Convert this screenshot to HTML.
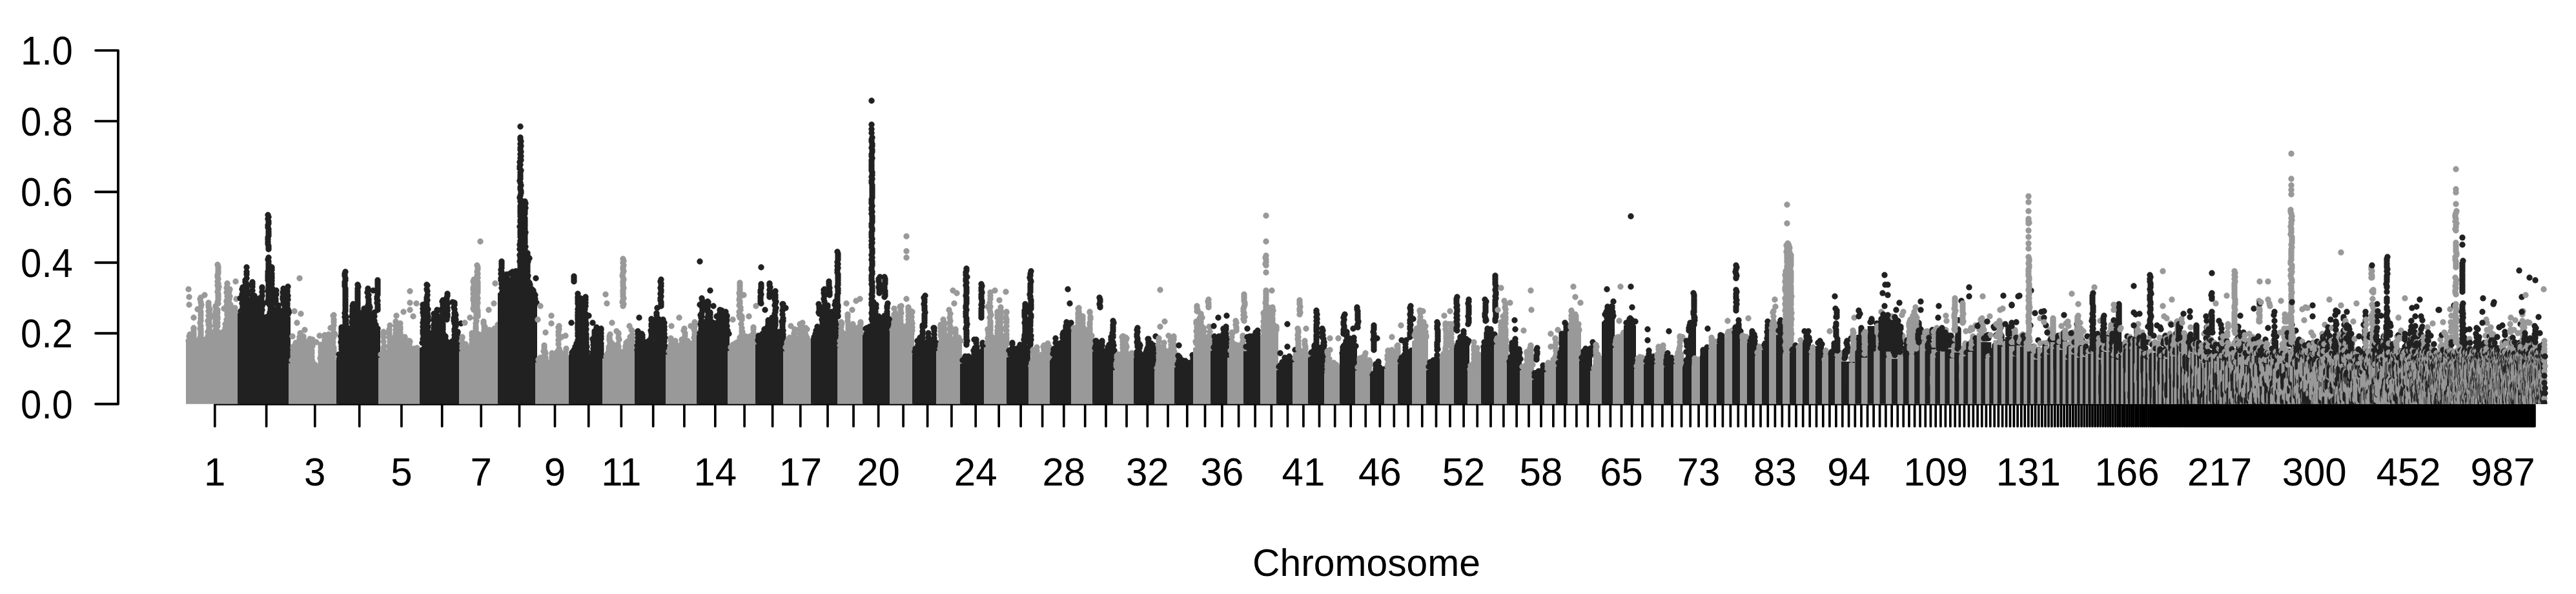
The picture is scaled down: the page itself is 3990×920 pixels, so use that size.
<!DOCTYPE html>
<html><head><meta charset="utf-8"><title>Manhattan plot</title>
<style>html,body{margin:0;padding:0;background:#fff;width:3990px;height:920px;overflow:hidden}svg{display:block}
text{font-family:"Liberation Sans",Arial,Helvetica,sans-serif;font-size:60px;fill:#000}</style></head>
<body><svg width="3990" height="920" viewBox="0 0 3990 920">
<rect width="3990" height="920" fill="#fff"/>
<defs><clipPath id="pc"><rect x="183" y="0" width="3807" height="625.8"/></clipPath></defs>
<path d="M332.8 625.8H3926" stroke="#000" stroke-width="4" fill="none"/>
<g stroke="#000" stroke-width="3.7" stroke-linecap="round" stroke-linejoin="round" fill="none"><path d="M332.8 625.8V660.2"/><path d="M412.6 625.8V660.2"/><path d="M487.8 625.8V660.2"/><path d="M556.7 625.8V660.2"/><path d="M621.9 625.8V660.2"/><path d="M684.7 625.8V660.2"/><path d="M745.2 625.8V660.2"/><path d="M804.5 625.8V660.2"/><path d="M859.5 625.8V660.2"/><path d="M911.7 625.8V660.2"/><path d="M962.3 625.8V660.2"/><path d="M1011.7 625.8V660.2"/><path d="M1059.9 625.8V660.2"/><path d="M1107.8 625.8V660.2"/><path d="M1153.1 625.8V660.2"/><path d="M1196.6 625.8V660.2"/><path d="M1239.8 625.8V660.2"/><path d="M1282 625.8V660.2"/><path d="M1322 625.8V660.2"/><path d="M1360.6 625.8V660.2"/><path d="M1399.1 625.8V660.2"/><path d="M1436.6 625.8V660.2"/><path d="M1473.9 625.8V660.2"/><path d="M1511.2 625.8V660.2"/><path d="M1547.2 625.8V660.2"/><path d="M1581.1 625.8V660.2"/><path d="M1614.6 625.8V660.2"/><path d="M1647.8 625.8V660.2"/><path d="M1680.7 625.8V660.2"/><path d="M1713 625.8V660.2"/><path d="M1745 625.8V660.2"/><path d="M1777.3 625.8V660.2"/><path d="M1809 625.8V660.2"/><path d="M1838.8 625.8V660.2"/><path d="M1866.5 625.8V660.2"/><path d="M1892.9 625.8V660.2"/><path d="M1918.6 625.8V660.2"/><path d="M1944.1 625.8V660.2"/><path d="M1969.3 625.8V660.2"/><path d="M1994.4 625.8V660.2"/><path d="M2018.9 625.8V660.2"/><path d="M2043.5 625.8V660.2"/><path d="M2067.7 625.8V660.2"/><path d="M2092.2 625.8V660.2"/><path d="M2115.2 625.8V660.2"/><path d="M2137.3 625.8V660.2"/><path d="M2159.3 625.8V660.2"/><path d="M2181.1 625.8V660.2"/><path d="M2202.8 625.8V660.2"/><path d="M2224.5 625.8V660.2"/><path d="M2246 625.8V660.2"/><path d="M2267.1 625.8V660.2"/><path d="M2288.2 625.8V660.2"/><path d="M2309 625.8V660.2"/><path d="M2328.9 625.8V660.2"/><path d="M2349.1 625.8V660.2"/><path d="M2368 625.8V660.2"/><path d="M2387 625.8V660.2"/><path d="M2405.9 625.8V660.2"/><path d="M2423.9 625.8V660.2"/><path d="M2441.9 625.8V660.2"/><path d="M2459.3 625.8V660.2"/><path d="M2477 625.8V660.2"/><path d="M2494.4 625.8V660.2"/><path d="M2511.5 625.8V660.2"/><path d="M2527.6 625.8V660.2"/><path d="M2543.8 625.8V660.2"/><path d="M2559.3 625.8V660.2"/><path d="M2574.9 625.8V660.2"/><path d="M2590 625.8V660.2"/><path d="M2604.5 625.8V660.2"/><path d="M2618.2 625.8V660.2"/><path d="M2631.1 625.8V660.2"/><path d="M2643.7 625.8V660.2"/><path d="M2656.2 625.8V660.2"/><path d="M2668.4 625.8V660.2"/><path d="M2680.4 625.8V660.2"/><path d="M2692.3 625.8V660.2"/><path d="M2704 625.8V660.2"/><path d="M2715.6 625.8V660.2"/><path d="M2727 625.8V660.2"/><path d="M2738.3 625.8V660.2"/><path d="M2749.4 625.8V660.2"/><path d="M2760.4 625.8V660.2"/><path d="M2771.3 625.8V660.2"/><path d="M2782 625.8V660.2"/><path d="M2792.7 625.8V660.2"/><path d="M2803.2 625.8V660.2"/><path d="M2813.5 625.8V660.2"/><path d="M2823.8 625.8V660.2"/><path d="M2833.9 625.8V660.2"/><path d="M2843.9 625.8V660.2"/><path d="M2853.8 625.8V660.2"/><path d="M2863.6 625.8V660.2"/><path d="M2873.3 625.8V660.2"/><path d="M2883 625.8V660.2"/><path d="M2892.6 625.8V660.2"/><path d="M2902.1 625.8V660.2"/><path d="M2911.6 625.8V660.2"/><path d="M2920.9 625.8V660.2"/><path d="M2930.2 625.8V660.2"/><path d="M2939.3 625.8V660.2"/><path d="M2948.2 625.8V660.2"/><path d="M2957 625.8V660.2"/><path d="M2965.6 625.8V660.2"/><path d="M2974.1 625.8V660.2"/><path d="M2982.3 625.8V660.2"/><path d="M2990.4 625.8V660.2"/><path d="M2998.2 625.8V660.2"/><path d="M3005.9 625.8V660.2"/><path d="M3013.4 625.8V660.2"/><path d="M3020.9 625.8V660.2"/><path d="M3028.2 625.8V660.2"/><path d="M3035.4 625.8V660.2"/><path d="M3042.5 625.8V660.2"/><path d="M3049.5 625.8V660.2"/><path d="M3056.4 625.8V660.2"/><path d="M3063.1 625.8V660.2"/><path d="M3069.8 625.8V660.2"/><path d="M3076.4 625.8V660.2"/><path d="M3082.8 625.8V660.2"/><path d="M3089.2 625.8V660.2"/><path d="M3095.4 625.8V660.2"/><path d="M3101.6 625.8V660.2"/><path d="M3107.6 625.8V660.2"/><path d="M3113.5 625.8V660.2"/><path d="M3119.4 625.8V660.2"/><path d="M3125.1 625.8V660.2"/><path d="M3130.8 625.8V660.2"/><path d="M3136.3 625.8V660.2"/><path d="M3141.8 625.8V660.2"/><path d="M3147.2 625.8V660.2"/><path d="M3152.5 625.8V660.2"/><path d="M3157.7 625.8V660.2"/><path d="M3162.9 625.8V660.2"/><path d="M3168 625.8V660.2"/><path d="M3173 625.8V660.2"/><path d="M3177.9 625.8V660.2"/><path d="M3182.8 625.8V660.2"/><path d="M3187.6 625.8V660.2"/><path d="M3192.4 625.8V660.2"/><path d="M3197.1 625.8V660.2"/><path d="M3201.8 625.8V660.2"/><path d="M3206.3 625.8V660.2"/><path d="M3210.9 625.8V660.2"/><path d="M3215.3 625.8V660.2"/><path d="M3219.7 625.8V660.2"/><path d="M3224.1 625.8V660.2"/><path d="M3228.4 625.8V660.2"/><path d="M3232.7 625.8V660.2"/><path d="M3236.9 625.8V660.2"/><path d="M3241 625.8V660.2"/><path d="M3245.1 625.8V660.2"/><path d="M3249.2 625.8V660.2"/><path d="M3253.2 625.8V660.2"/><path d="M3257.2 625.8V660.2"/><path d="M3261.1 625.8V660.2"/><path d="M3265 625.8V660.2"/><path d="M3268.8 625.8V660.2"/><path d="M3272.6 625.8V660.2"/><path d="M3276.4 625.8V660.2"/><path d="M3280.1 625.8V660.2"/><path d="M3283.7 625.8V660.2"/><path d="M3287.4 625.8V660.2"/><path d="M3290.9 625.8V660.2"/><path d="M3294.5 625.8V660.2"/><path d="M3298 625.8V660.2"/><path d="M3301.5 625.8V660.2"/><path d="M3304.9 625.8V660.2"/><path d="M3308.3 625.8V660.2"/><path d="M3311.7 625.8V660.2"/><path d="M3315.1 625.8V660.2"/><path d="M3318.4 625.8V660.2"/><path d="M3321.6 625.8V660.2"/><path d="M3324.9 625.8V660.2"/><path d="M3328.1 625.8V660.2"/><path d="M3331.3 625.8V660.2"/><path d="M3334.4 625.8V660.2"/><path d="M3337.5 625.8V660.2"/><path d="M3340.6 625.8V660.2"/><path d="M3343.7 625.8V660.2"/><path d="M3346.7 625.8V660.2"/><path d="M3349.7 625.8V660.2"/><path d="M3352.7 625.8V660.2"/><path d="M3355.7 625.8V660.2"/><path d="M3358.6 625.8V660.2"/><path d="M3361.5 625.8V660.2"/><path d="M3364.4 625.8V660.2"/><path d="M3367.2 625.8V660.2"/><path d="M3370 625.8V660.2"/><path d="M3372.8 625.8V660.2"/><path d="M3375.6 625.8V660.2"/><path d="M3378.4 625.8V660.2"/><path d="M3381.1 625.8V660.2"/><path d="M3383.8 625.8V660.2"/><path d="M3386.5 625.8V660.2"/><path d="M3389.1 625.8V660.2"/><path d="M3391.8 625.8V660.2"/><path d="M3394.4 625.8V660.2"/><path d="M3397 625.8V660.2"/><path d="M3399.6 625.8V660.2"/><path d="M3402.1 625.8V660.2"/><path d="M3404.6 625.8V660.2"/><path d="M3407.1 625.8V660.2"/><path d="M3409.6 625.8V660.2"/><path d="M3412.1 625.8V660.2"/><path d="M3414.6 625.8V660.2"/><path d="M3417 625.8V660.2"/><path d="M3419.4 625.8V660.2"/><path d="M3421.8 625.8V660.2"/><path d="M3424.2 625.8V660.2"/><path d="M3426.6 625.8V660.2"/><path d="M3428.9 625.8V660.2"/><path d="M3431.2 625.8V660.2"/><path d="M3433.5 625.8V660.2"/><path d="M3435.8 625.8V660.2"/><path d="M3438.1 625.8V660.2"/><path d="M3440.4 625.8V660.2"/><path d="M3442.6 625.8V660.2"/><path d="M3444.8 625.8V660.2"/><path d="M3447.1 625.8V660.2"/><path d="M3449.3 625.8V660.2"/><path d="M3451.5 625.8V660.2"/><path d="M3453.6 625.8V660.2"/><path d="M3455.8 625.8V660.2"/><path d="M3458 625.8V660.2"/><path d="M3460.1 625.8V660.2"/><path d="M3462.2 625.8V660.2"/><path d="M3464.3 625.8V660.2"/><path d="M3466.4 625.8V660.2"/><path d="M3468.5 625.8V660.2"/><path d="M3470.6 625.8V660.2"/><path d="M3472.6 625.8V660.2"/><path d="M3474.7 625.8V660.2"/><path d="M3476.7 625.8V660.2"/><path d="M3478.7 625.8V660.2"/><path d="M3480.8 625.8V660.2"/><path d="M3482.8 625.8V660.2"/><path d="M3484.7 625.8V660.2"/><path d="M3486.7 625.8V660.2"/><path d="M3488.7 625.8V660.2"/><path d="M3490.6 625.8V660.2"/><path d="M3492.6 625.8V660.2"/><path d="M3494.5 625.8V660.2"/><path d="M3496.4 625.8V660.2"/><path d="M3498.3 625.8V660.2"/><path d="M3500.2 625.8V660.2"/><path d="M3502 625.8V660.2"/><path d="M3503.9 625.8V660.2"/><path d="M3505.8 625.8V660.2"/><path d="M3507.6 625.8V660.2"/><path d="M3509.4 625.8V660.2"/><path d="M3511.2 625.8V660.2"/><path d="M3513.1 625.8V660.2"/><path d="M3514.8 625.8V660.2"/><path d="M3516.6 625.8V660.2"/><path d="M3518.4 625.8V660.2"/><path d="M3520.2 625.8V660.2"/><path d="M3521.9 625.8V660.2"/><path d="M3523.6 625.8V660.2"/><path d="M3525.4 625.8V660.2"/><path d="M3527.1 625.8V660.2"/><path d="M3528.8 625.8V660.2"/><path d="M3530.5 625.8V660.2"/><path d="M3532.2 625.8V660.2"/><path d="M3533.8 625.8V660.2"/><path d="M3535.5 625.8V660.2"/><path d="M3537.2 625.8V660.2"/><path d="M3538.8 625.8V660.2"/><path d="M3540.4 625.8V660.2"/><path d="M3542 625.8V660.2"/><path d="M3543.7 625.8V660.2"/><path d="M3545.2 625.8V660.2"/><path d="M3546.8 625.8V660.2"/><path d="M3548.4 625.8V660.2"/><path d="M3550 625.8V660.2"/><path d="M3551.5 625.8V660.2"/><path d="M3553.1 625.8V660.2"/><path d="M3554.6 625.8V660.2"/><path d="M3556.2 625.8V660.2"/><path d="M3557.7 625.8V660.2"/><path d="M3559.2 625.8V660.2"/><path d="M3560.7 625.8V660.2"/><path d="M3562.2 625.8V660.2"/><path d="M3563.6 625.8V660.2"/><path d="M3565.1 625.8V660.2"/><path d="M3566.6 625.8V660.2"/><path d="M3568 625.8V660.2"/><path d="M3569.5 625.8V660.2"/><path d="M3570.9 625.8V660.2"/><path d="M3572.3 625.8V660.2"/><path d="M3573.7 625.8V660.2"/><path d="M3575.1 625.8V660.2"/><path d="M3576.5 625.8V660.2"/><path d="M3577.9 625.8V660.2"/><path d="M3579.3 625.8V660.2"/><path d="M3580.7 625.8V660.2"/><path d="M3582 625.8V660.2"/><path d="M3583.4 625.8V660.2"/><path d="M3584.7 625.8V660.2"/><rect x="3582.8" y="625.8" width="345" height="36.2" rx="1.8" fill="#000" stroke="none"/></g>
<g clip-path="url(#pc)" stroke-width="9.4" stroke-linecap="round" fill="none">
<path d="M288 629 288 528 290 528 292 529 294 530 296 530 298 530 300 531 302 531 304 531 306 531 308 531 310 531 312 531 314 531 316 531 318 531 320 531 322 531 324 531 326 531 328 531 330 531 332 530 334 529 336 528 338 527 340 526 342 525 344 524 346 522 348 520 350 516 352 514 354 510 356 508 358 507 360 506 362 505 364 503 366 502 368 501 371 501 371 629Z" fill="#999999"/>
<path d="M292 528h0m2 2h0m4-3h0m3 2h0m1-2h0m3 1h0m3 1h0m2-2h0m4 4h0m2-4h0m4 6h0m1-4h0m2 1h0m4-1h0m1-4h0m3 0h0m3 2h0m2-2h0m4-3h0m2 1h0m3-3h0m3 2h0m1-11h0m4-3h0m3-4h0m1 7h0m3-8h0m3-3h0m2-3h0m3-3h0m-9 10h0m0-6h0m0-2h0m-3 9h0m-1-5h0m1-6h0m0-7h0m0-4h0m-1-6h0m0-5h0m0-3h0m0-6h0m1-4h0m-1-7h0m1-4h0m-21 78h0m-1-6h0m0-5h0m1-7h0m-1-3h0m0-4h0m0-5h0m-1-4h0m1-5h0m0-4h0m30 17h0m1-5h0m0-4h0m0-6h0m-1-6h0m0-2h0m-64 51h0m0-3h0m0-4h0m0-3h0m0-4h0m0-4h0m0-2h0m39 16h0m0-3h0m-18 7h0m-1-3h0m7 3h0m1-3h0m0-4h0m-1-4h0m1-2h0m5 12h0m0-3h0m-1 0h0m25-20h0m0-4h0m1-6h0m-1-6h0m1-4h0m0-3h0m-1 24h0m0-6h0m0-5h0m-1-3h0m1-4h0m1-6h0m0-5h0m-1-4h0m7 28h0m0-4h0m1-4h0m0-1h0m-9 14h0m-1-6h0m2-5h0m-1-2h0m-7 23h0m0-6h0m1-7h0m-1 0h0m-26 26h0m-1-4h0m1-3h0m-1-7h0m2-6h0m-1-5h0m-1-6h0m2-3h0m-1-5h0m0-7h0m0-7h0m0-3h0m0-3h0m-13 59h0m0-5h0m1-6h0m0-5h0m0-2h0m13 18h0m0-5h0m0-3h0m0-4h0m0-6h0m1-5h0m-1-5h0m0-5h0m0-6h0m0-6h0m1-4h0m-1-1h0m12 48h0m-1-5h0m0-5h0m0-6h0m0-5h0m0-7h0m0-1h0m29 4h0m0-6h0m-9 10h0m1-3h0m-58 26h0m0-6h0m53-11h0m1-6h0m0-4h0m-1-6h0m1-7h0m0-5h0m-1-6h0m1-5h0m-1-5h0m1-2h0m-5 53h0m0-1h0m-53 10h0m-1-6h0m1-3h0m58-8h0m-1-4h0m1-6h0m0-3h0m1-7h0m-1-4h0m0-7h0m-1-5h0m1-4h0m-1-4h0m1-7h0m-1-6h0m0-7h0m1-6h0m0-1h0m-18 87h0m0-4h0m0-3h0m0-4h0m0-4h0m1-4h0m-1-4h0m0-4h0m0-3h0m1-3h0m-1-5h0m1-5h0m0-4h0m-1-4h0m0-1h0m-11 54h0m-1-7h0m1-6h0m-1-1h0m1 14h0m0-4h0m0-5h0m-12 9h0m1-4h0m46-20h0m0-4h0m0-5h0m0-5h0m1-6h0m-1-2h0m-47 46h0m-1-4h0m1-5h0m0-5h0m-1-5h0m1-4h0m-1-5h0m1-3h0m0-4h0m0-5h0m0-5h0m0-7h0m1-4h0m-1-4h0m-1-5h0m1-2h0m49 42h0m-1-6h0m1-5h0m0-7h0m0-2h0m-23 42h0m-1-6h0m0-3h0m0-4h0m1-7h0m0-5h0m0-6h0m0-3h0m0-6h0m0-5h0m6 42h0m-1-1h0m-43 7h0m0-4h0m-1-3h0m32 7h0m0-6h0m0-4h0m11 5h0m0-2h0m8-5h0m-1-4h0m1-4h0m0 0h0m-5 14h0m0-5h0m0-2h0m17-12h0m-1-5h0m-23-88h0m1 3h0m0 3h0m0 4h0m0 3h0m-1 3h0m0 3h0m1 3h0m-1 4h0m1 3h0m-1 3h0m1 3h0m0 3h0m-1 4h0m1 3h0m0 3h0m0 3h0m0 3h0m-1 4h0m1 2h0m16-18h0m0 3h0m-1 3h0m0 4h0m1 3h0m0 3h0m-1 3h0m0 3h0m0 4h0m0 3h0m1 3h0m-1 3h0m1 3h0m-62-42h0m1 12h0m0 12h0m13 7h0m11-22h0m22-13h0m26-8h0m1 27h0m-66 29h0m26-4h0m21-10h0" stroke="#999999"/>
<path d="M368 629 368 485 370 485 372 485 374 484 376 484 378 484 380 484 382 483 384 483 386 487 388 494 390 501 392 508 394 508 396 509 398 509 400 510 402 510 404 511 406 509 408 504 410 500 412 495 414 494 416 494 418 493 420 493 422 492 424 491 426 491 428 490 430 489 432 488 434 487 436 487 438 486 440 485 442 487 444 488 446 490 450 491 450 629Z" fill="#212121"/>
<path d="M373 482h0m3-2h0m2 3h0m2-4h0m3 5h0m2-2h0m3 10h0m2 10h0m4 2h0m2 8h0m2-7h0m3 2h0m4 4h0m2-9h0m3 0h0m2-10h0m1-1h0m4-3h0m3 2h0m3 0h0m1-4h0m3 1h0m3 1h0m3-3h0m2-3h0m2 0h0m3 2h0m3 6h0m2 4h0m3-11h0m-66-3h0m1-4h0m-4 5h0m1-6h0m-1 0h0m24 33h0m0-5h0m0-3h0m0-3h0m-21-17h0m0-6h0m0-4h0m0-4h0m24 40h0m-1-6h0m1-4h0m0-6h0m-1-5h0m1-5h0m0-6h0m-1-7h0m0-4h0m1-5h0m0-6h0m0-6h0m0-1h0m8 46h0m0 0h0m27-8h0m0-4h0m0-5h0m-1-4h0m1-5h0m0-3h0m-52 33h0m0-4h0m1-7h0m-1-6h0m0-1h0m2 25h0m-1-5h0m1-5h0m0-4h0m1-6h0m-2-4h0m1-4h0m0-6h0m0-6h0m0-5h0m0-7h0m0-6h0m0-4h0m0-3h0m52 48h0m0-4h0m1-6h0m-1-3h0m0-1h0m1 15h0m1-3h0m-43 24h0m1-6h0m-1-6h0m1-4h0m-2-6h0m1-6h0m0-4h0m-1-4h0m1-4h0m0-5h0m-21 18h0m1-4h0m0-6h0m0-4h0m0-4h0m0-4h0m-1-6h0m1-5h0m-1-6h0m0-3h0m1-7h0m0-6h0m0-4h0m0-7h0m0 0h0m44 74h0m0-3h0m0-5h0m-7 10h0m1-4h0m0-7h0m-1-5h0m1-4h0m-1-7h0m1-6h0m0-7h0m0-5h0m0-4h0m-1-6h0m1-3h0m8 55h0m1-4h0m0-2h0m17 6h0m-1-4h0m1-4h0m-1-6h0m0-3h0m1-6h0m0-6h0m-1-6h0m0-6h0m1-2h0m-46 63h0m0-4h0m1-4h0m-1-5h0m1-5h0m-1-5h0m0-4h0m21 9h0m1-5h0m0-6h0m-1-3h0m0-4h0m0-7h0m0-6h0m0-7h0m1-4h0m-1-7h0m0-5h0m0-4h0m0-3h0m0-4h0m0-6h0m0-3h0m0-1h0m-35 71h0m1-6h0m-1-1h0m-6 3h0m0-6h0m1-4h0m-1 0h0m14 34h0m0-4h0m0-3h0m10 10h0m-1-5h0m0-6h0m1-3h0m0-4h0m0-5h0m-1-5h0m1-3h0m0-5h0m0-4h0m0 0h0m6 28h0m0-3h0m31-10h0m0-2h0m3 5h0m1-5h0m0 5h0m0-6h0m0-7h0m-27 17h0m0-6h0m1-5h0m-1-6h0m1-4h0m0-5h0m-1-4h0m1-5h0m20 27h0m0-1h0m-64 0h0m1-5h0m-1-6h0m1-4h0m0-5h0m-1-5h0m1-3h0m-1-5h0m1-3h0m54 41h0m0-5h0m1-4h0m0-3h0m0-1h0m-56 8h0m1-6h0m-1-5h0m1-5h0m0-4h0m8 19h0m-1-6h0m0-3h0m0-5h0m-1-7h0m1-6h0m0-3h0m-1-7h0m1-2h0m10 64h0m1-5h0m-1-4h0m0-5h0m0-3h0m1-3h0m0-6h0m0-4h0m-1-3h0m0-1h0m7 36h0m0-6h0m0-3h0m-1-6h0m0-6h0m1-7h0m0-4h0m-1-5h0m0-5h0m-23 16h0m1-6h0m0-5h0m-1-4h0m0-3h0m0-6h0m1-5h0m-1-3h0m0-2h0m-2 34h0m0 0h0m25 26h0m0-5h0m-11-12h0m0-3h0m-1-4h0m1-4h0m0-6h0m0-2h0m-8-37h0m0 3h0m1 3h0m0 4h0m-1 3h0m1 3h0m-1 3h0m1 3h0m0 4h0m-1 3h0m1 3h0m-1 3h0m1 3h0m-1 4h0m0 3h0m0 1h0m35-147h0m1 3h0m-1 3h0m1 4h0m0 3h0m-1 3h0m0 3h0m1 3h0m0 4h0m0 3h0m0 3h0m-1 3h0m0 3h0m0 4h0m0 3h0m1 3h0m0 3h0m0 2h0m0 13h0m-1 3h0m1 3h0m0 4h0m0 3h0m0 3h0m0 3h0m-1 3h0m0 4h0m0 3h0m0 3h0m0 3h0m1 3h0m0 4h0m0 3h0m0 3h0m-1 3h0m1 3h0m0 4h0m0 3h0m0 3h0m-1 3h0m1 3h0m0 1h0m12-20h0m-1 3h0m1 3h0m-2 4h0m1 3h0m0 3h0m0 3h0m0 1h0m12-23h0m0 3h0m-1 3h0m1 4h0m-1 3h0m0 3h0m1 3h0m0 3h0m0 1h0m-31 0h0m-14-12h0m-22 4h0m73-12h0" stroke="#212121"/>
<path d="M447 629 447 562 449 563 451 564 453 565 455 566 457 567 459 568 461 569 463 569 465 570 467 570 469 570 471 570 473 571 475 571 477 571 479 572 481 572 483 572 485 572 487 573 489 573 491 573 493 572 495 572 497 571 499 571 501 570 503 570 505 569 507 569 509 568 511 568 513 567 515 567 517 566 519 566 521 565 524 565 524 629Z" fill="#999999"/>
<path d="M452 558h0m2-1h0m4 6h0m1-2h0m4 3h0m1 2h0m4 6h0m1-2h0m3 2h0m3 0h0m2-3h0m4 0h0m2-1h0m2-2h0m3 1h0m3 6h0m3 1h0m3-3h0m2-2h0m1-1h0m3 1h0m4-7h0m3 2h0m1-1h0m2 1h0m3-3h0m3 3h0m2-2h0m-20 5h0m0-7h0m0-2h0m-7 11h0m1-1h0m11-2h0m-1-5h0m0-3h0m-47 7h0m0-3h0m1-6h0m-1-3h0m0-5h0m0-4h0m0-4h0m1-4h0m-1-4h0m0-1h0m28 38h0m0-2h0m21-1h0m-1-6h0m0-4h0m0-7h0m0-6h0m0-1h0m-36 25h0m0-4h0m0-4h0m0-5h0m0-6h0m0-5h0m0-3h0m0-6h0m0-4h0m0-6h0m0-3h0m13 48h0m0-4h0m1-5h0m-1-4h0m0-4h0m0-5h0m0-4h0m1-7h0m0-4h0m0-3h0m0-3h0m23 40h0m0-4h0m-1-4h0m0-4h0m1-5h0m0-5h0m0-5h0m-23 30h0m0-3h0m19 1h0m0-6h0m0-4h0m1-6h0m-1-6h0m0-7h0m0-5h0m0-5h0m0-3h0m0-6h0m0 0h0m-34 48h0m0-5h0m0-6h0m47 7h0m0-4h0m-37 9h0m0-3h0m0-3h0m0-7h0m9 15h0m0-2h0m14-1h0m-1-6h0m1-5h0m-1-3h0m-2 15h0m1-4h0m-1-4h0m0-2h0m-20 11h0m0-1h0m21-1h0m0-4h0m0-4h0m-11 11h0m-1-5h0m0 0h0m18 1h0m0-5h0m0-4h0m0-4h0m0-6h0m-1-5h0m0-6h0m1-3h0m-30 35h0m0-4h0m0-5h0m1-3h0m-1-4h0m0-4h0m0-5h0m0-6h0m1-6h0m-1-1h0m33 35h0m1-3h0m-2-6h0m2-3h0m-1-6h0m0-3h0m0-4h0m0-4h0m0-7h0m1-4h0m-1-5h0m0-2h0m5 46h0m0-4h0m0-5h0m0-5h0m-1-5h0m0-4h0m0-5h0m1-3h0m-52 33h0m0-5h0m0-3h0m0-5h0m0 0h0m48 12h0m-1-7h0m1-3h0m-14 14h0m0-1h0m21-5h0m-1-5h0m0-3h0m-62 8h0m1-5h0m-1-4h0m0-5h0m0-4h0m0-5h0m0-3h0m18 31h0m0-5h0m1-5h0m-1-6h0m0-4h0m0-5h0m0-5h0m0-3h0m0-3h0m17 38h0m0-1h0m-24-2h0m0-6h0m0-7h0m0-5h0m0-6h0m-1-6h0m1-5h0m-1-6h0m0-4h0m1-6h0m0 0h0m13 52h0m-1-5h0m0-4h0m0-4h0m1-6h0m-1-3h0m0-3h0m0-7h0m0-2h0m5 35h0m1 0h0m34-6h0m-1-5h0m0-5h0m0-4h0m1-3h0m0-3h0m0-4h0m-1-3h0m0-6h0m0-6h0m1-3h0m0-6h0m-1-6h0m1-5h0m0-5h0m0-4h0m-1-6h0m1-1h0m-21 80h0m1-4h0m0-4h0m-1-5h0m1-4h0m0-5h0m0-3h0m0-5h0m0-4h0m-16 35h0m0-7h0m0-3h0m-17-128h0m-8 51h0m10 4h0m-13 35h0m19-10h0m32 10h0m15-3h0m-39 7h0m10 5h0m-30-30h0m52 8h0m-17 12h0" stroke="#999999"/>
<path d="M521 629 521 554 523 551 525 547 527 544 529 541 531 538 533 537 535 536 537 534 539 533 541 532 543 530 545 529 547 528 549 527 551 526 553 525 555 524 557 523 559 522 561 521 563 520 565 519 567 518 569 517 571 516 573 515 575 514 577 514 579 513 581 513 583 513 585 512 589 512 589 629Z" fill="#212121"/>
<path d="M525 549h0m4-8h0m3-7h0m2 3h0m3-7h0m2-1h0m3-3h0m2 3h0m3-3h0m1-4h0m3-3h0m4 4h0m3 1h0m2-4h0m3-5h0m2 0h0m3-3h0m2-4h0m2 0h0m3 2h0m3 2h0m3-3h0m2-1h0m2 1h0m-14 4h0m0-3h0m0-7h0m1-5h0m-1-6h0m0-5h0m0-4h0m0-4h0m0-3h0m-11 42h0m-1-3h0m1-7h0m0-2h0m3 10h0m1-5h0m-1-5h0m2-3h0m-1-7h0m0-5h0m0-6h0m0-5h0m9 32h0m-2-4h0m1-3h0m-1-4h0m1-5h0m1-5h0m-2-6h0m1-6h0m1-3h0m-1-3h0m-12 45h0m0-6h0m-1-4h0m1-7h0m-1-4h0m1-3h0m-13 31h0m-1-6h0m1-7h0m1-5h0m-2-3h0m2-6h0m-1-6h0m0-5h0m0-4h0m-1-4h0m0-5h0m1-3h0m-13 62h0m0-6h0m1-3h0m0-4h0m0-6h0m-1-4h0m1-3h0m-1 0h0m29 9h0m1-6h0m-1-5h0m1-3h0m-35 35h0m1-3h0m-1-4h0m0-4h0m0-6h0m0-4h0m1-4h0m0-4h0m-1 0h0m50 2h0m0-5h0m0-4h0m1-4h0m0-7h0m-1-4h0m1-2h0m-51 53h0m-1-7h0m1-6h0m-1-3h0m1-7h0m0-3h0m0-4h0m9 23h0m1-4h0m-1-5h0m0-4h0m1-5h0m0-2h0m-1 21h0m0-7h0m0-3h0m0-6h0m0-6h0m0-1h0m8 18h0m-1-5h0m1-7h0m0-7h0m0-3h0m-1-5h0m1-4h0m0-3h0m0-5h0m0-4h0m0-1h0m32 28h0m0-4h0m0-3h0m0-2h0m-22 19h0m-1-5h0m0-7h0m0-3h0m1-1h0m18 7h0m1-1h0m-37 21h0m-1 0h0m20-12h0m1-6h0m-1-3h0m0-5h0m0-4h0m0-5h0m0-5h0m21 20h0m0-4h0m-42 25h0m-1-4h0m1-7h0m0-4h0m-1-6h0m0-4h0m1-5h0m0-6h0m0-5h0m41 20h0m0-2h0m5 1h0m0-6h0m0-1h0m-52 33h0m-1-3h0m1-7h0m0-3h0m34-7h0m-1-6h0m1-6h0m0-6h0m0-5h0m0-5h0m0-5h0m0-5h0m-21 49h0m0-3h0m0-5h0m14 1h0m-1-5h0m1-3h0m-24 22h0m0-5h0m1-3h0m0-1h0m29-8h0m0-4h0m0-5h0m-1-5h0m0-4h0m0-2h0m-5 23h0m-1-3h0m0-7h0m1-1h0m-1 11h0m0-4h0m-1-3h0m0 0h0m-3 9h0m0-1h0m-17-100h0m-1 3h0m0 3h0m1 4h0m0 3h0m-1 3h0m0 3h0m0 3h0m1 4h0m0 3h0m0 3h0m0 3h0m0 3h0m0 4h0m0 3h0m0 3h0m0 3h0m0 3h0m0 4h0m0 3h0m-1 3h0m1 3h0m-1 3h0m1 4h0m0 3h0m0 3h0m0 3h0m0 3h0m0 4h0m0 0h0m19-70h0m1 3h0m-1 3h0m0 4h0m0 3h0m0 3h0m0 3h0m0 3h0m0 4h0m0 3h0m0 3h0m0 3h0m0 3h0m1 4h0m-1 3h0m0 3h0m-1 3h0m1 3h0m-1 4h0m1 1h0m16-53h0m0 3h0m-1 3h0m2 4h0m-1 3h0m1 3h0m0 3h0m0 3h0m-1 4h0m0 3h0m1 3h0m-2 3h0m0 3h0m1 4h0m0 1h0m15-56h0m0 3h0m0 3h0m0 4h0m0 3h0m0 3h0m0 3h0m0 3h0m-1 4h0m0 3h0m1 3h0m-1 3h0m1 3h0m0 4h0m0 3h0m0 1h0m-7-30h0m-33 40h0m15-5h0" stroke="#212121"/>
<path d="M586 629 586 554 588 554 590 554 592 554 594 554 596 554 598 554 600 554 602 554 604 554 606 554 608 554 610 554 612 554 614 554 616 554 618 554 620 554 622 554 624 553 626 553 628 553 630 552 632 552 634 552 636 551 638 551 640 551 642 550 644 550 646 550 648 549 650 549 653 549 653 629Z" fill="#999999"/>
<path d="M590 549h0m3 4h0m3 3h0m2-9h0m3-2h0m2 0h0m3 7h0m3-2h0m3 2h0m1-4h0m4 1h0m3-2h0m3 2h0m1 2h0m3-3h0m2 1h0m4-2h0m3 0h0m2 4h0m3-3h0m1-1h0m3 0h0m4-4h0m1 1h0m-30 7h0m0-6h0m0-7h0m0 0h0m-22 13h0m0-3h0m-1 3h0m0-3h0m29 2h0m1-3h0m0-5h0m0-4h0m-1-4h0m1-7h0m0-4h0m0-1h0m-33 29h0m0-7h0m0-5h0m1-3h0m-1-7h0m0-7h0m0-4h0m0-4h0m26 37h0m0-5h0m0-3h0m0-7h0m0-6h0m0-4h0m1-4h0m-1-4h0m0-3h0m0-5h0m0-3h0m0-6h0m-9 50h0m0-4h0m1-1h0m18 3h0m0-6h0m0-1h0m10 6h0m0-3h0m-2 3h0m0-3h0m-25 6h0m0-7h0m0-4h0m0-3h0m1-4h0m-1-6h0m0-4h0m1-3h0m-1-4h0m0-5h0m0-6h0m0-6h0m0-1h0m0 53h0m1-1h0m-5 1h0m1-5h0m-1-5h0m0-4h0m0-3h0m1-1h0m-2 18h0m0-6h0m-1-3h0m-9 9h0m1-5h0m31 3h0m0-5h0m0-2h0m11 6h0m-1-4h0m1-4h0m-7 9h0m0-4h0m0-3h0m0-5h0m0-4h0m1-4h0m-1-1h0m-1 21h0m0-5h0m-21 7h0m-1 0h0m-3 0h0m0-1h0m-15 1h0m1-5h0m10 5h0m-1-3h0m1-5h0m-1-6h0m1-4h0m0-4h0m-1-6h0m0-6h0m0-5h0m0-2h0m14 41h0m-1-4h0m0-3h0m0-5h0m-9 12h0m-1-6h0m0-4h0m0-3h0m9 13h0m0-4h0m0 0h0m-10 4h0m0-5h0m41 1h0m0-7h0m0-1h0m-35 12h0m-1-6h0m1-6h0m0-5h0m-1-6h0m0-4h0m0-1h0m-16 28h0m0-5h0m23 5h0m0-2h0m-5 2h0m1-3h0m-1 0h0m-8-44h0m10-15h0m21-38h0m0 18h0m0 11h0m-10 3h0m15 7h0m-45 25h0m50-45h0" stroke="#999999"/>
<path d="M650 629 650 539 652 538 654 536 656 535 658 534 660 532 662 531 664 530 666 529 668 530 670 530 672 530 674 531 676 531 678 532 680 532 682 532 684 533 686 533 688 534 690 534 692 534 694 535 696 535 698 536 700 536 702 537 704 537 706 538 708 538 710 539 714 539 714 629Z" fill="#212121"/>
<path d="M654 531h0m3-7h0m2 3h0m3 1h0m3 4h0m3-5h0m3 3h0m1-4h0m3 2h0m4 1h0m2 0h0m3 2h0m3 1h0m2-2h0m3 1h0m1-1h0m4 1h0m2 4h0m2 0h0m2-2h0m4-1h0m3 0h0m3 7h0m-30-9h0m0-4h0m-24 4h0m1-5h0m-1-3h0m0-5h0m0-6h0m1-6h0m-1-2h0m20 26h0m0-5h0m0-3h0m1 8h0m-1-7h0m0-4h0m0-5h0m0-4h0m0-4h0m0-2h0m28 32h0m-1-7h0m-1-6h0m1-6h0m0-4h0m0-7h0m0-6h0m0-4h0m-1-3h0m1-4h0m-26 41h0m0-2h0m7 3h0m0-5h0m0-3h0m0-4h0m-1 12h0m0-3h0m-26 2h0m0-5h0m0-4h0m0-3h0m0-5h0m-1 18h0m1-5h0m0-5h0m-1-2h0m2 11h0m1-4h0m-1-4h0m0-7h0m0-6h0m0-6h0m0-4h0m0-3h0m0-4h0m0-6h0m0-7h0m0-6h0m1-7h0m-1-4h0m1-4h0m0-6h0m-1-3h0m1-6h0m-1-1h0m-4 90h0m1-5h0m0-3h0m-1-6h0m0-4h0m0-3h0m30 20h0m0-2h0m13 5h0m0-4h0m0 0h0m-37-2h0m0-5h0m-1-7h0m0-4h0m1-5h0m-1-7h0m1-3h0m0-6h0m-1-5h0m1-6h0m14 49h0m0-3h0m0-4h0m-1-5h0m1-4h0m0-5h0m0-4h0m0-3h0m-1-5h0m2-4h0m-2-4h0m1-5h0m0-2h0m6 50h0m0-6h0m0-2h0m-26 10h0m0-7h0m0-5h0m-1-5h0m1-3h0m47 22h0m0-4h0m0-6h0m0-5h0m0-6h0m0-3h0m1-4h0m-1-5h0m-1-4h0m0-4h0m1-3h0m0-5h0m0-6h0m-1-3h0m1-4h0m0-3h0m-18 61h0m0-7h0m-1-3h0m1-5h0m0-5h0m0-4h0m0-4h0m-1-6h0m0-4h0m0-4h0m0-6h0m0-4h0m1-6h0m-1-5h0m1-2h0m22 71h0m1-7h0m-1-4h0m1-4h0m0-6h0m0-1h0m-42 12h0m0-5h0m0-4h0m7 11h0m0-2h0m16 5h0m0-5h0m0-5h0m-34 11h0m-1-7h0m1-5h0m-1-4h0m0-4h0m0-6h0m0-6h0m1-5h0m0-6h0m-1-5h0m0-6h0m1-6h0m-1 0h0m18 55h0m-1-4h0m1-5h0m-2-4h0m1-5h0m0-6h0m0-7h0m0-3h0m-13 36h0m1 0h0m23 1h0m0-7h0m0-4h0m1-6h0m-1-2h0m-27 21h0m0-7h0m0-6h0m0-6h0m1-4h0m0-4h0m0-3h0m0-4h0m-1-1h0m31 33h0m0-6h0m-1-4h0m0-2h0m-25-57h0m0 3h0m0 3h0m0 4h0m0 3h0m0 3h0m1 3h0m-1 3h0m0 4h0m-1 3h0m2 3h0m0 3h0m-1 3h0m0 1h0m32-45h0m0 3h0m-1 3h0m0 4h0m0 3h0m1 3h0m-1 3h0m1 3h0m0 4h0m-1 3h0m1 3h0m0 3h0m-1 3h0m0 2h0m9-27h0m13 33h0m-42-15h0m11-6h0m22 5h0" stroke="#212121"/>
<path d="M711 629 711 544 713 544 715 543 717 543 719 543 721 542 723 542 725 542 727 541 729 541 731 541 733 540 735 540 737 540 739 539 741 539 743 538 745 537 747 537 749 536 751 535 753 535 755 534 757 534 759 533 761 532 763 532 765 531 767 530 769 530 771 529 774 529 774 629Z" fill="#999999"/>
<path d="M716 539h0m2 2h0m2-7h0m4 7h0m1-3h0m3 0h0m4-1h0m1 0h0m3-2h0m3 3h0m4-1h0m2 3h0m1-11h0m3 5h0m2-6h0m4 4h0m2 1h0m2-1h0m4-3h0m1-2h0m4 0h0m2-1h0m3-1h0m-30 10h0m0-2h0m23-6h0m1-5h0m-3 6h0m0-4h0m0-3h0m0-5h0m0-5h0m1 0h0m-11 21h0m0-6h0m0-7h0m0-2h0m-16 19h0m0-5h0m-1 5h0m1-3h0m-1-3h0m12 3h0m0-5h0m0-4h0m1-4h0m0-6h0m0-3h0m0-5h0m-1-5h0m0-3h0m-33 42h0m0-5h0m-1-7h0m1-5h0m0-1h0m39 9h0m0-5h0m0-2h0m-5 9h0m0-6h0m0-5h0m-8 13h0m-1-5h0m1-3h0m0-5h0m0-4h0m18 11h0m1-3h0m-19 10h0m0-7h0m-1-3h0m0-4h0m19 7h0m1-1h0m-39 11h0m-1-5h0m0-1h0m17 3h0m0-4h0m0-7h0m0-3h0m0-5h0m-1-4h0m0-4h0m0-3h0m0-5h0m1-4h0m-1-4h0m1-4h0m0-3h0m12 46h0m1-4h0m0-6h0m0-3h0m0-4h0m0-4h0m0-5h0m9 23h0m1-5h0m0 0h0m8 3h0m0-6h0m1-3h0m-1-5h0m0-3h0m-4 18h0m0-6h0m1-4h0m0-5h0m0-4h0m-26 27h0m0-6h0m0-3h0m-2 9h0m0 0h0m20-6h0m0-4h0m0-6h0m1-3h0m-1-6h0m0 0h0m-4 20h0m1-6h0m0-3h0m16 4h0m0-4h0m-1-5h0m1-7h0m0-4h0m0-3h0m-8 26h0m0-5h0m1-4h0m-1-2h0m0 11h0m0-4h0m0 0h0m-22 11h0m1-5h0m0-4h0m-1 0h0m-22 13h0m0-5h0m0 0h0m12 3h0m0-6h0m0-6h0m0-6h0m0-4h0m8-105h0m1 3h0m0 3h0m-1 4h0m1 3h0m-1 3h0m1 3h0m-1 3h0m1 4h0m0 3h0m0 3h0m0 3h0m0 3h0m0 4h0m-1 3h0m0 3h0m1 3h0m-1 3h0m1 4h0m-1 3h0m0 3h0m0 3h0m1 3h0m0 4h0m0 3h0m0 2h0m-6-57h0m-1 3h0m1 3h0m0 4h0m-1 3h0m0 3h0m1 3h0m-1 3h0m1 4h0m-1 3h0m0 3h0m1 3h0m0 3h0m0 4h0m-1 3h0m1 2h0m10-106h0m13 106h0m10-41h0m-47 61h0m8-8h0m37-22h0" stroke="#999999"/>
<path d="M771 629 771 454 773 453 775 452 777 451 779 450 781 449 783 448 785 447 787 446 789 445 791 445 793 444 795 443 797 442 799 441 801 441 803 441 805 441 807 441 809 441 811 441 813 441 815 441 817 445 819 450 821 454 823 458 825 462 827 467 829 471 832 471 832 629Z" fill="#212121"/>
<path d="M777 446h0m1 6h0m3-3h0m2-5h0m3-2h0m3-1h0m1-3h0m4 3h0m3 2h0m1-2h0m5 3h0m1-6h0m2-2h0m3 5h0m4-1h0m2 0h0m2 2h0m2 6h0m3 10h0m3-1h0m4 12h0m2 0h0m-37-29h0m0-3h0m0-5h0m0-6h0m0-5h0m-2 20h0m0 0h0m13-3h0m-1-5h0m1-5h0m0 0h0m-22 17h0m0-4h0m0-2h0m2 5h0m0-6h0m-1-5h0m1-4h0m0-3h0m0-1h0m-4 21h0m1-5h0m20-3h0m1-3h0m-17 8h0m1-1h0m15-4h0m0-7h0m1-6h0m-1-2h0m-15 20h0m0-4h0m1-5h0m0 0h0m35 21h0m0 0h0m-15-17h0m-1-3h0m1-6h0m-1-1h0m2 10h0m0-4h0m0-4h0m16 29h0m0 0h0m-28-20h0m0-1h0m15 0h0m0-1h0m-26 6h0m0-1h0m43 26h0m0-5h0m0-6h0m-14-17h0m1-6h0m0-1h0m-36 13h0m1-3h0m0-5h0m35 1h0m-1-1h0m9 19h0m0-6h0m0-3h0m-4 0h0m0-4h0m0-5h0m0-1h0m7 26h0m0-6h0m0-4h0m0 0h0m-25-16h0m0-6h0m0-6h0m0-4h0m24 39h0m0-3h0m0-6h0m0-2h0m-6-1h0m0-5h0m1-3h0m-1-2h0m-12-1h0m0-4h0m0 0h0m0 4h0m1-2h0m-32-31h0m0 3h0m0 3h0m0 4h0m-1 3h0m1 3h0m-1 3h0m1 3h0m-1 4h0m0 3h0m2 3h0m-1 3h0m29-227h0m0 3h0m1 3h0m-1 4h0m1 3h0m-1 3h0m0 3h0m1 3h0m-1 4h0m1 3h0m-1 3h0m1 3h0m-2 3h0m1 4h0m-1 3h0m0 3h0m2 3h0m-1 3h0m0 4h0m0 3h0m0 3h0m-1 3h0m1 3h0m1 4h0m-1 3h0m0 3h0m1 3h0m0 3h0m-1 4h0m-1 3h0m1 3h0m0 3h0m1 3h0m-1 4h0m0 3h0m0 3h0m0 3h0m0 3h0m0 4h0m1 3h0m-1 3h0m0 3h0m1 3h0m-2 4h0m2 3h0m-1 3h0m0 3h0m0 3h0m0 4h0m1 3h0m-1 3h0m0 3h0m-1 3h0m1 4h0m-1 3h0m2 3h0m0 3h0m-2 3h0m1 4h0m0 3h0m-1 3h0m1 3h0m0 3h0m0 4h0m0 3h0m0 3h0m0 3h0m0 3h0m0 4h0m0 2h0m4-121h0m-1 3h0m0 3h0m0 4h0m0 3h0m1 3h0m-1 3h0m0 3h0m0 4h0m-1 3h0m1 3h0m1 3h0m-1 3h0m0 4h0m-1 3h0m1 3h0m1 3h0m-2 3h0m1 4h0m-1 3h0m1 3h0m-1 3h0m1 3h0m0 4h0m1 3h0m0 3h0m-2 3h0m1 3h0m1 4h0m-1 3h0m0 3h0m0 3h0m-1 3h0m1 4h0m0 3h0m0 3h0m1 3h0m-1 3h0m0 3h0m4-121h0m1 3h0m-1 3h0m1 4h0m-1 3h0m0 3h0m0 3h0m-1 3h0m1 4h0m0 3h0m0 3h0m0 3h0m0 3h0m0 4h0m0 3h0m1 3h0m-1 3h0m0 3h0m0 4h0m0 3h0m0 3h0m-1 3h0m2 3h0m-1 4h0m0 3h0m1 3h0m-1 3h0m0 3h0m-1 4h0m1 3h0m0 3h0m0 3h0m0 3h0m0 4h0m-1 3h0m1 3h0m0 3h0m1 3h0m-1 3h0m4-41h0m0 3h0m0 3h0m0 4h0m1 3h0m-1 3h0m0 3h0m0 3h0m0 4h0m0 3h0m-1 3h0m2 3h0m-1 3h0m0 3h0m-11-237h0m-15 227h0m39 8h0m-10-31h0m-8-20h0m-13 40h0" stroke="#212121"/>
<path d="M829 629 829 561 831 562 833 562 835 563 837 563 839 564 841 565 843 565 845 566 847 567 849 567 851 568 853 568 855 569 857 569 859 569 861 569 863 569 865 569 867 569 869 569 871 569 873 569 875 569 877 569 879 569 881 569 884 569 884 629Z" fill="#999999"/>
<path d="M834 557h0m2-1h0m3 7h0m3 0h0m3-2h0m2 0h0m2 3h0m3 6h0m3-2h0m3 1h0m2 1h0m3-7h0m3 0h0m1-1h0m4 3h0m1-2h0m2-1h0m3 1h0m3 3h0m-14 0h0m0-4h0m0-4h0m-1-4h0m0-6h0m0-4h0m1-4h0m-1-7h0m0-6h0m1-4h0m-1-4h0m0-5h0m0-7h0m1-2h0m5 61h0m0-6h0m1-5h0m0-2h0m-8 13h0m0-5h0m-1-5h0m1-6h0m-1-5h0m17 21h0m-1-3h0m0-4h0m-24 7h0m0-5h0m0-4h0m0-4h0m0-6h0m0 0h0m-12 15h0m0-4h0m1-6h0m0-6h0m-1-4h0m24 24h0m0-4h0m1-6h0m0-6h0m-1-4h0m1-1h0m12 21h0m0-4h0m1-2h0m-10 6h0m0-3h0m1-7h0m0 0h0m5 10h0m-1-6h0m1-4h0m-1-5h0m0-4h0m1-6h0m0-1h0m3 26h0m1-5h0m-1-5h0m-40 5h0m0 0h0m12 4h0m0 0h0m4 1h0m0-1h0m-19-5h0m0-6h0m19 12h0m1-4h0m-1-5h0m0-5h0m1-3h0m-2 17h0m0-6h0m1-3h0m-1-3h0m0-3h0m10 15h0m1-6h0m-1-4h0m1-7h0m-1-3h0m1-1h0m-21 18h0m0-7h0m0-2h0m-9 6h0m0-2h0m-1 2h0m1-1h0m9 4h0m0-6h0m-1-4h0m0-3h0m1-3h0m-1-3h0m-2 18h0m0-5h0m1-6h0m-1-7h0m1-6h0m0-3h0m15 31h0m-1-6h0m1-3h0m-1-5h0m0-2h0m12 16h0m0 0h0m-13 0h0m-1-2h0m-1-75h0m0 12h0m-17-27h0m33 48h0m-4-12h0m-21 5h0m31 5h0m-43-25h0" stroke="#999999"/>
<path d="M881 629 881 549 883 548 885 548 887 547 889 547 891 546 893 546 895 545 897 545 899 544 901 545 903 547 905 549 907 551 909 553 911 555 913 557 915 559 917 560 919 561 921 561 923 562 925 563 927 564 929 564 931 565 933 566 936 566 936 629Z" fill="#212121"/>
<path d="M886 546h0m2 1h0m3-4h0m2-1h0m4-5h0m1 3h0m4 4h0m1-5h0m4 4h0m1 8h0m4 2h0m2 0h0m3 3h0m3-2h0m3 0h0m2 10h0m3-6h0m1 2h0m3-2h0m-4 3h0m-1-5h0m-8 2h0m0-5h0m0-2h0m-12-3h0m0-7h0m0-6h0m-1-6h0m1-4h0m-1-4h0m1-6h0m0-4h0m0-6h0m0-7h0m0-3h0m0-4h0m0-5h0m-1-7h0m1-5h0m0-5h0m0-5h0m0-4h0m24 102h0m0-2h0m-3 1h0m1 0h0m3 2h0m1-5h0m-14-1h0m-1-4h0m1-3h0m-1-4h0m1-6h0m0-6h0m0-5h0m-1-4h0m-30 19h0m1-2h0m3 1h0m0-3h0m27 17h0m-1-3h0m0-4h0m-13-4h0m-1-6h0m1-7h0m-1-6h0m1-6h0m0-2h0m18 40h0m0-3h0m0-6h0m1-6h0m-1-6h0m0-3h0m1-2h0m-20 12h0m-1-4h0m1-3h0m0-4h0m0-4h0m0-4h0m0-4h0m0-2h0m-13 23h0m0-4h0m0-2h0m5 5h0m0-5h0m0 0h0m11 12h0m1-6h0m-1-4h0m0-4h0m1-5h0m-1-4h0m1-4h0m0-4h0m-1-4h0m1-4h0m0-7h0m0-2h0m-12 41h0m1-6h0m-1-7h0m0-7h0m0-4h0m0-6h0m0-2h0m2 31h0m0-5h0m0-5h0m0-4h0m0-5h0m0-6h0m0-4h0m0-6h0m0-3h0m0-6h0m0-4h0m0-5h0m1-4h0m-1-3h0m23 77h0m-1-6h0m1-4h0m-1-7h0m0-4h0m0-5h0m1-3h0m0-6h0m0-4h0m0-3h0m0-3h0m-12 36h0m0-5h0m-1-5h0m0-6h0m-13 9h0m1-4h0m-1-4h0m0-4h0m0-3h0m1-4h0m-1-3h0m0-4h0m1-5h0m-1-4h0m1-3h0m-1-4h0m0-5h0m0-7h0m0-4h0m0-5h0m1-5h0m0-5h0m-1-7h0m0-7h0m0 0h0m33 106h0m1-2h0m-29-18h0m-1-5h0m1-6h0m-1-6h0m0-3h0m0-6h0m1-6h0m-1-7h0m1-3h0m-1-5h0m0-6h0m0-4h0m1-5h0m0-3h0m-1-6h0m1-6h0m-1-2h0m9 87h0m0-5h0m1-7h0m-1-4h0m0-7h0m0-3h0m23 39h0m0-6h0m1-5h0m-1-4h0m0-4h0m0-3h0m0-4h0m0-4h0m0-7h0m0-4h0m0-5h0m0-5h0m0-2h0m-37 34h0m0-6h0m-1-5h0m-4-104h0m0 3h0m0 3h0m0 2h0m6 24h0m1 3h0m-1 3h0m0 4h0m1 3h0m0 3h0m0 3h0m0 3h0m0 4h0m-1 3h0m0 3h0m1 3h0m0 3h0m-1 4h0m0 3h0m0 3h0m0 3h0m1 3h0m0 2h0m28-9h0m1 3h0m0 3h0m0 4h0m1 3h0m-2 3h0m0 3h0m2 3h0m-1 1h0m-13-41h0m6 11h0m-33 0h0" stroke="#212121"/>
<path d="M933 629 933 555 935 555 937 554 939 554 941 554 943 553 945 553 947 552 949 552 951 552 953 551 955 551 957 551 959 550 961 550 963 550 965 550 967 550 969 550 971 550 973 550 975 550 977 550 979 550 981 550 983 550 986 550 986 629Z" fill="#999999"/>
<path d="M939 552h0m1 0h0m3-4h0m2 3h0m2-1h0m3-1h0m4-1h0m2-2h0m3 0h0m1 3h0m5-3h0m1 1h0m3-3h0m2 6h0m4-3h0m2-1h0m2 0h0m3-3h0m2 7h0m-21-3h0m0-2h0m-21 5h0m0-4h0m1-5h0m0-3h0m27 9h0m1-3h0m-1 3h0m-1-4h0m0-5h0m0-2h0m-21 13h0m1-6h0m-1-6h0m0-4h0m0-1h0m17 15h0m0-1h0m-20 4h0m-1-5h0m1-3h0m-1-6h0m1-5h0m-1-7h0m0-3h0m1-3h0m4 31h0m0-4h0m1-6h0m-1-3h0m10 11h0m-2-5h0m1-5h0m-1-4h0m2-7h0m-1-3h0m0-6h0m0-1h0m14 31h0m0-3h0m0-4h0m-1-3h0m0-6h0m1-2h0m-31 22h0m0-3h0m5 2h0m-1-3h0m8 1h0m0-1h0m-10 3h0m0-3h0m36 0h0m-1-5h0m1-3h0m-9 8h0m1-4h0m0-3h0m-1-5h0m0-4h0m0 0h0m-26 19h0m1-4h0m-1-4h0m1-5h0m0-6h0m0-3h0m-1-1h0m34 20h0m1-6h0m-1-4h0m0-5h0m0-4h0m1-4h0m0-5h0m0-7h0m-1-1h0m2 36h0m0-6h0m-1-6h0m0-6h0m0-2h0m-35 23h0m0-6h0m0-3h0m32 6h0m0-7h0m0-5h0m1-4h0m-1-5h0m1-4h0m-1 0h0m1 25h0m0-3h0m-35 6h0m0-4h0m5 3h0m1-1h0m-1 1h0m0-6h0m0-1h0m18-141h0m1 3h0m-1 3h0m1 4h0m-1 3h0m0 3h0m1 3h0m-1 3h0m-1 4h0m1 3h0m1 3h0m-1 3h0m0 3h0m0 4h0m1 3h0m-1 3h0m0 3h0m0 3h0m0 4h0m1 3h0m-1 3h0m-1 3h0m2 3h0m-1 3h0m-27-18h0m2 14h0m15 43h0m20-8h0m-27-5h0" stroke="#999999"/>
<path d="M983 629 983 542 985 542 987 543 989 543 991 543 993 544 995 544 997 544 999 545 1001 545 1003 545 1005 545 1007 545 1009 546 1011 546 1013 546 1015 546 1017 546 1019 546 1021 546 1023 546 1025 547 1027 547 1029 547 1031 547 1034 547 1034 629Z" fill="#212121"/>
<path d="M987 542h0m3-5h0m3 5h0m2-5h0m4 4h0m1 2h0m4 3h0m1 2h0m3-11h0m3 4h0m2-4h0m3 4h0m2 6h0m4-7h0m1 4h0m5 3h0m2-3h0m1 3h0m-11-4h0m0-6h0m1-3h0m0-7h0m0-7h0m0-7h0m0-3h0m0 0h0m-15 32h0m0-4h0m0-5h0m-1-3h0m1-3h0m12 16h0m1-4h0m0-4h0m-1-6h0m1-5h0m0-4h0m-1 23h0m1-6h0m0-3h0m-1-5h0m1-3h0m0-3h0m-25 18h0m0-7h0m0-3h0m4 11h0m0-4h0m16 5h0m0-4h0m0-2h0m-13 5h0m0-5h0m0-7h0m8 13h0m0-4h0m-1-4h0m1-3h0m0-7h0m0-4h0m0-5h0m-1-4h0m1-7h0m0-3h0m0-6h0m0-2h0m18 50h0m1-4h0m0-5h0m-9 8h0m1-4h0m0-6h0m-1-6h0m1-7h0m-1-4h0m1-4h0m-1-6h0m0-4h0m0-5h0m1-3h0m-17 48h0m0-5h0m0-5h0m0-2h0m19 13h0m0-4h0m0-1h0m-11 5h0m0-6h0m-17 4h0m0-4h0m0-6h0m0-4h0m1-4h0m0-1h0m32 22h0m0-7h0m0-7h0m0-3h0m0-7h0m1-3h0m-1-6h0m-1-7h0m1-3h0m0-3h0m0-3h0m-35 46h0m1-3h0m24 5h0m0-7h0m-1-4h0m1-4h0m0-7h0m-1-4h0m1-4h0m-1-6h0m1-5h0m0-3h0m0-6h0m0-5h0m0-3h0m-14 57h0m0-6h0m-1-2h0m-8 7h0m0-3h0m-6 2h0m-1-5h0m1-6h0m0-6h0m0-6h0m0-4h0m41 31h0m0-4h0m1-4h0m-1-7h0m1-6h0m-1-6h0m0-6h0m0-5h0m0-6h0m-20 43h0m0-4h0m0-2h0m-15 4h0m0-7h0m1-4h0m0-4h0m-1-3h0m1-4h0m-1-2h0m30-84h0m-1 3h0m1 3h0m0 4h0m-1 3h0m1 3h0m0 3h0m-1 3h0m1 4h0m-1 3h0m0 3h0m1 3h0m0 3h0m0 3h0m-13 24h0m0 3h0m0 3h0m0 4h0m0 2h0m7-33h0m-28 15h0" stroke="#212121"/>
<path d="M1031 629 1031 549 1033 549 1035 549 1037 549 1039 549 1041 549 1043 548 1045 548 1047 548 1049 548 1051 548 1053 548 1055 548 1057 548 1059 548 1061 548 1063 548 1065 548 1067 548 1069 547 1071 547 1073 547 1075 547 1077 547 1079 547 1082 547 1082 629Z" fill="#999999"/>
<path d="M1036 544h0m2 3h0m4-3h0m1 5h0m2-1h0m4 4h0m2-4h0m3-1h0m2 1h0m3-3h0m3-1h0m1 4h0m3-8h0m3 0h0m4 5h0m1 1h0m3-3h0m4 2h0m-24 0h0m0-5h0m-1 5h0m0-7h0m0-6h0m0-6h0m13 18h0m0-6h0m1-3h0m-1-3h0m-4 13h0m1-5h0m0-7h0m-1-4h0m0-1h0m-12 17h0m0-2h0m4 2h0m0-4h0m11 3h0m1-6h0m0-4h0m9 10h0m0-2h0m-26 3h0m0-3h0m0-4h0m0-2h0m8 9h0m1-5h0m-1-5h0m0-7h0m0-4h0m1-4h0m0-4h0m-2-4h0m1-3h0m-16 36h0m1-6h0m0-2h0m31 7h0m-1-6h0m1-3h0m0-7h0m-1-5h0m1-5h0m0-5h0m-1-3h0m1-4h0m0-3h0m0-4h0m-2 45h0m0-7h0m0-1h0m-35 10h0m0-4h0m-1-4h0m1-4h0m0-7h0m0-3h0m23 21h0m1-6h0m0-5h0m0-2h0m-22 14h0m1-3h0m28 1h0m0-2h0m-10 3h0m-1-3h0m1-4h0m-14 7h0m0-6h0m0-3h0m0-5h0m0-3h0m0 17h0m-1-4h0m0-7h0m0-2h0m-7 14h0m1-1h0m25 0h0m0-5h0m0-2h0m-22 8h0m0-5h0m24 4h0m0-4h0m0-3h0m-14-46h0m-12 13h0m30 0h0" stroke="#999999"/>
<path d="M1079 629 1079 519 1081 519 1083 518 1085 518 1087 517 1089 517 1091 516 1093 516 1095 515 1097 515 1099 514 1101 514 1103 515 1105 515 1107 515 1109 516 1111 516 1113 516 1115 517 1117 517 1119 518 1121 518 1123 518 1125 519 1127 519 1130 519 1130 629Z" fill="#212121"/>
<path d="M1084 516h0m2-2h0m3-1h0m2 3h0m4-1h0m2-1h0m2 0h0m3 2h0m2-1h0m3-4h0m2 3h0m4 2h0m1-2h0m4 1h0m2 2h0m3-1h0m2 0h0m4 1h0m-24-5h0m0-6h0m0-5h0m-8 11h0m-1-5h0m0-5h0m1-6h0m0-5h0m0-3h0m-1-6h0m0-5h0m1-5h0m0-4h0m-1-1h0m19 47h0m-1-5h0m1-1h0m0 6h0m1-4h0m-1-6h0m0-4h0m-1-3h0m2-5h0m-1-7h0m0-5h0m3 34h0m0-7h0m0-6h0m0-4h0m0-5h0m0-5h0m-1-5h0m1-1h0m-13 31h0m0-6h0m0-5h0m0-1h0m9 14h0m1-4h0m-1-5h0m0-5h0m1-5h0m-1-5h0m0-2h0m-11 24h0m1-5h0m-1-3h0m-10 9h0m0-5h0m20 5h0m-1-4h0m0-4h0m1-7h0m0-1h0m12 19h0m0-5h0m1-6h0m-1-5h0m1-4h0m0-6h0m0-1h0m-5 26h0m1-4h0m-1-4h0m0-2h0m2 10h0m1-6h0m-1-5h0m0-6h0m1-3h0m-1-5h0m0-5h0m1-2h0m-24 28h0m1-4h0m0-4h0m12 10h0m0-3h0m0-5h0m1-4h0m-1-4h0m-19 15h0m-1-4h0m1-4h0m0-6h0m0 0h0m-1 15h0m0-5h0m0-2h0m34 10h0m0-4h0m-1-1h0m-40 3h0m0-4h0m0-5h0m-1-3h0m1-4h0m0-6h0m-1-4h0m15 23h0m1-4h0m0-5h0m-1-3h0m0-4h0m0-3h0m0-5h0m0-3h0m-4 28h0m0-7h0m0-5h0m1-5h0m-1-3h0m25 23h0m1-5h0m0-2h0m-35 6h0m1-3h0m-1-6h0m1-4h0m-1-4h0m0-7h0m0-5h0m1-5h0m-1-5h0m1-4h0m0-5h0m-1-4h0m28 52h0m0-1h0m-31-108h0m0 67h0m16-22h0m-6 27h0m11-3h0m12 9h0m-7 7h0" stroke="#212121"/>
<path d="M1127 629 1127 544 1129 543 1131 542 1133 541 1135 540 1137 538 1139 537 1141 536 1143 535 1145 534 1147 534 1149 535 1151 535 1153 536 1155 536 1157 536 1159 537 1161 537 1163 538 1165 538 1167 538 1169 539 1173 539 1173 629Z" fill="#999999"/>
<path d="M1132 538h0m3-4h0m1 2h0m3-4h0m3-2h0m3 3h0m2 1h0m3-3h0m2 4h0m3-3h0m2 1h0m4-2h0m2 3h0m3 2h0m3 2h0m2-2h0m-22-4h0m-1-6h0m0-5h0m2-7h0m-1-6h0m-1-6h0m1-7h0m0-3h0m0-2h0m15 45h0m-1-7h0m0-6h0m0-1h0m-19 10h0m1-1h0m-9 6h0m0-2h0m31 1h0m0-7h0m0-6h0m0-6h0m0-6h0m0-3h0m0 28h0m0-6h0m0-3h0m-18 6h0m1-4h0m0-4h0m-1-6h0m0-5h0m-3 18h0m1-3h0m-1 3h0m0-3h0m0-5h0m19 12h0m1-4h0m-1-1h0m-18 1h0m0-6h0m0-2h0m15 11h0m0-2h0m1 3h0m0-2h0m-13-1h0m0-4h0m0-2h0m13 8h0m-1-3h0m-8 2h0m0-6h0m1-6h0m7 13h0m0-4h0m-1-7h0m1-2h0m-15 10h0m1-3h0m-1-5h0m0 0h0m7 10h0m0-3h0m-5 2h0m0-3h0m-1-4h0m1-2h0m4 10h0m0-6h0m1-4h0m-8-85h0m0 3h0m0 3h0m0 4h0m0 3h0m-1 3h0m1 3h0m0 3h0m-1 4h0m1 3h0m0 3h0m-1 3h0m2 3h0m0 4h0m-2 3h0m1 3h0m-1 3h0m1 3h0m6-35h0m19 17h0m-36 21h0m25-5h0" stroke="#999999"/>
<path d="M1170 629 1170 534 1172 533 1174 533 1176 532 1178 531 1180 530 1182 530 1184 529 1186 528 1188 528 1190 527 1192 527 1194 528 1196 528 1198 528 1200 529 1202 529 1204 529 1206 530 1208 530 1210 530 1212 531 1216 531 1216 629Z" fill="#212121"/>
<path d="M1174 527h0m2 0h0m4 1h0m2-4h0m4 5h0m1-4h0m3-1h0m2-1h0m4-2h0m2 9h0m3-3h0m3-2h0m1 3h0m4-3h0m2 2h0m3 2h0m-32-2h0m0-5h0m-1-5h0m1 0h0m3 9h0m-1-3h0m1-7h0m-1-3h0m0-3h0m22 17h0m1-4h0m0-6h0m0-3h0m-8 12h0m1-5h0m0-5h0m0-4h0m0-4h0m0-4h0m-5 21h0m0-6h0m0-7h0m0-6h0m0-3h0m0-5h0m1-4h0m0-2h0m16 36h0m0-4h0m0-4h0m0-2h0m-23 6h0m0-3h0m1-5h0m0-4h0m-1-6h0m1-4h0m0-4h0m0-2h0m-6 30h0m0-3h0m0-7h0m0-5h0m0-1h0m26 17h0m0-2h0m-35 4h0m0-5h0m0-3h0m0-1h0m3 8h0m1-3h0m-1-1h0m7 2h0m0-3h0m-1-3h0m27 8h0m-1-7h0m1-3h0m0-1h0m-9 9h0m0-4h0m0-2h0m-5 5h0m0-5h0m0-2h0m-4 7h0m1-5h0m0-1h0m-4 5h0m0-4h0m-1-6h0m23 14h0m1-6h0m0-4h0m0-6h0m-1-5h0m0-6h0m1-4h0m0-4h0m-1-6h0m0-6h0m1-5h0m-1-5h0m1 0h0m-2 57h0m1-5h0m-1-5h0m-11 8h0m-1-5h0m1-6h0m12 13h0m0-5h0m0-4h0m0-6h0m0-6h0m0-4h0m-1-5h0m1 0h0m-33-84h0m0 26h0m0 3h0m0 3h0m-1 4h0m0 3h0m1 3h0m-1 3h0m0 3h0m0 4h0m0 3h0m1 1h0m13-31h0m0 3h0m1 3h0m-1 4h0m1 3h0m-1 3h0m0 3h0m0 2h0m9-9h0m-1 3h0m1 3h0m0 4h0m-1 3h0m2 3h0m-1 3h0m-1 3h0m2 4h0m-1 3h0m0 3h0m-1 3h0m0 3h0m1 4h0m0 3h0m0 3h0m0 3h0m0 2h0m16-27h0m-32 3h0" stroke="#212121"/>
<path d="M1213 629 1213 544 1215 544 1217 544 1219 544 1221 543 1223 543 1225 543 1227 543 1229 543 1231 543 1233 543 1235 542 1237 542 1239 542 1241 542 1243 542 1245 542 1247 542 1249 541 1251 541 1253 541 1255 541 1259 541 1259 629Z" fill="#999999"/>
<path d="M1217 538h0m4-3h0m3 11h0m1-6h0m4 0h0m2-1h0m3-2h0m1 0h0m3 2h0m2-1h0m4-2h0m3-2h0m3 1h0m2 1h0m2 7h0m2-7h0m-2 2h0m0-7h0m-1-3h0m-18 11h0m1-3h0m-1-6h0m0-5h0m16 13h0m1-1h0m-21 3h0m0-5h0m-1-6h0m0-6h0m0-4h0m0-3h0m1-4h0m0-2h0m19 28h0m0-4h0m0-5h0m0-5h0m0-1h0m-9 16h0m-1-4h0m0-4h0m1-4h0m1-6h0m-1-6h0m-1-6h0m1-4h0m0-3h0m-21 38h0m0-4h0m0-3h0m26 6h0m0-4h0m0-6h0m-1-6h0m1 0h0m-2 16h0m-1-3h0m9 2h0m0-3h0m-23 5h0m0-4h0m0-7h0m0-3h0m10 13h0m0-5h0m1-6h0m-1-5h0m0-6h0m1-5h0m-1-3h0m0-7h0m0 0h0m-20 39h0m0-4h0m0-4h0m0-3h0m22 9h0m0-4h0m6 4h0m0-5h0m1-5h0m0-4h0m0-6h0m-1-3h0m1-5h0m0-3h0m2 30h0m0-5h0m-30 8h0m0-4h0m0 0h0m20 2h0m0-1h0m-16 2h0m0-4h0m-1-6h0m1-3h0m-1-4h0m-1 17h0m0-5h0m-1-7h0m0-2h0m32 12h0m0-4h0m-10-34h0m-18 5h0m25 5h0" stroke="#999999"/>
<path d="M1256 629 1256 524 1258 523 1260 522 1262 521 1264 520 1266 519 1268 518 1270 517 1272 516 1274 515 1276 514 1278 513 1280 513 1282 512 1284 512 1286 512 1288 511 1290 511 1292 510 1294 510 1296 509 1300 509 1300 629Z" fill="#212121"/>
<path d="M1261 522h0m2-5h0m3 1h0m2 0h0m3-9h0m3 2h0m3-1h0m2 0h0m2 1h0m4-7h0m1 5h0m3-4h0m2 6h0m3-4h0m3-2h0m-33 12h0m0-5h0m11-1h0m0-4h0m1-6h0m11 7h0m-1-5h0m0-5h0m1-4h0m-1-4h0m1-4h0m0-3h0m-8 27h0m-1-6h0m0-2h0m14 5h0m0-3h0m0-2h0m-25 14h0m-1-5h0m0-5h0m27 1h0m0-6h0m0-2h0m-8 10h0m0-4h0m0-2h0m9 4h0m0-5h0m0-4h0m0-5h0m1-5h0m-1-3h0m0-6h0m-1-7h0m1-5h0m-17 43h0m1-6h0m0-2h0m18 4h0m0-4h0m-14 7h0m-1-5h0m0-3h0m1-6h0m0-4h0m-1-5h0m0-5h0m1-6h0m0-2h0m-6 38h0m0-5h0m1 5h0m-1-4h0m1-4h0m0-6h0m0-4h0m0-5h0m-1-5h0m1-3h0m0-6h0m0-7h0m-1-4h0m1-5h0m-1-4h0m0-5h0m1-1h0m6 61h0m0-4h0m0-1h0m8 4h0m0-5h0m0-5h0m-1-1h0m-8 13h0m-1-4h0m-2 4h0m1-4h0m-1-7h0m2-5h0m-1-1h0m6 15h0m1-5h0m0-1h0m-13 10h0m0-6h0m0-5h0m0-3h0m-1-3h0m1-5h0m-1-2h0m24-98h0m1 3h0m0 3h0m0 3h0m0 3h0m-1 4h0m1 3h0m-1 3h0m1 3h0m-1 3h0m0 4h0m1 3h0m0 3h0m0 3h0m0 3h0m0 4h0m0 3h0m-1 3h0m1 3h0m0 3h0m0 4h0m-1 3h0m0 3h0m0 3h0m0 3h0m0 4h0m1 3h0m0 3h0m-1 3h0m1 3h0m-1 4h0m1 3h0m0 1h0m-14-54h0m0 3h0m0 3h0m1 4h0m-1 3h0m1 3h0m0 3h0m0 2h0m-17 14h0m1 3h0m0 3h0m0 4h0m-1 3h0m1 2h0" stroke="#212121"/>
<path d="M1297 629 1297 539 1299 539 1301 538 1303 538 1305 537 1307 537 1309 537 1311 536 1313 536 1315 535 1317 535 1319 534 1321 534 1323 534 1325 533 1327 533 1329 532 1331 532 1333 532 1335 531 1339 531 1339 629Z" fill="#999999"/>
<path d="M1303 535h0m1-1h0m3 1h0m3 1h0m1-2h0m3-3h0m4 1h0m1 1h0m3-1h0m3-1h0m3-3h0m2 2h0m3-2h0m3-2h0m-7 3h0m-1-4h0m1-6h0m0-1h0m4 11h0m0-6h0m1-5h0m-1-5h0m0-5h0m0-6h0m0-3h0m-26 35h0m1-4h0m0-4h0m1-4h0m-1-3h0m0-2h0m-2 17h0m0-3h0m28-3h0m0-5h0m-20 10h0m0-4h0m-1-7h0m1-6h0m0-6h0m0-4h0m0-3h0m-1-6h0m0-6h0m0-4h0m-10 48h0m0-6h0m0-7h0m0-5h0m0-5h0m0-6h0m1-5h0m-1-2h0m32 29h0m0-1h0m-12 4h0m-1 0h0m0 0h0m1-3h0m-2-4h0m2-4h0m-1-6h0m1-3h0m-1-3h0m0 23h0m0-2h0m-21 6h0m0-7h0m1 0h0m28 1h0m1-6h0m-1-5h0m1-5h0m0-1h0m0 17h0m1-4h0m0-3h0m-11 9h0m1-5h0m-1-4h0m0-4h0m0-4h0m1-3h0m0-5h0m-1-4h0m5 28h0m0-6h0m1-5h0m-1-6h0m1-2h0m4 18h0m-1-3h0m0-4h0m0-6h0m0-6h0m0-3h0m4 22h0m-1-6h0m0-6h0m0-2h0m-17 17h0m0-5h0m0-2h0m-5-55h0m15-4h0m6-3h0m-12 17h0" stroke="#999999"/>
<path d="M1336 629 1336 519 1338 518 1340 517 1342 516 1344 515 1346 514 1348 513 1350 512 1352 511 1354 510 1356 509 1358 510 1360 510 1362 511 1364 511 1366 511 1368 512 1370 512 1372 513 1374 513 1376 514 1378 514 1381 514 1381 629Z" fill="#212121"/>
<path d="M1341 509h0m1 8h0m3-7h0m3-3h0m3 0h0m2 1h0m4 0h0m2-2h0m2 6h0m4-2h0m1-2h0m4 5h0m2-5h0m3 3h0m3 1h0m2-2h0m-3 1h0m0-4h0m0-6h0m1-6h0m-1-1h0m-3 16h0m0-3h0m0-5h0m0-7h0m0-3h0m0-5h0m0-4h0m0-6h0m0-3h0m-20 33h0m-1-4h0m0-4h0m0-5h0m-1-5h0m1-3h0m0-4h0m1-5h0m-1-5h0m0-4h0m-3 40h0m1-4h0m0-7h0m-1-3h0m1-4h0m0-2h0m18 21h0m0-5h0m0-2h0m-13 4h0m1-7h0m-1-5h0m0-4h0m0-7h0m1-6h0m0-5h0m-9 37h0m0-2h0m13 0h0m0 0h0m-18 5h0m0-4h0m18-1h0m0-4h0m0-1h0m9 7h0m0-6h0m0-4h0m0-3h0m1-5h0m-1-2h0m-13 17h0m0-3h0m-3 4h0m-1-1h0m20 4h0m-1-2h0m1 2h0m1-4h0m0-1h0m-10 3h0m0-4h0m0-7h0m1-4h0m-11 14h0m0-3h0m-4 5h0m0-3h0m10 1h0m0-3h0m-13 6h0m0-4h0m15 1h0m-1-4h0m0-7h0m0-4h0m0-2h0m-10-277h0m-1 3h0m0 3h0m1 4h0m0 3h0m-1 3h0m1 3h0m0 3h0m-1 4h0m0 3h0m1 3h0m-1 3h0m0 3h0m0 4h0m0 3h0m0 3h0m0 3h0m1 3h0m0 4h0m-1 3h0m1 3h0m-1 3h0m0 3h0m1 4h0m0 3h0m0 3h0m0 3h0m0 3h0m0 4h0m0 3h0m-1 3h0m0 3h0m0 3h0m1 4h0m-1 3h0m0 3h0m1 3h0m-1 3h0m1 4h0m0 3h0m0 3h0m0 3h0m-1 3h0m0 4h0m1 3h0m0 3h0m-1 3h0m0 3h0m0 4h0m1 3h0m-1 3h0m1 3h0m-1 3h0m0 4h0m1 3h0m0 3h0m0 3h0m-1 3h0m1 4h0m-1 3h0m1 3h0m0 3h0m0 3h0m-1 4h0m0 3h0m1 3h0m0 3h0m-1 3h0m0 4h0m0 3h0m1 3h0m-1 3h0m1 3h0m0 4h0m0 3h0m0 3h0m-1 3h0m1 3h0m-1 4h0m1 3h0m-1 3h0m0 3h0m1 3h0m0 4h0m0 3h0m0 3h0m-1 0h0m13-56h0m-2 3h0m0 3h0m1 4h0m0 3h0m-1 3h0m1 3h0m0 3h0m0 3h0m8-25h0m1 3h0m0 3h0m0 4h0m-1 3h0m0 3h0m0 3h0m1 3h0m0 4h0m0 3h0m-1 2h0m-20-304h0m0 37h0m0 7h0m0 6h0m25 264h0" stroke="#212121"/>
<path d="M1378 629 1378 514 1380 514 1382 514 1384 514 1386 514 1388 514 1390 514 1392 514 1394 514 1396 514 1398 514 1400 514 1402 514 1404 514 1406 514 1408 514 1410 514 1412 514 1416 514 1416 629Z" fill="#999999"/>
<path d="M1382 511h0m4-3h0m2 6h0m2-6h0m3 4h0m4-4h0m0 6h0m4-5h0m3 3h0m3 1h0m2-8h0m3 12h0m1-5h0m-13-1h0m0-4h0m-14 4h0m-1-5h0m0-4h0m1-5h0m-1-7h0m0-3h0m0 24h0m0-1h0m11 1h0m-1-7h0m0-4h0m0-4h0m0-5h0m1-6h0m-1-5h0m1-6h0m0 0h0m1 37h0m0-3h0m0-3h0m-8 6h0m0-6h0m-1-5h0m1-4h0m-1-5h0m-2 20h0m0 0h0m15 0h0m0-1h0m9 1h0m1-4h0m-1 0h0m-2 4h0m0-1h0m4 1h0m1-4h0m0-6h0m-1-4h0m0-6h0m0-6h0m1-2h0m-1 28h0m-1-4h0m0-3h0m0-7h0m0-4h0m0-4h0m-1-6h0m1-1h0m-26 29h0m-1-4h0m1-7h0m0-1h0m22 12h0m-1-5h0m1-5h0m0-6h0m0-6h0m0-6h0m0-4h0m0-3h0m0 0h0m-20 35h0m0-4h0m0-5h0m0-3h0m0-6h0m1-4h0m-1-4h0m22 26h0m0-2h0m-9 2h0m1-5h0m3-140h0m0 23h0m0 10h0m-10 76h0m10-12h0m-19 15h0" stroke="#999999"/>
<path d="M1413 629 1413 549 1415 548 1417 548 1419 547 1421 547 1423 546 1425 545 1427 545 1429 544 1431 544 1433 545 1435 545 1437 546 1439 546 1441 547 1443 547 1445 548 1447 548 1449 549 1453 549 1453 629Z" fill="#212121"/>
<path d="M1417 545h0m3 1h0m2-3h0m4 1h0m2-1h0m4-3h0m1 4h0m2-5h0m3 6h0m4-1h0m2 1h0m2 1h0m3-1h0m3 0h0m-15-2h0m1-5h0m-1-5h0m0-4h0m0 0h0m10 16h0m-1-4h0m1-6h0m0-4h0m0-7h0m0-6h0m0-6h0m-1-4h0m1 0h0m-27 36h0m0-4h0m18 3h0m-1-3h0m1-3h0m0-3h0m0-6h0m0-6h0m0-6h0m-9 25h0m1-4h0m-1-3h0m0-2h0m17 13h0m0-4h0m0-3h0m-25 6h0m0-6h0m1-4h0m-1-6h0m27 17h0m-1-3h0m1-7h0m-1-3h0m-19 10h0m0-3h0m-10 5h0m1-3h0m-1-1h0m26 5h0m0-1h0m-2 0h0m-1-6h0m0-3h0m1-7h0m-1-1h0m-16 15h0m0-4h0m0-7h0m1-6h0m-1-2h0m25 23h0m-1-7h0m0-6h0m1-2h0m-22 10h0m0-4h0m1-7h0m0-6h0m0-6h0m0-5h0m0-6h0m0-3h0m16 41h0m0-5h0m0-3h0m0-4h0m0-2h0m-4 13h0m0-4h0m0-6h0m0-3h0m-5 11h0m0-3h0m0-2h0m-3-79h0m-2 3h0m1 3h0m0 4h0m-1 3h0m1 3h0m0 3h0m0 3h0m1 4h0m-1 3h0m0 3h0m0 3h0m0 3h0m0 4h0m-1 3h0m1 2h0" stroke="#212121"/>
<path d="M1450 629 1450 544 1452 543 1454 542 1456 541 1458 540 1460 539 1462 538 1464 537 1466 536 1468 535 1470 534 1472 533 1474 533 1476 532 1478 532 1480 531 1482 530 1484 530 1486 529 1490 529 1490 629Z" fill="#999999"/>
<path d="M1456 540h0m2-2h0m1-1h0m4-2h0m2-1h0m2-2h0m3 1h0m2-3h0m3 1h0m3-4h0m2 3h0m4-3h0m1-4h0m3 5h0m-26 7h0m-1-3h0m0-5h0m0-5h0m1-5h0m-1-6h0m0-3h0m1-6h0m-1-7h0m-4 42h0m0-4h0m1-6h0m-1-7h0m0-6h0m0-6h0m0-4h0m0-1h0m23 25h0m1-4h0m-1-1h0m-8 8h0m0-4h0m-1-4h0m0-4h0m1-4h0m-1-6h0m1-3h0m-1-6h0m1-3h0m-1-5h0m1-6h0m-9 49h0m0-5h0m-1-4h0m1-5h0m-1-7h0m18 14h0m0-5h0m0-7h0m0-4h0m0-2h0m-18 25h0m0-6h0m0-5h0m1-6h0m0-7h0m-1-4h0m1-5h0m-1-3h0m4 34h0m0-1h0m-1 2h0m0-3h0m-5 5h0m0-5h0m0-5h0m0-3h0m0-1h0m4 12h0m0-6h0m0-4h0m12-74h0m6 4h0m-4 16h0m-8 10h0" stroke="#999999"/>
<path d="M1487 629 1487 564 1489 563 1491 563 1493 562 1495 562 1497 561 1499 561 1501 560 1503 560 1505 559 1507 558 1509 558 1511 557 1513 557 1515 556 1517 556 1519 555 1521 555 1523 554 1527 554 1527 629Z" fill="#212121"/>
<path d="M1491 558h0m3 2h0m3 1h0m2-1h0m3-4h0m4-2h0m2-1h0m2 8h0m3-6h0m2 2h0m2-3h0m4-3h0m2 6h0m2-5h0m-24 5h0m-1-3h0m0-2h0m-5 7h0m-1-4h0m24-2h0m-1-1h0m2 1h0m-1-5h0m0-1h0m-11 8h0m1 0h0m2 0h0m0-5h0m0-4h0m1-6h0m-1-1h0m2 15h0m-1-5h0m0-7h0m0-3h0m-15 19h0m0-4h0m0-1h0m19 0h0m0-6h0m8 5h0m-1-4h0m0-5h0m1-6h0m-1-3h0m0-3h0m-2 21h0m0-5h0m-12 8h0m1-4h0m0-3h0m0-3h0m-1-2h0m14 9h0m0-2h0m-29 9h0m0 0h0m30-8h0m0-3h0m0 0h0m-28 11h0m0-4h0m0-3h0m0 7h0m1-1h0m17-4h0m-1-6h0m1-7h0m0-4h0m-1-6h0m0-4h0m0-1h0m-15-110h0m0 3h0m-1 3h0m0 4h0m2 3h0m-2 3h0m0 3h0m1 3h0m-1 4h0m1 3h0m0 3h0m0 3h0m0 3h0m-1 4h0m1 3h0m0 3h0m0 3h0m0 3h0m-1 4h0m0 3h0m1 3h0m-1 3h0m0 3h0m0 4h0m1 3h0m0 3h0m0 3h0m1 3h0m-1 4h0m-1 3h0m1 3h0m0 3h0m0 3h0m0 4h0m0 3h0m1 3h0m-1 3h0m0 3h0m23-94h0m1 3h0m-1 3h0m0 4h0m1 3h0m-1 3h0m0 3h0m0 3h0m1 4h0m0 3h0m-1 3h0m1 3h0m-1 3h0m0 4h0m0 3h0m0 3h0m0 3h0m0 1h0m-11 34h0" stroke="#212121"/>
<path d="M1524 629 1524 539 1526 537 1528 536 1530 534 1532 532 1534 531 1536 529 1538 528 1540 526 1542 527 1544 528 1546 529 1548 529 1550 530 1552 531 1554 532 1556 533 1558 534 1562 534 1562 629Z" fill="#999999"/>
<path d="M1529 531h0m2-2h0m4 0h0m2-1h0m1-5h0m4 6h0m3-3h0m2-4h0m2 6h0m3 1h0m3-3h0m2 5h0m2 2h0m-10-7h0m0-5h0m-1-5h0m0-4h0m0-3h0m-5 15h0m0 0h0m5 2h0m0-7h0m-1-3h0m1-4h0m-1 14h0m0-3h0m0-7h0m-1-3h0m1-6h0m0-2h0m4 22h0m0-5h0m-1-4h0m0-6h0m1-3h0m-2-6h0m1-4h0m0-6h0m0-7h0m0-5h0m0-5h0m0 0h0m-20 55h0m0-7h0m1-3h0m0-5h0m-1-5h0m0-1h0m4 18h0m0-7h0m0-4h0m0-6h0m0-4h0m0-6h0m0-3h0m-1-6h0m2-4h0m-1-4h0m-1-4h0m1-5h0m-1-6h0m1-6h0m0-5h0m0-5h0m0 75h0m1-5h0m-1-5h0m0-6h0m0-4h0m0-3h0m0-1h0m25 27h0m0-4h0m0-4h0m0-5h0m0-6h0m0-7h0m0-6h0m0-4h0m-1-4h0m1-7h0m0-1h0m-14 42h0m0-4h0m0-5h0m0-4h0m0-6h0m1-7h0m-1-7h0m0-5h0m0-4h0m-4-33h0m17 2h0m-10 13h0m-18 10h0" stroke="#999999"/>
<path d="M1559 629 1559 554 1561 553 1563 553 1565 552 1567 552 1569 551 1571 550 1573 550 1575 549 1577 548 1579 548 1581 547 1583 547 1585 546 1587 546 1589 545 1591 545 1593 544 1596 544 1596 629Z" fill="#212121"/>
<path d="M1563 543h0m4 6h0m2-2h0m2 6h0m4-6h0m3-2h0m2-2h0m2 3h0m3 1h0m2-8h0m2 4h0m4-5h0m1 8h0m-19 0h0m0-4h0m-1-1h0m6 4h0m1-6h0m-1-5h0m7 9h0m0-5h0m0-7h0m-1-5h0m1-5h0m0-2h0m0 24h0m0-3h0m-22 9h0m1-3h0m9 0h0m-1-4h0m8 2h0m0-5h0m-10 8h0m-1-4h0m1-2h0m14 2h0m1-5h0m-20 10h0m0-5h0m1-4h0m0-6h0m0-2h0m7 15h0m0-6h0m-6 8h0m0-1h0m16-4h0m0 0h0m6-1h0m0-3h0m-11 6h0m-1-3h0m5 1h0m0-2h0m1 2h0m-1-3h0m0-4h0m1-1h0m3-64h0m0 3h0m0 3h0m-1 4h0m0 3h0m0 3h0m0 3h0m1 3h0m0 4h0m-1 3h0m1 3h0m0 3h0m0 3h0m0 4h0m0 3h0m0 3h0m-1 3h0m1 3h0m0 1h0m9-106h0m-1 4h0m0 3h0m-1 3h0m1 3h0m1 3h0m-1 4h0m0 3h0m0 3h0m0 3h0m0 3h0m-1 4h0m1 3h0m0 3h0m1 3h0m0 3h0m0 4h0m0 3h0m0 3h0m-2 3h0m0 3h0m2 4h0m0 3h0m-1 3h0m0 3h0m0 3h0m0 4h0m-1 3h0m1 3h0m0 3h0m-1 3h0m2 4h0m-1 3h0m1 3h0m-1 3h0m0 3h0m0 2h0" stroke="#212121"/>
<path d="M1593 629 1593 569 1595 568 1597 568 1599 567 1601 567 1603 566 1605 565 1607 565 1609 564 1611 563 1613 562 1615 561 1617 560 1619 558 1621 557 1623 556 1625 555 1629 554 1629 629Z" fill="#999999"/>
<path d="M1597 567h0m4-2h0m2 2h0m2-2h0m3-2h0m3-2h0m2-1h0m4-2h0m1 1h0m2-6h0m3-3h0m3 3h0m-13 6h0m1-3h0m-1-4h0m-6 10h0m1-4h0m14-4h0m-1-5h0m0-1h0m-2 8h0m0-2h0m-20 10h0m-1-2h0m28-11h0m0-3h0m0-5h0m0-3h0m0-2h0m-23 25h0m0-6h0m1 0h0m-1 6h0m0-6h0m0-4h0m0-4h0m20 4h0m0-6h0m1-6h0m-1-7h0m0-2h0m-6 25h0m0-5h0m0-6h0m0-5h0m-1-4h0m1-2h0m-17 29h0m0-7h0m1-3h0m-1-6h0m1-5h0m-1-1h0m12 18h0m0-5h0m0-3h0m0-2h0m7 5h0m0-3h0m1-5h0m-1-1h0m-16 17h0m0-5h0m0-4h0m0-5h0m0-3h0m3 16h0m0-5h0m1-5h0m-1-4h0m0-5h0m0-5h0m0 24h0m-1-4h0m0-3h0m1-2h0" stroke="#999999"/>
<path d="M1626 629 1626 559 1628 556 1630 553 1632 550 1634 548 1636 545 1638 542 1640 539 1642 535 1644 531 1646 527 1648 523 1650 519 1652 516 1654 512 1656 509 1658 506 1662 504 1662 629Z" fill="#212121"/>
<path d="M1631 548h0m1-3h0m3 0h0m3-5h0m3-8h0m3-1h0m3-6h0m1-9h0m4-3h0m2-1h0m2-9h0m3-3h0m-27 47h0m1-5h0m-1-1h0m19-28h0m1-5h0m0-5h0m0-4h0m-17 43h0m1-4h0m-1-7h0m0-7h0m0 0h0m2 17h0m-1 0h0m15-28h0m1 0h0m-19 33h0m0-6h0m0 0h0m22-32h0m0-1h0m-9 16h0m0-5h0m1-3h0m1 5h0m0-4h0m7-7h0m-1-1h0m-5 11h0m0-3h0m2-2h0m0-4h0m0-3h0m0-2h0m0 9h0m0-4h0m1 3h0m0-1h0m-5 9h0m0-3h0m10-12h0m-1-5h0m-2-53h0m3 22h0" stroke="#212121"/>
<path d="M1659 629 1659 514 1661 515 1663 515 1665 516 1667 516 1669 517 1671 518 1673 518 1675 519 1677 521 1679 523 1681 524 1683 526 1685 528 1687 530 1689 531 1691 533 1695 534 1695 629Z" fill="#999999"/>
<path d="M1663 508h0m3 11h0m3-5h0m2-2h0m3 3h0m2 5h0m2-2h0m5 6h0m2-1h0m3 4h0m2 1h0m2 4h0m-15-14h0m1-7h0m-1-6h0m0-5h0m0-5h0m0-4h0m0-1h0m11 37h0m0-5h0m-1-6h0m1-3h0m3 17h0m0-3h0m-21-12h0m1-6h0m0-7h0m0-7h0m0-1h0m20 36h0m-1-4h0m0-4h0m1-2h0m-20-5h0m0-4h0m0-4h0m0-4h0m0-6h0m0-6h0m0-3h0m0-6h0m-1-4h0m1-1h0m-7 36h0m0-1h0m25 16h0m0-1h0m-16-12h0m-1-5h0m1-4h0m-2 9h0m0-5h0m1-6h0m-1-5h0m0-7h0m1-5h0m-1-4h0m0-6h0m14 48h0m0-4h0m1-6h0m0-3h0m-7 7h0m0-4h0m-1-3h0m1-3h0m11 20h0m0-2h0m-1 1h0m-1-5h0m0-4h0m0-3h0m0-5h0m0-3h0m0-5h0m0-3h0m1-6h0m0-3h0m-1-7h0m0-1h0m-2 44h0m1-2h0m-17-11h0m-1-3h0m0-5h0m1-6h0m0-4h0m0-4h0m0-5h0m0-2h0" stroke="#999999"/>
<path d="M1692 629 1692 544 1694 545 1696 545 1698 546 1700 546 1702 547 1704 547 1706 548 1708 548 1710 549 1712 548 1714 548 1716 547 1718 546 1720 545 1722 545 1724 544 1727 544 1727 629Z" fill="#212121"/>
<path d="M1696 539h0m4 5h0m2-3h0m2 4h0m3-3h0m3 4h0m2-1h0m4-1h0m2-2h0m2-2h0m3 0h0m3 3h0m-8 0h0m0-4h0m0-4h0m0-1h0m6 7h0m1-6h0m-1-3h0m0-2h0m-17 15h0m-1-4h0m1-6h0m0-5h0m0-2h0m14 14h0m0-4h0m0-3h0m0-4h0m0-5h0m0-4h0m-13 23h0m0-2h0m-10-1h0m-1-6h0m1-4h0m0-4h0m-1 0h0m14 17h0m1 0h0m12-4h0m-1-1h0m1 1h0m-1-6h0m0-4h0m0-1h0m-25 13h0m1-2h0m20 2h0m-1-3h0m-17 3h0m0-3h0m0 0h0m17 3h0m0-3h0m-1 4h0m-1-4h0m0-2h0m3 4h0m0-5h0m1-4h0m-16 11h0m-1-5h0m1-4h0m0-2h0m-1-72h0m1 3h0m0 3h0m-1 4h0m1 3h0m0 2h0m20 21h0m1 3h0m-1 3h0m0 4h0m0 3h0m0 3h0m-1 3h0m1 3h0m0 3h0" stroke="#212121"/>
<path d="M1724 629 1724 574 1726 573 1728 573 1730 572 1732 572 1734 571 1736 570 1738 570 1740 569 1742 568 1744 568 1746 567 1748 566 1750 566 1752 565 1754 565 1756 564 1759 564 1759 629Z" fill="#999999"/>
<path d="M1729 567h0m2 0h0m3 2h0m3 0h0m3-5h0m1-3h0m4 3h0m2 3h0m3 2h0m2-7h0m3 0h0m2 2h0m-7-1h0m0-3h0m-1-6h0m0-1h0m-17 16h0m-1-6h0m1-5h0m-1-4h0m23 8h0m0-1h0m-9 3h0m1-4h0m0-5h0m-15 14h0m0-4h0m0-5h0m7 7h0m0-3h0m3 2h0m0-5h0m-1-5h0m0-3h0m0-2h0m-8 17h0m0-4h0m0-5h0m1-3h0m-1-5h0m0-2h0m6 17h0m0-3h0m2-6h0m-2-6h0m1-5h0m0-7h0m0-5h0m0-5h0m0-4h0m0-4h0m1 45h0m1-5h0m0-6h0m-1-5h0m0-4h0m0-3h0m0-3h0m0-6h0m0-7h0m0-6h0m15 40h0m0-6h0m0-5h0m-25 19h0m-1-6h0m1-3h0m0-6h0m0-3h0m14 14h0m1-7h0m-1-5h0m0-5h0m0-3h0m0-5h0m0-6h0m0-7h0m0-4h0m9 39h0m0-4h0m1-4h0m-1-4h0m0-3h0m-12 19h0m-1-7h0m0-2h0m15 4h0m0-3h0m0-5h0m0-1h0m-17-30h0m7 2h0m0 13h0" stroke="#999999"/>
<path d="M1756 629 1756 554 1758 554 1760 554 1762 553 1764 553 1766 553 1768 553 1770 553 1772 552 1774 552 1776 552 1778 552 1780 552 1782 552 1784 551 1786 551 1788 551 1791 551 1791 629Z" fill="#212121"/>
<path d="M1761 548h0m3 1h0m2 1h0m2 3h0m3 3h0m2-7h0m4 0h0m1 1h0m4 2h0m1-4h0m4-3h0m2 5h0m-13-1h0m-1-3h0m9 2h0m0-5h0m-1-6h0m1-2h0m-23 16h0m0-6h0m25 3h0m0-3h0m0-1h0m-21 6h0m0-4h0m0-7h0m1-4h0m-1-2h0m21 15h0m0 0h0m-2 0h0m0 0h0m3 0h0m0-5h0m0-3h0m0-5h0m-11 14h0m0-1h0m10 0h0m1-7h0m-1-3h0m0-1h0m-8 12h0m0-6h0m0-1h0m0 7h0m0-5h0m1-6h0m0-6h0m0-7h0m-2 24h0m-1-6h0m1-1h0m9 6h0m0 0h0m-7 1h0m0-6h0m-1-4h0m1-6h0m0-3h0m-1-5h0m1 0h0m-1 24h0m0-5h0m-1-4h0m1-2h0m-16-30h0m-1 3h0m1 3h0m-1 4h0m0 3h0m1 3h0m0 3h0m-1 3h0m1 4h0m0 3h0m0 0h0m28-16h0m-7 11h0" stroke="#212121"/>
<path d="M1788 629 1788 574 1790 573 1792 573 1794 572 1796 572 1798 571 1800 570 1802 570 1804 569 1806 569 1808 569 1810 569 1812 569 1814 569 1816 569 1818 569 1822 569 1822 629Z" fill="#999999"/>
<path d="M1792 570h0m4 0h0m3-3h0m1 0h0m3 2h0m3-3h0m3 1h0m2-2h0m3-1h0m1 2h0m4 0h0m-13 0h0m0-3h0m0 0h0m10 3h0m0-1h0m-9 1h0m0-7h0m-1-6h0m1-7h0m0-2h0m7 22h0m0-5h0m-1-6h0m1-5h0m-1-6h0m1-5h0m0-5h0m-1-6h0m1-3h0m-9 41h0m0-4h0m0-6h0m0-7h0m0-5h0m-2 22h0m1 0h0m-9 3h0m-1-5h0m1-4h0m0-6h0m0-4h0m0-6h0m0-5h0m-1-5h0m1-6h0m0-4h0m23 42h0m0-4h0m-1-1h0m-3 5h0m0-5h0m0-2h0m-4 7h0m2-4h0m-1-4h0m0-4h0m-8 13h0m-1-4h0m0-3h0m1-5h0m-1-6h0m0-3h0m0-4h0m0-5h0m1-6h0m15 35h0m0-6h0m1-5h0m-1-7h0m1-3h0m-1-6h0m0-3h0m0-3h0m0-7h0m0-3h0m0-2h0m-9 45h0m0-5h0m9 5h0m0-5h0m-14 5h0m1-6h0m-1-1h0m-7-110h0m7 49h0m-7 8h0m13 14h0" stroke="#999999"/>
<path d="M1819 629 1819 569 1821 569 1823 569 1825 569 1827 569 1829 569 1831 569 1833 569 1835 569 1837 569 1839 569 1841 569 1843 569 1845 569 1847 569 1851 569 1851 629Z" fill="#212121"/>
<path d="M1824 564h0m3 4h0m3-2h0m2-4h0m3 7h0m1-4h0m2-1h0m3 2h0m4-2h0m1 7h0m3-4h0m-10-1h0m1-4h0m2 4h0m0-4h0m-6 4h0m0-4h0m6 4h0m0-3h0m-1 3h0m-1-3h0m2 3h0m1-3h0m-5 3h0m0 0h0m-13 0h0m1-7h0m0-6h0m-1-2h0m2 15h0m-1-6h0m1-5h0m0-2h0m9 13h0m0-4h0m11 4h0m0-6h0m1-5h0m-1-5h0m-16 16h0m0-6h0m0-2h0m16 8h0m1-2h0m-11 2h0m-1-7h0m0 0h0m-10-24h0" stroke="#212121"/>
<path d="M1848 629 1848 539 1850 538 1852 536 1854 535 1856 534 1858 532 1860 531 1862 531 1864 531 1866 531 1868 531 1870 531 1872 531 1874 531 1878 531 1878 629Z" fill="#999999"/>
<path d="M1852 529h0m4 3h0m2-5h0m2 0h0m4 3h0m1 2h0m3-4h0m3-1h0m3 5h0m2-6h0m-18 3h0m0-5h0m0-3h0m0-5h0m0-4h0m0-4h0m0-6h0m1-6h0m-1-3h0m-5 39h0m1-5h0m0-5h0m0-3h0m-1-6h0m1-6h0m-1-6h0m0-3h0m9 30h0m0-4h0m0-4h0m-1-3h0m1-4h0m0-1h0m-6 18h0m0-5h0m1-1h0m-1 7h0m0-1h0m0 1h0m0-1h0m17-2h0m0-5h0m0-3h0m1-6h0m0-7h0m-1-1h0m-9 22h0m1-5h0m-1-4h0m1-6h0m-1-4h0m0-1h0m-6 22h0m-1-4h0m0-4h0m0 0h0m-2 9h0m1-5h0m-1-4h0m0-3h0m6 9h0m-1-6h0m0-5h0m1-5h0m-1-3h0m1-4h0m-1-4h0m0-3h0m0-5h0m0-6h0m0-1h0m-2 43h0m1-7h0m-1-5h0m0-3h0m0-2h0m-2 19h0m-1-2h0m-1-55h0m0 3h0m1 3h0m-1 2h0m18-18h0m-1 3h0m1 3h0m0 4h0m0 2h0m-10 16h0" stroke="#999999"/>
<path d="M1875 629 1875 544 1877 543 1879 541 1881 540 1883 539 1885 537 1887 536 1889 535 1891 534 1893 533 1895 533 1897 532 1899 532 1901 531 1904 531 1904 629Z" fill="#212121"/>
<path d="M1880 538h0m3-3h0m1-5h0m4-1h0m1 1h0m4-1h0m3 1h0m2-1h0m3-5h0m-2 4h0m0 0h0m-6 2h0m0-2h0m-10 7h0m0-4h0m0-3h0m1 6h0m1-1h0m3-1h0m0-2h0m7 0h0m1-4h0m0-3h0m-1-6h0m0-7h0m0-1h0m5 20h0m-1-5h0m0-7h0m-1-4h0m1-3h0m0-4h0m-12 27h0m-1-4h0m3 3h0m0-1h0m12-3h0m-2-4h0m1-1h0m-19 14h0m1-4h0m0-5h0m0-5h0m-1-2h0m7 12h0m-1-6h0m1-6h0m0 0h0m-6 16h0m0-1h0m5-44h0m13-3h0m-20 16h0" stroke="#212121"/>
<path d="M1901 629 1901 554 1903 554 1905 553 1907 553 1909 552 1911 552 1913 552 1915 551 1917 551 1919 550 1921 550 1923 550 1925 549 1929 549 1929 629Z" fill="#999999"/>
<path d="M1906 543h0m3 11h0m2-4h0m3 1h0m3-1h0m1-4h0m4 0h0m3-3h0m2 0h0m-19 7h0m0-4h0m0-5h0m0-7h0m0-5h0m0-7h0m1-6h0m-1-1h0m17 31h0m-1-5h0m1-4h0m0-3h0m0-5h0m0-6h0m0-3h0m-10 28h0m0-6h0m0-3h0m8 7h0m1 0h0m-14 3h0m0-3h0m0-7h0m0-7h0m12 15h0m0-7h0m0-1h0m-9 10h0m0-4h0m0-4h0m1-3h0m0-4h0m-1 0h0m5 13h0m1-5h0m-1-5h0m1-2h0m3 12h0m1-5h0m0-3h0m0-4h0m-9 13h0m0 0h0m1 0h0m-1-3h0m1-1h0m6 3h0m0-3h0m6-88h0m0 3h0m0 3h0m0 4h0m1 3h0m0 3h0m-1 3h0m-1 3h0m0 4h0m1 3h0m-1 3h0m2 3h0m-2 3h0m1 3h0m-13 0h0m1 3h0m-1 3h0m1 4h0m0 3h0m0 2h0" stroke="#999999"/>
<path d="M1926 629 1926 544 1928 544 1930 544 1932 543 1934 543 1936 543 1938 543 1940 542 1942 542 1944 542 1946 542 1948 541 1950 541 1952 541 1955 541 1955 629Z" fill="#212121"/>
<path d="M1930 537h0m3 0h0m3 6h0m3-2h0m3 1h0m1-5h0m4 4h0m1-4h0m4-2h0m-3 3h0m0 0h0m-2 1h0m0-4h0m0-6h0m0 0h0m4 9h0m0-2h0m-15 4h0m0-7h0m1-7h0m-1-5h0m3 19h0m0-5h0m0 4h0m0-5h0m0-3h0m1-4h0m-1-5h0m1-1h0m2 18h0m0-4h0m1-4h0m-1-1h0m2 9h0m-1-4h0m6 3h0m0-4h0m-1-6h0m0-5h0m0-6h0m0-5h0m-3 27h0m0-5h0m0-2h0m-4 7h0m-2-3h0m1-7h0m-5 11h0m-1-4h0m1-5h0m-1-3h0m1-1h0m14 11h0m0-4h0m0-6h0m0-1h0m-17-18h0m0 13h0m13-7h0" stroke="#212121"/>
<path d="M1952 629 1952 519 1954 517 1956 516 1958 514 1960 513 1962 511 1964 510 1966 509 1968 510 1970 511 1972 512 1974 513 1976 514 1980 514 1980 629Z" fill="#999999"/>
<path d="M1957 513h0m3 0h0m2-2h0m3-4h0m2-3h0m2 6h0m3 0h0m4-1h0m1-1h0m-11-2h0m-2-4h0m2-4h0m-1-5h0m7 16h0m0-6h0m0-1h0m-12 8h0m0-6h0m6 2h0m0-5h0m0-6h0m0-4h0m0-5h0m5 23h0m1-4h0m-1-4h0m0-5h0m0-3h0m0-6h0m1-6h0m-1-5h0m6 35h0m0 0h0m-20 1h0m0-6h0m1-4h0m-1-4h0m1-6h0m0-3h0m-1-4h0m1-1h0m7 23h0m-1-4h0m0-5h0m0 0h0m2 8h0m-1-5h0m1-4h0m0-5h0m-1-5h0m1-6h0m0-3h0m0-1h0m-4 31h0m0-5h0m1-4h0m-1-1h0m15 13h0m0-4h0m0-1h0m-6 2h0m0-2h0m-10-110h0m-1 3h0m1 3h0m0 4h0m-1 3h0m1 2h0m0 39h0m0 3h0m0 3h0m0 4h0m0 3h0m0 3h0m-1 3h0m1 3h0m0 4h0m0 3h0m-1 3h0m1 3h0m0 3h0m0 2h0m0-156h0m0 40h0m0 48h0m9 28h0m-1 29h0" stroke="#999999"/>
<path d="M1977 629 1977 574 1979 573 1981 572 1983 572 1985 571 1987 570 1989 569 1991 569 1993 568 1995 567 1997 566 1999 565 2001 564 2005 564 2005 629Z" fill="#212121"/>
<path d="M1981 568h0m4 1h0m3-6h0m2-1h0m3 7h0m2-8h0m1 3h0m5 0h0m1-6h0m-4 5h0m0 0h0m-4 1h0m0-3h0m-5 5h0m1-1h0m1 0h0m0-3h0m0 0h0m-8 7h0m0-3h0m3 1h0m0-6h0m-3 7h0m1-2h0m2 2h0m0-1h0m11-4h0m0-3h0m0-6h0m0-2h0m-7 14h0m0-5h0m0-4h0m0-3h0m8 8h0m1-4h0m0-3h0m-7 10h0m-1-4h0m1-3h0m2-56h0m0 35h0m-11 10h0m23-5h0" stroke="#212121"/>
<path d="M2002 629 2002 561 2004 561 2006 560 2008 560 2010 560 2012 559 2014 559 2016 559 2018 558 2020 558 2022 558 2024 557 2026 557 2029 557 2029 629Z" fill="#999999"/>
<path d="M2006 555h0m4 0h0m1 6h0m4-6h0m1 0h0m4-2h0m3-3h0m2 7h0m2-3h0m-2 0h0m-2-3h0m1-1h0m-13 7h0m1-6h0m-1-1h0m-2 7h0m0-1h0m12-1h0m0-6h0m0-4h0m-5 11h0m0-4h0m4 3h0m0-5h0m-1-4h0m1-3h0m2 12h0m-1-5h0m0-5h0m1-4h0m0-4h0m-1-4h0m0-5h0m-10 29h0m0-5h0m1-4h0m0-7h0m-1 0h0m-3 16h0m0-5h0m-1-2h0m13 5h0m0-3h0m0-1h0m-7 5h0m0-2h0m6 1h0m0-1h0m-6-89h0m0 3h0m0 3h0m1 4h0m-1 3h0m0 3h0m1 3h0m-1 3h0m-3 22h0m1 3h0m0 3h0m-1 4h0m1 3h0m-1 3h0m1 3h0m0 3h0m0 4h0m0 2h0m12-28h0" stroke="#999999"/>
<path d="M2026 629 2026 554 2028 553 2030 551 2032 550 2034 548 2036 547 2038 545 2040 544 2042 544 2044 544 2046 544 2048 544 2050 544 2054 544 2054 629Z" fill="#212121"/>
<path d="M2031 546h0m3-1h0m2 0h0m2 1h0m3-5h0m3 0h0m2-1h0m3 6h0m3-4h0m-2-1h0m0-4h0m0-6h0m0-6h0m1 16h0m0-6h0m0-5h0m-11 12h0m-1-6h0m0-3h0m0-7h0m0-6h0m0 0h0m-2 24h0m0-4h0m-1-4h0m0 8h0m0-3h0m-2 4h0m0-1h0m5-2h0m0-5h0m0-3h0m0-4h0m-4 14h0m1-7h0m0-2h0m9 6h0m-1-2h0m-5 3h0m-1-6h0m0-3h0m12 8h0m-1-5h0m-12 7h0m1-2h0m1-60h0m0 3h0m1 3h0m-1 4h0m1 3h0m-1 3h0m1 3h0m-1 3h0m0 4h0m0 3h0m0 3h0m1 3h0m-1 3h0m0 3h0m9-13h0m1 3h0m-1 3h0m1 4h0m-1 3h0m0 0h0" stroke="#212121"/>
<path d="M2051 629 2051 579 2053 579 2055 578 2057 578 2059 577 2061 577 2063 576 2065 576 2067 576 2069 575 2071 575 2073 574 2075 574 2078 574 2078 629Z" fill="#999999"/>
<path d="M2056 578h0m3-7h0m3 3h0m1 0h0m3-3h0m3 1h0m2-2h0m2 0h0m4 3h0m-7-1h0m0-4h0m0-3h0m-7 9h0m-1-5h0m1-5h0m2 9h0m-1-2h0m-4 3h0m0-2h0m-3 3h0m-1-6h0m0-5h0m1-4h0m0-4h0m0-7h0m-1-3h0m0-2h0m5 30h0m1-4h0m4 3h0m0-3h0m-6 4h0m-1-4h0m0-6h0m0-3h0m0-5h0m2 18h0m0-3h0m1 3h0m1-5h0m0-4h0m-1-2h0m-6 12h0m1-2h0m9 0h0m0-7h0m0-4h0m-6-38h0m0 18h0m13-18h0" stroke="#999999"/>
<path d="M2075 629 2075 549 2077 548 2079 546 2081 545 2083 544 2085 542 2087 541 2089 540 2091 539 2093 539 2095 539 2097 539 2099 539 2102 539 2102 629Z" fill="#212121"/>
<path d="M2079 547h0m4-3h0m3-6h0m2-2h0m2 1h0m3 0h0m2-6h0m4 5h0m1 0h0m-10 0h0m0-3h0m1-4h0m-1-5h0m-7 17h0m0-4h0m-1-2h0m1 6h0m0-5h0m0-2h0m-3 8h0m0-4h0m1-2h0m4 3h0m1-4h0m-1-4h0m0-1h0m8 6h0m0-3h0m0-5h0m0-1h0m-13 16h0m0-1h0m1 0h0m0-2h0m4-1h0m0-7h0m1-5h0m0-6h0m0-4h0m0-3h0m0 25h0m-1-4h0m0-6h0m0-1h0m3 9h0m1-4h0m-1 0h0m9 3h0m-1-4h0m1-4h0m0-5h0m-15-34h0m-1 3h0m1 3h0m-1 4h0m0 3h0m1 3h0m0 3h0m-1 3h0m0 4h0m0 2h0m21-41h0m0 3h0m1 3h0m0 4h0m0 3h0m0 3h0m0 3h0m1 3h0m-1 4h0m-1 3h0m1 2h0m-7 2h0m-13-22h0" stroke="#212121"/>
<path d="M2099 629 2099 574 2101 574 2103 573 2105 573 2107 572 2109 572 2111 571 2113 571 2115 571 2117 570 2119 570 2121 569 2125 569 2125 629Z" fill="#999999"/>
<path d="M2103 569h0m3 0h0m2-4h0m4 4h0m2 2h0m3-10h0m3 8h0m2-3h0m-11 2h0m0-4h0m1-5h0m-1-4h0m0-2h0m9 13h0m0-1h0m-1 2h0m0-4h0m2 3h0m1-5h0m-1-3h0m-5 9h0m0-4h0m0-1h0m-2 6h0m0-2h0m-3 2h0m0-5h0m0 0h0m3 5h0m0-5h0m-1-4h0m0-3h0m1-4h0m0-1h0m-8 19h0m0-6h0m0-6h0m0-3h0m8 13h0m0-3h0m-6 4h0m0 0h0m7-22h0" stroke="#999999"/>
<path d="M2122 629 2122 584 2124 584 2126 583 2128 583 2130 582 2132 582 2134 581 2136 581 2138 580 2140 580 2142 579 2144 579 2147 579 2147 629Z" fill="#212121"/>
<path d="M2126 581h0m3-2h0m3-2h0m3-3h0m2 5h0m2-1h0m3-5h0m2-1h0m-13 7h0m0-5h0m0-3h0m0-5h0m0-2h0m10 13h0m0 0h0m-3 1h0m-1-5h0m0-4h0m-2 9h0m0-5h0m0-5h0m0-6h0m0-2h0m-2 19h0m-1-5h0m4 4h0m0-3h0m-2 3h0m0-4h0m3 4h0m0-1h0m-8 2h0m1-2h0m9 0h0m-1-3h0m-11 6h0m0-1h0m1-75h0m0 3h0m0 3h0m-1 4h0m1 3h0m0 3h0m0 3h0m-1 3h0m1 4h0m0 3h0m0 3h0m0 3h0m0 3h0m5-18h0" stroke="#212121"/>
<path d="M2144 629 2144 571 2146 571 2148 570 2150 570 2152 569 2154 569 2156 569 2158 568 2160 568 2162 568 2164 567 2168 567 2168 629Z" fill="#999999"/>
<path d="M2149 567h0m2 0h0m4-1h0m1-1h0m3 0h0m4 0h0m1-1h0m3 1h0m-3-1h0m0-6h0m0-4h0m0-5h0m0 0h0m-14 18h0m0-4h0m-1-7h0m0-5h0m1-7h0m0-1h0m5 23h0m1-4h0m-1-5h0m10 7h0m0-6h0m0-4h0m0-7h0m0-4h0m0-4h0m-1-3h0m1-1h0m0 29h0m0-6h0m0-5h0m0-3h0m0-5h0m0-2h0m-12 23h0m0-3h0m10 1h0m1-5h0m0-6h0m0-5h0m0-2h0m-11 20h0m0-4h0m-1-6h0m1-3h0m0-3h0m3 16h0m0-6h0m-1-7h0m1-5h0m0 18h0m0-4h0m0-3h0m0-4h0m1-4h0m-1-3h0m0-26h0m0 20h0m14-38h0" stroke="#999999"/>
<path d="M2165 629 2165 564 2167 563 2169 563 2171 562 2173 561 2175 561 2177 560 2179 560 2181 559 2183 558 2185 558 2187 557 2190 557 2190 629Z" fill="#212121"/>
<path d="M2169 559h0m4-2h0m2 1h0m3-4h0m2-1h0m3 3h0m2-3h0m4 5h0m-3-4h0m1-4h0m-1-5h0m0 9h0m-1-4h0m1-6h0m0-1h0m-15 16h0m0-4h0m0-1h0m10 2h0m0-6h0m0-1h0m-2 8h0m0-4h0m-4 5h0m1-4h0m0-5h0m8 6h0m0-2h0m-1 2h0m0-4h0m1-3h0m-3 8h0m1-3h0m-5 4h0m1-5h0m-1-5h0m0-5h0m0-4h0m0-5h0m0-5h0m1-1h0m-2 31h0m-1-5h0m0-3h0m1-1h0m9-75h0m-1 3h0m1 3h0m0 4h0m-1 3h0m1 3h0m0 3h0m-1 3h0m0 4h0m1 3h0m-1 3h0m0 3h0m1 3h0m-1 4h0m0 3h0m0 3h0m5-28h0m-18 33h0" stroke="#212121"/>
<path d="M2187 629 2187 529 2189 527 2191 526 2193 524 2195 523 2197 521 2199 520 2201 520 2203 521 2205 522 2207 523 2209 524 2212 524 2212 629Z" fill="#999999"/>
<path d="M2191 519h0m3 1h0m3-3h0m3-3h0m2 6h0m3-1h0m2-1h0m2 4h0m-4-3h0m0-5h0m1-4h0m0-5h0m-1-6h0m2 21h0m0-3h0m-14 4h0m0-6h0m1-3h0m0-3h0m6 7h0m0-4h0m-1-4h0m0-4h0m0-5h0m1-3h0m0-5h0m0-6h0m0-4h0m-1 0h0m8 38h0m-1-4h0m-13 7h0m-1-5h0m17 3h0m-1-6h0m-1-7h0m1-2h0m-15 16h0m0-3h0m0-4h0m3 5h0m0-2h0m-3 5h0m-1-4h0m5 1h0m0-6h0m7-31h0" stroke="#999999"/>
<path d="M2209 629 2209 574 2211 573 2213 572 2215 571 2217 570 2219 569 2221 568 2223 567 2225 566 2227 565 2229 564 2233 564 2233 629Z" fill="#212121"/>
<path d="M2213 568h0m2-1h0m4-2h0m2-1h0m4 0h0m1-1h0m2-2h0m4 3h0m-14 3h0m0-5h0m-3 6h0m0-7h0m2 6h0m0-5h0m0 0h0m10 1h0m-1-5h0m0-5h0m0-3h0m4 11h0m0 0h0m-6 3h0m-1-2h0m-5 4h0m1-3h0m0-1h0m1 4h0m0-7h0m0-1h0m1 7h0m0-3h0m0-2h0m6 3h0m-1-4h0m0-5h0m1 0h0m-1-55h0m1 3h0m-1 3h0m0 4h0m1 3h0m0 3h0m0 3h0m0 3h0m0 4h0m0 3h0m-1 3h0m0 3h0m0 3h0m1 4h0m-1 1h0" stroke="#212121"/>
<path d="M2230 629 2230 557 2232 556 2234 556 2236 555 2238 554 2240 553 2242 553 2244 552 2246 551 2248 550 2250 550 2252 549 2255 549 2255 629Z" fill="#999999"/>
<path d="M2234 554h0m3-4h0m4 0h0m1-3h0m4 4h0m1 0h0m4 1h0m3-4h0m-18 4h0m-1-2h0m5 0h0m0-4h0m-1-4h0m1-7h0m0-4h0m0-2h0m1 21h0m0-4h0m-5 6h0m0-4h0m16-2h0m0 0h0m-14 5h0m0-2h0m14-3h0m-1-6h0m0 0h0m-12 11h0m0-7h0m0-5h0m1-5h0m0-5h0m0-5h0m0-4h0m0-5h0m-1-5h0m0-6h0m0-3h0m10 46h0m1-3h0m-1-5h0m0-4h0m0-2h0m0 14h0m-1-3h0m0-7h0m0-5h0m0-3h0m0-6h0m0-6h0m0-4h0m0-5h0m0-5h0m0-1h0m-5 47h0m0-1h0m-6-59h0m9-7h0m-2 20h0" stroke="#999999"/>
<path d="M2252 629 2252 539 2254 539 2256 538 2258 538 2260 537 2262 537 2264 536 2266 536 2268 535 2270 535 2272 534 2276 534 2276 629Z" fill="#212121"/>
<path d="M2257 537h0m1 0h0m3 0h0m3-4h0m3 3h0m2-1h0m4-3h0m2-4h0m-13 6h0m0-4h0m0-3h0m0-4h0m0-1h0m6 10h0m1-3h0m3 2h0m0-5h0m-4 6h0m0-6h0m-1-3h0m0-6h0m0-4h0m2 19h0m0-3h0m-11 5h0m1-4h0m9 2h0m0-3h0m-1-3h0m5 5h0m-1-6h0m-3 7h0m1-3h0m0-4h0m-6 8h0m0-1h0m-6-72h0m-1 3h0m0 3h0m0 4h0m1 3h0m-1 3h0m1 3h0m0 3h0m-1 4h0m1 3h0m-1 3h0m1 3h0m-1 3h0m1 4h0m0 3h0m-1 3h0m0 3h0m1 1h0m18-48h0m0 3h0m-1 3h0m1 4h0m0 3h0m0 3h0m0 3h0m0 3h0m-1 4h0m1 3h0m0 3h0m0 3h0m-1 3h0" stroke="#212121"/>
<path d="M2273 629 2273 574 2275 573 2277 572 2279 571 2281 570 2283 569 2285 568 2287 567 2289 566 2291 565 2293 564 2297 564 2297 629Z" fill="#999999"/>
<path d="M2277 572h0m3-7h0m4 1h0m2 1h0m3-3h0m2 3h0m3-7h0m3 5h0m-4-3h0m-1-6h0m0-3h0m0-3h0m1 11h0m0 0h0m-1 1h0m-1-2h0m-8 6h0m0-5h0m0-6h0m0-6h0m0-7h0m0-5h0m0-7h0m5 34h0m0-3h0m0-5h0m0-6h0m-1-5h0m0-5h0m1-1h0m-9 29h0m-1-2h0m16-5h0m0-3h0m-6 6h0m1-7h0m-1-3h0m-8 13h0m1-1h0m2 0h0m0-3h0m0 0h0m4-21h0" stroke="#999999"/>
<path d="M2294 629 2294 539 2296 537 2298 535 2300 534 2302 532 2304 530 2306 528 2308 527 2310 526 2312 525 2314 524 2317 524 2317 629Z" fill="#212121"/>
<path d="M2298 537h0m4-7h0m2-1h0m3 2h0m1-3h0m3-6h0m4-4h0m-15 13h0m-1-1h0m3-1h0m0 0h0m9-6h0m0-4h0m2 2h0m1-1h0m-10 7h0m-1-5h0m0-6h0m1-5h0m0-2h0m-4 21h0m1-1h0m8-5h0m0-4h0m0-3h0m0-2h0m-7 13h0m1-5h0m0-4h0m0-1h0m-3 13h0m-1-1h0m10-6h0m1-6h0m-1-6h0m0-2h0m7-83h0m0 3h0m0 3h0m0 4h0m0 3h0m1 3h0m0 3h0m-1 3h0m1 4h0m0 3h0m-1 3h0m1 3h0m-1 3h0m0 4h0m0 3h0m0 3h0m0 3h0m0 3h0m1 4h0m0 3h0m0 3h0m-1 3h0m0 3h0m-16-33h0m2 3h0m-1 3h0m0 4h0m0 3h0m0 3h0m0 3h0m-1 3h0m0 4h0m1 3h0m1 3h0m-1 1h0" stroke="#212121"/>
<path d="M2314 629 2314 534 2316 533 2318 532 2320 531 2322 530 2324 529 2326 530 2328 532 2330 535 2332 537 2334 539 2337 539 2337 629Z" fill="#999999"/>
<path d="M2318 527h0m3-1h0m3 0h0m3 2h0m2 4h0m3 3h0m3 3h0m-7-9h0m0-6h0m-1-1h0m0 5h0m-1-5h0m0-5h0m6 17h0m0-4h0m1-3h0m-1 0h0m-1 6h0m0-4h0m0-5h0m0-2h0m1 12h0m0-5h0m0-5h0m0-5h0m0-4h0m0-4h0m-1-4h0m1-6h0m0-6h0m0-4h0m0-6h0m0-6h0m-1-3h0m1-5h0m-13 58h0m0-5h0m11 7h0m-1-4h0m0-4h0m1-3h0m-1-5h0m1-4h0m0-4h0m-1-3h0m0-4h0m0-3h0m-2 32h0m0-4h0m0-4h0m0-5h0m1-3h0m-1-5h0m2 23h0m1-4h0m-1-5h0m0-4h0m0-4h0m-5 12h0m1-5h0m0-4h0m0-5h0m0-5h0m0-3h0m0-5h0m0 0h0m0-53h0m5 20h0m9 3h0m-19 11h0m8 10h0" stroke="#999999"/>
<path d="M2334 629 2334 561 2336 561 2338 560 2340 560 2342 559 2344 559 2346 559 2348 558 2350 558 2352 557 2354 557 2357 557 2357 629Z" fill="#212121"/>
<path d="M2338 560h0m4-6h0m2 0h0m3-5h0m3 5h0m2 2h0m3 0h0m-10 0h0m0-4h0m0-4h0m0-5h0m0-3h0m0-4h0m-5 21h0m0-4h0m13 1h0m0-3h0m1-5h0m-1-5h0m0 0h0m-7 14h0m1-4h0m1 4h0m0-3h0m-1-4h0m0-1h0m3 8h0m1-4h0m-11 6h0m1-1h0m4 0h0m1 0h0m1-1h0m0-6h0m-1-5h0m1-4h0m0-5h0m0-4h0m0-1h0m-4 26h0m-1-4h0m1-5h0m-1-4h0m0-4h0m0-4h0m1-4h0m-1 0h0m4-35h0m1 14h0m0 15h0" stroke="#212121"/>
<path d="M2354 629 2354 574 2356 573 2358 573 2360 572 2362 572 2364 571 2366 571 2368 570 2370 570 2372 569 2376 569 2376 629Z" fill="#999999"/>
<path d="M2358 568h0m3 1h0m2 0h0m3-2h0m3-1h0m3-1h0m2 0h0m-10 3h0m0-3h0m1-1h0m-1 5h0m-1-2h0m3 1h0m0-6h0m0-5h0m0-3h0m0 0h0m-4 15h0m1-1h0m3 0h0m-1-4h0m0-7h0m1-5h0m-1-5h0m0-2h0m6 22h0m-1-4h0m2-3h0m0-6h0m-1-6h0m0-7h0m0-4h0m0-2h0m1 31h0m0-5h0m-2 6h0m0-4h0m0-7h0m0-6h0m1-5h0m-1-6h0m0 28h0m0-6h0m0-5h0m1-6h0m-1-3h0m1-97h0m1 30h0m-12 32h0" stroke="#999999"/>
<path d="M2373 629 2373 589 2375 588 2377 587 2379 586 2381 586 2383 585 2385 584 2387 583 2389 582 2391 581 2395 581 2395 629Z" fill="#212121"/>
<path d="M2377 583h0m4-3h0m1 0h0m4 1h0m3 0h0m1-2h0m3-1h0m-14 6h0m0-5h0m2 3h0m1-2h0m1 2h0m0-4h0m0-3h0m7 4h0m-1-4h0m1-4h0m0-5h0m0 13h0m0-5h0m1 0h0m-6 7h0m1-4h0m5 2h0m-1-5h0m1-1h0m-12 11h0m-2-6h0m1 0h0m11 1h0m0-1h0m-8-39h0m-1 3h0m1 3h0m0 3h0m-1 3h0m0 4h0m0 2h0" stroke="#212121"/>
<path d="M2392 629 2392 577 2394 576 2396 575 2398 574 2400 573 2402 573 2404 572 2406 571 2408 570 2410 569 2413 569 2413 629Z" fill="#999999"/>
<path d="M2397 570h0m3-1h0m2-5h0m3 4h0m2 3h0m2-8h0m-8 7h0m0-4h0m6 1h0m-1-3h0m1-2h0m-5 8h0m-1-3h0m7 0h0m-1-4h0m1-4h0m2 7h0m-1-3h0m0-6h0m0-4h0m1-3h0m0-6h0m0-3h0m-1-6h0m1-4h0m-1-6h0m0-1h0m-4 44h0m0-2h0m-7 5h0m-1-6h0m1-2h0m-1 8h0m1-4h0m0-5h0m7 6h0m1-6h0m0-3h0m0-2h0m-4-40h0m0 20h0m11-26h0" stroke="#999999"/>
<path d="M2410 629 2410 569 2412 565 2414 561 2416 557 2418 553 2420 549 2422 543 2424 536 2426 530 2428 524 2431 524 2431 629Z" fill="#212121"/>
<path d="M2414 562h0m4-10h0m1-7h0m4-6h0m3-6h0m1-13h0m-9 32h0m-1-5h0m0-1h0m9-19h0m1-4h0m0-5h0m0-4h0m-1-3h0m0-4h0m0-3h0m-3 31h0m0-5h0m0-5h0m0-3h0m0-5h0m2 12h0m0-4h0m0-3h0m3-1h0m0-5h0m0-1h0m-7 30h0m-1-4h0m-2 8h0m1-4h0m-3 8h0m1-4h0m3-6h0m1 0h0m-2-26h0m0 3h0m0 3h0m0 4h0m0 3h0m0 3h0m1 3h0m-1 3h0m0 4h0m1 3h0m-1 3h0m0 3h0m5-52h0" stroke="#212121"/>
<path d="M2428 629 2428 514 2430 512 2432 510 2434 507 2436 505 2438 505 2440 507 2442 510 2444 512 2446 514 2449 514 2449 629Z" fill="#999999"/>
<path d="M2433 507h0m3-1h0m3-6h0m2 6h0m3 6h0m2-1h0m-1-1h0m-1-7h0m1-1h0m-11 4h0m-1-1h0m6-2h0m-1-3h0m6 9h0m0-4h0m0-1h0m-4 1h0m0-7h0m1-4h0m-1-4h0m5 19h0m-1-5h0m-4 1h0m1-7h0m0-4h0m0-4h0m-1-3h0m2 19h0m-1-6h0m0 0h0m-7 4h0m0-3h0m1-3h0m-1-4h0m0-5h0m0-7h0m0-1h0m3-37h0m11 25h0m-8-9h0" stroke="#999999"/>
<path d="M2446 629 2446 559 2448 558 2450 558 2452 557 2454 557 2456 556 2458 555 2460 555 2462 554 2466 554 2466 629Z" fill="#212121"/>
<path d="M2450 554h0m3 0h0m2 0h0m3-5h0m2 5h0m3-7h0m-9 6h0m1-1h0m0 1h0m1-4h0m-1-4h0m0-2h0m7 8h0m0-2h0m-8 5h0m-1-6h0m0-4h0m9 7h0m0-1h0m1 1h0m0-6h0m0-3h0m0-2h0m-7 13h0m0-4h0m0-5h0m0-4h0m-3 14h0m0-4h0m14-20h0m1 3h0m0 3h0m0 3h0m0 3h0m0 4h0m0 1h0" stroke="#212121"/>
<path d="M2463 629 2463 574 2465 574 2467 574 2469 574 2471 574 2473 574 2475 574 2477 574 2479 574 2481 574 2484 574 2484 629Z" fill="#999999"/>
<path d="M2469 570h0m1 1h0m3 1h0m2 1h0m3 0h0m2-2h0m-11 0h0m0-1h0m6 1h0m0-3h0m-2 3h0m0-6h0m0-2h0m5 8h0m0-7h0m-1-5h0m1-4h0m-5 16h0m0-4h0m4 4h0m0-4h0m1-3h0m-1-7h0m0-1h0m-2 15h0m0-6h0m1-6h0m-1-3h0m0 15h0m0-6h0m0-3h0m1-4h0m0-4h0m-1-4h0m0-1h0m-3 22h0m0-3h0m0-4h0m0-5h0m0-6h0m0-6h0m0-4h0m0-3h0m1-3h0m-1-3h0" stroke="#999999"/>
<path d="M2481 629 2481 499 2483 497 2485 495 2487 492 2489 490 2491 490 2493 491 2495 492 2497 493 2501 494 2501 629Z" fill="#212121"/>
<path d="M2486 487h0m3 5h0m1-3h0m4 0h0m3-2h0m2 2h0m-11 0h0m0-1h0m-1 0h0m1-4h0m0-1h0m5 4h0m-1-1h0m6 4h0m-1-4h0m1-3h0m-1-6h0m0-3h0m-9 15h0m-1-3h0m2 0h0m1-5h0m0-3h0m0-3h0m8 16h0m0-4h0m0-3h0m-5 4h0m-1-5h0m1-2h0m-4-33h0m10 19h0" stroke="#212121"/>
<path d="M2498 629 2498 539 2500 538 2502 536 2504 535 2506 534 2508 533 2510 532 2512 531 2514 530 2518 529 2518 629Z" fill="#999999"/>
<path d="M2502 533h0m2 2h0m5-4h0m2-2h0m3-3h0m1 1h0m-9 4h0m1-4h0m-1-4h0m9 3h0m0-5h0m0-5h0m0-1h0m-1 11h0m0-3h0m1-3h0m-13 13h0m1-4h0m0-2h0m1 5h0m0-3h0m0-5h0m0-1h0m0 10h0m0-4h0m0-6h0m10 4h0m0-6h0m0-4h0m-6 13h0m-1-5h0m0-3h0m3-78h0m-2 53h0" stroke="#999999"/>
<path d="M2515 629 2515 504 2517 504 2519 504 2521 504 2523 504 2525 504 2527 504 2529 504 2531 504 2534 504 2534 629Z" fill="#212121"/>
<path d="M2519 500h0m4-2h0m2 4h0m2-5h0m2 0h0m4 1h0m-6 3h0m0-3h0m-1 3h0m0-6h0m0-1h0m3 7h0m0-1h0m-4 1h0m-1-7h0m1-1h0m1 8h0m0-2h0m-1 2h0m1-2h0m-3 2h0m0-1h0m1 1h0m0-1h0m2-165h0m0 109h0m2 32h0" stroke="#212121"/>
<path d="M2531 629 2531 571 2533 571 2535 570 2537 570 2539 570 2541 570 2543 569 2545 569 2549 569 2549 629Z" fill="#999999"/>
<path d="M2535 567h0m4-7h0m2 4h0m2 6h0m3-4h0m-1 0h0m0-2h0m0 2h0m-1-5h0m0-4h0m0-3h0m-5 13h0m0-3h0m0-1h0m-2 4h0m0-6h0m0-6h0m1 12h0m1-1h0m-1 1h0m-1-4h0m2 4h0m1-4h0m-1-4h0m1-4h0m0-2h0" stroke="#999999"/>
<path d="M2546 629 2546 564 2548 564 2550 563 2552 563 2554 562 2556 562 2558 562 2560 561 2562 561 2565 561 2565 629Z" fill="#212121"/>
<path d="M2550 559h0m3-2h0m3 1h0m3 2h0m1-5h0m3 6h0m-1-3h0m-1-4h0m1-2h0m0 6h0m0 0h0m-11 2h0m1-6h0m8 4h0m0-2h0m-1 3h0m0-1h0m-5 1h0m1-1h0m0 1h0m-1-5h0m0-6h0m0-5h0m3 16h0m0-4h0m-5-45h0m0 17h0" stroke="#212121"/>
<path d="M2562 629 2562 564 2564 564 2566 563 2568 563 2570 562 2572 562 2574 562 2576 561 2580 561 2580 629Z" fill="#999999"/>
<path d="M2568 560h0m1-5h0m2 5h0m4 1h0m3 1h0m-8-3h0m0 0h0m6-1h0m0-6h0m0-5h0m0-7h0m0-5h0m0 0h0m-2 23h0m1-3h0m0-5h0m-6 10h0m0-4h0m-1-5h0m0-3h0m1-7h0m0-4h0m2 22h0m1-5h0m0-2h0m-5 8h0m0-7h0m0-4h0m6 10h0m0-3h0" stroke="#999999"/>
<path d="M2577 629 2577 569 2579 568 2581 568 2583 567 2585 566 2587 566 2589 565 2591 564 2595 564 2595 629Z" fill="#212121"/>
<path d="M2581 562h0m3 5h0m4-3h0m2-5h0m1 4h0m-2-1h0m0-5h0m0-3h0m-8 10h0m0-6h0m1-5h0m0-2h0m9 10h0m0-1h0m-7 4h0m0-3h0m-1-1h0m7 1h0m1-4h0m-8 7h0m-1-3h0m1-5h0m0 8h0m0-7h0m0-5h0m0-5h0m2-34h0" stroke="#212121"/>
<path d="M2592 629 2592 564 2594 564 2596 563 2598 563 2600 562 2602 562 2604 561 2606 561 2609 561 2609 629Z" fill="#999999"/>
<path d="M2598 561h0m1 6h0m4-8h0m2 8h0m2-8h0m-5 0h0m0-6h0m0-4h0m-1-6h0m0-3h0m1-4h0m0-6h0m1-4h0m-1-4h0m0-1h0m-2 38h0m-1-6h0m0-5h0m0-2h0m3 13h0m0-2h0m2 1h0m0-1h0m1 1h0m-1-4h0m0-5h0m0 0h0m0 9h0m0-3h0m-7 5h0m0-6h0m0-1h0m9-31h0" stroke="#999999"/>
<path d="M2606 629 2606 569 2608 563 2610 558 2612 545 2614 525 2616 514 2618 512 2620 509 2622 507 2624 505 2627 505 2627 629Z" fill="#212121"/>
<path d="M2612 558h0m0-30h0m4-16h0m2-6h0m2-4h0m4-1h0m-5 6h0m0-5h0m-7 43h0m0 0h0m12-42h0m-1-5h0m1-6h0m-1-6h0m0-3h0m-5 26h0m0-3h0m1 2h0m0-1h0m-1 2h0m-1-5h0m1-4h0m4 4h0m0-4h0m-6 11h0m0-3h0m-3 28h0m0-4h0m0-1h0m10-77h0m1 3h0m0 3h0m0 4h0m0 3h0m0 3h0m0 3h0m0 3h0m0 4h0m0 3h0m-1 3h0m1 3h0m1 3h0m0 4h0m-1 1h0" stroke="#212121"/>
<path d="M2620 629 2620 566 2622 566 2624 566 2626 566 2628 566 2630 566 2632 566 2636 566 2636 629Z" fill="#999999"/>
<path d="M2625 565h0m3-4h0m1 1h0m4 1h0m-4 0h0m0 0h0m2 0h0m1-4h0m-1-2h0m1 6h0m-1-4h0m-5 4h0m0-3h0m0-3h0m3 6h0m0-3h0m-4 3h0m0-3h0m0-4h0m0-1h0" stroke="#999999"/>
<path d="M2633 629 2633 551 2635 551 2637 551 2639 551 2641 551 2643 551 2645 551 2649 551 2649 629Z" fill="#212121"/>
<path d="M2638 551h0m2-5h0m3 8h0m2-7h0m-7 1h0m1-4h0m-1 0h0m0 4h0m0-3h0m0-3h0m5 6h0m0-4h0m1-4h0m0-2h0m1 10h0m-1 0h0m-1 0h0m0-1h0m-3 1h0m0-2h0m5-37h0" stroke="#212121"/>
<path d="M2646 629 2646 541 2648 541 2650 541 2652 541 2654 541 2656 541 2658 541 2662 541 2662 629Z" fill="#999999"/>
<path d="M2651 537h0m2-1h0m3-1h0m2 3h0m-2 0h0m-1-3h0m-2 3h0m0-2h0m-2 2h0m0-4h0m1-3h0m-1-3h0m0-5h0m6 15h0m0-4h0m0 4h0m0-1h0m-1 1h0m0-4h0m-1-4h0m1-1h0" stroke="#999999"/>
<path d="M2659 629 2659 533 2661 533 2663 533 2665 533 2667 533 2669 533 2671 533 2674 533 2674 629Z" fill="#212121"/>
<path d="M2664 529h0m2-2h0m2 4h0m3-3h0m-4 2h0m0-6h0m0-4h0m-3 10h0m0-1h0m1 1h0m-1-4h0m1-5h0m0-2h0m5 11h0m0-4h0m-1 4h0m1-2h0m-1 2h0m1 0h0" stroke="#212121"/>
<path d="M2671 629 2671 521 2673 521 2675 521 2677 521 2679 521 2681 521 2683 521 2686 521 2686 629Z" fill="#999999"/>
<path d="M2676 517h0m2-1h0m3 0h0m2-4h0m-3 6h0m0-2h0m0 2h0m-1-2h0m-2 2h0m1-4h0m-1 0h0m6 4h0m-1-3h0m-3 3h0m0 0h0m1 0h0m-1-3h0m-3-18h0" stroke="#999999"/>
<path d="M2683 629 2683 514 2685 514 2687 514 2689 514 2691 514 2693 514 2695 514 2698 514 2698 629Z" fill="#212121"/>
<path d="M2687 515h0m3 0h0m3-6h0m3 4h0m-7-2h0m-1-4h0m2 4h0m1-4h0m0 0h0m-2 4h0m-1-3h0m1-1h0m4 4h0m0-1h0m1 1h0m-1-4h0m0-5h0m0-6h0m0 0h0m0 15h0m0-6h0m0-2h0m-4-92h0m1 3h0m-1 3h0m-1 4h0m1 3h0m1 3h0m-1 3h0m0 1h0m0 18h0m1 3h0m-1 3h0m0 4h0m0 3h0m1 3h0m-1 3h0m1 3h0m-1 4h0m0 3h0m0 3h0m0 0h0" stroke="#212121"/>
<path d="M2695 629 2695 526 2697 526 2699 526 2701 526 2703 526 2705 526 2709 526 2709 629Z" fill="#999999"/>
<path d="M2699 520h0m2 2h0m3 1h0m4 2h0m-7-2h0m0-2h0m4 2h0m0-1h0m-1 1h0m0 0h0m-5 0h0m1-1h0m4 1h0m0-1h0m4-29h0" stroke="#999999"/>
<path d="M2706 629 2706 531 2708 531 2710 531 2712 531 2714 531 2716 531 2718 531 2721 531 2721 629Z" fill="#212121"/>
<path d="M2711 528h0m3-1h0m1 0h0m3 6h0m-5-5h0m0 0h0m5 0h0m0-6h0m-1-4h0m-4 10h0m0-5h0m1 5h0m0-5h0m0-5h0m0-3h0m0-2h0m2 15h0m0-6h0m-1-4h0m1 0h0m0 10h0m0-2h0" stroke="#212121"/>
<path d="M2718 629 2718 551 2720 551 2722 551 2724 551 2726 551 2728 551 2732 551 2732 629Z" fill="#999999"/>
<path d="M2722 546h0m3-1h0m2 5h0m4 2h0m-6-4h0m0-3h0m0-5h0m0-3h0m1 11h0m-1-4h0m0 0h0m1 4h0m0 0h0m-3 0h0m0-3h0m4 3h0m0-5h0" stroke="#999999"/>
<path d="M2729 629 2729 542 2731 542 2733 541 2735 541 2737 541 2739 540 2743 540 2743 629Z" fill="#212121"/>
<path d="M2735 538h0m2 1h0m1-2h0m3 0h0m-5 1h0m-1-3h0m-1 3h0m-1-4h0m1-2h0m0 6h0m1-1h0m5 0h0m0-6h0m-1-4h0m1 0h0m-6 11h0m0-1h0m4-39h0m1 3h0m-1 3h0m0 4h0m1 3h0m-2 3h0m1 3h0m0 3h0m-1 4h0m2 3h0m-1 3h0m0 3h0m1-34h0" stroke="#212121"/>
<path d="M2740 629 2740 512 2742 511 2744 510 2746 509 2748 508 2750 507 2754 507 2754 629Z" fill="#999999"/>
<path d="M2744 508h0m4-5h0m1 0h0m3 0h0m-6 3h0m0 0h0m1 0h0m0-4h0m0-5h0m0-7h0m-1-6h0m1-2h0m0 24h0m0-3h0m-1-4h0m1 0h0m-2 8h0m0-5h0m2 4h0m0-2h0m2-40h0m1 11h0" stroke="#999999"/>
<path d="M2751 629 2751 519 2753 519 2755 519 2757 519 2759 519 2761 519 2764 519 2764 629Z" fill="#212121"/>
<path d="M2755 512h0m3 0h0m2 3h0m0 1h0m0-4h0m-1 4h0m0-4h0m0 0h0m0 4h0m0-1h0m2 1h0m0-4h0m0 4h0m0-3h0m-3-17h0m-1 4h0m1 3h0m0 3h0m0 3h0m-1 3h0m1 4h0m0 3h0m0 3h0m1 3h0m-2 4h0m1 0h0" stroke="#212121"/>
<path d="M2761 629 2761 549 2763 549 2765 549 2767 549 2769 549 2771 549 2775 549 2775 629Z" fill="#999999"/>
<path d="M2766 548h0m2-6h0m3 4h0m2 0h0m-6 0h0m0-4h0m0-4h0m3 8h0m0-1h0m0 1h0m1-2h0m-2 2h0m0-1h0m-2 1h0m0-3h0m2-166h0m-2 3h0m1 3h0m0 4h0m-1 3h0m1 3h0m0 3h0m0 3h0m0 4h0m0 3h0m1 3h0m-1 3h0m0 3h0m0 4h0m0 3h0m1 3h0m-1 3h0m1 3h0m-1 4h0m0 3h0m-1 3h0m1 3h0m0 3h0m0 4h0m1 3h0m0 3h0m-1 3h0m0 3h0m0 4h0m0 3h0m0 3h0m1 3h0m-1 3h0m0 4h0m0 3h0m0 3h0m0 3h0m0 3h0m0 4h0m0 3h0m0 3h0m-1 3h0m1 3h0m1 4h0m-1 3h0m-1 3h0m0 3h0m1 3h0m0 4h0m1 3h0m0 3h0m-1 3h0m2-162h0m1 3h0m1 3h0m-1 4h0m1 3h0m-1 3h0m0 3h0m0 3h0m0 4h0m0 3h0m1 3h0m-1 3h0m0 3h0m0 4h0m1 3h0m-1 3h0m0 3h0m1 3h0m-1 4h0m0 3h0m-1 3h0m0 3h0m1 3h0m0 4h0m-1 3h0m1 3h0m-1 3h0m1 3h0m0 4h0m0 3h0m0 3h0m1 3h0m-1 3h0m-1 4h0m2 3h0m-1 3h0m1 3h0m-1 3h0m-1 4h0m1 3h0m0 3h0m0 3h0m0 3h0m1 4h0m0 3h0m-1 3h0m1 3h0m0 3h0m-1 4h0m1 3h0m0 3h0m-1 2h0m3-145h0m0 3h0m0 3h0m0 4h0m0 3h0m0 3h0m-1 3h0m0 3h0m1 4h0m0 3h0m0 3h0m0 3h0m0 3h0m0 4h0m-1 3h0m1 3h0m0 3h0m0 3h0m0 4h0m0 3h0m1 3h0m-1 3h0m0 3h0m0 4h0m0 3h0m-1 3h0m1 3h0m0 3h0m1 4h0m-1 3h0m0 3h0m1 3h0m-1 3h0m0 4h0m0 3h0m-1 3h0m1 3h0m0 3h0m1 4h0m-1 3h0m0 3h0m0 3h0m0 3h0m-1 4h0m1 3h0m-1 3h0m1 1h0m-8-120h0m0 3h0m-1 3h0m1 4h0m0 3h0m-1 3h0m1 3h0m0 3h0m-1 4h0m0 3h0m1 3h0m1 3h0m0 3h0m-2 4h0m1 3h0m0 3h0m-1 3h0m1 3h0m0 4h0m-1 3h0m2 3h0m-1 3h0m0 3h0m1 4h0m-2 3h0m0 3h0m1 3h0m0 3h0m0 4h0m0 3h0m1 3h0m-1 3h0m-1 3h0m1 4h0m1 3h0m-1 3h0m-1 3h0m1 3h0m0 2h0m2-223h0m0 29h0" stroke="#999999"/>
<path d="M2772 629 2772 546 2774 546 2776 546 2778 546 2780 546 2782 546 2785 546 2785 629Z" fill="#212121"/>
<path d="M2776 542h0m4 3h0m2-1h0m-1-1h0m0-4h0m0-3h0m0-1h0m0 8h0m1-6h0m-1-1h0m-1 7h0m0-4h0m-3 4h0m0-2h0m3 2h0m0-2h0" stroke="#212121"/>
<path d="M2782 629 2782 541 2784 541 2786 541 2788 541 2790 541 2792 541 2795 541 2795 629Z" fill="#999999"/>
<path d="M2786 538h0m3-2h0m4 2h0m-3 0h0m1-7h0m0-2h0m-4 9h0m1-1h0m2 1h0m0 0h0m1 0h0m0 0h0m-2 0h0m-1-2h0m1-9h0" stroke="#999999"/>
<path d="M2792 629 2792 531 2794 531 2796 531 2798 531 2800 531 2802 531 2805 531 2805 629Z" fill="#212121"/>
<path d="M2797 530h0m2-2h0m2-2h0m2 2h0m-1-5h0m-1 5h0m0-2h0m-2 2h0m0-4h0m0-4h0m0-2h0m-1 10h0m0-6h0m0-2h0m2 8h0m-1-4h0m2-11h0m-6 0h0" stroke="#212121"/>
<path d="M2802 629 2802 549 2804 549 2806 549 2808 549 2810 549 2812 549 2815 549 2815 629Z" fill="#999999"/>
<path d="M2806 545h0m4 0h0m3-3h0m-5 4h0m0-7h0m0-1h0m-1 8h0m0-1h0m2 1h0m0 0h0m3 0h0m-1-1h0m-3 1h0m0-2h0" stroke="#999999"/>
<path d="M2812 629 2812 536 2814 536 2816 536 2818 536 2820 536 2822 536 2825 536 2825 629Z" fill="#212121"/>
<path d="M2816 531h0m3 1h0m3 1h0m-3 0h0m0-1h0m-1 1h0m1-5h0m-1 5h0m0 0h0m2 0h0m0-1h0m-1 1h0m0-1h0" stroke="#212121"/>
<path d="M2822 629 2822 554 2824 554 2826 554 2828 554 2830 554 2832 554 2835 554 2835 629Z" fill="#999999"/>
<path d="M2826 557h0m4-6h0m1 3h0m-1-3h0m0-2h0m0 2h0m-1 0h0m-1 0h0m0-6h0m0-2h0m1 8h0m1-1h0m2 1h0m0-3h0m2-35h0" stroke="#999999"/>
<path d="M2832 629 2832 549 2834 549 2836 549 2838 549 2840 549 2842 549 2845 549 2845 629Z" fill="#212121"/>
<path d="M2836 548h0m3 0h0m3-3h0m-1 1h0m0-7h0m0-3h0m0-4h0m1 14h0m0-3h0m-4 3h0m1 0h0m-2 0h0m0-1h0m1 1h0m0 0h0m5-68h0m2 3h0m0 3h0m0 4h0m0 3h0m-1 0h0m0 10h0m0 3h0m-1 3h0m1 4h0m0 3h0m0 3h0m0 3h0m-2-61h0" stroke="#212121"/>
<path d="M2842 629 2842 554 2844 554 2846 554 2848 554 2850 554 2852 554 2855 554 2855 629Z" fill="#999999"/>
<path d="M2846 550h0m2 3h0m3-6h0m-2 4h0m0 0h0m3 0h0m0-2h0m-1 2h0m0 0h0m0 0h0m0-2h0m-4 2h0m0-2h0" stroke="#999999"/>
<path d="M2852 629V560H2873.2V629Z" fill="#212121"/>
<path d="M2863 605v15M2858 570v14M2858 544v9" stroke="#212121"/>
<path d="M2857 555h0m11 0h0m-1-31h0" stroke="#212121"/>
<path d="M2863.8 629V562H2882.8V629Z" fill="#999999"/>
<path d="M2878 606v21M2869 591v9M2874 550v5M2869 541v14" stroke="#999999"/>
<path d="M2868 557h0m10-1h0m-6-64h0" stroke="#999999"/>
<path d="M2873.4 629V528H2892.5V629Z" fill="#212121"/>
<path d="M2880 528v20M2881 545v14M2884 518v3" stroke="#212121"/>
<path d="M2878 523h0m10 1h0m-10 4h0" stroke="#212121"/>
<path d="M2883.1 629V554H2902.1V629Z" fill="#999999"/>
<path d="M2892 571v11M2895 617v20M2894 541v6M2895 531v16" stroke="#999999"/>
<path d="M2888 548h0m9-1h0m-1-26h0" stroke="#999999"/>
<path d="M2892.7 629V505H2911.6V629Z" fill="#212121"/>
<path d="M2904 612v29M2898 511v22M2899 494v4" stroke="#212121"/>
<path d="M2897 499h0m10 2h0m-7 24h0m2-4h0" stroke="#212121"/>
<path d="M2902.2 629V533H2921V629Z" fill="#999999"/>
<path d="M2916 587v26M2916 551v10M2910 506v20M2908 505v21" stroke="#999999"/>
<path d="M2907 527h0m9 1h0m-9 2h0m3-25h0m4-22h0m-2 23h0" stroke="#999999"/>
<path d="M2911.6 629V533H2930.3V629Z" fill="#212121"/>
<path d="M2922 540v18M2917 580v27M2924 516v10M2918 520v6M2920 513v13" stroke="#212121"/>
<path d="M2916 529h0m10-2h0m-7-3h0m1-32h0m2 32h0" stroke="#212121"/>
<path d="M2920.9 629V554H2939.4V629Z" fill="#999999"/>
<path d="M2931 550v7M2927 552v21M2926 535v12M2928 538v9M2930 517v30" stroke="#999999"/>
<path d="M2926 549h0m9 1h0m-8-44h0m3-16h0m3 14h0m1 16h0" stroke="#999999"/>
<path d="M2930 629V556H2948.4V629Z" fill="#212121"/>
<path d="M2935 577v20M2941 614v25M2935 519v30M2942 540v9" stroke="#212121"/>
<path d="M2935 550h0m9 2h0m-2-30h0m-7 24h0" stroke="#212121"/>
<path d="M2939 629V535H2957.3V629Z" fill="#999999"/>
<path d="M2950 553v20M2944 561v12M2947 520v8" stroke="#999999"/>
<path d="M2944 531h0m9-1h0m-7-42h0m2-5h0" stroke="#999999"/>
<path d="M2947.9 629V538H2966V629Z" fill="#212121"/>
<path d="M2954 620v23M2955 607v29M2958 519v13M2960 525v6" stroke="#212121"/>
<path d="M2953 532h0m8 1h0m-7-6h0" stroke="#212121"/>
<path d="M2956.6 629V549H2974.6V629Z" fill="#999999"/>
<path d="M2970 580v27M2966 563v11" stroke="#999999"/>
<path d="M2961 545h0m9-2h0m-5-44h0m-4 30h0" stroke="#999999"/>
<path d="M2965.2 629V520H2982.9V629Z" fill="#212121"/>
<path d="M2974 595v26M2976 595v25M2975 510v3M2972 500v14" stroke="#212121"/>
<path d="M2970 515h0m8-1h0m-7 13h0m4-7h0" stroke="#212121"/>
<path d="M2973.5 629V528H2991V629Z" fill="#999999"/>
<path d="M2985 541v9M2984 555v29M2982 514v7M2985 513v8" stroke="#999999"/>
<path d="M2978 523h0m8-2h0m-3 3h0m1 5h0" stroke="#999999"/>
<path d="M2981.6 629V544H2999V629Z" fill="#212121"/>
<path d="M2988 575v10M2993 565v15M2990 532v6M2988 530v8" stroke="#212121"/>
<path d="M2986 538h0m8 0h0m-6-15h0m5-8h0m0-4h0" stroke="#212121"/>
<path d="M2989.6 629V541H3006.7V629Z" fill="#999999"/>
<path d="M2995 587v12M2994 584v10M3000 508v26M2997 512v22" stroke="#999999"/>
<path d="M2994 534h0m8 1h0m-7-21h0m4-4h0" stroke="#999999"/>
<path d="M2997.3 629V554H3014.3V629Z" fill="#212121"/>
<path d="M3004 590v10M3003 551v16" stroke="#212121"/>
<path d="M3002 549h0m8-2h0m-7-73h0m2 67h0" stroke="#212121"/>
<path d="M3004.9 629V534H3021.8V629Z" fill="#999999"/>
<path d="M3015 551v21M3013 581v15M3013 518v9M3015 517v11" stroke="#999999"/>
<path d="M3010 529h0m7 0h0m-5-2h0m2-38h0m1 38h0m0-30h0m-1 14h0" stroke="#999999"/>
<path d="M3012.4 629V541H3029.2V629Z" fill="#212121"/>
<path d="M3021 562v10M3018 553v26M3023 530v4M3020 520v14" stroke="#212121"/>
<path d="M3017 534h0m8 0h0m-4-1h0" stroke="#212121"/>
<path d="M3019.8 629V555H3036.5V629Z" fill="#999999"/>
<path d="M3026 596v12M3025 594v15M3027 536v12" stroke="#999999"/>
<path d="M3025 550h0m7-1h0m-4-24h0m2 22h0" stroke="#999999"/>
<path d="M3027.1 629V546H3043.7V629Z" fill="#212121"/>
<path d="M3039 561v9M3035 567v22M3033 510v30" stroke="#212121"/>
<path d="M3032 540h0m7 1h0m-5-45h0m4-30h0" stroke="#212121"/>
<path d="M3034.3 629V549H3050.7V629Z" fill="#999999"/>
<path d="M3039 554v9M3039 577v9M3044 532v10" stroke="#999999"/>
<path d="M3039 545h0m7-2h0m-1-30h0m-3 26h0" stroke="#999999"/>
<path d="M3041.3 629V552H3057.6V629Z" fill="#212121"/>
<path d="M3049 552v10M3052 573v8M3050 533v13M3050 541v4" stroke="#212121"/>
<path d="M3046 546h0m7 1h0" stroke="#212121"/>
<path d="M3048.2 629V545H3064.5V629Z" fill="#999999"/>
<path d="M3058 559v20M3057 580v14M3054 529v9M3056 521v17" stroke="#999999"/>
<path d="M3053 539h0m7 2h0m-7-33h0m2 2h0m1 17h0m4-23h0" stroke="#999999"/>
<path d="M3055.1 629V543H3071.2V629Z" fill="#212121"/>
<path d="M3061 574v9M3064 569v28M3063 528v8" stroke="#212121"/>
<path d="M3060 539h0m6-2h0m-6-13h0m1 6h0m1-4h0m1 1h0m3-24h0m-3 33h0" stroke="#212121"/>
<path d="M3061.8 629V516H3077.8V629Z" fill="#999999"/>
<path d="M3069 513v18M3069 560v26M3071 503v6M3070 493v16" stroke="#999999"/>
<path d="M3066 511h0m7 0h0m-5-16h0m1 30h0" stroke="#999999"/>
<path d="M3068.4 629V530H3084.3V629Z" fill="#212121"/>
<path d="M3077 589v9M3076 609v26M3077 520v4M3079 519v4" stroke="#212121"/>
<path d="M3073 524h0m7 0h0m-2-26h0m0 23h0" stroke="#212121"/>
<path d="M3074.9 629V555H3090.7V629Z" fill="#999999"/>
<path d="M3083 576v12M3086 579v11" stroke="#999999"/>
<path d="M3080 552h0m6-3h0m-4-59h0m1 29h0" stroke="#999999"/>
<path d="M3081.3 629V553H3097V629Z" fill="#212121"/>
<path d="M3091 558v25M3092 564v22M3087 543v4M3090 535v11" stroke="#212121"/>
<path d="M3086 549h0m6-1h0m-4-42h0m1 2h0m3 11h0" stroke="#212121"/>
<path d="M3087.6 629V527H3103.2V629Z" fill="#999999"/>
<path d="M3096 556v9M3098 590v21M3095 516v4M3098 515v5" stroke="#999999"/>
<path d="M3092 521h0m6 1h0m-6-20h0m6 15h0m-3-12h0" stroke="#999999"/>
<path d="M3093.8 629V534H3109.3V629Z" fill="#212121"/>
<path d="M3104 547v26M3103 560v25M3100 520v8" stroke="#212121"/>
<path d="M3098 529h0m7 1h0m-6-23h0m4-49h0" stroke="#212121"/>
<path d="M3099.9 629V537H3115.3V629Z" fill="#999999"/>
<path d="M3109 597v23M3110 616v28M3110 528v3" stroke="#999999"/>
<path d="M3105 533h0m6 0h0" stroke="#999999"/>
<path d="M3105.9 629V522H3121.2V629Z" fill="#212121"/>
<path d="M3111 552v8M3113 609v25M3111 507v8" stroke="#212121"/>
<path d="M3111 518h0m5-1h0m-3 12h0m3-29h0" stroke="#212121"/>
<path d="M3111.8 629V536H3127V629Z" fill="#999999"/>
<path d="M3118 575v23M3119 602v14M3121 511v18" stroke="#999999"/>
<path d="M3116 530h0m6 1h0m-3-4h0" stroke="#999999"/>
<path d="M3117.6 629V552H3132.7V629Z" fill="#212121"/>
<path d="M3126 610v10M3126 582v29M3125 525v20" stroke="#212121"/>
<path d="M3122 547h0m6-1h0m-5-23h0m0-24h0" stroke="#212121"/>
<path d="M3123.3 629V535H3138.3V629Z" fill="#999999"/>
<path d="M3133 597v24M3131 578v21M3130 523v5" stroke="#999999"/>
<path d="M3128 529h0m6 0h0m-1-11h0m-2 2h0" stroke="#999999"/>
<path d="M3128.9 629V537H3143.8V629Z" fill="#212121"/>
<path d="M3137 592v30M3137 620v14M3136 524v7" stroke="#212121"/>
<path d="M3134 532h0m5 0h0m-5-12h0" stroke="#212121"/>
<path d="M3134.4 629V534H3149.2V629Z" fill="#999999"/>
<path d="M3141 573v14M3142 616v14M3143 523v4" stroke="#999999"/>
<path d="M3139 531h0m5-3h0m-3-9h0m1 9h0m2-52h0" stroke="#999999"/>
<path d="M3139.8 629V544H3154.5V629Z" fill="#212121"/>
<path d="M3146 539v18M3145 600v14" stroke="#212121"/>
<path d="M3144 537h0m6 0h0m-5-33h0m1-54h0" stroke="#212121"/>
<path d="M3145.1 629V547H3159.8V629Z" fill="#999999"/>
<path d="M3153 586v7M3151 570v21M3151 537v4" stroke="#999999"/>
<path d="M3150 543h0m5 0h0" stroke="#999999"/>
<path d="M3150.4 629V557H3165V629Z" fill="#212121"/>
<path d="M3156 605v15M3158 597v13M3158 542v8" stroke="#212121"/>
<path d="M3155 551h0m5 1h0m-3-25h0" stroke="#212121"/>
<path d="M3155.6 629V538H3170.1V629Z" fill="#999999"/>
<path d="M3161 608v7M3164 554v25" stroke="#999999"/>
<path d="M3160 532h0m5 0h0m-5-39h0" stroke="#999999"/>
<path d="M3160.7 629V554H3175.2V629Z" fill="#212121"/>
<path d="M3166 568v28M3170 578v13M3168 536v12" stroke="#212121"/>
<path d="M3165 550h0m5-1h0m-4-67h0m0 10h0m3 12h0" stroke="#212121"/>
<path d="M3165.8 629V536H3180.2V629Z" fill="#999999"/>
<path d="M3173 617v17M3175 584v15" stroke="#999999"/>
<path d="M3170 531h0m5-2h0m0-18h0m0 7h0" stroke="#999999"/>
<path d="M3170.8 629V549H3185.1V629Z" fill="#212121"/>
<path d="M3180 607v6M3180 607v18M3179 530v12" stroke="#212121"/>
<path d="M3175 544h0m5-1h0m-4-17h0m4-4h0m-1 19h0" stroke="#212121"/>
<path d="M3175.7 629V530H3189.9V629Z" fill="#999999"/>
<path d="M3182 592v29M3184 560v27M3180 493v30" stroke="#999999"/>
<path d="M3180 523h0m5 0h0" stroke="#999999"/>
<path d="M3180.5 629V540H3194.7V629Z" fill="#212121"/>
<path d="M3189 600v23M3185 543v28M3188 520v14" stroke="#212121"/>
<path d="M3185 536h0m5-2h0m-3-5h0" stroke="#212121"/>
<path d="M3185.3 629V534H3199.5V629Z" fill="#999999"/>
<path d="M3192 608v12M3191 549v7" stroke="#999999"/>
<path d="M3190 529h0m5 0h0m-2-24h0m0 13h0m1 4h0" stroke="#999999"/>
<path d="M3190.1 629V542H3204.1V629Z" fill="#212121"/>
<path d="M3197 581v13M3197 613v16M3197 515v20" stroke="#212121"/>
<path d="M3195 536h0m4 2h0m-2-9h0m0-41h0" stroke="#212121"/>
<path d="M3194.7 629V529H3208.7V629Z" fill="#999999"/>
<path d="M3202 611v25M3204 535v18M3199 512v10" stroke="#999999"/>
<path d="M3199 524h0m5-1h0m-1 0h0m1-18h0m-4-4h0" stroke="#999999"/>
<path d="M3199.3 629V557H3213.3V629Z" fill="#212121"/>
<path d="M3206 595v6M3207 554v7M3206 539v12" stroke="#212121"/>
<path d="M3204 552h0m5-1h0" stroke="#212121"/>
<path d="M3203.9 629V536H3217.8V629Z" fill="#999999"/>
<path d="M3211 552v21M3210 538v15M3210 516v13" stroke="#999999"/>
<path d="M3209 530h0m4 1h0m-4-76h0m0 63h0m2-3h0m2 14h0" stroke="#999999"/>
<path d="M3208.4 629V549H3222.2V629Z" fill="#212121"/>
<path d="M3217 552v12M3214 557v29" stroke="#212121"/>
<path d="M3213 543h0m5-1h0m-5-12h0m4-28h0" stroke="#212121"/>
<path d="M3212.8 629V506H3226.6V629Z" fill="#999999"/>
<path d="M3220 538v17M3220 534v9M3218 491v8" stroke="#999999"/>
<path d="M3218 502h0m4-2h0m-3-29h0m0 58h0m2-6h0m-2-34h0" stroke="#999999"/>
<path d="M3217.2 629V554H3231V629Z" fill="#212121"/>
<path d="M3223 564v15M3226 614v20M3223 539v9" stroke="#212121"/>
<path d="M3222 549h0m4 1h0m-1-23h0" stroke="#212121"/>
<path d="M3221.6 629V536H3235.2V629Z" fill="#999999"/>
<path d="M3229 553v24M3229 588v8" stroke="#999999"/>
<path d="M3226 531h0m5 0h0m-4-18h0" stroke="#999999"/>
<path d="M3225.8 629V553H3239.5V629Z" fill="#212121"/>
<path d="M3234 589v30M3231 598v14M3231 537v9" stroke="#212121"/>
<path d="M3231 547h0m4 0h0m-2-26h0" stroke="#212121"/>
<path d="M3230.1 629V548H3243.7V629Z" fill="#999999"/>
<path d="M3236 570v14M3237 608v17" stroke="#999999"/>
<path d="M3235 544h0m4-2h0m0-16h0" stroke="#999999"/>
<path d="M3234.3 629V548H3247.8V629Z" fill="#212121"/>
<path d="M3243 619v15M3243 546v24M3241 537v5" stroke="#212121"/>
<path d="M3239 542h0m4 0h0m-3-45h0m1 43h0" stroke="#212121"/>
<path d="M3238.4 629V538H3251.9V629Z" fill="#999999"/>
<path d="M3246 577v17M3244 598v13M3243 527v4" stroke="#999999"/>
<path d="M3243 532h0m4 2h0m-2-3h0" stroke="#999999"/>
<path d="M3242.5 629V532H3255.9V629Z" fill="#212121"/>
<path d="M3249 548v27M3251 578v14M3248 518v7" stroke="#212121"/>
<path d="M3247 527h0m4-1h0m-2-9h0m-1 5h0" stroke="#212121"/>
<path d="M3246.5 629V528H3259.9V629Z" fill="#999999"/>
<path d="M3254 599v25M3254 543v22M3253 538v7M3254 613v14" stroke="#999999"/>
<path d="M3251 524h0m4 0h0m-2-27h0" stroke="#999999"/>
<path d="M3250.6 629V557H3263.8V629Z" fill="#212121"/>
<path d="M3255 582v27M3258 572v9M3256 539v11" stroke="#212121"/>
<path d="M3255 551h0m4 1h0" stroke="#212121"/>
<path d="M3254.6 629V545H3267.6V629Z" fill="#999999"/>
<path d="M3261 585v14M3262 553v21M3261 558v20M3259 555v8M3260 527v11" stroke="#999999"/>
<path d="M3259 540h0m4-1h0" stroke="#999999"/>
<path d="M3258.6 629V545H3271.4V629Z" fill="#212121"/>
<path d="M3266 558v22M3266 617v14M3265 530v8" stroke="#212121"/>
<path d="M3263 539h0m4 1h0m-1-18h0m1 9h0" stroke="#212121"/>
<path d="M3262.5 629V521H3275.1V629Z" fill="#999999"/>
<path d="M3269 575v12M3269 557v12M3269 545v29M3268 529v24M3270 503v11" stroke="#999999"/>
<path d="M3267 515h0m4-1h0m-1-1h0" stroke="#999999"/>
<path d="M3266.4 629V545H3278.8V629Z" fill="#212121"/>
<path d="M3274 589v27M3274 571v15M3272 517v21" stroke="#212121"/>
<path d="M3271 541h0m3 0h0m-3-10h0m3-35h0" stroke="#212121"/>
<path d="M3270.2 629V554H3282.5V629Z" fill="#999999"/>
<path d="M3275 582v11M3275 607v11M3276 587v7M3277 564v27M3276 542v5" stroke="#999999"/>
<path d="M3274 549h0m4-1h0m-2-12h0" stroke="#999999"/>
<path d="M3274 629V508H3286.1V629Z" fill="#212121"/>
<path d="M3282 596v26M3279 610v27M3282 471v30" stroke="#212121"/>
<path d="M3278 504h0m4-3h0" stroke="#212121"/>
<path d="M3277.7 629V557H3289.7V629Z" fill="#999999"/>
<path d="M3283 601v17M3283 567v16M3283 586v20M3284 593v16M3285 545v5" stroke="#999999"/>
<path d="M3282 551h0m4 0h0m-1-43h0m-1 2h0" stroke="#999999"/>
<path d="M3281.5 629V548H3293.2V629Z" fill="#212121"/>
<path d="M3288 603v28M3288 560v9M3286 534v7" stroke="#212121"/>
<path d="M3286 543h0m3-1h0m-2-3h0" stroke="#212121"/>
<path d="M3285.1 629V553H3296.8V629Z" fill="#999999"/>
<path d="M3290 616v29M3291 573v19M3292 559v13M3292 618v17M3292 530v17" stroke="#999999"/>
<path d="M3289 549h0m4 0h0" stroke="#999999"/>
<path d="M3288.8 629V541H3300.2V629Z" fill="#212121"/>
<path d="M3293 547v22M3295 563v7" stroke="#212121"/>
<path d="M3293 537h0m3 0h0m-1-16h0" stroke="#212121"/>
<path d="M3292.3 629V542H3303.7V629Z" fill="#999999"/>
<path d="M3298 547v8M3296 579v26M3298 553v12M3297 606v22M3299 532v4" stroke="#999999"/>
<path d="M3296 538h0m4-2h0m-2-9h0m1-5h0" stroke="#999999"/>
<path d="M3295.9 629V533H3307.1V629Z" fill="#212121"/>
<path d="M3301 549v13M3300 608v8" stroke="#212121"/>
<path d="M3300 527h0m3-1h0m-3-1h0m0 4h0m1 3h0m0-7h0" stroke="#212121"/>
<path d="M3299.4 629V543H3310.4V629Z" fill="#999999"/>
<path d="M3306 607v11M3306 568v29M3305 553v25M3306 570v18M3305 531v5" stroke="#999999"/>
<path d="M3303 539h0m4 0h0m-3-12h0m0 2h0" stroke="#999999"/>
<path d="M3302.9 629V530H3313.8V629Z" fill="#212121"/>
<path d="M3308 526v20M3309 591v21M3310 510v14" stroke="#212121"/>
<path d="M3307 526h0m3-2h0m-2-37h0" stroke="#212121"/>
<path d="M3306.3 629V524H3317.1V629Z" fill="#999999"/>
<path d="M3313 551v8M3310 565v26M3313 553v9M3310 565v21M3311 512v5" stroke="#999999"/>
<path d="M3310 519h0m3 1h0m-1-18h0m-1 8h0" stroke="#999999"/>
<path d="M3309.7 629V537H3320.4V629Z" fill="#212121"/>
<path d="M3314 574v14M3317 536v28M3314 523v8" stroke="#212121"/>
<path d="M3313 533h0m4-2h0m-3-45h0m1 39h0" stroke="#212121"/>
<path d="M3313.1 629V540H3323.6V629Z" fill="#999999"/>
<path d="M3318 583v30M3319 541v24M3319 605v15M3319 544v23M3319 527v7" stroke="#999999"/>
<path d="M3317 533h0m3 1h0m-2-19h0" stroke="#999999"/>
<path d="M3316.5 629V543H3326.8V629Z" fill="#212121"/>
<path d="M3321 566v19M3320 553v23M3320 520v17" stroke="#212121"/>
<path d="M3320 538h0m3 1h0" stroke="#212121"/>
<path d="M3319.8 629V554H3330V629Z" fill="#999999"/>
<path d="M3324 616v22M3324 617v12M3326 602v25M3324 577v22" stroke="#999999"/>
<path d="M3323 548h0m3 0h0" stroke="#999999"/>
<path d="M3323.1 629V557H3333.1V629Z" fill="#212121"/>
<path d="M3329 577v16M3327 603v29M3329 546v4" stroke="#212121"/>
<path d="M3326 553h0m4-1h0m-3-22h0m0-24h0" stroke="#212121"/>
<path d="M3326.3 629V556H3336.2V629Z" fill="#999999"/>
<path d="M3330 559v17M3331 581v11M3332 598v22M3331 616v13M3330 545v4" stroke="#999999"/>
<path d="M3330 552h0m3-2h0m-3-28h0m2 10h0" stroke="#999999"/>
<path d="M3329.5 629V555H3339.3V629Z" fill="#212121"/>
<path d="M3333 557v30M3336 565v24" stroke="#212121"/>
<path d="M3333 551h0m3 0h0m0-31h0m-2 14h0" stroke="#212121"/>
<path d="M3332.7 629V546H3342.4V629Z" fill="#999999"/>
<path d="M3339 608v28M3339 595v24M3339 608v18M3337 618v11M3338 532v8" stroke="#999999"/>
<path d="M3336 540h0m3 1h0m-1-11h0" stroke="#999999"/>
<path d="M3335.8 629V546H3345.4V629Z" fill="#212121"/>
<path d="M3339 601v23M3341 558v18" stroke="#212121"/>
<path d="M3339 540h0m3 1h0m-1-37h0" stroke="#212121"/>
<path d="M3339 629V538H3348.4V629Z" fill="#999999"/>
<path d="M3344 535v17M3344 544v15M3343 575v28M3344 612v13" stroke="#999999"/>
<path d="M3342 532h0m3 1h0m0-10h0" stroke="#999999"/>
<path d="M3342.1 629V554H3351.4V629Z" fill="#212121"/>
<path d="M3346 561v29M3348 610v10M3346 541v6" stroke="#212121"/>
<path d="M3345 550h0m3-2h0m-2-41h0m1 3h0" stroke="#212121"/>
<path d="M3345.1 629V556H3354.4V629Z" fill="#999999"/>
<path d="M3348 602v23M3350 583v13M3348 598v20M3350 572v13" stroke="#999999"/>
<path d="M3348 551h0m3-1h0m0-27h0m-1 7h0" stroke="#999999"/>
<path d="M3348.2 629V538H3357.3V629Z" fill="#212121"/>
<path d="M3353 612v27M3353 613v11M3352 527v4" stroke="#212121"/>
<path d="M3351 532h0m3 2h0m-2-5h0m0 2h0m1-1h0m1-10h0" stroke="#212121"/>
<path d="M3351.2 629V551H3360.2V629Z" fill="#999999"/>
<path d="M3355 607v7M3357 547v19M3355 558v20M3356 601v20" stroke="#999999"/>
<path d="M3354 545h0m3 0h0m-2-21h0m1 9h0m0-3h0m0-37h0m0 34h0" stroke="#999999"/>
<path d="M3354.1 629V556H3363V629Z" fill="#212121"/>
<path d="M3360 605v15M3357 595v18M3358 544v5" stroke="#212121"/>
<path d="M3357 549h0m3 0h0m-3-23h0m1 5h0" stroke="#212121"/>
<path d="M3357.1 629V542H3365.9V629Z" fill="#999999"/>
<path d="M3363 580v14M3360 619v16M3363 564v9M3362 597v14M3363 520v15" stroke="#999999"/>
<path d="M3360 538h0m3-2h0m-1-35h0m-1 16h0" stroke="#999999"/>
<path d="M3360 629V546H3368.7V629Z" fill="#212121"/>
<path d="M3365 577v16M3364 572v13M3363 527v12" stroke="#212121"/>
<path d="M3363 541h0m3-1h0m-3-37h0m1 19h0" stroke="#212121"/>
<path d="M3362.9 629V538H3371.5V629Z" fill="#999999"/>
<path d="M3367 554v24M3366 542v8M3369 558v16M3368 611v19M3368 524v8" stroke="#999999"/>
<path d="M3366 534h0m3-2h0m0-13h0" stroke="#999999"/>
<path d="M3365.8 629V552H3374.3V629Z" fill="#212121"/>
<path d="M3370 591v7M3371 592v25M3370 541v5" stroke="#212121"/>
<path d="M3369 546h0m2 0h0m0-30h0m-1 25h0" stroke="#212121"/>
<path d="M3368.6 629V508H3377V629Z" fill="#999999"/>
<path d="M3372 602v24M3372 617v11M3374 569v17M3373 509v28M3372 498v3" stroke="#999999"/>
<path d="M3371 503h0m3 1h0m-2 32h0m1-12h0m0-26h0" stroke="#999999"/>
<path d="M3371.5 629V532H3379.7V629Z" fill="#212121"/>
<path d="M3376 579v21M3377 601v26M3375 502v23" stroke="#212121"/>
<path d="M3374 526h0m3 0h0m0-19h0" stroke="#212121"/>
<path d="M3374.3 629V539H3382.4V629Z" fill="#999999"/>
<path d="M3378 604v12M3379 539v17M3378 551v10M3378 565v14" stroke="#999999"/>
<path d="M3377 533h0m3 1h0m0-34h0m-1-6h0" stroke="#999999"/>
<path d="M3377 629V547H3385.1V629Z" fill="#212121"/>
<path d="M3381 603v19M3381 609v16M3380 534v7" stroke="#212121"/>
<path d="M3380 542h0m2-1h0m-2-18h0m2-37h0m0 37h0" stroke="#212121"/>
<path d="M3379.8 629V534H3387.8V629Z" fill="#999999"/>
<path d="M3384 579v16M3383 550v16M3383 535v12M3383 551v11M3385 520v7" stroke="#999999"/>
<path d="M3382 530h0m3 0h0m-2-14h0" stroke="#999999"/>
<path d="M3382.5 629V558H3390.4V629Z" fill="#212121"/>
<path d="M3385 553v15M3386 599v15" stroke="#212121"/>
<path d="M3385 553h0m3 0h0" stroke="#212121"/>
<path d="M3385.2 629V540H3393V629Z" fill="#999999"/>
<path d="M3390 572v6M3390 546v27M3388 582v24M3390 553v25" stroke="#999999"/>
<path d="M3388 534h0m2 1h0m0 2h0m-2-15h0" stroke="#999999"/>
<path d="M3387.9 629V534H3395.6V629Z" fill="#212121"/>
<path d="M3390 553v19M3391 595v29M3392 523v5" stroke="#212121"/>
<path d="M3390 530h0m3-1h0m-2 1h0m2-12h0m-1 2h0" stroke="#212121"/>
<path d="M3390.6 629V556H3398.2V629Z" fill="#999999"/>
<path d="M3394 591v27M3393 586v14M3394 606v11M3395 561v25M3394 546v3" stroke="#999999"/>
<path d="M3393 551h0m3 1h0m-3-45h0m2 36h0" stroke="#999999"/>
<path d="M3393.2 629V547H3400.7V629Z" fill="#212121"/>
<path d="M3397 568v23M3397 579v21M3398 534v7" stroke="#212121"/>
<path d="M3396 541h0m2 1h0m-1-16h0" stroke="#212121"/>
<path d="M3395.8 629V539H3403.3V629Z" fill="#999999"/>
<path d="M3401 535v17M3399 549v20M3399 581v24M3401 549v17" stroke="#999999"/>
<path d="M3398 534h0m3 1h0m-2 1h0m1-4h0" stroke="#999999"/>
<path d="M3398.4 629V539H3405.8V629Z" fill="#212121"/>
<path d="M3402 585v11M3401 599v14M3402 504v28" stroke="#212121"/>
<path d="M3401 533h0m2 1h0" stroke="#212121"/>
<path d="M3401 629V551H3408.3V629Z" fill="#999999"/>
<path d="M3403 603v20M3404 569v16M3404 582v17M3406 586v29M3404 531v14" stroke="#999999"/>
<path d="M3403 546h0m3-1h0" stroke="#999999"/>
<path d="M3403.5 629V547H3410.7V629Z" fill="#212121"/>
<path d="M3407 582v30M3408 543v13M3406 531v9" stroke="#212121"/>
<path d="M3406 543h0m2-2h0m0-1h0" stroke="#212121"/>
<path d="M3406.1 629V555H3413.2V629Z" fill="#999999"/>
<path d="M3408 573v27M3409 583v10M3410 570v23M3410 570v23" stroke="#999999"/>
<path d="M3408 548h0m2-13h0m-1 8h0" stroke="#999999"/>
<path d="M3408.6 629V559H3415.6V629Z" fill="#212121"/>
<path d="M3411 613v22M3413 612v18" stroke="#212121"/>
<path d="M3411 553h0" stroke="#212121"/>
<path d="M3411.1 629V549H3418V629Z" fill="#999999"/>
<path d="M3415 551v17M3416 591v19M3414 546v15M3414 618v20" stroke="#999999"/>
<path d="M3413 542h0m1-25h0m2 15h0" stroke="#999999"/>
<path d="M3413.5 629V564H3420.4V629Z" fill="#212121"/>
<path d="M3416 608v25M3417 612v24" stroke="#212121"/>
<path d="M3416 559h0m2-4h0m0-10h0m-1-6h0m0-5h0m0-10h0m0-10h0m1-7h0m0-10h0m-1-7h0" stroke="#212121"/>
<path d="M3416 629V560H3422.8V629Z" fill="#999999"/>
<path d="M3419 605v20M3419 576v18M3419 572v21M3419 615v19" stroke="#999999"/>
<path d="M3418 554h0m1-47h0m1 22h0m0 8h0" stroke="#999999"/>
<path d="M3418.4 629V550H3425.2V629Z" fill="#212121"/>
<path d="M3422 614v29M3422 618v21" stroke="#212121"/>
<path d="M3421 545h0m0-29h0m1 9h0m-1-15h0" stroke="#212121"/>
<path d="M3420.9 629V559H3427.5V629Z" fill="#999999"/>
<path d="M3425 584v22M3425 602v27M3424 591v27M3424 609v16" stroke="#999999"/>
<path d="M3423 555h0m2-29h0m0 2h0" stroke="#999999"/>
<path d="M3423.3 629V562H3429.8V629Z" fill="#212121"/>
<path d="M3426 591v28M3427 589v7" stroke="#212121"/>
<path d="M3425 557h0m0-29h0m3 22h0m0-4h0m-1-10h0m1-4h0" stroke="#212121"/>
<path d="M3425.6 629V554H3432.2V629Z" fill="#999999"/>
<path d="M3429 552v13M3429 609v18M3428 582v20M3429 564v27" stroke="#999999"/>
<path d="M3428 550h0m2-19h0" stroke="#999999"/>
<path d="M3428 629V551H3434.4V629Z" fill="#212121"/>
<path d="M3431 602v29M3432 572v22" stroke="#212121"/>
<path d="M3430 545h0m2-11h0m-1 7h0m1-5h0" stroke="#212121"/>
<path d="M3430.3 629V559H3436.7V629Z" fill="#999999"/>
<path d="M3434 598v15M3434 610v12M3434 561v14M3434 609v11" stroke="#999999"/>
<path d="M3432 552h0" stroke="#999999"/>
<path d="M3432.7 629V563H3439V629Z" fill="#212121"/>
<path d="M3437 612v13M3435 580v20" stroke="#212121"/>
<path d="M3435 556h0m2-59h0m0 37h0m0 19h0m-1-10h0m1-6h0" stroke="#212121"/>
<path d="M3435 629V546H3441.2V629Z" fill="#999999"/>
<path d="M3439 605v18M3438 554v24M3438 558v14M3439 580v18" stroke="#999999"/>
<path d="M3437 540h0" stroke="#999999"/>
<path d="M3437.3 629V554H3443.4V629Z" fill="#212121"/>
<path d="M3441 598v19M3440 621v29" stroke="#212121"/>
<path d="M3439 549h0m1-14h0m1 7h0m1-10h0m-2-8h0m1-8h0m0-7h0m-1-6h0" stroke="#212121"/>
<path d="M3439.5 629V557H3445.7V629Z" fill="#999999"/>
<path d="M3443 618v15M3442 588v8M3442 597v28M3442 576v18" stroke="#999999"/>
<path d="M3441 551h0m1-21h0m1 2h0m0-11h0" stroke="#999999"/>
<path d="M3441.8 629V549H3447.9V629Z" fill="#212121"/>
<path d="M3444 594v18M3446 596v14" stroke="#212121"/>
<path d="M3444 543h0m0-2h0" stroke="#212121"/>
<path d="M3444.1 629V550H3450.1V629Z" fill="#999999"/>
<path d="M3446 563v7M3448 616v21M3447 582v23M3448 585v22" stroke="#999999"/>
<path d="M3446 545h0" stroke="#999999"/>
<path d="M3446.3 629V559H3452.2V629Z" fill="#212121"/>
<path d="M3450 561v26M3450 581v25" stroke="#212121"/>
<path d="M3448 555h0m1-18h0m0-9h0m0 20h0" stroke="#212121"/>
<path d="M3448.5 629V556H3454.4V629Z" fill="#999999"/>
<path d="M3451 589v14M3451 569v7M3451 578v25M3451 612v9" stroke="#999999"/>
<path d="M3450 550h0m1-4h0m-1-8h0m1-7h0m-1-11h0m0-5h0m1-8h0m0-5h0" stroke="#999999"/>
<path d="M3450.7 629V562H3456.6V629Z" fill="#212121"/>
<path d="M3453 604v19M3453 618v18" stroke="#212121"/>
<path d="M3453 556h0" stroke="#212121"/>
<path d="M3452.9 629V556H3458.7V629Z" fill="#999999"/>
<path d="M3456 615v16M3456 552v15M3456 605v16M3456 594v7" stroke="#999999"/>
<path d="M3455 550h0m1-13h0m1 8h0" stroke="#999999"/>
<path d="M3455.1 629V548H3460.8V629Z" fill="#212121"/>
<path d="M3459 573v16M3457 620v30" stroke="#212121"/>
<path d="M3457 541h0" stroke="#212121"/>
<path d="M3457.2 629V551H3462.9V629Z" fill="#999999"/>
<path d="M3461 553v25M3459 563v13M3459 609v12M3460 611v22" stroke="#999999"/>
<path d="M3459 547h0m1-42h0m1 26h0" stroke="#999999"/>
<path d="M3459.4 629V566H3465V629Z" fill="#212121"/>
<path d="M3462 585v29M3461 577v11" stroke="#212121"/>
<path d="M3461 561h0" stroke="#212121"/>
<path d="M3461.5 629V566H3467.1V629Z" fill="#999999"/>
<path d="M3465 576v27M3465 602v22M3465 610v28M3464 576v24" stroke="#999999"/>
<path d="M3463 561h0m2-5h0m0-6h0m0-7h0m0-9h0m-1-8h0" stroke="#999999"/>
<path d="M3463.7 629V558H3469.2V629Z" fill="#212121"/>
<path d="M3467 580v24M3466 613v9" stroke="#212121"/>
<path d="M3465 553h0m1-3h0m1-2h0m1-8h0m0-5h0m-1-4h0m0-9h0m0-9h0m0-7h0" stroke="#212121"/>
<path d="M3465.8 629V538H3471.2V629Z" fill="#999999"/>
<path d="M3469 582v16M3468 571v18M3469 619v20M3468 612v8" stroke="#999999"/>
<path d="M3467 533h0m1-8h0" stroke="#999999"/>
<path d="M3467.9 629V549H3473.3V629Z" fill="#212121"/>
<path d="M3471 590v23M3470 615v27" stroke="#212121"/>
<path d="M3470 543h0m1-22h0" stroke="#212121"/>
<path d="M3470 629V566H3475.3V629Z" fill="#999999"/>
<path d="M3473 592v15M3472 581v28M3474 573v11M3474 614v11" stroke="#999999"/>
<path d="M3472 562h0m1-33h0m-2 28h0" stroke="#999999"/>
<path d="M3472 629V525H3477.3V629Z" fill="#212121"/>
<path d="M3476 595v16M3474 610v10" stroke="#212121"/>
<path d="M3474 519h0m1-4h0" stroke="#212121"/>
<path d="M3474.1 629V532H3479.3V629Z" fill="#999999"/>
<path d="M3476 577v8M3476 604v8M3476 549v11M3476 548v28" stroke="#999999"/>
<path d="M3476 525h0m1-6h0" stroke="#999999"/>
<path d="M3476.1 629V551H3481.3V629Z" fill="#212121"/>
<path d="M3480 617v23M3478 585v8" stroke="#212121"/>
<path d="M3478 547h0" stroke="#212121"/>
<path d="M3478.2 629V567H3483.3V629Z" fill="#999999"/>
<path d="M3481 581v24M3480 601v12M3481 582v12M3480 583v16" stroke="#999999"/>
<path d="M3480 561h0m1-32h0" stroke="#999999"/>
<path d="M3480.2 629V552H3485.3V629Z" fill="#212121"/>
<path d="M3482 611v10M3483 595v16" stroke="#212121"/>
<path d="M3482 547h0m0-13h0" stroke="#212121"/>
<path d="M3482.2 629V551H3487.3V629Z" fill="#999999"/>
<path d="M3485 605v13M3484 556v6M3485 583v13M3485 598v11" stroke="#999999"/>
<path d="M3484 544h0m0-10h0m0 5h0m1 2h0m-1-4h0m1-5h0m0-6h0m-1-9h0" stroke="#999999"/>
<path d="M3484.2 629V547H3489.2V629Z" fill="#212121"/>
<path d="M3486 610v6M3487 562v13" stroke="#212121"/>
<path d="M3486 540h0" stroke="#212121"/>
<path d="M3486.2 629V531H3491.1V629Z" fill="#999999"/>
<path d="M3489 542v14M3489 610v6M3488 613v12M3489 559v9" stroke="#999999"/>
<path d="M3488 527h0m1-5h0m0 14h0" stroke="#999999"/>
<path d="M3488.2 629V555H3493.1V629Z" fill="#212121"/>
<path d="M3490 553v6M3491 585v13" stroke="#212121"/>
<path d="M3490 549h0m1-23h0m0-48h0" stroke="#212121"/>
<path d="M3490.1 629V550H3495V629Z" fill="#999999"/>
<path d="M3492 575v13M3492 569v8M3492 553v14M3493 589v17" stroke="#999999"/>
<path d="M3492 546h0m0-13h0" stroke="#999999"/>
<path d="M3492.1 629V550H3496.9V629Z" fill="#212121"/>
<path d="M3494 619v6M3494 567v14" stroke="#212121"/>
<path d="M3494 546h0m0-6h0" stroke="#212121"/>
<path d="M3494 629V553H3498.8V629Z" fill="#999999"/>
<path d="M3496 605v16M3496 579v15M3496 566v12M3497 604v16" stroke="#999999"/>
<path d="M3495 547h0" stroke="#999999"/>
<path d="M3495.9 629V528H3500.6V629Z" fill="#212121"/>
<path d="M3499 544v6M3499 550v13" stroke="#212121"/>
<path d="M3497 523h0m1-2h0" stroke="#212121"/>
<path d="M3497.8 629V548H3502.5V629Z" fill="#999999"/>
<path d="M3501 597v17M3500 579v17M3500 587v12M3501 574v11" stroke="#999999"/>
<path d="M3499 542h0m0-11h0m1 8h0m1-9h0" stroke="#999999"/>
<path d="M3499.7 629V554H3504.3V629Z" fill="#212121"/>
<path d="M3503 583v9M3501 566v15" stroke="#212121"/>
<path d="M3501 550h0m0-7h0" stroke="#212121"/>
<path d="M3501.6 629V567H3506.2V629Z" fill="#999999"/>
<path d="M3504 605v14M3504 563v9M3504 616v4M3504 583v12" stroke="#999999"/>
<path d="M3503 562h0m0-29h0m1 22h0" stroke="#999999"/>
<path d="M3503.5 629V557H3508V629Z" fill="#212121"/>
<path d="M3505 618v4M3505 602v13" stroke="#212121"/>
<path d="M3505 552h0m0-14h0m0 9h0m1 0h0" stroke="#212121"/>
<path d="M3505.4 629V562H3509.8V629Z" fill="#999999"/>
<path d="M3507 567v13M3508 593v16M3507 613v8M3508 592v8" stroke="#999999"/>
<path d="M3507 557h0" stroke="#999999"/>
<path d="M3507.2 629V551H3511.6V629Z" fill="#212121"/>
<path d="M3510 558v7M3509 585v10" stroke="#212121"/>
<path d="M3509 546h0m0-20h0m0 17h0" stroke="#212121"/>
<path d="M3509.1 629V564H3513.4V629Z" fill="#999999"/>
<path d="M3512 616v6M3512 583v7M3511 579v6M3512 585v4" stroke="#999999"/>
<path d="M3510 558h0m0-21h0m1-5h0m1 1h0m-1 12h0" stroke="#999999"/>
<path d="M3510.9 629V555H3515.2V629Z" fill="#212121"/>
<path d="M3513 596v16M3512 607v14" stroke="#212121"/>
<path d="M3512 548h0m1-40h0m-1 39h0" stroke="#212121"/>
<path d="M3512.7 629V551H3517V629Z" fill="#999999"/>
<path d="M3515 578v17M3515 568v7M3514 577v15M3515 611v12" stroke="#999999"/>
<path d="M3514 547h0" stroke="#999999"/>
<path d="M3514.5 629V554H3518.7V629Z" fill="#212121"/>
<path d="M3517 620v10M3517 609v7" stroke="#212121"/>
<path d="M3516 550h0" stroke="#212121"/>
<path d="M3516.3 629V564H3520.5V629Z" fill="#999999"/>
<path d="M3518 569v4M3518 593v4M3519 590v9M3518 567v11" stroke="#999999"/>
<path d="M3518 558h0m-1-4h0m1-8h0" stroke="#999999"/>
<path d="M3518.1 629V567H3522.2V629Z" fill="#212121"/>
<path d="M3520 593v15M3520 605v3" stroke="#212121"/>
<path d="M3519 563h0m0-9h0m1-6h0m-1-8h0" stroke="#212121"/>
<path d="M3519.9 629V557H3523.9V629Z" fill="#999999"/>
<path d="M3521 558v7M3521 612v18M3522 572v7M3522 601v7" stroke="#999999"/>
<path d="M3521 553h0m0-24h0" stroke="#999999"/>
<path d="M3521.6 629V558H3525.7V629Z" fill="#212121"/>
<path d="M3524 568v15M3523 603v5" stroke="#212121"/>
<path d="M3523 552h0m0-4h0m0-11h0m0-5h0m0-6h0m-1-7h0m1-5h0m0-8h0m0-9h0m-1-9h0m1-5h0" stroke="#212121"/>
<path d="M3523.4 629V552H3527.4V629Z" fill="#999999"/>
<path d="M3526 608v14M3525 574v17M3525 580v5M3525 598v11" stroke="#999999"/>
<path d="M3525 545h0" stroke="#999999"/>
<path d="M3525.1 629V527H3529.1V629Z" fill="#212121"/>
<path d="M3528 607v13M3527 550v17" stroke="#212121"/>
<path d="M3526 521h0" stroke="#212121"/>
<path d="M3526.8 629V555H3530.7V629Z" fill="#999999"/>
<path d="M3530 594v15M3528 565v17M3529 581v14M3529 575v8" stroke="#999999"/>
<path d="M3528 551h0" stroke="#999999"/>
<path d="M3528.6 629V556H3532.4V629Z" fill="#212121"/>
<path d="M3530 595v5M3530 577v6" stroke="#212121"/>
<path d="M3530 550h0m1-5h0" stroke="#212121"/>
<path d="M3530.3 629V558H3534.1V629Z" fill="#999999"/>
<path d="M3532 610v10M3532 556v12M3531 620v7M3532 589v13" stroke="#999999"/>
<path d="M3531 552h0m1-37h0m1-49h0" stroke="#999999"/>
<path d="M3532 629V551H3535.7V629Z" fill="#212121"/>
<path d="M3535 570v8M3535 566v14" stroke="#212121"/>
<path d="M3533 547h0m1-5h0" stroke="#212121"/>
<path d="M3533.6 629V564H3537.4V629Z" fill="#999999"/>
<path d="M3535 598v13M3535 608v17M3536 608v8M3535 618v14" stroke="#999999"/>
<path d="M3535 559h0m0-5h0m-1-10h0m1-5h0m0-6h0" stroke="#999999"/>
<path d="M3535.3 629V551H3539V629Z" fill="#212121"/>
<path d="M3536 615v8M3537 582v18" stroke="#212121"/>
<path d="M3536 547h0" stroke="#212121"/>
<path d="M3537 629V561H3540.6V629Z" fill="#999999"/>
<path d="M3539 608v8M3539 561v10M3540 566v9M3539 559v17" stroke="#999999"/>
<path d="M3538 556h0m1-7h0m-1-9h0m1-8h0m0-5h0m-1-5h0m0-4h0m0-9h0m1-11h0m0-5h0m0-6h0" stroke="#999999"/>
<path d="M3538.6 629V565H3542.2V629Z" fill="#212121"/>
<path d="M3540 587v15M3540 580v18" stroke="#212121"/>
<path d="M3540 560h0" stroke="#212121"/>
<path d="M3540.3 629V564H3543.8V629Z" fill="#999999"/>
<path d="M3541 603v7M3542 614v11M3542 608v5M3542 589v16" stroke="#999999"/>
<path d="M3541 557h0m2-5h0m0-9h0m0-10h0m-1-7h0m0-7h0m0-10h0m0-11h0m1-7h0" stroke="#999999"/>
<path d="M3541.9 629V561H3545.4V629Z" fill="#212121"/>
<path d="M3544 568v3M3544 611v13" stroke="#212121"/>
<path d="M3543 557h0m0-41h0m1 6h0m0 29h0" stroke="#212121"/>
<path d="M3543.5 629V569H3547V629Z" fill="#999999"/>
<path d="M3545 601v17M3545 592v12M3546 597v12M3545 590v9" stroke="#999999"/>
<path d="M3544 565h0" stroke="#999999"/>
<path d="M3545.1 629V540H3548.5V629Z" fill="#212121"/>
<path d="M3547 600v7M3547 548v11" stroke="#212121"/>
<path d="M3546 533h0m1-15h0" stroke="#212121"/>
<path d="M3546.7 629V550H3550.1V629Z" fill="#999999"/>
<path d="M3549 552v14M3548 620v7M3548 613v13M3549 591v7" stroke="#999999"/>
<path d="M3548 546h0" stroke="#999999"/>
<path d="M3548.3 629V526H3551.6V629Z" fill="#212121"/>
<path d="M3551 617v4M3549 584v9" stroke="#212121"/>
<path d="M3549 521h0m1-18h0" stroke="#212121"/>
<path d="M3549.9 629V559H3553.2V629Z" fill="#999999"/>
<path d="M3551 574v6M3551 571v17M3551 568v18M3552 557v9" stroke="#999999"/>
<path d="M3551 553h0m2-5h0m-1-6h0m1-10h0m-1-9h0m0-7h0" stroke="#999999"/>
<path d="M3551.5 629V567H3554.7V629Z" fill="#212121"/>
<path d="M3553 610v5M3553 617v9" stroke="#212121"/>
<path d="M3552 563h0m2-6h0" stroke="#212121"/>
<path d="M3553 629V556H3556.2V629Z" fill="#999999"/>
<path d="M3555 557v7M3554 605v13M3555 617v9M3554 620v16" stroke="#999999"/>
<path d="M3554 549h0m1-16h0m0 12h0m0-8h0" stroke="#999999"/>
<path d="M3554.6 629V559H3557.7V629Z" fill="#212121"/>
<path d="M3556 601v13M3556 606v7" stroke="#212121"/>
<path d="M3555 554h0m1-42h0m1 27h0m-1-5h0m1 15h0m0-5h0m0-4h0" stroke="#212121"/>
<path d="M3556.1 629V563H3559.2V629Z" fill="#999999"/>
<path d="M3558 564v11M3557 601v8M3557 602v8M3558 561v17" stroke="#999999"/>
<path d="M3557 558h0m0-26h0" stroke="#999999"/>
<path d="M3557.6 629V549H3560.7V629Z" fill="#212121"/>
<path d="M3559 611v11M3559 555v15" stroke="#212121"/>
<path d="M3558 544h0m2-16h0m-1 10h0m0-4h0m0-4h0" stroke="#212121"/>
<path d="M3559.2 629V555H3562.2V629Z" fill="#999999"/>
<path d="M3560 576v8M3561 610v18M3561 604v9M3560 598v18" stroke="#999999"/>
<path d="M3560 550h0" stroke="#999999"/>
<path d="M3560.7 629V531H3563.7V629Z" fill="#212121"/>
<path d="M3563 545v13M3563 619v9" stroke="#212121"/>
<path d="M3561 526h0" stroke="#212121"/>
<path d="M3562.2 629V559H3565.1V629Z" fill="#999999"/>
<path d="M3564 558v18M3564 611v17M3564 583v13M3564 566v3" stroke="#999999"/>
<path d="M3563 552h0" stroke="#999999"/>
<path d="M3563.7 629V564H3566.6V629Z" fill="#212121"/>
<path d="M3565 581v14M3565 601v6" stroke="#212121"/>
<path d="M3564 558h0m2-21h0m-1 14h0m0-7h0m0-7h0m0-5h0" stroke="#212121"/>
<path d="M3565.1 629V567H3568V629Z" fill="#999999"/>
<path d="M3567 594v16M3567 594v14M3567 604v12M3566 569v12" stroke="#999999"/>
<path d="M3566 561h0m0-82h0m0 50h0m0 16h0m1 11h0" stroke="#999999"/>
<path d="M3566.6 629V550H3569.4V629Z" fill="#212121"/>
<path d="M3568 619v18M3567 606v9" stroke="#212121"/>
<path d="M3567 544h0m1-5h0" stroke="#212121"/>
<path d="M3568.1 629V563H3570.9V629Z" fill="#999999"/>
<path d="M3570 586v11M3570 605v13M3569 609v8M3569 609v13" stroke="#999999"/>
<path d="M3569 558h0m0-62h0m0 41h0m0 8h0" stroke="#999999"/>
<path d="M3569.5 629V558H3572.3V629Z" fill="#212121"/>
<path d="M3571 592v11M3570 607v18" stroke="#212121"/>
<path d="M3570 553h0m0-18h0" stroke="#212121"/>
<path d="M3571 629V565H3573.7V629Z" fill="#999999"/>
<path d="M3573 566v17M3573 582v4M3572 586v18M3572 597v8" stroke="#999999"/>
<path d="M3572 560h0m0-4h0m0-5h0" stroke="#999999"/>
<path d="M3572.4 629V553H3575.1V629Z" fill="#212121"/>
<path d="M3573 610v13M3574 552v14" stroke="#212121"/>
<path d="M3573 548h0" stroke="#212121"/>
<path d="M3573.8 629V551H3576.5V629Z" fill="#999999"/>
<path d="M3576 608v3M3575 583v15M3575 563v10M3574 571v6" stroke="#999999"/>
<path d="M3574 546h0m2-4h0" stroke="#999999"/>
<path d="M3575.2 629V538H3577.8V629Z" fill="#212121"/>
<path d="M3576 582v4M3577 617v16" stroke="#212121"/>
<path d="M3576 532h0" stroke="#212121"/>
<path d="M3576.6 629V562H3579.2V629Z" fill="#999999"/>
<path d="M3578 595v4M3578 576v11M3578 581v10M3578 580v8" stroke="#999999"/>
<path d="M3577 556h0m0-21h0" stroke="#999999"/>
<path d="M3578 629V564H3580.6V629Z" fill="#212121"/>
<path d="M3579 615v14M3579 597v7" stroke="#212121"/>
<path d="M3579 560h0m0-12h0" stroke="#212121"/>
<path d="M3579.4 629V556H3581.9V629Z" fill="#999999"/>
<path d="M3580 572v11M3581 609v7M3581 567v11M3581 593v17" stroke="#999999"/>
<path d="M3580 550h0m0-35h0" stroke="#999999"/>
<path d="M3580.8 629V557H3583.2V629Z" fill="#212121"/>
<path d="M3582 554v8M3582 560v15" stroke="#212121"/>
<path d="M3581 551h0m2-20h0" stroke="#212121"/>
<path d="M3582.1 629V554H3584.6V629Z" fill="#999999"/>
<path d="M3583 593v12M3583 590v17M3584 562v8M3583 579v4" stroke="#999999"/>
<path d="M3583 549h0m1-8h0m0-10h0m-1-11h0" stroke="#999999"/>
<path d="M3583.5 629V552H3585.9V629Z" fill="#212121"/>
<path d="M3585 568v6M3585 561v11" stroke="#212121"/>
<path d="M3584 547h0" stroke="#212121"/>
<path d="M3584.8 629V552H3587.2V629Z" fill="#999999"/>
<path d="M3586 616v7M3586 606v4M3586 570v17M3586 584v5" stroke="#999999"/>
<path d="M3585 547h0m1-5h0m-1-9h0" stroke="#999999"/>
<path d="M3586.2 629V566H3588.5V629Z" fill="#212121"/>
<path d="M3588 609v15M3587 600v5" stroke="#212121"/>
<path d="M3587 559h0m0-3h0" stroke="#212121"/>
<path d="M3587.5 629V569H3589.9V629Z" fill="#999999"/>
<path d="M3588 607v18M3589 585v10M3588 593v7M3589 602v4" stroke="#999999"/>
<path d="M3588 564h0m1-27h0" stroke="#999999"/>
<path d="M3588.8 629V533H3591.2V629Z" fill="#212121"/>
<path d="M3590 548v5M3591 611v9" stroke="#212121"/>
<path d="M3589 529h0" stroke="#212121"/>
<path d="M3590.2 629V563H3592.5V629Z" fill="#999999"/>
<path d="M3591 576v9M3591 614v7M3591 611v9M3591 595v15" stroke="#999999"/>
<path d="M3591 559h0" stroke="#999999"/>
<path d="M3591.5 629V554H3593.8V629Z" fill="#212121"/>
<path d="M3593 560v4M3593 579v7" stroke="#212121"/>
<path d="M3592 550h0m1-10h0" stroke="#212121"/>
<path d="M3592.8 629V553H3595.1V629Z" fill="#999999"/>
<path d="M3594 576v10M3595 578v7M3594 616v5M3595 613v13" stroke="#999999"/>
<path d="M3593 548h0m2-4h0m-1-7h0m0-6h0" stroke="#999999"/>
<path d="M3594.1 629V569H3596.4V629Z" fill="#212121"/>
<path d="M3595 605v17M3595 566v13" stroke="#212121"/>
<path d="M3595 564h0m0-32h0" stroke="#212121"/>
<path d="M3595.4 629V567H3597.7V629Z" fill="#999999"/>
<path d="M3596 569v5M3597 572v16M3596 603v13M3596 574v6" stroke="#999999"/>
<path d="M3596 564h0m1-47h0m-1 43h0" stroke="#999999"/>
<path d="M3596.7 629V536H3599V629Z" fill="#212121"/>
<path d="M3598 558v6M3598 539v10" stroke="#212121"/>
<path d="M3597 531h0m1-9h0m0 2h0" stroke="#212121"/>
<path d="M3598 629V550H3600.3V629Z" fill="#999999"/>
<path d="M3600 607v13M3599 562v8M3599 556v7M3600 574v7" stroke="#999999"/>
<path d="M3599 544h0m1-11h0" stroke="#999999"/>
<path d="M3599.3 629V569H3601.5V629Z" fill="#212121"/>
<path d="M3601 617v8M3601 593v15" stroke="#212121"/>
<path d="M3600 564h0" stroke="#212121"/>
<path d="M3600.6 629V562H3602.8V629Z" fill="#999999"/>
<path d="M3602 596v5M3602 586v12M3601 592v18M3601 560v8" stroke="#999999"/>
<path d="M3601 556h0m0-53h0m1 19h0m1 31h0" stroke="#999999"/>
<path d="M3601.9 629V527H3604.1V629Z" fill="#212121"/>
<path d="M3603 574v6M3603 592v13" stroke="#212121"/>
<path d="M3602 523h0m1-5h0" stroke="#212121"/>
<path d="M3603.2 629V556H3605.3V629Z" fill="#999999"/>
<path d="M3604 593v9M3604 583v5M3605 605v12M3605 611v14" stroke="#999999"/>
<path d="M3604 550h0m0-17h0" stroke="#999999"/>
<path d="M3604.5 629V565H3606.6V629Z" fill="#212121"/>
<path d="M3606 571v12M3605 590v11" stroke="#212121"/>
<path d="M3605 560h0m1-7h0m-1-9h0m1-7h0m0-9h0m-1-7h0m0-7h0m1-7h0" stroke="#212121"/>
<path d="M3605.8 629V555H3607.9V629Z" fill="#999999"/>
<path d="M3606 572v9M3607 574v10M3607 605v4M3607 568v10" stroke="#999999"/>
<path d="M3606 550h0m1-27h0" stroke="#999999"/>
<path d="M3607 629V565H3609.1V629Z" fill="#212121"/>
<path d="M3608 568v14M3608 594v6" stroke="#212121"/>
<path d="M3607 561h0m1-35h0m0-6h0" stroke="#212121"/>
<path d="M3608.3 629V568H3610.4V629Z" fill="#999999"/>
<path d="M3609 604v4M3609 617v5M3610 595v10M3609 613v12" stroke="#999999"/>
<path d="M3609 563h0m0-5h0m0-4h0m1-6h0" stroke="#999999"/>
<path d="M3609.6 629V570H3611.6V629Z" fill="#212121"/>
<path d="M3611 603v4M3610 617v14" stroke="#212121"/>
<path d="M3610 564h0" stroke="#212121"/>
<path d="M3610.8 629V552H3612.9V629Z" fill="#999999"/>
<path d="M3611 605v11M3612 550v13M3612 573v14M3612 581v13" stroke="#999999"/>
<path d="M3611 545h0m0-17h0m1-20h0" stroke="#999999"/>
<path d="M3612.1 629V552H3614.1V629Z" fill="#212121"/>
<path d="M3613 594v12M3613 620v18" stroke="#212121"/>
<path d="M3612 547h0" stroke="#212121"/>
<path d="M3613.3 629V565H3615.3V629Z" fill="#999999"/>
<path d="M3615 575v17M3615 564v16M3615 574v9M3615 614v9" stroke="#999999"/>
<path d="M3614 560h0m1-6h0m0-5h0m-1-9h0m-1-4h0m0-8h0" stroke="#999999"/>
<path d="M3614.6 629V570H3616.6V629Z" fill="#212121"/>
<path d="M3616 618v5M3615 571v4" stroke="#212121"/>
<path d="M3615 565h0m1-5h0m0-7h0m0-6h0m-1-9h0m1-4h0m0-7h0" stroke="#212121"/>
<path d="M3615.8 629V564H3617.8V629Z" fill="#999999"/>
<path d="M3617 566v10M3616 562v14M3616 592v6M3617 563v9" stroke="#999999"/>
<path d="M3616 559h0" stroke="#999999"/>
<path d="M3617.1 629V558H3619V629Z" fill="#212121"/>
<path d="M3619 579v15M3618 569v7" stroke="#212121"/>
<path d="M3617 553h0m1-18h0m0-31h0m0 45h0m0-9h0m0-9h0m-1-11h0m1-9h0m1-9h0m-1-4h0m-1-10h0m1-7h0" stroke="#212121"/>
<path d="M3618.3 629V558H3620.2V629Z" fill="#999999"/>
<path d="M3619 579v4M3619 580v9M3620 569v16M3620 578v5" stroke="#999999"/>
<path d="M3619 554h0" stroke="#999999"/>
<path d="M3619.5 629V565H3621.4V629Z" fill="#212121"/>
<path d="M3621 572v5M3621 587v8" stroke="#212121"/>
<path d="M3620 561h0" stroke="#212121"/>
<path d="M3620.7 629V564H3622.6V629Z" fill="#999999"/>
<path d="M3622 563v14M3621 561v8M3621 609v12M3622 602v17" stroke="#999999"/>
<path d="M3621 560h0" stroke="#999999"/>
<path d="M3622 629V549H3623.8V629Z" fill="#212121"/>
<path d="M3623 570v16M3623 613v17" stroke="#212121"/>
<path d="M3622 544h0m1-4h0" stroke="#212121"/>
<path d="M3623.2 629V526H3625V629Z" fill="#999999"/>
<path d="M3625 619v11M3624 548v5M3624 603v8M3624 608v12" stroke="#999999"/>
<path d="M3623 522h0m1-4h0" stroke="#999999"/>
<path d="M3624.4 629V552H3626.2V629Z" fill="#212121"/>
<path d="M3626 598v15M3625 560v14" stroke="#212121"/>
<path d="M3625 546h0" stroke="#212121"/>
<path d="M3625.6 629V536H3627.4V629Z" fill="#999999"/>
<path d="M3627 604v12M3627 539v17M3626 614v4M3626 559v6" stroke="#999999"/>
<path d="M3626 530h0m1-3h0m0-4h0" stroke="#999999"/>
<path d="M3626.8 629V530H3628.5V629Z" fill="#212121"/>
<path d="M3628 608v12M3628 549v12" stroke="#212121"/>
<path d="M3627 526h0m1-3h0" stroke="#212121"/>
<path d="M3628 629V522H3629.7V629Z" fill="#999999"/>
<path d="M3629 567v5M3629 607v10M3629 518v8M3629 596v5" stroke="#999999"/>
<path d="M3628 516h0" stroke="#999999"/>
<path d="M3629.2 629V532H3630.9V629Z" fill="#212121"/>
<path d="M3630 573v13M3630 553v6" stroke="#212121"/>
<path d="M3629 528h0m0 12h0m1-49h0m0 29h0m0-8h0m1-9h0m-1-9h0" stroke="#212121"/>
<path d="M3630.3 629V549H3632.1V629Z" fill="#999999"/>
<path d="M3631 619v7M3631 553v5M3631 605v14M3632 604v6" stroke="#999999"/>
<path d="M3631 543h0" stroke="#999999"/>
<path d="M3631.5 629V555H3633.2V629Z" fill="#212121"/>
<path d="M3633 610v8M3632 592v11" stroke="#212121"/>
<path d="M3632 550h0" stroke="#212121"/>
<path d="M3632.7 629V562H3634.4V629Z" fill="#999999"/>
<path d="M3633 576v14M3634 588v9M3634 592v9M3633 585v18" stroke="#999999"/>
<path d="M3633 556h0m0-24h0m1-2h0m0 21h0m-1-9h0m1-8h0m0-5h0m-1-7h0m0-11h0m1-10h0m-1-4h0" stroke="#999999"/>
<path d="M3633.9 629V528H3635.5V629Z" fill="#212121"/>
<path d="M3635 577v13M3634 580v9" stroke="#212121"/>
<path d="M3634 524h0m1-20h0m0 21h0m0-17h0" stroke="#212121"/>
<path d="M3635 629V567H3636.7V629Z" fill="#999999"/>
<path d="M3635 586v13M3636 602v4M3635 588v14M3635 600v3" stroke="#999999"/>
<path d="M3635 563h0" stroke="#999999"/>
<path d="M3636.2 629V550H3637.8V629Z" fill="#212121"/>
<path d="M3636 581v11M3637 616v8" stroke="#212121"/>
<path d="M3636 546h0" stroke="#212121"/>
<path d="M3637.3 629V558H3638.9V629Z" fill="#999999"/>
<path d="M3638 615v9M3638 587v12M3638 609v12M3639 605v15" stroke="#999999"/>
<path d="M3638 552h0m0-15h0" stroke="#999999"/>
<path d="M3638.5 629V534H3640V629Z" fill="#212121"/>
<path d="M3639 586v11M3639 562v17" stroke="#212121"/>
<path d="M3639 530h0m-1-5h0m0-7h0m1-8h0m-1-4h0" stroke="#212121"/>
<path d="M3639.6 629V559H3641.2V629Z" fill="#999999"/>
<path d="M3641 598v3M3640 567v4M3641 590v3M3641 581v3" stroke="#999999"/>
<path d="M3640 553h0" stroke="#999999"/>
<path d="M3640.8 629V549H3642.3V629Z" fill="#212121"/>
<path d="M3642 594v3M3641 582v6" stroke="#212121"/>
<path d="M3641 543h0m0-7h0m0 2h0m1 1h0m1-7h0m0-6h0m-1-9h0" stroke="#212121"/>
<path d="M3641.9 629V566H3643.4V629Z" fill="#999999"/>
<path d="M3643 565v9M3643 604v11M3642 565v14M3642 566v18" stroke="#999999"/>
<path d="M3642 560h0" stroke="#999999"/>
<path d="M3643 629V564H3644.5V629Z" fill="#212121"/>
<path d="M3644 574v14M3643 619v16" stroke="#212121"/>
<path d="M3643 559h0m0-29h0" stroke="#212121"/>
<path d="M3644.2 629V558H3645.6V629Z" fill="#999999"/>
<path d="M3645 600v17M3644 612v7M3645 593v9M3645 555v17" stroke="#999999"/>
<path d="M3644 553h0m1-55h0m0 50h0" stroke="#999999"/>
<path d="M3645.3 629V565H3646.7V629Z" fill="#212121"/>
<path d="M3647 568v15M3646 610v12" stroke="#212121"/>
<path d="M3645 559h0" stroke="#212121"/>
<path d="M3646.4 629V530H3647.8V629Z" fill="#999999"/>
<path d="M3647 550v6M3647 577v16M3648 611v9M3647 584v8" stroke="#999999"/>
<path d="M3647 525h0" stroke="#999999"/>
<path d="M3647.5 629V561H3648.9V629Z" fill="#212121"/>
<path d="M3648 589v16M3648 599v13" stroke="#212121"/>
<path d="M3648 554h0m1-4h0m-1-4h0" stroke="#212121"/>
<path d="M3648.6 629V553H3650V629Z" fill="#999999"/>
<path d="M3649 557v16M3649 578v15M3649 598v15M3650 561v5" stroke="#999999"/>
<path d="M3649 547h0" stroke="#999999"/>
<path d="M3649.7 629V557H3651V629Z" fill="#212121"/>
<path d="M3651 565v15M3650 564v6" stroke="#212121"/>
<path d="M3650 553h0" stroke="#212121"/>
<path d="M3650.8 629V562H3652.1V629Z" fill="#999999"/>
<path d="M3651 607v12M3652 595v18M3651 566v13M3652 612v8" stroke="#999999"/>
<path d="M3651 555h0m0-1h0" stroke="#999999"/>
<path d="M3651.9 629V559H3653.2V629Z" fill="#212121"/>
<path d="M3652 559v8M3652 564v5" stroke="#212121"/>
<path d="M3652 553h0m1-12h0" stroke="#212121"/>
<path d="M3652.9 629V568H3654.2V629Z" fill="#999999"/>
<path d="M3653 615v5M3654 618v7M3653 580v4M3654 613v16" stroke="#999999"/>
<path d="M3653 563h0" stroke="#999999"/>
<path d="M3654 629V558H3655.3V629Z" fill="#212121"/>
<path d="M3655 561v12M3655 575v17" stroke="#212121"/>
<path d="M3654 553h0m0-32h0" stroke="#212121"/>
<path d="M3655.1 629V569H3656.3V629Z" fill="#999999"/>
<path d="M3655 571v14M3656 570v17M3656 583v6M3655 607v7" stroke="#999999"/>
<path d="M3655 563h0" stroke="#999999"/>
<path d="M3656.2 629V561H3657.4V629Z" fill="#212121"/>
<path d="M3656 570v11M3656 602v18" stroke="#212121"/>
<path d="M3656 555h0" stroke="#212121"/>
<path d="M3657.2 629V561H3658.4V629Z" fill="#999999"/>
<path d="M3658 589v6M3658 592v15M3658 573v6M3657 590v14" stroke="#999999"/>
<path d="M3657 555h0m1-2h0" stroke="#999999"/>
<path d="M3658.3 629V549H3659.4V629Z" fill="#212121"/>
<path d="M3659 589v9M3659 573v3" stroke="#212121"/>
<path d="M3658 545h0" stroke="#212121"/>
<path d="M3659.3 629V556H3660.5V629Z" fill="#999999"/>
<path d="M3660 616v6M3660 552v18M3660 615v18M3660 586v15" stroke="#999999"/>
<path d="M3659 551h0" stroke="#999999"/>
<path d="M3660.4 629V552H3661.5V629Z" fill="#212121"/>
<path d="M3661 604v8M3661 615v13" stroke="#212121"/>
<path d="M3660 548h0m1-45h0" stroke="#212121"/>
<path d="M3661.4 629V558H3662.5V629Z" fill="#999999"/>
<path d="M3662 562v3M3662 609v18M3662 619v7M3662 581v15" stroke="#999999"/>
<path d="M3661 553h0" stroke="#999999"/>
<path d="M3662.4 629V550H3663.5V629Z" fill="#212121"/>
<path d="M3663 554v3M3663 564v3" stroke="#212121"/>
<path d="M3662 544h0m1-5h0m1-9h0m-2-6h0m1-6h0m0-6h0m0-7h0m1-9h0m0-7h0m0-6h0" stroke="#212121"/>
<path d="M3663.5 629V559H3664.5V629Z" fill="#999999"/>
<path d="M3664 591v12M3664 576v10M3664 614v14M3664 620v12" stroke="#999999"/>
<path d="M3663 555h0m2-6h0m-1-9h0m1-5h0m-1-4h0m1-6h0m-1-7h0m0-7h0m1-8h0m0-8h0" stroke="#999999"/>
<path d="M3664.5 629V555H3665.5V629Z" fill="#212121"/>
<path d="M3665 601v17M3665 558v12" stroke="#212121"/>
<path d="M3664 550h0" stroke="#212121"/>
<path d="M3665.5 629V570H3666.5V629Z" fill="#999999"/>
<path d="M3666 616v11M3666 596v6M3666 612v5M3666 601v7" stroke="#999999"/>
<path d="M3666 564h0m0-5h0" stroke="#999999"/>
<path d="M3666.5 629V550H3667.5V629Z" fill="#212121"/>
<path d="M3667 603v11M3667 615v12" stroke="#212121"/>
<path d="M3667 545h0" stroke="#212121"/>
<path d="M3667.5 629V549H3668.5V629Z" fill="#999999"/>
<path d="M3668 554v15M3668 616v9M3668 611v9M3668 602v6" stroke="#999999"/>
<path d="M3668 545h0m0-26h0" stroke="#999999"/>
<path d="M3668.5 629V570H3669.5V629Z" fill="#212121"/>
<path d="M3669 575v3M3669 607v9" stroke="#212121"/>
<path d="M3668 564h0" stroke="#212121"/>
<path d="M3669.5 629V551H3670.5V629Z" fill="#999999"/>
<path d="M3670 615v13M3670 557v13M3670 591v4M3670 612v9" stroke="#999999"/>
<path d="M3669 547h0m1-3h0" stroke="#999999"/>
<path d="M3670.5 629V527H3671.4V629Z" fill="#212121"/>
<path d="M3671 572v14M3671 569v6" stroke="#212121"/>
<path d="M3670 522h0m1-4h0" stroke="#212121"/>
<path d="M3671.4 629V558H3672.4V629Z" fill="#999999"/>
<path d="M3672 613v6M3672 591v4M3672 586v15M3672 604v4" stroke="#999999"/>
<path d="M3671 553h0" stroke="#999999"/>
<path d="M3672.4 629V557H3673.4V629Z" fill="#212121"/>
<path d="M3673 598v3M3673 573v13" stroke="#212121"/>
<path d="M3672 552h0" stroke="#212121"/>
<path d="M3673.4 629V569H3674.3V629Z" fill="#999999"/>
<path d="M3674 588v9M3674 575v15M3674 587v16M3673 566v12" stroke="#999999"/>
<path d="M3673 565h0m1-9h0m0-5h0m0-5h0m1-5h0m0-11h0m0-8h0" stroke="#999999"/>
<path d="M3674.3 629V554H3675.3V629Z" fill="#212121"/>
<path d="M3675 604v17M3675 599v5" stroke="#212121"/>
<path d="M3674 550h0" stroke="#212121"/>
<path d="M3675.3 629V529H3676.2V629Z" fill="#999999"/>
<path d="M3676 560v5M3676 530v18M3676 570v4M3676 524v5" stroke="#999999"/>
<path d="M3675 523h0m0-6h0m1 0h0m-1-7h0m1-5h0m0-6h0m-1-7h0m1-8h0m0-7h0m0-4h0m-1-10h0m1-10h0m0-4h0" stroke="#999999"/>
<path d="M3676.2 629V559H3677.2V629Z" fill="#212121"/>
<path d="M3677 557v17M3677 571v14" stroke="#212121"/>
<path d="M3676 555h0m1-12h0" stroke="#212121"/>
<path d="M3677.2 629V551H3678.1V629Z" fill="#999999"/>
<path d="M3678 597v9M3678 551v10M3678 586v15M3677 568v17" stroke="#999999"/>
<path d="M3677 547h0" stroke="#999999"/>
<path d="M3678.1 629V549H3679.1V629Z" fill="#212121"/>
<path d="M3678 588v17M3679 549v17" stroke="#212121"/>
<path d="M3678 543h0m0-9h0" stroke="#212121"/>
<path d="M3679.1 629V569H3680V629Z" fill="#999999"/>
<path d="M3679 574v4M3679 577v8M3679 609v9M3679 598v10" stroke="#999999"/>
<path d="M3679 564h0m1-36h0m0 3h0" stroke="#999999"/>
<path d="M3680 629V555H3680.9V629Z" fill="#212121"/>
<path d="M3680 585v16M3680 611v11" stroke="#212121"/>
<path d="M3680 549h0m0-26h0m1 3h0" stroke="#212121"/>
<path d="M3680.9 629V569H3681.8V629Z" fill="#999999"/>
<path d="M3682 578v3M3681 597v8M3681 605v15M3681 582v8" stroke="#999999"/>
<path d="M3681 564h0" stroke="#999999"/>
<path d="M3681.8 629V549H3682.7V629Z" fill="#212121"/>
<path d="M3683 580v10M3682 599v12" stroke="#212121"/>
<path d="M3682 543h0m1-7h0m-1-9h0m-1-7h0m0-7h0m1-5h0m0-10h0m0-8h0m1-8h0m-1-11h0" stroke="#212121"/>
<path d="M3682.7 629V560H3683.6V629Z" fill="#999999"/>
<path d="M3683 588v15M3683 569v10M3683 558v12M3683 597v13" stroke="#999999"/>
<path d="M3683 555h0m0-6h0" stroke="#999999"/>
<path d="M3683.6 629V535H3684.5V629Z" fill="#212121"/>
<path d="M3684 564v15M3684 553v11" stroke="#212121"/>
<path d="M3684 529h0" stroke="#212121"/>
<path d="M3684.5 629V568H3685.4V629Z" fill="#999999"/>
<path d="M3685 573v12M3685 570v8M3685 603v5M3685 619v12" stroke="#999999"/>
<path d="M3685 565h0" stroke="#999999"/>
<path d="M3685.4 629V551H3686.3V629Z" fill="#212121"/>
<path d="M3686 570v15M3686 571v13" stroke="#212121"/>
<path d="M3685 545h0m1-16h0" stroke="#212121"/>
<path d="M3686.3 629V561H3687.2V629Z" fill="#999999"/>
<path d="M3687 608v16M3687 563v17M3687 594v14M3687 617v11" stroke="#999999"/>
<path d="M3686 554h0m0-16h0" stroke="#999999"/>
<path d="M3687.2 629V561H3688.1V629Z" fill="#212121"/>
<path d="M3687 579v6M3688 587v4" stroke="#212121"/>
<path d="M3687 557h0m1-68h0m0 62h0m-1-8h0m1-6h0m-1-7h0" stroke="#212121"/>
<path d="M3688.1 629V559H3689V629Z" fill="#999999"/>
<path d="M3689 558v11M3688 605v5M3689 592v14M3688 590v5" stroke="#999999"/>
<path d="M3688 553h0" stroke="#999999"/>
<path d="M3689 629V568H3689.8V629Z" fill="#212121"/>
<path d="M3689 563v6M3690 576v5" stroke="#212121"/>
<path d="M3689 562h0" stroke="#212121"/>
<path d="M3689.8 629V562H3690.7V629Z" fill="#999999"/>
<path d="M3690 607v14M3690 578v11M3691 562v17M3690 604v4" stroke="#999999"/>
<path d="M3690 559h0m0-4h0" stroke="#999999"/>
<path d="M3690.7 629V569H3691.5V629Z" fill="#212121"/>
<path d="M3691 605v11M3691 614v6" stroke="#212121"/>
<path d="M3691 563h0m0-7h0" stroke="#212121"/>
<path d="M3691.5 629V526H3692.4V629Z" fill="#999999"/>
<path d="M3692 529v4M3692 582v6M3692 615v13M3692 582v7" stroke="#999999"/>
<path d="M3692 520h0" stroke="#999999"/>
<path d="M3692.4 629V526H3693.2V629Z" fill="#212121"/>
<path d="M3693 597v5M3693 610v4" stroke="#212121"/>
<path d="M3692 522h0m0 13h0" stroke="#212121"/>
<path d="M3693.2 629V557H3694.1V629Z" fill="#999999"/>
<path d="M3694 603v13M3694 573v10M3694 617v17M3694 589v8" stroke="#999999"/>
<path d="M3693 551h0m1-29h0" stroke="#999999"/>
<path d="M3694.1 629V570H3694.9V629Z" fill="#212121"/>
<path d="M3694 589v16M3695 606v11" stroke="#212121"/>
<path d="M3694 564h0" stroke="#212121"/>
<path d="M3694.9 629V555H3695.7V629Z" fill="#999999"/>
<path d="M3695 599v10M3695 558v8M3695 612v9M3696 592v17" stroke="#999999"/>
<path d="M3695 552h0m1-43h0" stroke="#999999"/>
<path d="M3695.7 629V527H3696.6V629Z" fill="#212121"/>
<path d="M3696 527v4M3696 537v3" stroke="#212121"/>
<path d="M3696 521h0" stroke="#212121"/>
<path d="M3696.6 629V560H3697.4V629Z" fill="#999999"/>
<path d="M3697 562v4M3697 575v12M3697 589v7M3697 580v10" stroke="#999999"/>
<path d="M3697 556h0" stroke="#999999"/>
<path d="M3697.4 629V531H3698.2V629Z" fill="#212121"/>
<path d="M3698 569v17M3698 534v17" stroke="#212121"/>
<path d="M3697 526h0" stroke="#212121"/>
<path d="M3698.2 629V563H3699V629Z" fill="#999999"/>
<path d="M3698 613v5M3698 564v11M3699 576v13M3699 571v11" stroke="#999999"/>
<path d="M3698 558h0" stroke="#999999"/>
<path d="M3699 629V556H3699.8V629Z" fill="#212121"/>
<path d="M3699 586v17M3699 564v17" stroke="#212121"/>
<path d="M3699 550h0m0-48h0" stroke="#212121"/>
<path d="M3699.8 629V553H3700.6V629Z" fill="#999999"/>
<path d="M3700 589v3M3700 620v15M3700 571v8M3700 565v16" stroke="#999999"/>
<path d="M3700 546h0m0-14h0" stroke="#999999"/>
<path d="M3700.6 629V570H3701.4V629Z" fill="#212121"/>
<path d="M3701 572v6M3701 567v16" stroke="#212121"/>
<path d="M3701 565h0" stroke="#212121"/>
<path d="M3701.4 629V562H3702.2V629Z" fill="#999999"/>
<path d="M3702 586v8M3702 587v16M3702 612v10M3702 561v16" stroke="#999999"/>
<path d="M3701 557h0" stroke="#999999"/>
<path d="M3702.2 629V525H3703V629Z" fill="#212121"/>
<path d="M3703 552v8M3702 605v15" stroke="#212121"/>
<path d="M3702 519h0m0-4h0m1-10h0m-1-4h0" stroke="#212121"/>
<path d="M3703 629V570H3703.7V629Z" fill="#999999"/>
<path d="M3704 571v7M3703 611v6M3704 621v7M3704 579v9" stroke="#999999"/>
<path d="M3703 564h0" stroke="#999999"/>
<path d="M3703.7 629V558H3704.5V629Z" fill="#212121"/>
<path d="M3704 589v5M3704 566v7" stroke="#212121"/>
<path d="M3704 554h0" stroke="#212121"/>
<path d="M3704.5 629V566H3705.3V629Z" fill="#999999"/>
<path d="M3705 591v18M3705 563v5M3705 607v12M3705 610v14" stroke="#999999"/>
<path d="M3705 559h0" stroke="#999999"/>
<path d="M3705.3 629V557H3706V629Z" fill="#212121"/>
<path d="M3706 614v8M3705 567v8" stroke="#212121"/>
<path d="M3705 553h0m1-7h0m0-6h0m0-7h0" stroke="#212121"/>
<path d="M3706 629V554H3706.8V629Z" fill="#999999"/>
<path d="M3707 599v6M3707 607v10M3706 572v4M3707 554v8" stroke="#999999"/>
<path d="M3706 549h0" stroke="#999999"/>
<path d="M3706.8 629V565H3707.5V629Z" fill="#212121"/>
<path d="M3707 566v15M3707 566v8" stroke="#212121"/>
<path d="M3707 560h0" stroke="#212121"/>
<path d="M3707.5 629V564H3708.3V629Z" fill="#999999"/>
<path d="M3708 573v4M3708 569v10M3708 560v9M3708 561v15" stroke="#999999"/>
<path d="M3708 557h0" stroke="#999999"/>
<path d="M3708.3 629V555H3709V629Z" fill="#212121"/>
<path d="M3709 562v12M3709 611v15" stroke="#212121"/>
<path d="M3708 550h0" stroke="#212121"/>
<path d="M3709 629V550H3709.8V629Z" fill="#999999"/>
<path d="M3709 572v4M3709 614v10M3709 613v10M3709 575v10" stroke="#999999"/>
<path d="M3709 546h0" stroke="#999999"/>
<path d="M3709.8 629V550H3710.5V629Z" fill="#212121"/>
<path d="M3710 572v5M3710 567v16" stroke="#212121"/>
<path d="M3710 545h0" stroke="#212121"/>
<path d="M3710.5 629V555H3711.2V629Z" fill="#999999"/>
<path d="M3711 591v18M3711 593v10M3711 610v4M3711 594v18" stroke="#999999"/>
<path d="M3710 550h0m1-20h0" stroke="#999999"/>
<path d="M3711.2 629V563H3711.9V629Z" fill="#212121"/>
<path d="M3711 612v6M3712 561v12" stroke="#212121"/>
<path d="M3711 556h0m0-5h0m1-7h0m0-5h0" stroke="#212121"/>
<path d="M3711.9 629V539H3712.6V629Z" fill="#999999"/>
<path d="M3712 598v11M3713 567v4M3712 541v10M3712 570v3" stroke="#999999"/>
<path d="M3712 534h0m1-6h0m0-7h0" stroke="#999999"/>
<path d="M3712.6 629V554H3713.3V629Z" fill="#212121"/>
<path d="M3713 598v6M3713 591v5" stroke="#212121"/>
<path d="M3713 550h0" stroke="#212121"/>
<path d="M3713.3 629V564H3714V629Z" fill="#999999"/>
<path d="M3714 569v3M3714 583v10M3713 568v15M3714 591v15" stroke="#999999"/>
<path d="M3713 559h0m0-5h0m1-6h0m-1-8h0" stroke="#999999"/>
<path d="M3714 629V555H3714.7V629Z" fill="#212121"/>
<path d="M3714 598v10M3714 607v16" stroke="#212121"/>
<path d="M3714 550h0m1-31h0" stroke="#212121"/>
<path d="M3714.7 629V553H3715.4V629Z" fill="#999999"/>
<path d="M3715 564v10M3715 602v5M3715 576v18M3715 593v10" stroke="#999999"/>
<path d="M3715 547h0" stroke="#999999"/>
<path d="M3715.4 629V558H3716.1V629Z" fill="#212121"/>
<path d="M3716 567v13M3716 564v9" stroke="#212121"/>
<path d="M3715 554h0" stroke="#212121"/>
<path d="M3716.1 629V555H3716.8V629Z" fill="#999999"/>
<path d="M3717 593v3M3716 589v12M3717 595v18M3716 577v3" stroke="#999999"/>
<path d="M3716 550h0m0-27h0m-1 23h0" stroke="#999999"/>
<path d="M3716.8 629V558H3717.5V629Z" fill="#212121"/>
<path d="M3717 568v14M3717 588v8" stroke="#212121"/>
<path d="M3717 553h0" stroke="#212121"/>
<path d="M3717.5 629V567H3718.1V629Z" fill="#999999"/>
<path d="M3718 607v15M3718 617v10M3718 606v6M3718 565v13" stroke="#999999"/>
<path d="M3717 562h0" stroke="#999999"/>
<path d="M3718.1 629V560H3718.8V629Z" fill="#212121"/>
<path d="M3719 592v7M3718 616v11" stroke="#212121"/>
<path d="M3718 556h0" stroke="#212121"/>
<path d="M3718.8 629V565H3719.5V629Z" fill="#999999"/>
<path d="M3719 608v16M3719 590v14M3719 575v17M3719 588v4" stroke="#999999"/>
<path d="M3719 560h0m0-48h0m0 12h0" stroke="#999999"/>
<path d="M3719.5 629V550H3720.1V629Z" fill="#212121"/>
<path d="M3720 559v8M3720 583v7" stroke="#212121"/>
<path d="M3719 544h0" stroke="#212121"/>
<path d="M3720.1 629V550H3720.8V629Z" fill="#999999"/>
<path d="M3721 594v10M3720 582v5M3721 590v4M3721 599v7" stroke="#999999"/>
<path d="M3720 544h0" stroke="#999999"/>
<path d="M3720.8 629V557H3721.4V629Z" fill="#212121"/>
<path d="M3721 608v5M3721 580v15" stroke="#212121"/>
<path d="M3721 550h0" stroke="#212121"/>
<path d="M3721.4 629V549H3722V629Z" fill="#999999"/>
<path d="M3722 600v8M3722 553v3M3722 597v8M3722 550v5" stroke="#999999"/>
<path d="M3721 544h0" stroke="#999999"/>
<path d="M3722 629V551H3722.7V629Z" fill="#212121"/>
<path d="M3722 612v16M3722 604v14" stroke="#212121"/>
<path d="M3722 545h0" stroke="#212121"/>
<path d="M3722.7 629V562H3723.3V629Z" fill="#999999"/>
<path d="M3723 613v15M3723 596v7M3723 567v12M3723 571v14" stroke="#999999"/>
<path d="M3723 556h0" stroke="#999999"/>
<path d="M3723.3 629V570H3723.9V629Z" fill="#212121"/>
<path d="M3724 616v16M3723 599v12" stroke="#212121"/>
<path d="M3723 565h0" stroke="#212121"/>
<path d="M3723.9 629V550H3724.5V629Z" fill="#999999"/>
<path d="M3724 550v15M3724 550v7M3724 590v7M3724 546v6" stroke="#999999"/>
<path d="M3724 546h0" stroke="#999999"/>
<path d="M3724.5 629V553H3725.1V629Z" fill="#212121"/>
<path d="M3725 599v8M3725 602v8" stroke="#212121"/>
<path d="M3725 548h0m-1-7h0m1-4h0m0-11h0m0-4h0m0-5h0" stroke="#212121"/>
<path d="M3725.1 629V555H3725.8V629Z" fill="#999999"/>
<path d="M3726 567v10M3725 616v5M3725 594v3M3725 566v9" stroke="#999999"/>
<path d="M3725 550h0m0-88h0m0 83h0" stroke="#999999"/>
<path d="M3725.8 629V558H3726.4V629Z" fill="#212121"/>
<path d="M3726 560v4M3726 589v5" stroke="#212121"/>
<path d="M3726 554h0" stroke="#212121"/>
<path d="M3726.4 629V559H3726.9V629Z" fill="#999999"/>
<path d="M3727 618v12M3727 601v11M3727 581v4M3727 575v4" stroke="#999999"/>
<path d="M3726 554h0" stroke="#999999"/>
<path d="M3726.9 629V564H3727.5V629Z" fill="#212121"/>
<path d="M3727 566v14M3727 596v7" stroke="#212121"/>
<path d="M3727 558h0" stroke="#212121"/>
<path d="M3727.5 629V562H3728.1V629Z" fill="#999999"/>
<path d="M3728 605v14M3728 560v16M3728 568v8M3728 584v9" stroke="#999999"/>
<path d="M3728 558h0" stroke="#999999"/>
<path d="M3728.1 629V565H3728.7V629Z" fill="#212121"/>
<path d="M3729 577v4M3728 614v15" stroke="#212121"/>
<path d="M3728 560h0m0-24h0m0 18h0m1-11h0m-1-10h0" stroke="#212121"/>
<path d="M3728.7 629V551H3729.3V629Z" fill="#999999"/>
<path d="M3729 552v6M3729 586v8M3729 583v5M3729 548v10" stroke="#999999"/>
<path d="M3729 546h0" stroke="#999999"/>
<path d="M3729.3 629V549H3729.9V629Z" fill="#212121"/>
<path d="M3730 565v15M3729 606v10" stroke="#212121"/>
<path d="M3729 544h0" stroke="#212121"/>
<path d="M3729.9 629V563H3730.4V629Z" fill="#999999"/>
<path d="M3730 563v6M3730 600v12M3730 619v10M3730 570v13" stroke="#999999"/>
<path d="M3730 556h0m0-5h0m1-8h0m-1-9h0" stroke="#999999"/>
<path d="M3730.4 629V555H3731V629Z" fill="#212121"/>
<path d="M3731 585v7M3731 583v4" stroke="#212121"/>
<path d="M3730 551h0" stroke="#212121"/>
<path d="M3731 629V569H3731.5V629Z" fill="#999999"/>
<path d="M3731 564v11M3731 600v17M3731 578v16M3731 570v9" stroke="#999999"/>
<path d="M3731 562h0" stroke="#999999"/>
<path d="M3731.5 629V549H3732.1V629Z" fill="#212121"/>
<path d="M3732 586v16M3732 570v5" stroke="#212121"/>
<path d="M3732 545h0m0-7h0m0-6h0" stroke="#212121"/>
<path d="M3732.1 629V549H3732.6V629Z" fill="#999999"/>
<path d="M3733 619v11M3732 559v16M3732 555v10M3732 579v17" stroke="#999999"/>
<path d="M3732 544h0" stroke="#999999"/>
<path d="M3732.6 629V565H3733.2V629Z" fill="#212121"/>
<path d="M3733 576v6M3733 600v4" stroke="#212121"/>
<path d="M3733 559h0" stroke="#212121"/>
<path d="M3733.2 629V567H3733.7V629Z" fill="#999999"/>
<path d="M3734 585v14M3734 563v11M3733 581v7M3733 565v6" stroke="#999999"/>
<path d="M3733 563h0" stroke="#999999"/>
<path d="M3733.7 629V536H3734.3V629Z" fill="#212121"/>
<path d="M3734 576v9M3734 540v6" stroke="#212121"/>
<path d="M3734 530h0m0-5h0m-1-8h0m1-5h0m1-6h0m0-9h0" stroke="#212121"/>
<path d="M3734.3 629V562H3734.8V629Z" fill="#999999"/>
<path d="M3735 604v15M3735 605v11M3735 604v11M3735 588v8" stroke="#999999"/>
<path d="M3734 556h0m1-5h0" stroke="#999999"/>
<path d="M3734.8 629V563H3735.4V629Z" fill="#212121"/>
<path d="M3735 620v7M3735 563v3" stroke="#212121"/>
<path d="M3735 557h0" stroke="#212121"/>
<path d="M3735.4 629V561H3735.9V629Z" fill="#999999"/>
<path d="M3736 567v10M3735 563v6M3736 591v14M3735 579v3" stroke="#999999"/>
<path d="M3735 554h0" stroke="#999999"/>
<path d="M3735.9 629V551H3736.4V629Z" fill="#212121"/>
<path d="M3736 568v9M3736 620v13" stroke="#212121"/>
<path d="M3736 545h0" stroke="#212121"/>
<path d="M3736.4 629V568H3737V629Z" fill="#999999"/>
<path d="M3737 610v18M3737 577v6M3736 613v13M3737 570v12" stroke="#999999"/>
<path d="M3736 563h0m1-40h0" stroke="#999999"/>
<path d="M3737 629V561H3737.5V629Z" fill="#212121"/>
<path d="M3737 587v16M3737 587v18" stroke="#212121"/>
<path d="M3737 556h0m0-43h0" stroke="#212121"/>
<path d="M3737.5 629V549H3738V629Z" fill="#999999"/>
<path d="M3738 548v9M3738 606v8M3738 589v12M3738 612v5" stroke="#999999"/>
<path d="M3737 543h0" stroke="#999999"/>
<path d="M3738 629V530H3738.5V629Z" fill="#212121"/>
<path d="M3738 564v9M3738 601v11" stroke="#212121"/>
<path d="M3738 524h0" stroke="#212121"/>
<path d="M3738.5 629V552H3739.1V629Z" fill="#999999"/>
<path d="M3739 602v15M3739 554v6M3739 558v12M3739 615v15" stroke="#999999"/>
<path d="M3739 546h0" stroke="#999999"/>
<path d="M3739.1 629V561H3739.6V629Z" fill="#212121"/>
<path d="M3739 604v17M3740 579v11" stroke="#212121"/>
<path d="M3739 556h0m1-20h0m-1 16h0" stroke="#212121"/>
<path d="M3739.6 629V566H3740.1V629Z" fill="#999999"/>
<path d="M3740 564v9M3740 573v5M3740 562v8M3740 578v11" stroke="#999999"/>
<path d="M3740 560h0m0-23h0" stroke="#999999"/>
<path d="M3740.1 629V557H3740.6V629Z" fill="#212121"/>
<path d="M3741 598v8M3740 595v12" stroke="#212121"/>
<path d="M3740 553h0m1-63h0m-1 55h0m0-10h0m0-7h0m1-9h0m-1-5h0m1-9h0" stroke="#212121"/>
<path d="M3740.6 629V556H3741.1V629Z" fill="#999999"/>
<path d="M3741 564v9M3741 600v6M3741 583v9M3741 619v12" stroke="#999999"/>
<path d="M3741 550h0" stroke="#999999"/>
<path d="M3741.1 629V552H3741.6V629Z" fill="#212121"/>
<path d="M3742 609v5M3741 577v11" stroke="#212121"/>
<path d="M3741 547h0" stroke="#212121"/>
<path d="M3741.6 629V569H3742.1V629Z" fill="#999999"/>
<path d="M3742 609v12M3742 582v5M3742 579v3M3742 577v17" stroke="#999999"/>
<path d="M3742 566h0" stroke="#999999"/>
<path d="M3742.1 629V557H3742.6V629Z" fill="#212121"/>
<path d="M3742 553v6M3743 615v6" stroke="#212121"/>
<path d="M3742 551h0" stroke="#212121"/>
<path d="M3742.6 629V556H3743.1V629Z" fill="#999999"/>
<path d="M3743 594v14M3743 581v12M3743 587v16M3743 557v3" stroke="#999999"/>
<path d="M3743 551h0m0-21h0" stroke="#999999"/>
<path d="M3743.1 629V561H3743.6V629Z" fill="#212121"/>
<path d="M3743 613v7M3743 591v3" stroke="#212121"/>
<path d="M3743 555h0m0-80h0m0 57h0" stroke="#212121"/>
<path d="M3743.6 629V564H3744.1V629Z" fill="#999999"/>
<path d="M3744 617v18M3744 595v3M3744 585v15M3744 603v18" stroke="#999999"/>
<path d="M3744 559h0" stroke="#999999"/>
<path d="M3744.1 629V562H3744.6V629Z" fill="#212121"/>
<path d="M3744 609v10M3745 605v13" stroke="#212121"/>
<path d="M3744 558h0" stroke="#212121"/>
<path d="M3744.6 629V567H3745.1V629Z" fill="#999999"/>
<path d="M3745 593v16M3745 592v14M3745 595v12M3745 567v9" stroke="#999999"/>
<path d="M3745 560h0" stroke="#999999"/>
<path d="M3745.1 629V526H3745.6V629Z" fill="#212121"/>
<path d="M3745 590v14M3746 596v18" stroke="#212121"/>
<path d="M3745 521h0m0 16h0" stroke="#212121"/>
<path d="M3745.6 629V551H3746.1V629Z" fill="#999999"/>
<path d="M3746 614v7M3746 618v13M3746 561v15M3746 618v9" stroke="#999999"/>
<path d="M3746 546h0" stroke="#999999"/>
<path d="M3746.1 629V569H3746.6V629Z" fill="#212121"/>
<path d="M3746 588v3M3747 581v17" stroke="#212121"/>
<path d="M3746 564h0m0-7h0" stroke="#212121"/>
<path d="M3746.6 629V562H3747V629Z" fill="#999999"/>
<path d="M3747 595v11M3747 594v15M3747 578v6M3747 582v8" stroke="#999999"/>
<path d="M3747 557h0m0-40h0" stroke="#999999"/>
<path d="M3747 629V556H3747.5V629Z" fill="#212121"/>
<path d="M3747 565v4M3747 606v14" stroke="#212121"/>
<path d="M3747 551h0" stroke="#212121"/>
<path d="M3747.5 629V557H3748V629Z" fill="#999999"/>
<path d="M3748 576v17M3748 593v7M3748 589v9M3748 584v13" stroke="#999999"/>
<path d="M3748 552h0" stroke="#999999"/>
<path d="M3748 629V562H3748.5V629Z" fill="#212121"/>
<path d="M3748 597v13M3748 574v12" stroke="#212121"/>
<path d="M3748 558h0m0-94h0" stroke="#212121"/>
<path d="M3748.5 629V567H3749V629Z" fill="#999999"/>
<path d="M3749 581v9M3749 608v11M3749 567v10M3749 574v11" stroke="#999999"/>
<path d="M3748 562h0" stroke="#999999"/>
<path d="M3749 629V553H3749.4V629Z" fill="#212121"/>
<path d="M3749 554v17M3749 611v13" stroke="#212121"/>
<path d="M3749 548h0" stroke="#212121"/>
<path d="M3749.4 629V552H3749.9V629Z" fill="#999999"/>
<path d="M3749 549v14M3749 549v17M3749 592v15M3750 608v8" stroke="#999999"/>
<path d="M3749 546h0m1-7h0" stroke="#999999"/>
<path d="M3749.9 629V559H3750.4V629Z" fill="#212121"/>
<path d="M3750 556v14M3750 620v10" stroke="#212121"/>
<path d="M3750 554h0m0-4h0m0-6h0m0-8h0" stroke="#212121"/>
<path d="M3750.4 629V562H3750.8V629Z" fill="#999999"/>
<path d="M3751 616v8M3751 619v5M3751 579v11M3751 576v10" stroke="#999999"/>
<path d="M3750 557h0" stroke="#999999"/>
<path d="M3750.8 629V551H3751.3V629Z" fill="#212121"/>
<path d="M3751 603v7M3751 592v4" stroke="#212121"/>
<path d="M3751 546h0m1-7h0m-2-6h0m1-4h0m-1-11h0m0-8h0m2-4h0m0-10h0m-2-6h0" stroke="#212121"/>
<path d="M3751.3 629V563H3751.7V629Z" fill="#999999"/>
<path d="M3751 566v7M3752 578v13M3752 610v12M3752 600v7" stroke="#999999"/>
<path d="M3751 557h0" stroke="#999999"/>
<path d="M3751.7 629V569H3752.2V629Z" fill="#212121"/>
<path d="M3752 598v10M3752 569v11" stroke="#212121"/>
<path d="M3752 565h0" stroke="#212121"/>
<path d="M3752.2 629V551H3752.7V629Z" fill="#999999"/>
<path d="M3752 567v8M3752 605v14M3753 598v7M3752 550v16" stroke="#999999"/>
<path d="M3752 546h0" stroke="#999999"/>
<path d="M3752.7 629V560H3753.1V629Z" fill="#212121"/>
<path d="M3753 557v5M3753 582v11" stroke="#212121"/>
<path d="M3753 554h0" stroke="#212121"/>
<path d="M3753.1 629V559H3753.6V629Z" fill="#999999"/>
<path d="M3753 616v11M3753 562v5M3753 585v12M3754 589v16" stroke="#999999"/>
<path d="M3753 554h0" stroke="#999999"/>
<path d="M3753.6 629V567H3754V629Z" fill="#212121"/>
<path d="M3754 566v12M3754 594v14" stroke="#212121"/>
<path d="M3754 562h0m1-4h0m-1-9h0" stroke="#212121"/>
<path d="M3754 629V568H3754.5V629Z" fill="#999999"/>
<path d="M3754 605v5M3754 621v9M3754 595v6M3754 614v18" stroke="#999999"/>
<path d="M3754 564h0m0-16h0" stroke="#999999"/>
<path d="M3754.5 629V558H3754.9V629Z" fill="#212121"/>
<path d="M3754 576v10M3755 603v12" stroke="#212121"/>
<path d="M3754 553h0" stroke="#212121"/>
<path d="M3754.9 629V565H3755.4V629Z" fill="#999999"/>
<path d="M3755 611v3M3755 604v4M3755 573v14M3755 569v14" stroke="#999999"/>
<path d="M3755 560h0m0-5h0m0-7h0m-1-10h0m1-5h0m-1-5h0m0-6h0" stroke="#999999"/>
<path d="M3755.4 629V551H3755.8V629Z" fill="#212121"/>
<path d="M3756 577v15M3756 600v13" stroke="#212121"/>
<path d="M3755 545h0" stroke="#212121"/>
<path d="M3755.8 629V554H3756.2V629Z" fill="#999999"/>
<path d="M3756 602v14M3756 552v7M3756 572v7M3756 558v6" stroke="#999999"/>
<path d="M3756 550h0" stroke="#999999"/>
<path d="M3756.2 629V567H3756.7V629Z" fill="#212121"/>
<path d="M3757 592v10M3757 586v13" stroke="#212121"/>
<path d="M3756 562h0" stroke="#212121"/>
<path d="M3756.7 629V550H3757.1V629Z" fill="#999999"/>
<path d="M3757 620v17M3757 552v17M3757 567v11M3757 590v6" stroke="#999999"/>
<path d="M3757 546h0" stroke="#999999"/>
<path d="M3757.1 629V567H3757.6V629Z" fill="#212121"/>
<path d="M3757 587v4M3757 571v16" stroke="#212121"/>
<path d="M3757 563h0m0-23h0" stroke="#212121"/>
<path d="M3757.6 629V553H3758V629Z" fill="#999999"/>
<path d="M3758 590v12M3758 557v11M3758 561v17M3758 565v15" stroke="#999999"/>
<path d="M3758 549h0" stroke="#999999"/>
<path d="M3758 629V554H3758.4V629Z" fill="#212121"/>
<path d="M3758 570v16M3758 560v17" stroke="#212121"/>
<path d="M3758 551h0" stroke="#212121"/>
<path d="M3758.4 629V549H3758.8V629Z" fill="#999999"/>
<path d="M3759 587v3M3759 579v17M3759 551v9M3759 600v10" stroke="#999999"/>
<path d="M3758 545h0" stroke="#999999"/>
<path d="M3758.8 629V552H3759.3V629Z" fill="#212121"/>
<path d="M3759 609v14M3759 606v14" stroke="#212121"/>
<path d="M3759 546h0" stroke="#212121"/>
<path d="M3759.3 629V569H3759.7V629Z" fill="#999999"/>
<path d="M3759 588v8M3759 606v7M3760 586v8M3760 576v4" stroke="#999999"/>
<path d="M3759 564h0" stroke="#999999"/>
<path d="M3759.7 629V555H3760.1V629Z" fill="#212121"/>
<path d="M3760 585v12M3760 618v10" stroke="#212121"/>
<path d="M3760 551h0" stroke="#212121"/>
<path d="M3760.1 629V563H3760.5V629Z" fill="#999999"/>
<path d="M3760 591v15M3761 567v6M3760 594v11M3760 617v18" stroke="#999999"/>
<path d="M3760 556h0m0-49h0" stroke="#999999"/>
<path d="M3760.5 629V571H3761V629Z" fill="#212121"/>
<path d="M3761 620v10M3761 574v4" stroke="#212121"/>
<path d="M3761 565h0m0-37h0m0 34h0m0 0h0m0-10h0m0-11h0m-1-5h0m0-9h0m1-7h0m0-5h0" stroke="#212121"/>
<path d="M3761 629V558H3761.4V629Z" fill="#999999"/>
<path d="M3761 589v11M3761 566v15M3761 616v8M3761 602v15" stroke="#999999"/>
<path d="M3761 553h0" stroke="#999999"/>
<path d="M3761.4 629V564H3761.8V629Z" fill="#212121"/>
<path d="M3761 592v13M3762 592v10" stroke="#212121"/>
<path d="M3761 559h0" stroke="#212121"/>
<path d="M3761.8 629V562H3762.2V629Z" fill="#999999"/>
<path d="M3762 589v6M3762 595v3M3762 609v6M3762 570v17" stroke="#999999"/>
<path d="M3762 557h0" stroke="#999999"/>
<path d="M3762.2 629V555H3762.6V629Z" fill="#212121"/>
<path d="M3762 610v17M3762 578v18" stroke="#212121"/>
<path d="M3762 548h0" stroke="#212121"/>
<path d="M3762.6 629V557H3763V629Z" fill="#999999"/>
<path d="M3763 606v15M3763 616v13M3763 585v4M3763 577v8" stroke="#999999"/>
<path d="M3763 551h0" stroke="#999999"/>
<path d="M3763 629V558H3763.4V629Z" fill="#212121"/>
<path d="M3763 592v16M3763 605v16" stroke="#212121"/>
<path d="M3763 552h0" stroke="#212121"/>
<path d="M3763.4 629V554H3763.9V629Z" fill="#999999"/>
<path d="M3764 564v18M3764 550v7M3764 569v12M3763 618v3" stroke="#999999"/>
<path d="M3763 548h0" stroke="#999999"/>
<path d="M3763.9 629V567H3764.3V629Z" fill="#212121"/>
<path d="M3764 619v15M3764 594v10" stroke="#212121"/>
<path d="M3764 561h0" stroke="#212121"/>
<path d="M3764.3 629V558H3764.7V629Z" fill="#999999"/>
<path d="M3764 554v11M3765 594v16M3765 578v12M3764 620v7" stroke="#999999"/>
<path d="M3764 551h0" stroke="#999999"/>
<path d="M3764.7 629V570H3765.1V629Z" fill="#212121"/>
<path d="M3765 614v7M3765 586v15" stroke="#212121"/>
<path d="M3765 565h0" stroke="#212121"/>
<path d="M3765.1 629V554H3765.5V629Z" fill="#999999"/>
<path d="M3765 603v11M3765 575v11M3765 609v12M3765 576v17" stroke="#999999"/>
<path d="M3765 548h0" stroke="#999999"/>
<path d="M3765.5 629V524H3765.9V629Z" fill="#212121"/>
<path d="M3766 586v5M3766 553v7" stroke="#212121"/>
<path d="M3765 520h0" stroke="#212121"/>
<path d="M3765.9 629V562H3766.3V629Z" fill="#999999"/>
<path d="M3766 567v16M3766 562v13M3766 609v9M3766 606v13" stroke="#999999"/>
<path d="M3766 556h0" stroke="#999999"/>
<path d="M3766.3 629V553H3766.7V629Z" fill="#212121"/>
<path d="M3766 559v11M3766 581v16" stroke="#212121"/>
<path d="M3766 549h0" stroke="#212121"/>
<path d="M3766.7 629V563H3767.1V629Z" fill="#999999"/>
<path d="M3767 614v13M3767 607v17M3767 575v5M3767 602v9" stroke="#999999"/>
<path d="M3767 558h0" stroke="#999999"/>
<path d="M3767.1 629V554H3767.5V629Z" fill="#212121"/>
<path d="M3767 587v18M3767 590v11" stroke="#212121"/>
<path d="M3767 549h0" stroke="#212121"/>
<path d="M3767.5 629V556H3767.9V629Z" fill="#999999"/>
<path d="M3768 558v10M3768 561v5M3768 611v13M3768 593v12" stroke="#999999"/>
<path d="M3767 549h0m1-48h0m0 45h0m-1-7h0" stroke="#999999"/>
<path d="M3767.9 629V560H3768.2V629Z" fill="#212121"/>
<path d="M3768 570v16M3768 567v16" stroke="#212121"/>
<path d="M3768 554h0" stroke="#212121"/>
<path d="M3768.2 629V556H3768.6V629Z" fill="#999999"/>
<path d="M3769 614v13M3769 599v13M3768 579v18M3769 569v16" stroke="#999999"/>
<path d="M3768 549h0" stroke="#999999"/>
<path d="M3768.6 629V559H3769V629Z" fill="#212121"/>
<path d="M3769 600v7M3769 591v10" stroke="#212121"/>
<path d="M3769 553h0" stroke="#212121"/>
<path d="M3769 629V563H3769.4V629Z" fill="#999999"/>
<path d="M3769 606v5M3769 599v9M3769 620v12M3769 573v15" stroke="#999999"/>
<path d="M3769 557h0" stroke="#999999"/>
<path d="M3769.4 629V560H3769.8V629Z" fill="#212121"/>
<path d="M3769 580v8M3769 607v16" stroke="#212121"/>
<path d="M3769 554h0" stroke="#212121"/>
<path d="M3769.8 629V564H3770.2V629Z" fill="#999999"/>
<path d="M3770 580v15M3770 587v10M3770 568v5M3770 596v14" stroke="#999999"/>
<path d="M3770 560h0" stroke="#999999"/>
<path d="M3770.2 629V550H3770.6V629Z" fill="#212121"/>
<path d="M3771 612v16M3770 562v11" stroke="#212121"/>
<path d="M3770 544h0m0-11h0" stroke="#212121"/>
<path d="M3770.6 629V554H3770.9V629Z" fill="#999999"/>
<path d="M3771 616v7M3771 591v16M3771 589v4M3771 595v6" stroke="#999999"/>
<path d="M3771 550h0" stroke="#999999"/>
<path d="M3770.9 629V569H3771.3V629Z" fill="#212121"/>
<path d="M3771 602v5M3771 588v6" stroke="#212121"/>
<path d="M3771 564h0m0-21h0" stroke="#212121"/>
<path d="M3771.3 629V563H3771.7V629Z" fill="#999999"/>
<path d="M3772 614v17M3771 597v15M3771 598v18M3771 607v12" stroke="#999999"/>
<path d="M3771 556h0" stroke="#999999"/>
<path d="M3771.7 629V565H3772.1V629Z" fill="#212121"/>
<path d="M3772 607v10M3772 577v15" stroke="#212121"/>
<path d="M3772 559h0" stroke="#212121"/>
<path d="M3772.1 629V567H3772.4V629Z" fill="#999999"/>
<path d="M3772 603v6M3772 601v15M3772 611v12M3772 585v16" stroke="#999999"/>
<path d="M3772 561h0" stroke="#999999"/>
<path d="M3772.4 629V562H3772.8V629Z" fill="#212121"/>
<path d="M3772 568v12M3773 578v11" stroke="#212121"/>
<path d="M3772 557h0" stroke="#212121"/>
<path d="M3772.8 629V560H3773.2V629Z" fill="#999999"/>
<path d="M3773 620v3M3773 574v11M3773 585v3M3773 576v10" stroke="#999999"/>
<path d="M3773 554h0" stroke="#999999"/>
<path d="M3773.2 629V555H3773.6V629Z" fill="#212121"/>
<path d="M3773 578v16M3774 598v15" stroke="#212121"/>
<path d="M3773 548h0" stroke="#212121"/>
<path d="M3773.6 629V552H3773.9V629Z" fill="#999999"/>
<path d="M3774 602v13M3774 561v16M3774 568v10M3774 568v10" stroke="#999999"/>
<path d="M3774 547h0" stroke="#999999"/>
<path d="M3773.9 629V560H3774.3V629Z" fill="#212121"/>
<path d="M3774 620v16M3774 560v8" stroke="#212121"/>
<path d="M3774 556h0" stroke="#212121"/>
<path d="M3774.3 629V563H3774.7V629Z" fill="#999999"/>
<path d="M3775 590v6M3774 575v13M3775 618v14M3774 607v12" stroke="#999999"/>
<path d="M3774 558h0" stroke="#999999"/>
<path d="M3774.7 629V557H3775V629Z" fill="#212121"/>
<path d="M3775 614v11M3775 578v9" stroke="#212121"/>
<path d="M3775 551h0" stroke="#212121"/>
<path d="M3775 629V564H3775.4V629Z" fill="#999999"/>
<path d="M3775 609v14M3775 594v12M3775 599v7M3775 596v10" stroke="#999999"/>
<path d="M3775 560h0" stroke="#999999"/>
<path d="M3775.4 629V557H3775.7V629Z" fill="#212121"/>
<path d="M3775 616v13M3776 611v3" stroke="#212121"/>
<path d="M3775 552h0" stroke="#212121"/>
<path d="M3775.7 629V559H3776.1V629Z" fill="#999999"/>
<path d="M3776 616v7M3776 579v11M3776 565v11M3776 568v4" stroke="#999999"/>
<path d="M3776 553h0" stroke="#999999"/>
<path d="M3776.1 629V564H3776.5V629Z" fill="#212121"/>
<path d="M3776 611v16M3776 575v16" stroke="#212121"/>
<path d="M3776 560h0" stroke="#212121"/>
<path d="M3776.5 629V556H3776.8V629Z" fill="#999999"/>
<path d="M3777 567v10M3777 561v10M3776 571v16M3776 554v4" stroke="#999999"/>
<path d="M3776 550h0" stroke="#999999"/>
<path d="M3776.8 629V554H3777.2V629Z" fill="#212121"/>
<path d="M3777 585v17M3777 561v15" stroke="#212121"/>
<path d="M3777 550h0" stroke="#212121"/>
<path d="M3777.2 629V565H3777.5V629Z" fill="#999999"/>
<path d="M3777 565v11M3777 570v14M3777 576v8M3777 592v14" stroke="#999999"/>
<path d="M3777 561h0" stroke="#999999"/>
<path d="M3777.5 629V558H3777.9V629Z" fill="#212121"/>
<path d="M3778 605v14M3778 601v16" stroke="#212121"/>
<path d="M3778 551h0" stroke="#212121"/>
<path d="M3777.9 629V552H3778.2V629Z" fill="#999999"/>
<path d="M3778 591v7M3778 594v4M3778 613v3M3778 600v7" stroke="#999999"/>
<path d="M3778 549h0" stroke="#999999"/>
<path d="M3778.2 629V558H3778.6V629Z" fill="#212121"/>
<path d="M3778 571v16M3779 607v7" stroke="#212121"/>
<path d="M3778 551h0" stroke="#212121"/>
<path d="M3778.6 629V553H3778.9V629Z" fill="#999999"/>
<path d="M3779 610v17M3779 615v10M3779 548v17M3779 606v9" stroke="#999999"/>
<path d="M3779 548h0" stroke="#999999"/>
<path d="M3778.9 629V567H3779.3V629Z" fill="#212121"/>
<path d="M3779 571v11M3779 596v16" stroke="#212121"/>
<path d="M3779 563h0" stroke="#212121"/>
<path d="M3779.3 629V557H3779.6V629Z" fill="#999999"/>
<path d="M3779 585v14M3780 573v14M3779 565v13M3779 553v4" stroke="#999999"/>
<path d="M3779 552h0m1-15h0" stroke="#999999"/>
<path d="M3779.6 629V570H3780V629Z" fill="#212121"/>
<path d="M3780 609v16M3780 586v12" stroke="#212121"/>
<path d="M3780 564h0" stroke="#212121"/>
<path d="M3780 629V557H3780.3V629Z" fill="#999999"/>
<path d="M3780 577v11M3780 596v15M3780 574v13M3780 574v6" stroke="#999999"/>
<path d="M3780 551h0" stroke="#999999"/>
<path d="M3780.3 629V554H3780.7V629Z" fill="#212121"/>
<path d="M3780 554v17M3781 571v6" stroke="#212121"/>
<path d="M3780 548h0" stroke="#212121"/>
<path d="M3780.7 629V551H3781V629Z" fill="#999999"/>
<path d="M3781 550v8M3781 607v12M3781 568v16M3781 607v7" stroke="#999999"/>
<path d="M3781 544h0m0-5h0m1-5h0m-2-8h0" stroke="#999999"/>
<path d="M3781 629V567H3781.4V629Z" fill="#212121"/>
<path d="M3781 590v14M3781 565v8" stroke="#212121"/>
<path d="M3781 562h0" stroke="#212121"/>
<path d="M3781.4 629V570H3781.7V629Z" fill="#999999"/>
<path d="M3782 590v11M3782 608v8M3782 603v8M3781 609v5" stroke="#999999"/>
<path d="M3781 565h0" stroke="#999999"/>
<path d="M3781.7 629V563H3782V629Z" fill="#212121"/>
<path d="M3782 580v5M3782 560v12" stroke="#212121"/>
<path d="M3782 558h0m0-39h0" stroke="#212121"/>
<path d="M3782 629V556H3782.4V629Z" fill="#999999"/>
<path d="M3782 565v9M3782 563v5M3782 581v16M3782 596v9" stroke="#999999"/>
<path d="M3782 552h0" stroke="#999999"/>
<path d="M3782.4 629V553H3782.7V629Z" fill="#212121"/>
<path d="M3783 555v12M3783 620v4" stroke="#212121"/>
<path d="M3782 548h0" stroke="#212121"/>
<path d="M3782.7 629V564H3783V629Z" fill="#999999"/>
<path d="M3783 600v4M3783 582v8M3783 612v14M3783 610v15" stroke="#999999"/>
<path d="M3783 558h0m0-9h0" stroke="#999999"/>
<path d="M3783 629V566H3783.4V629Z" fill="#212121"/>
<path d="M3783 604v13M3783 618v11" stroke="#212121"/>
<path d="M3783 562h0" stroke="#212121"/>
<path d="M3783.4 629V557H3783.7V629Z" fill="#999999"/>
<path d="M3784 621v12M3783 609v13M3783 599v7M3784 576v11" stroke="#999999"/>
<path d="M3783 551h0" stroke="#999999"/>
<path d="M3783.7 629V564H3784V629Z" fill="#212121"/>
<path d="M3784 598v5M3784 621v9" stroke="#212121"/>
<path d="M3784 560h0" stroke="#212121"/>
<path d="M3784 629V549H3784.4V629Z" fill="#999999"/>
<path d="M3784 554v12M3784 558v14M3784 560v4M3784 582v8" stroke="#999999"/>
<path d="M3784 544h0" stroke="#999999"/>
<path d="M3784.4 629V549H3784.7V629Z" fill="#212121"/>
<path d="M3785 606v8M3785 585v13" stroke="#212121"/>
<path d="M3784 542h0" stroke="#212121"/>
<path d="M3784.7 629V565H3785V629Z" fill="#999999"/>
<path d="M3785 582v18M3785 575v6M3785 596v3M3785 611v4" stroke="#999999"/>
<path d="M3785 558h0" stroke="#999999"/>
<path d="M3785 629V565H3785.4V629Z" fill="#212121"/>
<path d="M3785 584v17M3785 608v8" stroke="#212121"/>
<path d="M3785 560h0m0-4h0" stroke="#212121"/>
<path d="M3785.4 629V554H3785.7V629Z" fill="#999999"/>
<path d="M3786 554v13M3786 564v15M3785 576v9M3786 584v16" stroke="#999999"/>
<path d="M3785 550h0" stroke="#999999"/>
<path d="M3785.7 629V551H3786V629Z" fill="#212121"/>
<path d="M3786 576v15M3786 618v4" stroke="#212121"/>
<path d="M3786 545h0" stroke="#212121"/>
<path d="M3786 629V567H3786.3V629Z" fill="#999999"/>
<path d="M3786 594v14M3786 596v8M3786 577v11M3786 573v6" stroke="#999999"/>
<path d="M3786 561h0m0-46h0" stroke="#999999"/>
<path d="M3786.3 629V566H3786.7V629Z" fill="#212121"/>
<path d="M3786 606v16M3787 580v12" stroke="#212121"/>
<path d="M3786 560h0" stroke="#212121"/>
<path d="M3786.7 629V570H3787V629Z" fill="#999999"/>
<path d="M3787 620v5M3787 575v12M3787 607v17M3787 606v18" stroke="#999999"/>
<path d="M3787 564h0" stroke="#999999"/>
<path d="M3787 629V549H3787.3V629Z" fill="#212121"/>
<path d="M3787 551v10M3787 560v14" stroke="#212121"/>
<path d="M3787 545h0" stroke="#212121"/>
<path d="M3787.3 629V570H3787.6V629Z" fill="#999999"/>
<path d="M3787 580v18M3787 566v4M3787 620v4M3788 605v12" stroke="#999999"/>
<path d="M3787 564h0m1-46h0" stroke="#999999"/>
<path d="M3787.6 629V561H3787.9V629Z" fill="#212121"/>
<path d="M3788 614v13M3788 608v11" stroke="#212121"/>
<path d="M3788 555h0" stroke="#212121"/>
<path d="M3787.9 629V568H3788.3V629Z" fill="#999999"/>
<path d="M3788 615v13M3788 602v8M3788 598v5M3788 570v10" stroke="#999999"/>
<path d="M3788 563h0" stroke="#999999"/>
<path d="M3788.3 629V551H3788.6V629Z" fill="#212121"/>
<path d="M3788 567v13M3789 575v5" stroke="#212121"/>
<path d="M3788 547h0" stroke="#212121"/>
<path d="M3788.6 629V553H3788.9V629Z" fill="#999999"/>
<path d="M3789 610v18M3789 559v15M3789 556v13M3789 589v5" stroke="#999999"/>
<path d="M3789 547h0" stroke="#999999"/>
<path d="M3788.9 629V560H3789.2V629Z" fill="#212121"/>
<path d="M3789 571v13M3789 619v14" stroke="#212121"/>
<path d="M3789 554h0" stroke="#212121"/>
<path d="M3789.2 629V557H3789.5V629Z" fill="#999999"/>
<path d="M3789 615v13M3789 574v7M3789 554v17M3789 561v10" stroke="#999999"/>
<path d="M3789 553h0" stroke="#999999"/>
<path d="M3789.5 629V555H3789.8V629Z" fill="#212121"/>
<path d="M3790 576v12M3790 566v16" stroke="#212121"/>
<path d="M3790 549h0" stroke="#212121"/>
<path d="M3789.8 629V527H3790.2V629Z" fill="#999999"/>
<path d="M3790 571v11M3790 589v15M3790 562v11M3790 529v18" stroke="#999999"/>
<path d="M3790 523h0" stroke="#999999"/>
<path d="M3790.2 629V557H3790.5V629Z" fill="#212121"/>
<path d="M3790 608v6M3790 609v15" stroke="#212121"/>
<path d="M3790 551h0m1-5h0" stroke="#212121"/>
<path d="M3790.5 629V550H3790.8V629Z" fill="#999999"/>
<path d="M3791 552v16M3791 551v12M3791 579v11M3791 580v5" stroke="#999999"/>
<path d="M3790 546h0" stroke="#999999"/>
<path d="M3790.8 629V549H3791.1V629Z" fill="#212121"/>
<path d="M3791 566v9M3791 616v6" stroke="#212121"/>
<path d="M3791 545h0" stroke="#212121"/>
<path d="M3791.1 629V554H3791.4V629Z" fill="#999999"/>
<path d="M3791 614v10M3791 576v8M3791 589v13M3791 576v16" stroke="#999999"/>
<path d="M3791 550h0" stroke="#999999"/>
<path d="M3791.4 629V556H3791.7V629Z" fill="#212121"/>
<path d="M3792 605v13M3792 584v11" stroke="#212121"/>
<path d="M3791 551h0" stroke="#212121"/>
<path d="M3791.7 629V556H3792V629Z" fill="#999999"/>
<path d="M3792 620v6M3792 590v4M3792 570v14M3792 570v13" stroke="#999999"/>
<path d="M3792 550h0" stroke="#999999"/>
<path d="M3792 629V566H3792.3V629Z" fill="#212121"/>
<path d="M3792 614v6M3792 572v6" stroke="#212121"/>
<path d="M3792 560h0" stroke="#212121"/>
<path d="M3792.3 629V566H3792.6V629Z" fill="#999999"/>
<path d="M3793 594v17M3793 562v8M3792 584v16M3792 564v6" stroke="#999999"/>
<path d="M3792 560h0" stroke="#999999"/>
<path d="M3792.6 629V567H3792.9V629Z" fill="#212121"/>
<path d="M3793 600v9M3793 578v9" stroke="#212121"/>
<path d="M3793 561h0m0-1h0" stroke="#212121"/>
<path d="M3792.9 629V554H3793.2V629Z" fill="#999999"/>
<path d="M3793 613v12M3793 558v9M3793 615v6M3793 584v7" stroke="#999999"/>
<path d="M3793 550h0" stroke="#999999"/>
<path d="M3793.2 629V551H3793.5V629Z" fill="#212121"/>
<path d="M3793 564v3M3793 620v12" stroke="#212121"/>
<path d="M3793 546h0" stroke="#212121"/>
<path d="M3793.5 629V549H3793.8V629Z" fill="#999999"/>
<path d="M3794 615v12M3794 575v4M3794 569v6M3794 613v14" stroke="#999999"/>
<path d="M3794 543h0" stroke="#999999"/>
<path d="M3793.8 629V570H3794.1V629Z" fill="#212121"/>
<path d="M3794 611v12M3794 619v17" stroke="#212121"/>
<path d="M3794 566h0" stroke="#212121"/>
<path d="M3794.1 629V567H3794.4V629Z" fill="#999999"/>
<path d="M3794 609v6M3794 577v8M3794 612v13M3794 610v5" stroke="#999999"/>
<path d="M3794 564h0" stroke="#999999"/>
<path d="M3794.4 629V570H3794.7V629Z" fill="#212121"/>
<path d="M3795 613v4M3795 596v9" stroke="#212121"/>
<path d="M3794 565h0" stroke="#212121"/>
<path d="M3794.7 629V532H3795V629Z" fill="#999999"/>
<path d="M3795 582v10M3795 549v6M3795 594v6M3795 562v5" stroke="#999999"/>
<path d="M3795 527h0" stroke="#999999"/>
<path d="M3795 629V556H3795.3V629Z" fill="#212121"/>
<path d="M3795 583v15M3795 617v6" stroke="#212121"/>
<path d="M3795 551h0" stroke="#212121"/>
<path d="M3795.3 629V563H3795.6V629Z" fill="#999999"/>
<path d="M3795 601v12M3795 577v8M3795 608v5M3796 569v6" stroke="#999999"/>
<path d="M3795 556h0" stroke="#999999"/>
<path d="M3795.6 629V550H3795.9V629Z" fill="#212121"/>
<path d="M3796 557v12M3796 577v13" stroke="#212121"/>
<path d="M3796 545h0m0-3h0" stroke="#212121"/>
<path d="M3795.9 629V552H3796.2V629Z" fill="#999999"/>
<path d="M3796 616v8M3796 565v16M3796 575v6M3796 565v10" stroke="#999999"/>
<path d="M3796 545h0m0-2h0m0-9h0m0-11h0m0-10h0m1-7h0m-1-7h0m1-10h0m-2-10h0" stroke="#999999"/>
<path d="M3796.2 629V562H3796.5V629Z" fill="#212121"/>
<path d="M3796 568v15M3796 579v12" stroke="#212121"/>
<path d="M3796 557h0" stroke="#212121"/>
<path d="M3796.5 629V567H3796.8V629Z" fill="#999999"/>
<path d="M3797 573v6M3797 576v11M3797 614v14M3797 605v17" stroke="#999999"/>
<path d="M3797 562h0m0-40h0" stroke="#999999"/>
<path d="M3796.8 629V560H3797.1V629Z" fill="#212121"/>
<path d="M3797 616v16M3797 591v6" stroke="#212121"/>
<path d="M3797 555h0m0-25h0m0 4h0" stroke="#212121"/>
<path d="M3797.1 629V561H3797.4V629Z" fill="#999999"/>
<path d="M3797 616v16M3797 565v10M3797 583v3M3797 563v3" stroke="#999999"/>
<path d="M3797 555h0" stroke="#999999"/>
<path d="M3797.4 629V554H3797.7V629Z" fill="#212121"/>
<path d="M3798 578v9M3797 574v16" stroke="#212121"/>
<path d="M3797 548h0" stroke="#212121"/>
<path d="M3797.7 629V561H3798V629Z" fill="#999999"/>
<path d="M3798 587v13M3798 600v6M3798 616v13M3798 576v12" stroke="#999999"/>
<path d="M3798 556h0" stroke="#999999"/>
<path d="M3798 629V563H3798.2V629Z" fill="#212121"/>
<path d="M3798 598v16M3798 566v14" stroke="#212121"/>
<path d="M3798 557h0m0-5h0" stroke="#212121"/>
<path d="M3798.2 629V551H3798.5V629Z" fill="#999999"/>
<path d="M3798 581v10M3798 601v17M3798 581v15M3798 592v7" stroke="#999999"/>
<path d="M3798 545h0" stroke="#999999"/>
<path d="M3798.5 629V551H3798.8V629Z" fill="#212121"/>
<path d="M3799 598v17M3799 616v15" stroke="#212121"/>
<path d="M3799 547h0" stroke="#212121"/>
<path d="M3798.8 629V564H3799.1V629Z" fill="#999999"/>
<path d="M3799 583v9M3799 609v12M3799 591v17M3799 566v11" stroke="#999999"/>
<path d="M3799 559h0" stroke="#999999"/>
<path d="M3799.1 629V558H3799.4V629Z" fill="#212121"/>
<path d="M3799 581v12M3799 564v3" stroke="#212121"/>
<path d="M3799 554h0" stroke="#212121"/>
<path d="M3799.4 629V567H3799.7V629Z" fill="#999999"/>
<path d="M3799 595v7M3800 595v17M3800 598v5M3800 591v18" stroke="#999999"/>
<path d="M3799 562h0" stroke="#999999"/>
<path d="M3799.7 629V559H3800V629Z" fill="#212121"/>
<path d="M3800 617v13M3800 611v3" stroke="#212121"/>
<path d="M3800 555h0" stroke="#212121"/>
<path d="M3800 629V567H3800.2V629Z" fill="#999999"/>
<path d="M3800 609v11M3800 613v10M3800 582v9M3800 563v12" stroke="#999999"/>
<path d="M3800 561h0" stroke="#999999"/>
<path d="M3800.2 629V557H3800.5V629Z" fill="#212121"/>
<path d="M3800 599v4M3800 574v5" stroke="#212121"/>
<path d="M3800 552h0" stroke="#212121"/>
<path d="M3800.5 629V555H3800.8V629Z" fill="#999999"/>
<path d="M3801 598v14M3801 609v13M3801 574v17M3801 558v5" stroke="#999999"/>
<path d="M3801 549h0" stroke="#999999"/>
<path d="M3800.8 629V569H3801.1V629Z" fill="#212121"/>
<path d="M3801 596v8M3801 614v5" stroke="#212121"/>
<path d="M3801 565h0" stroke="#212121"/>
<path d="M3801.1 629V551H3801.4V629Z" fill="#999999"/>
<path d="M3801 569v8M3801 549v10M3801 602v14M3801 606v5" stroke="#999999"/>
<path d="M3801 546h0" stroke="#999999"/>
<path d="M3801.4 629V558H3801.6V629Z" fill="#212121"/>
<path d="M3801 589v16M3802 576v5" stroke="#212121"/>
<path d="M3801 554h0m0-81h0" stroke="#212121"/>
<path d="M3801.6 629V560H3801.9V629Z" fill="#999999"/>
<path d="M3802 579v13M3802 562v6M3802 565v9M3802 586v13" stroke="#999999"/>
<path d="M3802 554h0" stroke="#999999"/>
<path d="M3801.9 629V553H3802.2V629Z" fill="#212121"/>
<path d="M3802 572v11M3802 611v9" stroke="#212121"/>
<path d="M3802 549h0" stroke="#212121"/>
<path d="M3802.2 629V562H3802.5V629Z" fill="#999999"/>
<path d="M3802 614v10M3802 559v4M3802 589v4M3802 566v5" stroke="#999999"/>
<path d="M3802 556h0" stroke="#999999"/>
<path d="M3802.5 629V564H3802.8V629Z" fill="#212121"/>
<path d="M3803 572v17M3803 607v12" stroke="#212121"/>
<path d="M3802 558h0" stroke="#212121"/>
<path d="M3802.8 629V552H3803V629Z" fill="#999999"/>
<path d="M3803 578v16M3803 598v4M3803 567v9M3803 581v13" stroke="#999999"/>
<path d="M3803 545h0" stroke="#999999"/>
<path d="M3803 629V559H3803.3V629Z" fill="#212121"/>
<path d="M3803 593v7M3803 572v13" stroke="#212121"/>
<path d="M3803 553h0" stroke="#212121"/>
<path d="M3803.3 629V561H3803.6V629Z" fill="#999999"/>
<path d="M3803 558v4M3803 605v14M3803 578v11M3803 562v13" stroke="#999999"/>
<path d="M3803 555h0" stroke="#999999"/>
<path d="M3803.6 629V558H3803.8V629Z" fill="#212121"/>
<path d="M3804 594v10M3804 597v7" stroke="#212121"/>
<path d="M3804 553h0" stroke="#212121"/>
<path d="M3803.8 629V569H3804.1V629Z" fill="#999999"/>
<path d="M3804 589v9M3804 591v8M3804 603v11M3804 614v14" stroke="#999999"/>
<path d="M3804 564h0" stroke="#999999"/>
<path d="M3804.1 629V558H3804.4V629Z" fill="#212121"/>
<path d="M3804 594v13M3804 614v4" stroke="#212121"/>
<path d="M3804 552h0" stroke="#212121"/>
<path d="M3804.4 629V552H3804.7V629Z" fill="#999999"/>
<path d="M3804 572v11M3804 594v12M3804 620v10M3805 618v9" stroke="#999999"/>
<path d="M3804 547h0" stroke="#999999"/>
<path d="M3804.7 629V567H3804.9V629Z" fill="#212121"/>
<path d="M3805 620v11M3805 582v13" stroke="#212121"/>
<path d="M3805 562h0" stroke="#212121"/>
<path d="M3804.9 629V550H3805.2V629Z" fill="#999999"/>
<path d="M3805 590v14M3805 596v14M3805 600v16M3805 567v17" stroke="#999999"/>
<path d="M3805 544h0" stroke="#999999"/>
<path d="M3805.2 629V557H3805.5V629Z" fill="#212121"/>
<path d="M3805 614v16M3805 614v17" stroke="#212121"/>
<path d="M3805 551h0" stroke="#212121"/>
<path d="M3805.5 629V564H3805.7V629Z" fill="#999999"/>
<path d="M3805 582v10M3806 571v17M3806 617v6M3805 586v13" stroke="#999999"/>
<path d="M3805 559h0" stroke="#999999"/>
<path d="M3805.7 629V559H3806V629Z" fill="#212121"/>
<path d="M3806 573v4M3806 562v16" stroke="#212121"/>
<path d="M3806 553h0" stroke="#212121"/>
<path d="M3806 629V569H3806.3V629Z" fill="#999999"/>
<path d="M3806 609v12M3806 611v14M3806 586v8M3806 569v15" stroke="#999999"/>
<path d="M3806 562h0" stroke="#999999"/>
<path d="M3806.3 629V558H3806.5V629Z" fill="#212121"/>
<path d="M3806 561v7M3806 584v4" stroke="#212121"/>
<path d="M3806 553h0" stroke="#212121"/>
<path d="M3806.5 629V556H3806.8V629Z" fill="#999999"/>
<path d="M3807 566v4M3807 582v12M3807 605v13M3807 620v16" stroke="#999999"/>
<path d="M3807 549h0" stroke="#999999"/>
<path d="M3806.8 629V565H3807.1V629Z" fill="#212121"/>
<path d="M3807 575v10M3807 601v12" stroke="#212121"/>
<path d="M3807 561h0" stroke="#212121"/>
<path d="M3807.1 629V559H3807.3V629Z" fill="#999999"/>
<path d="M3807 597v10M3807 616v16M3807 595v15M3807 595v10" stroke="#999999"/>
<path d="M3807 554h0" stroke="#999999"/>
<path d="M3807.3 629V550H3807.6V629Z" fill="#212121"/>
<path d="M3807 593v12M3807 563v17" stroke="#212121"/>
<path d="M3807 544h0" stroke="#212121"/>
<path d="M3807.6 629V555H3807.9V629Z" fill="#999999"/>
<path d="M3808 583v7M3808 582v13M3808 551v8M3808 611v9" stroke="#999999"/>
<path d="M3808 549h0m0-8h0" stroke="#999999"/>
<path d="M3807.9 629V554H3808.1V629Z" fill="#212121"/>
<path d="M3808 558v15M3808 617v15" stroke="#212121"/>
<path d="M3808 550h0" stroke="#212121"/>
<path d="M3808.1 629V569H3808.4V629Z" fill="#999999"/>
<path d="M3808 569v11M3808 621v3M3808 588v9M3808 607v6" stroke="#999999"/>
<path d="M3808 564h0m0-31h0" stroke="#999999"/>
<path d="M3808.4 629V551H3808.6V629Z" fill="#212121"/>
<path d="M3808 561v9M3808 600v6" stroke="#212121"/>
<path d="M3808 546h0" stroke="#212121"/>
<path d="M3808.6 629V562H3808.9V629Z" fill="#999999"/>
<path d="M3809 574v16M3809 594v10M3809 581v17M3809 593v15" stroke="#999999"/>
<path d="M3809 555h0m0-58h0" stroke="#999999"/>
<path d="M3808.9 629V549H3809.2V629Z" fill="#212121"/>
<path d="M3809 608v12M3809 564v9" stroke="#212121"/>
<path d="M3809 545h0" stroke="#212121"/>
<path d="M3809.2 629V549H3809.4V629Z" fill="#999999"/>
<path d="M3809 591v12M3809 597v17M3809 611v4M3809 564v16" stroke="#999999"/>
<path d="M3809 544h0" stroke="#999999"/>
<path d="M3809.4 629V560H3809.7V629Z" fill="#212121"/>
<path d="M3809 566v6M3809 572v11" stroke="#212121"/>
<path d="M3809 554h0" stroke="#212121"/>
<path d="M3809.7 629V566H3809.9V629Z" fill="#999999"/>
<path d="M3810 602v8M3810 568v7M3810 619v3M3810 571v16" stroke="#999999"/>
<path d="M3810 560h0" stroke="#999999"/>
<path d="M3809.9 629V567H3810.2V629Z" fill="#212121"/>
<path d="M3810 603v9M3810 618v12" stroke="#212121"/>
<path d="M3810 563h0" stroke="#212121"/>
<path d="M3810.2 629V558H3810.5V629Z" fill="#999999"/>
<path d="M3810 609v6M3810 554v13M3810 615v12M3810 580v16" stroke="#999999"/>
<path d="M3810 553h0" stroke="#999999"/>
<path d="M3810.5 629V559H3810.7V629Z" fill="#212121"/>
<path d="M3811 591v5M3811 560v5" stroke="#212121"/>
<path d="M3810 554h0" stroke="#212121"/>
<path d="M3810.7 629V561H3811V629Z" fill="#999999"/>
<path d="M3811 611v4M3811 558v14M3811 561v8M3811 604v8" stroke="#999999"/>
<path d="M3811 554h0" stroke="#999999"/>
<path d="M3811 629V549H3811.2V629Z" fill="#212121"/>
<path d="M3811 581v5M3811 597v11" stroke="#212121"/>
<path d="M3811 542h0" stroke="#212121"/>
<path d="M3811.2 629V571H3811.5V629Z" fill="#999999"/>
<path d="M3811 568v6M3811 568v5M3811 608v9M3811 598v10" stroke="#999999"/>
<path d="M3811 565h0" stroke="#999999"/>
<path d="M3811.5 629V564H3811.7V629Z" fill="#212121"/>
<path d="M3812 587v12M3812 577v12" stroke="#212121"/>
<path d="M3811 559h0" stroke="#212121"/>
<path d="M3811.7 629V556H3812V629Z" fill="#999999"/>
<path d="M3812 574v10M3812 609v17M3812 580v6M3812 553v14" stroke="#999999"/>
<path d="M3812 551h0m0-4h0m0-8h0m0-6h0m0-6h0" stroke="#999999"/>
<path d="M3812 629V549H3812.2V629Z" fill="#212121"/>
<path d="M3812 563v16M3812 558v6" stroke="#212121"/>
<path d="M3812 542h0" stroke="#212121"/>
<path d="M3812.2 629V564H3812.5V629Z" fill="#999999"/>
<path d="M3812 599v12M3812 591v8M3812 601v10M3812 593v17" stroke="#999999"/>
<path d="M3812 558h0" stroke="#999999"/>
<path d="M3812.5 629V561H3812.7V629Z" fill="#212121"/>
<path d="M3813 578v8M3813 573v9" stroke="#212121"/>
<path d="M3812 555h0" stroke="#212121"/>
<path d="M3812.7 629V557H3813V629Z" fill="#999999"/>
<path d="M3813 593v18M3813 603v7M3813 606v7M3813 582v11" stroke="#999999"/>
<path d="M3813 550h0" stroke="#999999"/>
<path d="M3813 629V553H3813.2V629Z" fill="#212121"/>
<path d="M3813 589v15M3813 550v12" stroke="#212121"/>
<path d="M3813 548h0" stroke="#212121"/>
<path d="M3813.2 629V549H3813.5V629Z" fill="#999999"/>
<path d="M3813 620v9M3813 580v5M3813 587v10M3813 563v14" stroke="#999999"/>
<path d="M3813 545h0" stroke="#999999"/>
<path d="M3813.5 629V568H3813.7V629Z" fill="#212121"/>
<path d="M3814 590v6M3814 582v15" stroke="#212121"/>
<path d="M3813 563h0" stroke="#212121"/>
<path d="M3813.7 629V552H3814V629Z" fill="#999999"/>
<path d="M3814 573v16M3814 550v13M3814 564v11M3814 598v9" stroke="#999999"/>
<path d="M3814 547h0" stroke="#999999"/>
<path d="M3814 629V561H3814.2V629Z" fill="#212121"/>
<path d="M3814 582v10M3814 573v14" stroke="#212121"/>
<path d="M3814 555h0" stroke="#212121"/>
<path d="M3814.2 629V556H3814.5V629Z" fill="#999999"/>
<path d="M3814 554v4M3814 554v11M3814 553v5M3814 614v7" stroke="#999999"/>
<path d="M3814 551h0" stroke="#999999"/>
<path d="M3814.5 629V568H3814.7V629Z" fill="#212121"/>
<path d="M3815 577v16M3815 571v14" stroke="#212121"/>
<path d="M3814 563h0" stroke="#212121"/>
<path d="M3814.7 629V564H3815V629Z" fill="#999999"/>
<path d="M3815 617v3M3815 578v5M3815 620v4M3815 580v14" stroke="#999999"/>
<path d="M3815 560h0" stroke="#999999"/>
<path d="M3815 629V562H3815.2V629Z" fill="#212121"/>
<path d="M3815 615v8M3815 580v8" stroke="#212121"/>
<path d="M3815 556h0" stroke="#212121"/>
<path d="M3815.2 629V526H3815.5V629Z" fill="#999999"/>
<path d="M3815 567v16M3815 594v4M3815 541v13M3815 556v9" stroke="#999999"/>
<path d="M3815 520h0m0-6h0m1-5h0m-1-9h0m0-10h0m0-8h0" stroke="#999999"/>
<path d="M3815.5 629V569H3815.7V629Z" fill="#212121"/>
<path d="M3815 613v11M3816 597v5" stroke="#212121"/>
<path d="M3815 565h0" stroke="#212121"/>
<path d="M3815.7 629V561H3816V629Z" fill="#999999"/>
<path d="M3816 604v8M3816 598v7M3816 589v5M3816 567v13" stroke="#999999"/>
<path d="M3816 555h0" stroke="#999999"/>
<path d="M3816 629V568H3816.2V629Z" fill="#212121"/>
<path d="M3816 610v15M3816 597v7" stroke="#212121"/>
<path d="M3816 563h0" stroke="#212121"/>
<path d="M3816.2 629V552H3816.5V629Z" fill="#999999"/>
<path d="M3816 561v5M3816 573v17M3816 584v10M3816 611v14" stroke="#999999"/>
<path d="M3816 546h0" stroke="#999999"/>
<path d="M3816.5 629V567H3816.7V629Z" fill="#212121"/>
<path d="M3817 596v12M3817 606v13" stroke="#212121"/>
<path d="M3816 563h0m1-8h0" stroke="#212121"/>
<path d="M3816.7 629V552H3816.9V629Z" fill="#999999"/>
<path d="M3817 560v13M3817 587v9M3817 606v5M3817 571v15" stroke="#999999"/>
<path d="M3817 546h0" stroke="#999999"/>
<path d="M3816.9 629V550H3817.2V629Z" fill="#212121"/>
<path d="M3817 606v11M3817 562v4" stroke="#212121"/>
<path d="M3817 546h0" stroke="#212121"/>
<path d="M3817.2 629V566H3817.4V629Z" fill="#999999"/>
<path d="M3817 602v8M3817 595v9M3817 591v16M3817 570v15" stroke="#999999"/>
<path d="M3817 560h0" stroke="#999999"/>
<path d="M3817.4 629V552H3817.7V629Z" fill="#212121"/>
<path d="M3818 574v10M3817 555v16" stroke="#212121"/>
<path d="M3817 546h0m1-6h0m-1 3h0m1-9h0m0-7h0m-1-4h0" stroke="#212121"/>
<path d="M3817.7 629V562H3817.9V629Z" fill="#999999"/>
<path d="M3818 588v18M3818 577v15M3818 607v9M3818 573v14" stroke="#999999"/>
<path d="M3818 556h0" stroke="#999999"/>
<path d="M3817.9 629V553H3818.2V629Z" fill="#212121"/>
<path d="M3818 592v16M3818 604v10" stroke="#212121"/>
<path d="M3818 547h0" stroke="#212121"/>
<path d="M3818.2 629V561H3818.4V629Z" fill="#999999"/>
<path d="M3818 614v4M3818 560v17M3818 567v4M3818 600v4" stroke="#999999"/>
<path d="M3818 555h0" stroke="#999999"/>
<path d="M3818.4 629V557H3818.6V629Z" fill="#212121"/>
<path d="M3819 584v6M3819 587v14" stroke="#212121"/>
<path d="M3818 551h0m1-40h0" stroke="#212121"/>
<path d="M3818.6 629V550H3818.9V629Z" fill="#999999"/>
<path d="M3819 564v4M3819 615v14M3819 553v17M3819 549v5" stroke="#999999"/>
<path d="M3819 546h0" stroke="#999999"/>
<path d="M3818.9 629V557H3819.1V629Z" fill="#212121"/>
<path d="M3819 617v14M3819 578v16" stroke="#212121"/>
<path d="M3819 551h0" stroke="#212121"/>
<path d="M3819.1 629V565H3819.4V629Z" fill="#999999"/>
<path d="M3819 590v10M3819 576v15M3819 594v8M3819 599v17" stroke="#999999"/>
<path d="M3819 561h0" stroke="#999999"/>
<path d="M3819.4 629V556H3819.6V629Z" fill="#212121"/>
<path d="M3820 596v6M3820 592v3" stroke="#212121"/>
<path d="M3819 550h0" stroke="#212121"/>
<path d="M3819.6 629V551H3819.8V629Z" fill="#999999"/>
<path d="M3820 595v11M3820 547v16M3820 595v12M3820 573v3" stroke="#999999"/>
<path d="M3820 545h0" stroke="#999999"/>
<path d="M3819.8 629V559H3820.1V629Z" fill="#212121"/>
<path d="M3820 596v3M3820 593v6" stroke="#212121"/>
<path d="M3820 554h0" stroke="#212121"/>
<path d="M3820.1 629V549H3820.3V629Z" fill="#999999"/>
<path d="M3820 578v14M3820 598v10M3820 554v13M3820 582v11" stroke="#999999"/>
<path d="M3820 546h0" stroke="#999999"/>
<path d="M3820.3 629V569H3820.5V629Z" fill="#212121"/>
<path d="M3820 568v17M3820 597v9" stroke="#212121"/>
<path d="M3820 565h0m0-36h0" stroke="#212121"/>
<path d="M3820.5 629V561H3820.8V629Z" fill="#999999"/>
<path d="M3821 592v14M3821 566v16M3821 611v8M3821 568v8" stroke="#999999"/>
<path d="M3821 557h0" stroke="#999999"/>
<path d="M3820.8 629V557H3821V629Z" fill="#212121"/>
<path d="M3821 591v10M3821 557v6" stroke="#212121"/>
<path d="M3821 551h0" stroke="#212121"/>
<path d="M3821 629V560H3821.2V629Z" fill="#999999"/>
<path d="M3821 607v9M3821 585v11M3821 584v4M3821 615v16" stroke="#999999"/>
<path d="M3821 554h0" stroke="#999999"/>
<path d="M3821.2 629V559H3821.5V629Z" fill="#212121"/>
<path d="M3821 609v7M3821 589v13" stroke="#212121"/>
<path d="M3821 553h0" stroke="#212121"/>
<path d="M3821.5 629V564H3821.7V629Z" fill="#999999"/>
<path d="M3821 619v10M3822 590v17M3821 589v11M3822 618v7" stroke="#999999"/>
<path d="M3821 559h0" stroke="#999999"/>
<path d="M3821.7 629V549H3821.9V629Z" fill="#212121"/>
<path d="M3822 545v5M3822 548v13" stroke="#212121"/>
<path d="M3822 542h0" stroke="#212121"/>
<path d="M3821.9 629V564H3822.2V629Z" fill="#999999"/>
<path d="M3822 590v11M3822 591v15M3822 566v5M3822 596v12" stroke="#999999"/>
<path d="M3822 558h0" stroke="#999999"/>
<path d="M3822.2 629V569H3822.4V629Z" fill="#212121"/>
<path d="M3822 599v3M3822 619v10" stroke="#212121"/>
<path d="M3822 563h0" stroke="#212121"/>
<path d="M3822.4 629V558H3822.6V629Z" fill="#999999"/>
<path d="M3823 610v16M3822 594v13M3822 614v12M3822 587v5" stroke="#999999"/>
<path d="M3822 553h0" stroke="#999999"/>
<path d="M3822.6 629V560H3822.9V629Z" fill="#212121"/>
<path d="M3823 617v18M3823 611v10" stroke="#212121"/>
<path d="M3823 553h0" stroke="#212121"/>
<path d="M3822.9 629V555H3823.1V629Z" fill="#999999"/>
<path d="M3823 611v7M3823 619v3M3823 563v10M3823 616v18" stroke="#999999"/>
<path d="M3823 549h0" stroke="#999999"/>
<path d="M3823.1 629V559H3823.3V629Z" fill="#212121"/>
<path d="M3823 604v6M3823 617v5" stroke="#212121"/>
<path d="M3823 555h0" stroke="#212121"/>
<path d="M3823.3 629V550H3823.6V629Z" fill="#999999"/>
<path d="M3824 615v3M3824 589v17M3824 558v4M3823 574v11" stroke="#999999"/>
<path d="M3823 547h0" stroke="#999999"/>
<path d="M3823.6 629V560H3823.8V629Z" fill="#212121"/>
<path d="M3824 569v16M3824 617v14" stroke="#212121"/>
<path d="M3824 556h0" stroke="#212121"/>
<path d="M3823.8 629V569H3824V629Z" fill="#999999"/>
<path d="M3824 577v11M3824 576v14M3824 571v16M3824 577v7" stroke="#999999"/>
<path d="M3824 565h0" stroke="#999999"/>
<path d="M3824 629V562H3824.3V629Z" fill="#212121"/>
<path d="M3824 562v8M3824 600v7" stroke="#212121"/>
<path d="M3824 557h0" stroke="#212121"/>
<path d="M3824.3 629V566H3824.5V629Z" fill="#999999"/>
<path d="M3824 562v17M3824 588v12M3824 576v9M3824 591v14" stroke="#999999"/>
<path d="M3824 560h0" stroke="#999999"/>
<path d="M3824.5 629V562H3824.7V629Z" fill="#212121"/>
<path d="M3825 581v17M3825 601v5" stroke="#212121"/>
<path d="M3824 557h0" stroke="#212121"/>
<path d="M3824.7 629V560H3824.9V629Z" fill="#999999"/>
<path d="M3825 584v16M3825 575v11M3825 615v11M3825 615v18" stroke="#999999"/>
<path d="M3825 555h0m0-30h0" stroke="#999999"/>
<path d="M3824.9 629V565H3825.2V629Z" fill="#212121"/>
<path d="M3825 582v4M3825 573v7" stroke="#212121"/>
<path d="M3825 561h0m0-51h0" stroke="#212121"/>
<path d="M3825.2 629V563H3825.4V629Z" fill="#999999"/>
<path d="M3825 614v8M3825 603v6M3825 621v14M3825 618v14" stroke="#999999"/>
<path d="M3825 557h0m0-19h0" stroke="#999999"/>
<path d="M3825.4 629V563H3825.6V629Z" fill="#212121"/>
<path d="M3826 609v5M3825 612v8" stroke="#212121"/>
<path d="M3825 558h0" stroke="#212121"/>
<path d="M3825.6 629V560H3825.8V629Z" fill="#999999"/>
<path d="M3826 604v17M3826 569v4M3826 618v8M3826 615v8" stroke="#999999"/>
<path d="M3826 554h0" stroke="#999999"/>
<path d="M3825.8 629V568H3826.1V629Z" fill="#212121"/>
<path d="M3826 586v6M3826 597v5" stroke="#212121"/>
<path d="M3826 562h0" stroke="#212121"/>
<path d="M3826.1 629V557H3826.3V629Z" fill="#999999"/>
<path d="M3826 596v10M3826 570v4M3826 568v6M3826 570v9" stroke="#999999"/>
<path d="M3826 551h0" stroke="#999999"/>
<path d="M3826.3 629V537H3826.5V629Z" fill="#212121"/>
<path d="M3826 563v15M3826 541v11" stroke="#212121"/>
<path d="M3826 531h0" stroke="#212121"/>
<path d="M3826.5 629V560H3826.7V629Z" fill="#999999"/>
<path d="M3827 555v6M3827 561v10M3827 562v7M3827 576v11" stroke="#999999"/>
<path d="M3827 554h0" stroke="#999999"/>
<path d="M3826.7 629V559H3827V629Z" fill="#212121"/>
<path d="M3827 560v5M3827 576v6" stroke="#212121"/>
<path d="M3827 555h0" stroke="#212121"/>
<path d="M3827 629V562H3827.2V629Z" fill="#999999"/>
<path d="M3827 619v9M3827 560v7M3827 595v8M3827 594v12" stroke="#999999"/>
<path d="M3827 558h0" stroke="#999999"/>
<path d="M3827.2 629V563H3827.4V629Z" fill="#212121"/>
<path d="M3827 587v14M3827 562v11" stroke="#212121"/>
<path d="M3827 557h0" stroke="#212121"/>
<path d="M3827.4 629V556H3827.6V629Z" fill="#999999"/>
<path d="M3828 610v7M3828 586v14M3827 563v18M3827 552v11" stroke="#999999"/>
<path d="M3827 552h0" stroke="#999999"/>
<path d="M3827.6 629V560H3827.9V629Z" fill="#212121"/>
<path d="M3828 612v13M3828 616v16" stroke="#212121"/>
<path d="M3828 555h0" stroke="#212121"/>
<path d="M3827.9 629V569H3828.1V629Z" fill="#999999"/>
<path d="M3828 586v13M3828 570v8M3828 618v16M3828 564v17" stroke="#999999"/>
<path d="M3828 563h0" stroke="#999999"/>
<path d="M3828.1 629V559H3828.3V629Z" fill="#212121"/>
<path d="M3828 574v18M3828 566v14" stroke="#212121"/>
<path d="M3828 555h0" stroke="#212121"/>
<path d="M3828.3 629V563H3828.5V629Z" fill="#999999"/>
<path d="M3828 591v8M3828 558v14M3828 583v6M3828 565v12" stroke="#999999"/>
<path d="M3828 557h0" stroke="#999999"/>
<path d="M3828.5 629V566H3828.8V629Z" fill="#212121"/>
<path d="M3829 590v3M3829 609v12" stroke="#212121"/>
<path d="M3829 561h0" stroke="#212121"/>
<path d="M3828.8 629V555H3829V629Z" fill="#999999"/>
<path d="M3829 596v4M3829 559v5M3829 597v17M3829 555v9" stroke="#999999"/>
<path d="M3829 551h0" stroke="#999999"/>
<path d="M3829 629V563H3829.2V629Z" fill="#212121"/>
<path d="M3829 596v5M3829 564v9" stroke="#212121"/>
<path d="M3829 557h0" stroke="#212121"/>
<path d="M3829.2 629V554H3829.4V629Z" fill="#999999"/>
<path d="M3829 616v10M3829 611v7M3829 558v7M3829 581v18" stroke="#999999"/>
<path d="M3829 548h0" stroke="#999999"/>
<path d="M3829.4 629V565H3829.6V629Z" fill="#212121"/>
<path d="M3829 620v6M3830 614v16" stroke="#212121"/>
<path d="M3829 559h0" stroke="#212121"/>
<path d="M3829.6 629V549H3829.9V629Z" fill="#999999"/>
<path d="M3830 552v17M3830 600v11M3830 582v8M3830 615v4" stroke="#999999"/>
<path d="M3830 544h0" stroke="#999999"/>
<path d="M3829.9 629V564H3830.1V629Z" fill="#212121"/>
<path d="M3830 585v8M3830 591v7" stroke="#212121"/>
<path d="M3830 558h0" stroke="#212121"/>
<path d="M3830.1 629V557H3830.3V629Z" fill="#999999"/>
<path d="M3830 589v9M3830 611v14M3830 580v8M3830 572v5" stroke="#999999"/>
<path d="M3830 553h0" stroke="#999999"/>
<path d="M3830.3 629V570H3830.5V629Z" fill="#212121"/>
<path d="M3831 612v8M3830 594v10" stroke="#212121"/>
<path d="M3830 565h0" stroke="#212121"/>
<path d="M3830.5 629V560H3830.7V629Z" fill="#999999"/>
<path d="M3831 590v16M3831 590v6M3831 610v13M3831 595v14" stroke="#999999"/>
<path d="M3831 556h0" stroke="#999999"/>
<path d="M3830.7 629V565H3831V629Z" fill="#212121"/>
<path d="M3831 597v15M3831 620v9" stroke="#212121"/>
<path d="M3831 561h0" stroke="#212121"/>
<path d="M3831 629V562H3831.2V629Z" fill="#999999"/>
<path d="M3831 582v8M3831 566v12M3831 570v12M3831 565v5" stroke="#999999"/>
<path d="M3831 557h0" stroke="#999999"/>
<path d="M3831.2 629V564H3831.4V629Z" fill="#212121"/>
<path d="M3831 585v8M3831 617v4" stroke="#212121"/>
<path d="M3831 558h0" stroke="#212121"/>
<path d="M3831.4 629V569H3831.6V629Z" fill="#999999"/>
<path d="M3832 594v12M3832 603v9M3832 587v15M3831 596v6" stroke="#999999"/>
<path d="M3831 565h0" stroke="#999999"/>
<path d="M3831.6 629V569H3831.8V629Z" fill="#212121"/>
<path d="M3832 611v17M3832 587v10" stroke="#212121"/>
<path d="M3832 564h0" stroke="#212121"/>
<path d="M3831.8 629V550H3832V629Z" fill="#999999"/>
<path d="M3832 548v10M3832 566v10M3832 618v15M3832 607v5" stroke="#999999"/>
<path d="M3832 546h0" stroke="#999999"/>
<path d="M3832 629V566H3832.3V629Z" fill="#212121"/>
<path d="M3832 581v12M3832 596v8" stroke="#212121"/>
<path d="M3832 559h0m0-2h0m-1-3h0m1-9h0" stroke="#212121"/>
<path d="M3832.3 629V569H3832.5V629Z" fill="#999999"/>
<path d="M3832 605v11M3832 576v10M3832 597v4M3832 569v15" stroke="#999999"/>
<path d="M3832 563h0" stroke="#999999"/>
<path d="M3832.5 629V550H3832.7V629Z" fill="#212121"/>
<path d="M3833 599v14M3833 594v11" stroke="#212121"/>
<path d="M3832 544h0" stroke="#212121"/>
<path d="M3832.7 629V556H3832.9V629Z" fill="#999999"/>
<path d="M3833 583v15M3833 554v5M3833 584v17M3833 587v4" stroke="#999999"/>
<path d="M3833 551h0" stroke="#999999"/>
<path d="M3832.9 629V561H3833.1V629Z" fill="#212121"/>
<path d="M3833 598v13M3833 606v7" stroke="#212121"/>
<path d="M3833 556h0" stroke="#212121"/>
<path d="M3833.1 629V549H3833.3V629Z" fill="#999999"/>
<path d="M3833 588v7M3833 564v16M3833 590v12M3833 598v4" stroke="#999999"/>
<path d="M3833 545h0" stroke="#999999"/>
<path d="M3833.3 629V560H3833.6V629Z" fill="#212121"/>
<path d="M3833 572v8M3833 581v8" stroke="#212121"/>
<path d="M3833 554h0" stroke="#212121"/>
<path d="M3833.6 629V562H3833.8V629Z" fill="#999999"/>
<path d="M3834 591v11M3834 611v16M3834 561v9M3834 564v5" stroke="#999999"/>
<path d="M3834 557h0" stroke="#999999"/>
<path d="M3833.8 629V562H3834V629Z" fill="#212121"/>
<path d="M3834 618v16M3834 574v12" stroke="#212121"/>
<path d="M3834 558h0m1-6h0m-2-6h0" stroke="#212121"/>
<path d="M3834 629V563H3834.2V629Z" fill="#999999"/>
<path d="M3834 591v11M3834 599v6M3834 618v10M3834 609v6" stroke="#999999"/>
<path d="M3834 558h0" stroke="#999999"/>
<path d="M3834.2 629V559H3834.4V629Z" fill="#212121"/>
<path d="M3834 570v11M3834 574v4" stroke="#212121"/>
<path d="M3834 554h0" stroke="#212121"/>
<path d="M3834.4 629V550H3834.6V629Z" fill="#999999"/>
<path d="M3835 559v17M3835 556v18M3835 602v13M3835 581v3" stroke="#999999"/>
<path d="M3834 545h0" stroke="#999999"/>
<path d="M3834.6 629V550H3834.8V629Z" fill="#212121"/>
<path d="M3835 610v13M3835 586v14" stroke="#212121"/>
<path d="M3835 546h0" stroke="#212121"/>
<path d="M3834.8 629V555H3835.1V629Z" fill="#999999"/>
<path d="M3835 563v5M3835 551v5M3835 594v4M3835 616v7" stroke="#999999"/>
<path d="M3835 550h0" stroke="#999999"/>
<path d="M3835.1 629V566H3835.3V629Z" fill="#212121"/>
<path d="M3835 603v5M3835 599v8" stroke="#212121"/>
<path d="M3835 559h0m0-6h0m1-10h0m-1-5h0m0-8h0m1-8h0m-1-5h0m1-9h0" stroke="#212121"/>
<path d="M3835.3 629V551H3835.5V629Z" fill="#999999"/>
<path d="M3835 566v8M3835 615v10M3835 548v16M3835 584v7" stroke="#999999"/>
<path d="M3835 546h0" stroke="#999999"/>
<path d="M3835.5 629V553H3835.7V629Z" fill="#212121"/>
<path d="M3836 549v5M3836 569v7" stroke="#212121"/>
<path d="M3835 548h0" stroke="#212121"/>
<path d="M3835.7 629V562H3835.9V629Z" fill="#999999"/>
<path d="M3836 563v12M3836 570v8M3836 569v16M3836 603v5" stroke="#999999"/>
<path d="M3836 558h0" stroke="#999999"/>
<path d="M3835.9 629V559H3836.1V629Z" fill="#212121"/>
<path d="M3836 589v12M3836 582v16" stroke="#212121"/>
<path d="M3836 553h0" stroke="#212121"/>
<path d="M3836.1 629V549H3836.3V629Z" fill="#999999"/>
<path d="M3836 616v10M3836 603v10M3836 562v7M3836 583v9" stroke="#999999"/>
<path d="M3836 544h0" stroke="#999999"/>
<path d="M3836.3 629V562H3836.5V629Z" fill="#212121"/>
<path d="M3836 577v3M3836 586v9" stroke="#212121"/>
<path d="M3836 556h0" stroke="#212121"/>
<path d="M3836.5 629V570H3836.7V629Z" fill="#999999"/>
<path d="M3837 575v15M3837 592v12M3837 585v13M3837 582v5" stroke="#999999"/>
<path d="M3837 563h0" stroke="#999999"/>
<path d="M3836.7 629V554H3837V629Z" fill="#212121"/>
<path d="M3837 597v13M3837 563v5" stroke="#212121"/>
<path d="M3837 547h0" stroke="#212121"/>
<path d="M3837 629V555H3837.2V629Z" fill="#999999"/>
<path d="M3837 584v8M3837 591v13M3837 585v15M3837 599v18" stroke="#999999"/>
<path d="M3837 549h0" stroke="#999999"/>
<path d="M3837.2 629V565H3837.4V629Z" fill="#212121"/>
<path d="M3837 579v11M3837 619v9" stroke="#212121"/>
<path d="M3837 560h0" stroke="#212121"/>
<path d="M3837.4 629V560H3837.6V629Z" fill="#999999"/>
<path d="M3837 597v12M3838 565v15M3837 601v13M3838 614v13" stroke="#999999"/>
<path d="M3837 556h0" stroke="#999999"/>
<path d="M3837.6 629V569H3837.8V629Z" fill="#212121"/>
<path d="M3838 600v4M3838 592v17" stroke="#212121"/>
<path d="M3838 563h0" stroke="#212121"/>
<path d="M3837.8 629V570H3838V629Z" fill="#999999"/>
<path d="M3838 604v9M3838 583v11M3838 569v6M3838 618v6" stroke="#999999"/>
<path d="M3838 564h0m1-5h0m-1-6h0m-1-7h0" stroke="#999999"/>
<path d="M3838 629V557H3838.2V629Z" fill="#212121"/>
<path d="M3838 598v10M3838 611v6" stroke="#212121"/>
<path d="M3838 552h0m0-42h0" stroke="#212121"/>
<path d="M3838.2 629V565H3838.4V629Z" fill="#999999"/>
<path d="M3838 602v5M3838 587v11M3838 564v10M3838 566v12" stroke="#999999"/>
<path d="M3838 559h0" stroke="#999999"/>
<path d="M3838.4 629V554H3838.6V629Z" fill="#212121"/>
<path d="M3838 559v10M3839 564v15" stroke="#212121"/>
<path d="M3838 549h0" stroke="#212121"/>
<path d="M3838.6 629V566H3838.8V629Z" fill="#999999"/>
<path d="M3839 602v17M3839 583v16M3839 599v16M3839 600v15" stroke="#999999"/>
<path d="M3839 561h0" stroke="#999999"/>
<path d="M3838.8 629V564H3839V629Z" fill="#212121"/>
<path d="M3839 599v7M3839 587v14" stroke="#212121"/>
<path d="M3839 558h0" stroke="#212121"/>
<path d="M3839 629V567H3839.3V629Z" fill="#999999"/>
<path d="M3839 614v7M3839 614v17M3839 619v15M3839 602v11" stroke="#999999"/>
<path d="M3839 561h0" stroke="#999999"/>
<path d="M3839.3 629V566H3839.5V629Z" fill="#212121"/>
<path d="M3839 564v7M3839 587v15" stroke="#212121"/>
<path d="M3839 561h0m0-36h0m1 29h0m-1-7h0m0-7h0m0-6h0m0-7h0m1-5h0" stroke="#212121"/>
<path d="M3839.5 629V562H3839.7V629Z" fill="#999999"/>
<path d="M3839 620v9M3840 580v5M3840 616v6M3840 608v7" stroke="#999999"/>
<path d="M3839 557h0" stroke="#999999"/>
<path d="M3839.7 629V558H3839.9V629Z" fill="#212121"/>
<path d="M3840 590v13M3840 608v7" stroke="#212121"/>
<path d="M3840 554h0" stroke="#212121"/>
<path d="M3839.9 629V562H3840.1V629Z" fill="#999999"/>
<path d="M3840 567v5M3840 611v5M3840 564v13M3840 590v7" stroke="#999999"/>
<path d="M3840 558h0" stroke="#999999"/>
<path d="M3840.1 629V561H3840.3V629Z" fill="#212121"/>
<path d="M3840 582v17M3840 592v4" stroke="#212121"/>
<path d="M3840 554h0" stroke="#212121"/>
<path d="M3840.3 629V566H3840.5V629Z" fill="#999999"/>
<path d="M3840 576v7M3840 593v10M3840 600v12M3840 605v3" stroke="#999999"/>
<path d="M3840 561h0" stroke="#999999"/>
<path d="M3840.5 629V551H3840.7V629Z" fill="#212121"/>
<path d="M3841 575v9M3841 580v8" stroke="#212121"/>
<path d="M3840 547h0" stroke="#212121"/>
<path d="M3840.7 629V560H3840.9V629Z" fill="#999999"/>
<path d="M3841 592v16M3841 610v4M3841 589v14M3841 583v13" stroke="#999999"/>
<path d="M3841 556h0" stroke="#999999"/>
<path d="M3840.9 629V559H3841.1V629Z" fill="#212121"/>
<path d="M3841 594v16M3841 559v11" stroke="#212121"/>
<path d="M3841 555h0" stroke="#212121"/>
<path d="M3841.1 629V565H3841.3V629Z" fill="#999999"/>
<path d="M3841 605v17M3841 605v12M3841 566v9M3841 620v17" stroke="#999999"/>
<path d="M3841 562h0" stroke="#999999"/>
<path d="M3841.3 629V561H3841.5V629Z" fill="#212121"/>
<path d="M3841 607v8M3841 594v14" stroke="#212121"/>
<path d="M3841 555h0" stroke="#212121"/>
<path d="M3841.5 629V553H3841.7V629Z" fill="#999999"/>
<path d="M3842 593v16M3842 610v8M3842 618v8M3842 617v14" stroke="#999999"/>
<path d="M3842 547h0" stroke="#999999"/>
<path d="M3841.7 629V551H3841.9V629Z" fill="#212121"/>
<path d="M3842 615v17M3842 610v13" stroke="#212121"/>
<path d="M3842 545h0" stroke="#212121"/>
<path d="M3841.9 629V563H3842.1V629Z" fill="#999999"/>
<path d="M3842 571v16M3842 576v6M3842 584v7M3842 568v12" stroke="#999999"/>
<path d="M3842 559h0" stroke="#999999"/>
<path d="M3842.1 629V562H3842.3V629Z" fill="#212121"/>
<path d="M3842 592v12M3842 582v5" stroke="#212121"/>
<path d="M3842 555h0" stroke="#212121"/>
<path d="M3842.3 629V563H3842.5V629Z" fill="#999999"/>
<path d="M3842 573v10M3842 588v10M3842 576v8M3842 602v12" stroke="#999999"/>
<path d="M3842 558h0" stroke="#999999"/>
<path d="M3842.5 629V549H3842.7V629Z" fill="#212121"/>
<path d="M3843 594v13M3843 589v14" stroke="#212121"/>
<path d="M3843 544h0" stroke="#212121"/>
<path d="M3842.7 629V564H3843V629Z" fill="#999999"/>
<path d="M3843 612v17M3843 590v10M3843 572v9M3843 574v16" stroke="#999999"/>
<path d="M3843 559h0" stroke="#999999"/>
<path d="M3843 629V569H3843.2V629Z" fill="#212121"/>
<path d="M3843 621v12M3843 597v14" stroke="#212121"/>
<path d="M3843 563h0" stroke="#212121"/>
<path d="M3843.2 629V559H3843.4V629Z" fill="#999999"/>
<path d="M3843 573v16M3843 573v12M3843 556v14M3843 567v9" stroke="#999999"/>
<path d="M3843 553h0" stroke="#999999"/>
<path d="M3843.4 629V550H3843.6V629Z" fill="#212121"/>
<path d="M3844 565v17M3844 566v5" stroke="#212121"/>
<path d="M3843 546h0m0-12h0" stroke="#212121"/>
<path d="M3843.6 629V553H3843.8V629Z" fill="#999999"/>
<path d="M3844 555v8M3844 599v8M3844 555v7M3844 567v14" stroke="#999999"/>
<path d="M3844 548h0" stroke="#999999"/>
<path d="M3843.8 629V541H3844V629Z" fill="#212121"/>
<path d="M3844 583v15M3844 549v6" stroke="#212121"/>
<path d="M3844 534h0" stroke="#212121"/>
<path d="M3844 629V567H3844.2V629Z" fill="#999999"/>
<path d="M3844 580v12M3844 603v14M3844 577v16M3844 611v7" stroke="#999999"/>
<path d="M3844 563h0" stroke="#999999"/>
<path d="M3844.2 629V567H3844.4V629Z" fill="#212121"/>
<path d="M3844 584v11M3844 581v11" stroke="#212121"/>
<path d="M3844 562h0" stroke="#212121"/>
<path d="M3844.4 629V561H3844.6V629Z" fill="#999999"/>
<path d="M3845 611v13M3844 568v9M3844 561v13M3844 610v11" stroke="#999999"/>
<path d="M3844 556h0" stroke="#999999"/>
<path d="M3844.6 629V556H3844.8V629Z" fill="#212121"/>
<path d="M3845 608v11M3845 600v6" stroke="#212121"/>
<path d="M3845 552h0" stroke="#212121"/>
<path d="M3844.8 629V569H3845V629Z" fill="#999999"/>
<path d="M3845 603v17M3845 590v11M3845 613v13M3845 611v5" stroke="#999999"/>
<path d="M3845 565h0" stroke="#999999"/>
<path d="M3845 629V553H3845.2V629Z" fill="#212121"/>
<path d="M3845 554v12M3845 602v16" stroke="#212121"/>
<path d="M3845 548h0" stroke="#212121"/>
<path d="M3845.2 629V562H3845.4V629Z" fill="#999999"/>
<path d="M3845 617v15M3845 570v9M3845 565v16M3845 577v9" stroke="#999999"/>
<path d="M3845 557h0" stroke="#999999"/>
<path d="M3845.4 629V554H3845.6V629Z" fill="#212121"/>
<path d="M3845 613v8M3846 603v14" stroke="#212121"/>
<path d="M3845 550h0" stroke="#212121"/>
<path d="M3845.6 629V568H3845.8V629Z" fill="#999999"/>
<path d="M3846 604v9M3846 593v13M3846 616v14M3846 607v13" stroke="#999999"/>
<path d="M3846 562h0" stroke="#999999"/>
<path d="M3845.8 629V561H3846V629Z" fill="#212121"/>
<path d="M3846 590v15M3846 614v6" stroke="#212121"/>
<path d="M3846 555h0" stroke="#212121"/>
<path d="M3846 629V549H3846.2V629Z" fill="#999999"/>
<path d="M3846 616v4M3846 620v12M3846 585v9M3846 600v9" stroke="#999999"/>
<path d="M3846 543h0" stroke="#999999"/>
<path d="M3846.2 629V571H3846.4V629Z" fill="#212121"/>
<path d="M3846 596v15M3846 611v10" stroke="#212121"/>
<path d="M3846 567h0" stroke="#212121"/>
<path d="M3846.4 629V550H3846.6V629Z" fill="#999999"/>
<path d="M3846 578v11M3846 604v7M3847 587v5M3847 545v5" stroke="#999999"/>
<path d="M3846 544h0" stroke="#999999"/>
<path d="M3846.6 629V564H3846.8V629Z" fill="#212121"/>
<path d="M3847 572v17M3847 583v15" stroke="#212121"/>
<path d="M3847 560h0" stroke="#212121"/>
<path d="M3846.8 629V564H3847V629Z" fill="#999999"/>
<path d="M3847 587v15M3847 615v4M3847 602v10M3847 579v13" stroke="#999999"/>
<path d="M3847 558h0" stroke="#999999"/>
<path d="M3847 629V566H3847.2V629Z" fill="#212121"/>
<path d="M3847 611v8M3847 607v16" stroke="#212121"/>
<path d="M3847 560h0" stroke="#212121"/>
<path d="M3847.2 629V553H3847.4V629Z" fill="#999999"/>
<path d="M3847 571v9M3847 582v8M3847 609v3M3847 585v17" stroke="#999999"/>
<path d="M3847 546h0" stroke="#999999"/>
<path d="M3847.4 629V560H3847.6V629Z" fill="#212121"/>
<path d="M3848 592v5M3847 561v4" stroke="#212121"/>
<path d="M3847 556h0" stroke="#212121"/>
<path d="M3847.6 629V562H3847.8V629Z" fill="#999999"/>
<path d="M3848 602v12M3848 562v5M3848 588v13M3848 600v8" stroke="#999999"/>
<path d="M3848 556h0" stroke="#999999"/>
<path d="M3847.8 629V567H3848V629Z" fill="#212121"/>
<path d="M3848 569v13M3848 588v16" stroke="#212121"/>
<path d="M3848 561h0" stroke="#212121"/>
<path d="M3848 629V569H3848.2V629Z" fill="#999999"/>
<path d="M3848 569v8M3848 580v10M3848 615v17M3848 594v16" stroke="#999999"/>
<path d="M3848 565h0" stroke="#999999"/>
<path d="M3848.2 629V568H3848.4V629Z" fill="#212121"/>
<path d="M3848 595v9M3848 618v11" stroke="#212121"/>
<path d="M3848 563h0" stroke="#212121"/>
<path d="M3848.4 629V555H3848.6V629Z" fill="#999999"/>
<path d="M3849 579v4M3848 597v14M3848 617v10M3849 554v13" stroke="#999999"/>
<path d="M3848 551h0" stroke="#999999"/>
<path d="M3848.6 629V552H3848.8V629Z" fill="#212121"/>
<path d="M3849 601v12M3849 570v17" stroke="#212121"/>
<path d="M3849 546h0m0-4h0m0-5h0m-1-6h0" stroke="#212121"/>
<path d="M3848.8 629V567H3849V629Z" fill="#999999"/>
<path d="M3849 581v10M3849 576v13M3849 567v18M3849 569v5" stroke="#999999"/>
<path d="M3849 562h0" stroke="#999999"/>
<path d="M3849 629V549H3849.2V629Z" fill="#212121"/>
<path d="M3849 609v5M3849 619v15" stroke="#212121"/>
<path d="M3849 544h0" stroke="#212121"/>
<path d="M3849.2 629V567H3849.4V629Z" fill="#999999"/>
<path d="M3849 610v12M3849 581v14M3849 610v10M3849 585v5" stroke="#999999"/>
<path d="M3849 561h0" stroke="#999999"/>
<path d="M3849.4 629V552H3849.6V629Z" fill="#212121"/>
<path d="M3850 618v8M3849 615v15" stroke="#212121"/>
<path d="M3849 548h0" stroke="#212121"/>
<path d="M3849.6 629V564H3849.8V629Z" fill="#999999"/>
<path d="M3850 604v4M3850 578v14M3850 584v10M3850 591v18" stroke="#999999"/>
<path d="M3850 559h0" stroke="#999999"/>
<path d="M3849.8 629V550H3850V629Z" fill="#212121"/>
<path d="M3850 585v14M3850 581v10" stroke="#212121"/>
<path d="M3850 544h0" stroke="#212121"/>
<path d="M3850 629V551H3850.2V629Z" fill="#999999"/>
<path d="M3850 605v16M3850 580v8M3850 615v4M3850 575v6" stroke="#999999"/>
<path d="M3850 546h0" stroke="#999999"/>
<path d="M3850.2 629V564H3850.4V629Z" fill="#212121"/>
<path d="M3850 590v14M3850 572v6" stroke="#212121"/>
<path d="M3850 559h0" stroke="#212121"/>
<path d="M3850.4 629V564H3850.6V629Z" fill="#999999"/>
<path d="M3851 568v5M3850 616v7M3850 586v11M3850 591v5" stroke="#999999"/>
<path d="M3850 558h0" stroke="#999999"/>
<path d="M3850.6 629V560H3850.7V629Z" fill="#212121"/>
<path d="M3851 597v9M3851 579v5" stroke="#212121"/>
<path d="M3851 555h0" stroke="#212121"/>
<path d="M3850.7 629V567H3850.9V629Z" fill="#999999"/>
<path d="M3851 607v13M3851 567v16M3851 584v4M3851 611v9" stroke="#999999"/>
<path d="M3851 562h0" stroke="#999999"/>
<path d="M3850.9 629V555H3851.1V629Z" fill="#212121"/>
<path d="M3851 567v10M3851 587v7" stroke="#212121"/>
<path d="M3851 549h0" stroke="#212121"/>
<path d="M3851.1 629V566H3851.3V629Z" fill="#999999"/>
<path d="M3851 563v12M3851 613v4M3851 591v14M3851 590v14" stroke="#999999"/>
<path d="M3851 561h0m0-5h0m1-5h0m0-6h0m-1-5h0m1-10h0m-2-10h0m2-9h0m0-11h0m-1-5h0" stroke="#999999"/>
<path d="M3851.3 629V555H3851.5V629Z" fill="#212121"/>
<path d="M3851 587v11M3851 604v12" stroke="#212121"/>
<path d="M3851 551h0" stroke="#212121"/>
<path d="M3851.5 629V552H3851.7V629Z" fill="#999999"/>
<path d="M3852 617v15M3852 607v12M3852 606v15M3852 602v4" stroke="#999999"/>
<path d="M3852 546h0" stroke="#999999"/>
<path d="M3851.7 629V561H3851.9V629Z" fill="#212121"/>
<path d="M3852 558v10M3852 602v4" stroke="#212121"/>
<path d="M3852 555h0" stroke="#212121"/>
<path d="M3851.9 629V558H3852.1V629Z" fill="#999999"/>
<path d="M3852 593v7M3852 571v7M3852 577v7M3852 599v17" stroke="#999999"/>
<path d="M3852 553h0" stroke="#999999"/>
<path d="M3852.1 629V569H3852.3V629Z" fill="#212121"/>
<path d="M3852 597v5M3852 608v6" stroke="#212121"/>
<path d="M3852 562h0" stroke="#212121"/>
<path d="M3852.3 629V560H3852.5V629Z" fill="#999999"/>
<path d="M3852 602v9M3852 558v8M3852 589v5M3852 565v11" stroke="#999999"/>
<path d="M3852 555h0" stroke="#999999"/>
<path d="M3852.5 629V554H3852.7V629Z" fill="#212121"/>
<path d="M3853 614v13M3853 605v13" stroke="#212121"/>
<path d="M3853 548h0" stroke="#212121"/>
<path d="M3852.7 629V565H3852.9V629Z" fill="#999999"/>
<path d="M3853 606v14M3853 561v13M3853 564v9M3853 573v16" stroke="#999999"/>
<path d="M3853 560h0" stroke="#999999"/>
<path d="M3852.9 629V557H3853.1V629Z" fill="#212121"/>
<path d="M3853 597v12M3853 569v12" stroke="#212121"/>
<path d="M3853 553h0" stroke="#212121"/>
<path d="M3853.1 629V552H3853.3V629Z" fill="#999999"/>
<path d="M3853 611v9M3853 592v16M3853 618v16M3853 591v5" stroke="#999999"/>
<path d="M3853 547h0" stroke="#999999"/>
<path d="M3853.3 629V554H3853.5V629Z" fill="#212121"/>
<path d="M3853 575v13M3853 609v12" stroke="#212121"/>
<path d="M3853 549h0" stroke="#212121"/>
<path d="M3853.5 629V570H3853.7V629Z" fill="#999999"/>
<path d="M3854 608v10M3854 574v14M3854 586v15M3854 577v14" stroke="#999999"/>
<path d="M3853 564h0" stroke="#999999"/>
<path d="M3853.7 629V559H3853.9V629Z" fill="#212121"/>
<path d="M3854 620v10M3854 570v15" stroke="#212121"/>
<path d="M3854 552h0" stroke="#212121"/>
<path d="M3853.9 629V556H3854.1V629Z" fill="#999999"/>
<path d="M3854 609v7M3854 578v15M3854 588v10M3854 600v16" stroke="#999999"/>
<path d="M3854 551h0" stroke="#999999"/>
<path d="M3854.1 629V556H3854.3V629Z" fill="#212121"/>
<path d="M3854 598v7M3854 559v9" stroke="#212121"/>
<path d="M3854 551h0" stroke="#212121"/>
<path d="M3854.3 629V549H3854.5V629Z" fill="#999999"/>
<path d="M3854 613v4M3854 604v8M3854 571v17M3854 552v7" stroke="#999999"/>
<path d="M3854 542h0" stroke="#999999"/>
<path d="M3854.5 629V560H3854.7V629Z" fill="#212121"/>
<path d="M3855 601v12M3855 612v15" stroke="#212121"/>
<path d="M3854 556h0" stroke="#212121"/>
<path d="M3854.7 629V551H3854.8V629Z" fill="#999999"/>
<path d="M3855 575v9M3855 586v13M3855 604v16M3855 599v10" stroke="#999999"/>
<path d="M3855 544h0" stroke="#999999"/>
<path d="M3854.8 629V553H3855V629Z" fill="#212121"/>
<path d="M3855 560v14M3855 609v12" stroke="#212121"/>
<path d="M3855 548h0" stroke="#212121"/>
<path d="M3855 629V560H3855.2V629Z" fill="#999999"/>
<path d="M3855 562v10M3855 601v15M3855 583v5M3855 580v12" stroke="#999999"/>
<path d="M3855 554h0" stroke="#999999"/>
<path d="M3855.2 629V565H3855.4V629Z" fill="#212121"/>
<path d="M3855 598v10M3855 616v17" stroke="#212121"/>
<path d="M3855 559h0" stroke="#212121"/>
<path d="M3855.4 629V570H3855.6V629Z" fill="#999999"/>
<path d="M3856 570v12M3856 598v16M3856 600v14M3856 618v4" stroke="#999999"/>
<path d="M3855 563h0" stroke="#999999"/>
<path d="M3855.6 629V567H3855.8V629Z" fill="#212121"/>
<path d="M3856 612v16M3856 597v14" stroke="#212121"/>
<path d="M3856 562h0" stroke="#212121"/>
<path d="M3855.8 629V564H3856V629Z" fill="#999999"/>
<path d="M3856 589v7M3856 614v17M3856 560v4M3856 597v15" stroke="#999999"/>
<path d="M3856 558h0" stroke="#999999"/>
<path d="M3856 629V564H3856.2V629Z" fill="#212121"/>
<path d="M3856 586v7M3856 563v17" stroke="#212121"/>
<path d="M3856 559h0m0-38h0" stroke="#212121"/>
<path d="M3856.2 629V567H3856.4V629Z" fill="#999999"/>
<path d="M3856 569v7M3856 609v4M3856 590v6M3856 603v11" stroke="#999999"/>
<path d="M3856 563h0m0-8h0" stroke="#999999"/>
<path d="M3856.4 629V563H3856.6V629Z" fill="#212121"/>
<path d="M3856 576v6M3856 610v3" stroke="#212121"/>
<path d="M3856 558h0" stroke="#212121"/>
<path d="M3856.6 629V567H3856.8V629Z" fill="#999999"/>
<path d="M3857 587v8M3857 575v16M3857 614v15M3857 595v7" stroke="#999999"/>
<path d="M3857 563h0m0-37h0m0 15h0" stroke="#999999"/>
<path d="M3856.8 629V550H3857V629Z" fill="#212121"/>
<path d="M3857 613v11M3857 616v6" stroke="#212121"/>
<path d="M3857 546h0" stroke="#212121"/>
<path d="M3857 629V549H3857.2V629Z" fill="#999999"/>
<path d="M3857 600v8M3857 545v9M3857 562v13M3857 567v10" stroke="#999999"/>
<path d="M3857 544h0" stroke="#999999"/>
<path d="M3857.2 629V550H3857.4V629Z" fill="#212121"/>
<path d="M3857 576v16M3857 583v15" stroke="#212121"/>
<path d="M3857 545h0" stroke="#212121"/>
<path d="M3857.4 629V563H3857.5V629Z" fill="#999999"/>
<path d="M3857 590v5M3857 597v6M3857 569v3M3857 605v14" stroke="#999999"/>
<path d="M3857 557h0" stroke="#999999"/>
<path d="M3857.5 629V564H3857.7V629Z" fill="#212121"/>
<path d="M3858 580v4M3858 570v13" stroke="#212121"/>
<path d="M3858 559h0" stroke="#212121"/>
<path d="M3857.7 629V559H3857.9V629Z" fill="#999999"/>
<path d="M3858 568v17M3858 601v4M3858 609v6M3858 596v4" stroke="#999999"/>
<path d="M3858 552h0m0-37h0" stroke="#999999"/>
<path d="M3857.9 629V558H3858.1V629Z" fill="#212121"/>
<path d="M3858 609v9M3858 610v14" stroke="#212121"/>
<path d="M3858 553h0m0-24h0" stroke="#212121"/>
<path d="M3858.1 629V550H3858.3V629Z" fill="#999999"/>
<path d="M3858 592v8M3858 574v10M3858 569v11M3858 597v6" stroke="#999999"/>
<path d="M3858 546h0m0-39h0" stroke="#999999"/>
<path d="M3858.3 629V566H3858.5V629Z" fill="#212121"/>
<path d="M3858 590v17M3858 618v4" stroke="#212121"/>
<path d="M3858 560h0m0-25h0" stroke="#212121"/>
<path d="M3858.5 629V560H3858.7V629Z" fill="#999999"/>
<path d="M3859 564v6M3859 579v12M3859 577v10M3859 590v8" stroke="#999999"/>
<path d="M3859 555h0" stroke="#999999"/>
<path d="M3858.7 629V566H3858.9V629Z" fill="#212121"/>
<path d="M3859 599v6M3859 578v17" stroke="#212121"/>
<path d="M3859 560h0" stroke="#212121"/>
<path d="M3858.9 629V552H3859.1V629Z" fill="#999999"/>
<path d="M3859 575v7M3859 569v15M3859 573v6M3859 616v4" stroke="#999999"/>
<path d="M3859 547h0" stroke="#999999"/>
<path d="M3859.1 629V559H3859.3V629Z" fill="#212121"/>
<path d="M3859 569v15M3859 598v3" stroke="#212121"/>
<path d="M3859 553h0" stroke="#212121"/>
<path d="M3859.3 629V563H3859.5V629Z" fill="#999999"/>
<path d="M3859 568v18M3859 561v5M3859 597v6M3859 620v11" stroke="#999999"/>
<path d="M3859 558h0" stroke="#999999"/>
<path d="M3859.5 629V539H3859.6V629Z" fill="#212121"/>
<path d="M3860 618v3M3860 537v12" stroke="#212121"/>
<path d="M3859 534h0" stroke="#212121"/>
<path d="M3859.6 629V555H3859.8V629Z" fill="#999999"/>
<path d="M3860 555v6M3860 565v14M3860 572v8M3860 619v14" stroke="#999999"/>
<path d="M3860 550h0" stroke="#999999"/>
<path d="M3859.8 629V530H3860V629Z" fill="#212121"/>
<path d="M3860 526v3M3860 577v6" stroke="#212121"/>
<path d="M3860 524h0" stroke="#212121"/>
<path d="M3860 629V563H3860.2V629Z" fill="#999999"/>
<path d="M3860 600v5M3860 605v14M3860 559v8M3860 597v4" stroke="#999999"/>
<path d="M3860 557h0" stroke="#999999"/>
<path d="M3860.2 629V570H3860.4V629Z" fill="#212121"/>
<path d="M3860 591v14M3860 585v13" stroke="#212121"/>
<path d="M3860 565h0" stroke="#212121"/>
<path d="M3860.4 629V524H3860.6V629Z" fill="#999999"/>
<path d="M3860 597v5M3860 571v6M3860 575v15M3861 616v5" stroke="#999999"/>
<path d="M3860 519h0" stroke="#999999"/>
<path d="M3860.6 629V555H3860.8V629Z" fill="#212121"/>
<path d="M3861 605v14M3861 575v16" stroke="#212121"/>
<path d="M3861 550h0" stroke="#212121"/>
<path d="M3860.8 629V562H3861V629Z" fill="#999999"/>
<path d="M3861 609v12M3861 609v13M3861 590v10M3861 600v8" stroke="#999999"/>
<path d="M3861 557h0" stroke="#999999"/>
<path d="M3861 629V551H3861.2V629Z" fill="#212121"/>
<path d="M3861 562v17M3861 605v14" stroke="#212121"/>
<path d="M3861 545h0m0-6h0m0-8h0m1-5h0" stroke="#212121"/>
<path d="M3861.2 629V555H3861.4V629Z" fill="#999999"/>
<path d="M3861 608v8M3861 553v10M3861 613v13M3861 552v15" stroke="#999999"/>
<path d="M3861 548h0" stroke="#999999"/>
<path d="M3861.4 629V549H3861.6V629Z" fill="#212121"/>
<path d="M3861 547v12M3861 617v15" stroke="#212121"/>
<path d="M3861 545h0" stroke="#212121"/>
<path d="M3861.6 629V523H3861.7V629Z" fill="#999999"/>
<path d="M3862 601v14M3862 547v4M3862 579v17M3862 541v3" stroke="#999999"/>
<path d="M3862 518h0" stroke="#999999"/>
<path d="M3861.7 629V549H3861.9V629Z" fill="#212121"/>
<path d="M3862 611v12M3862 573v4" stroke="#212121"/>
<path d="M3862 544h0" stroke="#212121"/>
<path d="M3861.9 629V564H3862.1V629Z" fill="#999999"/>
<path d="M3862 579v12M3862 616v13M3862 611v10M3862 595v12" stroke="#999999"/>
<path d="M3862 559h0m0-2h0" stroke="#999999"/>
<path d="M3862.1 629V560H3862.3V629Z" fill="#212121"/>
<path d="M3862 578v14M3862 584v12" stroke="#212121"/>
<path d="M3862 554h0" stroke="#212121"/>
<path d="M3862.3 629V570H3862.5V629Z" fill="#999999"/>
<path d="M3862 590v6M3862 587v7M3862 619v7M3862 595v3" stroke="#999999"/>
<path d="M3862 566h0" stroke="#999999"/>
<path d="M3862.5 629V565H3862.7V629Z" fill="#212121"/>
<path d="M3863 609v6M3863 595v12" stroke="#212121"/>
<path d="M3863 561h0" stroke="#212121"/>
<path d="M3862.7 629V561H3862.9V629Z" fill="#999999"/>
<path d="M3863 565v13M3863 591v13M3863 598v5M3863 612v6" stroke="#999999"/>
<path d="M3863 557h0" stroke="#999999"/>
<path d="M3862.9 629V565H3863.1V629Z" fill="#212121"/>
<path d="M3863 603v15M3863 601v9" stroke="#212121"/>
<path d="M3863 559h0" stroke="#212121"/>
<path d="M3863.1 629V553H3863.3V629Z" fill="#999999"/>
<path d="M3863 611v9M3863 565v13M3863 587v15M3863 577v14" stroke="#999999"/>
<path d="M3863 547h0m0-15h0m0 12h0" stroke="#999999"/>
<path d="M3863.3 629V557H3863.4V629Z" fill="#212121"/>
<path d="M3863 619v8M3863 609v17" stroke="#212121"/>
<path d="M3863 550h0m0-82h0m0 77h0m0-7h0m1-7h0" stroke="#212121"/>
<path d="M3863.4 629V550H3863.6V629Z" fill="#999999"/>
<path d="M3864 572v12M3863 595v5M3864 550v6M3864 563v8" stroke="#999999"/>
<path d="M3863 545h0" stroke="#999999"/>
<path d="M3863.6 629V569H3863.8V629Z" fill="#212121"/>
<path d="M3864 597v15M3864 585v4" stroke="#212121"/>
<path d="M3864 565h0" stroke="#212121"/>
<path d="M3863.8 629V559H3864V629Z" fill="#999999"/>
<path d="M3864 576v16M3864 598v11M3864 610v17M3864 619v12" stroke="#999999"/>
<path d="M3864 554h0" stroke="#999999"/>
<path d="M3864 629V553H3864.2V629Z" fill="#212121"/>
<path d="M3864 582v10M3864 562v16" stroke="#212121"/>
<path d="M3864 547h0" stroke="#212121"/>
<path d="M3864.2 629V557H3864.4V629Z" fill="#999999"/>
<path d="M3864 569v10M3864 579v9M3864 586v14M3864 577v7" stroke="#999999"/>
<path d="M3864 553h0" stroke="#999999"/>
<path d="M3864.4 629V557H3864.6V629Z" fill="#212121"/>
<path d="M3865 561v13M3865 584v5" stroke="#212121"/>
<path d="M3864 550h0" stroke="#212121"/>
<path d="M3864.6 629V565H3864.8V629Z" fill="#999999"/>
<path d="M3865 576v16M3865 594v11M3865 592v6M3865 621v9" stroke="#999999"/>
<path d="M3865 561h0m0-19h0" stroke="#999999"/>
<path d="M3864.8 629V560H3865V629Z" fill="#212121"/>
<path d="M3865 587v14M3865 572v6" stroke="#212121"/>
<path d="M3865 555h0" stroke="#212121"/>
<path d="M3865 629V566H3865.1V629Z" fill="#999999"/>
<path d="M3865 613v3M3865 618v8M3865 582v8M3865 572v10" stroke="#999999"/>
<path d="M3865 560h0" stroke="#999999"/>
<path d="M3865.1 629V566H3865.3V629Z" fill="#212121"/>
<path d="M3865 564v5M3865 577v14" stroke="#212121"/>
<path d="M3865 562h0" stroke="#212121"/>
<path d="M3865.3 629V567H3865.5V629Z" fill="#999999"/>
<path d="M3866 594v17M3865 580v3M3865 576v9M3865 615v7" stroke="#999999"/>
<path d="M3865 562h0" stroke="#999999"/>
<path d="M3865.5 629V569H3865.7V629Z" fill="#212121"/>
<path d="M3866 610v15M3866 571v11" stroke="#212121"/>
<path d="M3866 563h0" stroke="#212121"/>
<path d="M3865.7 629V551H3865.9V629Z" fill="#999999"/>
<path d="M3866 598v14M3866 555v7M3866 592v17M3866 593v4" stroke="#999999"/>
<path d="M3866 547h0" stroke="#999999"/>
<path d="M3865.9 629V564H3866.1V629Z" fill="#212121"/>
<path d="M3866 620v6M3866 607v11" stroke="#212121"/>
<path d="M3866 558h0" stroke="#212121"/>
<path d="M3866.1 629V564H3866.3V629Z" fill="#999999"/>
<path d="M3866 576v5M3866 605v15M3866 610v15M3866 586v15" stroke="#999999"/>
<path d="M3866 560h0" stroke="#999999"/>
<path d="M3866.3 629V557H3866.5V629Z" fill="#212121"/>
<path d="M3866 567v12M3866 587v8" stroke="#212121"/>
<path d="M3866 551h0" stroke="#212121"/>
<path d="M3866.5 629V552H3866.6V629Z" fill="#999999"/>
<path d="M3867 614v7M3867 552v9M3866 564v16M3866 592v14" stroke="#999999"/>
<path d="M3866 547h0" stroke="#999999"/>
<path d="M3866.6 629V569H3866.8V629Z" fill="#212121"/>
<path d="M3867 588v8M3867 586v12" stroke="#212121"/>
<path d="M3867 564h0" stroke="#212121"/>
<path d="M3866.8 629V557H3867V629Z" fill="#999999"/>
<path d="M3867 605v15M3867 610v18M3867 591v17M3867 577v4" stroke="#999999"/>
<path d="M3867 552h0" stroke="#999999"/>
<path d="M3867 629V558H3867.2V629Z" fill="#212121"/>
<path d="M3867 600v3M3867 586v8" stroke="#212121"/>
<path d="M3867 554h0" stroke="#212121"/>
<path d="M3867.2 629V549H3867.4V629Z" fill="#999999"/>
<path d="M3867 581v12M3867 592v10M3867 548v6M3867 571v7" stroke="#999999"/>
<path d="M3867 545h0" stroke="#999999"/>
<path d="M3867.4 629V568H3867.6V629Z" fill="#212121"/>
<path d="M3867 618v8M3867 595v11" stroke="#212121"/>
<path d="M3867 562h0" stroke="#212121"/>
<path d="M3867.6 629V562H3867.8V629Z" fill="#999999"/>
<path d="M3868 565v4M3868 586v17M3868 593v12M3868 593v5" stroke="#999999"/>
<path d="M3868 558h0" stroke="#999999"/>
<path d="M3867.8 629V528H3868V629Z" fill="#212121"/>
<path d="M3868 593v12M3868 539v12" stroke="#212121"/>
<path d="M3868 522h0" stroke="#212121"/>
<path d="M3868 629V566H3868.1V629Z" fill="#999999"/>
<path d="M3868 580v17M3868 614v11M3868 592v9M3868 583v7" stroke="#999999"/>
<path d="M3868 562h0" stroke="#999999"/>
<path d="M3868.1 629V566H3868.3V629Z" fill="#212121"/>
<path d="M3868 609v5M3868 602v3" stroke="#212121"/>
<path d="M3868 561h0" stroke="#212121"/>
<path d="M3868.3 629V557H3868.5V629Z" fill="#999999"/>
<path d="M3868 618v6M3868 601v15M3868 558v11M3868 570v11" stroke="#999999"/>
<path d="M3868 553h0" stroke="#999999"/>
<path d="M3868.5 629V569H3868.7V629Z" fill="#212121"/>
<path d="M3869 582v7M3869 565v6" stroke="#212121"/>
<path d="M3869 562h0" stroke="#212121"/>
<path d="M3868.7 629V555H3868.9V629Z" fill="#999999"/>
<path d="M3869 594v10M3869 576v14M3869 592v5M3869 601v8" stroke="#999999"/>
<path d="M3869 551h0" stroke="#999999"/>
<path d="M3868.9 629V554H3869.1V629Z" fill="#212121"/>
<path d="M3869 594v12M3869 558v13" stroke="#212121"/>
<path d="M3869 550h0" stroke="#212121"/>
<path d="M3869.1 629V553H3869.3V629Z" fill="#999999"/>
<path d="M3869 584v14M3869 591v4M3869 554v15M3869 607v10" stroke="#999999"/>
<path d="M3869 547h0" stroke="#999999"/>
<path d="M3869.3 629V556H3869.5V629Z" fill="#212121"/>
<path d="M3869 564v10M3869 564v12" stroke="#212121"/>
<path d="M3869 551h0" stroke="#212121"/>
<path d="M3869.5 629V567H3869.6V629Z" fill="#999999"/>
<path d="M3870 574v17M3870 605v4M3870 620v14M3870 607v6" stroke="#999999"/>
<path d="M3869 561h0" stroke="#999999"/>
<path d="M3869.6 629V558H3869.8V629Z" fill="#212121"/>
<path d="M3870 586v10M3870 590v10" stroke="#212121"/>
<path d="M3870 554h0" stroke="#212121"/>
<path d="M3869.8 629V553H3870V629Z" fill="#999999"/>
<path d="M3870 613v10M3870 610v7M3870 564v16M3870 573v13" stroke="#999999"/>
<path d="M3870 548h0m0-4h0" stroke="#999999"/>
<path d="M3870 629V560H3870.2V629Z" fill="#212121"/>
<path d="M3870 611v10M3870 580v16" stroke="#212121"/>
<path d="M3870 556h0" stroke="#212121"/>
<path d="M3870.2 629V567H3870.4V629Z" fill="#999999"/>
<path d="M3870 569v12M3870 593v14M3870 583v7M3870 604v7" stroke="#999999"/>
<path d="M3870 561h0" stroke="#999999"/>
<path d="M3870.4 629V550H3870.6V629Z" fill="#212121"/>
<path d="M3871 564v12M3871 565v5" stroke="#212121"/>
<path d="M3870 545h0m1-38h0" stroke="#212121"/>
<path d="M3870.6 629V554H3870.8V629Z" fill="#999999"/>
<path d="M3871 563v17M3871 574v14M3871 558v11M3871 604v6" stroke="#999999"/>
<path d="M3871 547h0" stroke="#999999"/>
<path d="M3870.8 629V556H3870.9V629Z" fill="#212121"/>
<path d="M3871 619v4M3871 573v9" stroke="#212121"/>
<path d="M3871 552h0" stroke="#212121"/>
<path d="M3870.9 629V566H3871.1V629Z" fill="#999999"/>
<path d="M3871 590v13M3871 564v17M3871 577v7M3871 567v5" stroke="#999999"/>
<path d="M3871 561h0" stroke="#999999"/>
<path d="M3871.1 629V549H3871.3V629Z" fill="#212121"/>
<path d="M3871 551v6M3871 581v12" stroke="#212121"/>
<path d="M3871 543h0" stroke="#212121"/>
<path d="M3871.3 629V552H3871.5V629Z" fill="#999999"/>
<path d="M3871 572v3M3871 592v4M3871 564v10M3871 552v7" stroke="#999999"/>
<path d="M3871 547h0" stroke="#999999"/>
<path d="M3871.5 629V552H3871.7V629Z" fill="#212121"/>
<path d="M3872 591v15M3872 594v10" stroke="#212121"/>
<path d="M3872 546h0" stroke="#212121"/>
<path d="M3871.7 629V565H3871.9V629Z" fill="#999999"/>
<path d="M3872 600v8M3872 619v9M3872 571v14M3872 570v9" stroke="#999999"/>
<path d="M3872 560h0" stroke="#999999"/>
<path d="M3871.9 629V549H3872.1V629Z" fill="#212121"/>
<path d="M3872 554v3M3872 620v8" stroke="#212121"/>
<path d="M3872 545h0" stroke="#212121"/>
<path d="M3872.1 629V566H3872.2V629Z" fill="#999999"/>
<path d="M3872 578v7M3872 576v13M3872 597v17M3872 598v12" stroke="#999999"/>
<path d="M3872 560h0" stroke="#999999"/>
<path d="M3872.2 629V555H3872.4V629Z" fill="#212121"/>
<path d="M3872 563v17M3872 597v5" stroke="#212121"/>
<path d="M3872 549h0" stroke="#212121"/>
<path d="M3872.4 629V564H3872.6V629Z" fill="#999999"/>
<path d="M3873 590v14M3873 617v13M3873 575v9M3873 564v3" stroke="#999999"/>
<path d="M3872 559h0" stroke="#999999"/>
<path d="M3872.6 629V556H3872.8V629Z" fill="#212121"/>
<path d="M3873 591v12M3873 616v7" stroke="#212121"/>
<path d="M3873 552h0" stroke="#212121"/>
<path d="M3872.8 629V551H3873V629Z" fill="#999999"/>
<path d="M3873 620v13M3873 617v16M3873 607v10M3873 609v18" stroke="#999999"/>
<path d="M3873 546h0" stroke="#999999"/>
<path d="M3873 629V550H3873.2V629Z" fill="#212121"/>
<path d="M3873 596v18M3873 601v12" stroke="#212121"/>
<path d="M3873 544h0" stroke="#212121"/>
<path d="M3873.2 629V567H3873.4V629Z" fill="#999999"/>
<path d="M3873 582v11M3873 594v18M3873 581v8M3873 567v9" stroke="#999999"/>
<path d="M3873 561h0" stroke="#999999"/>
<path d="M3873.4 629V554H3873.5V629Z" fill="#212121"/>
<path d="M3874 581v13M3874 570v5" stroke="#212121"/>
<path d="M3873 549h0" stroke="#212121"/>
<path d="M3873.5 629V558H3873.7V629Z" fill="#999999"/>
<path d="M3874 573v13M3874 560v5M3874 567v7M3874 587v10" stroke="#999999"/>
<path d="M3874 552h0" stroke="#999999"/>
<path d="M3873.7 629V557H3873.9V629Z" fill="#212121"/>
<path d="M3874 573v9M3874 566v12" stroke="#212121"/>
<path d="M3874 551h0" stroke="#212121"/>
<path d="M3873.9 629V558H3874.1V629Z" fill="#999999"/>
<path d="M3874 556v11M3874 579v10M3874 560v10M3874 607v6" stroke="#999999"/>
<path d="M3874 554h0" stroke="#999999"/>
<path d="M3874.1 629V552H3874.3V629Z" fill="#212121"/>
<path d="M3874 559v10M3874 548v14" stroke="#212121"/>
<path d="M3874 548h0" stroke="#212121"/>
<path d="M3874.3 629V559H3874.5V629Z" fill="#999999"/>
<path d="M3874 611v8M3874 569v10M3874 591v6M3874 601v11" stroke="#999999"/>
<path d="M3874 555h0" stroke="#999999"/>
<path d="M3874.5 629V568H3874.7V629Z" fill="#212121"/>
<path d="M3875 577v9M3875 618v6" stroke="#212121"/>
<path d="M3874 561h0" stroke="#212121"/>
<path d="M3874.7 629V555H3874.8V629Z" fill="#999999"/>
<path d="M3875 579v5M3875 574v5M3875 566v7M3875 570v10" stroke="#999999"/>
<path d="M3875 549h0" stroke="#999999"/>
<path d="M3874.8 629V562H3875V629Z" fill="#212121"/>
<path d="M3875 599v12M3875 591v8" stroke="#212121"/>
<path d="M3875 556h0" stroke="#212121"/>
<path d="M3875 629V564H3875.2V629Z" fill="#999999"/>
<path d="M3875 584v14M3875 569v10M3875 618v15M3875 575v13" stroke="#999999"/>
<path d="M3875 560h0" stroke="#999999"/>
<path d="M3875.2 629V568H3875.4V629Z" fill="#212121"/>
<path d="M3875 594v6M3875 579v12" stroke="#212121"/>
<path d="M3875 564h0" stroke="#212121"/>
<path d="M3875.4 629V557H3875.6V629Z" fill="#999999"/>
<path d="M3876 600v4M3875 584v3M3876 620v9M3876 582v18" stroke="#999999"/>
<path d="M3875 552h0" stroke="#999999"/>
<path d="M3875.6 629V554H3875.8V629Z" fill="#212121"/>
<path d="M3876 572v15M3876 596v10" stroke="#212121"/>
<path d="M3876 548h0m0-44h0" stroke="#212121"/>
<path d="M3875.8 629V563H3876V629Z" fill="#999999"/>
<path d="M3876 607v15M3876 568v6M3876 607v4M3876 564v6" stroke="#999999"/>
<path d="M3876 559h0m0-6h0m0-6h0m-1-10h0m1-6h0" stroke="#999999"/>
<path d="M3876 629V555H3876.1V629Z" fill="#212121"/>
<path d="M3876 552v5M3876 596v9" stroke="#212121"/>
<path d="M3876 549h0" stroke="#212121"/>
<path d="M3876.1 629V550H3876.3V629Z" fill="#999999"/>
<path d="M3876 589v17M3876 574v5M3876 596v15M3876 557v4" stroke="#999999"/>
<path d="M3876 546h0" stroke="#999999"/>
<path d="M3876.3 629V566H3876.5V629Z" fill="#212121"/>
<path d="M3876 619v15M3876 573v10" stroke="#212121"/>
<path d="M3876 561h0" stroke="#212121"/>
<path d="M3876.5 629V567H3876.7V629Z" fill="#999999"/>
<path d="M3877 618v14M3877 602v4M3877 595v15M3877 592v6" stroke="#999999"/>
<path d="M3877 563h0" stroke="#999999"/>
<path d="M3876.7 629V552H3876.9V629Z" fill="#212121"/>
<path d="M3877 575v17M3877 549v5" stroke="#212121"/>
<path d="M3877 546h0" stroke="#212121"/>
<path d="M3876.9 629V539H3877.1V629Z" fill="#999999"/>
<path d="M3877 600v7M3877 618v14M3877 538v8M3877 543v8" stroke="#999999"/>
<path d="M3877 532h0" stroke="#999999"/>
<path d="M3877.1 629V564H3877.2V629Z" fill="#212121"/>
<path d="M3877 593v16M3877 601v17" stroke="#212121"/>
<path d="M3877 557h0" stroke="#212121"/>
<path d="M3877.2 629V562H3877.4V629Z" fill="#999999"/>
<path d="M3877 571v11M3877 605v4M3877 613v9M3877 569v17" stroke="#999999"/>
<path d="M3877 557h0" stroke="#999999"/>
<path d="M3877.4 629V558H3877.6V629Z" fill="#212121"/>
<path d="M3878 587v12M3877 583v16" stroke="#212121"/>
<path d="M3877 553h0" stroke="#212121"/>
<path d="M3877.6 629V559H3877.8V629Z" fill="#999999"/>
<path d="M3878 564v11M3878 561v10M3878 556v16M3878 558v17" stroke="#999999"/>
<path d="M3878 554h0" stroke="#999999"/>
<path d="M3877.8 629V568H3878V629Z" fill="#212121"/>
<path d="M3878 581v7M3878 584v8" stroke="#212121"/>
<path d="M3878 564h0" stroke="#212121"/>
<path d="M3878 629V564H3878.2V629Z" fill="#999999"/>
<path d="M3878 569v9M3878 559v13M3878 608v17M3878 569v16" stroke="#999999"/>
<path d="M3878 559h0" stroke="#999999"/>
<path d="M3878.2 629V551H3878.3V629Z" fill="#212121"/>
<path d="M3878 557v14M3878 595v14" stroke="#212121"/>
<path d="M3878 545h0" stroke="#212121"/>
<path d="M3878.3 629V568H3878.5V629Z" fill="#999999"/>
<path d="M3878 594v4M3878 575v9M3878 568v14M3878 613v16" stroke="#999999"/>
<path d="M3878 564h0" stroke="#999999"/>
<path d="M3878.5 629V562H3878.7V629Z" fill="#212121"/>
<path d="M3879 608v5M3879 565v7" stroke="#212121"/>
<path d="M3879 558h0" stroke="#212121"/>
<path d="M3878.7 629V567H3878.9V629Z" fill="#999999"/>
<path d="M3879 607v11M3879 592v15M3879 569v9M3879 618v3" stroke="#999999"/>
<path d="M3879 561h0m0-7h0m0-5h0" stroke="#999999"/>
<path d="M3878.9 629V570H3879.1V629Z" fill="#212121"/>
<path d="M3879 601v8M3879 567v4" stroke="#212121"/>
<path d="M3879 564h0" stroke="#212121"/>
<path d="M3879.1 629V553H3879.3V629Z" fill="#999999"/>
<path d="M3879 609v10M3879 577v13M3879 599v15M3879 587v15" stroke="#999999"/>
<path d="M3879 548h0" stroke="#999999"/>
<path d="M3879.3 629V549H3879.6V629Z" fill="#212121"/>
<path d="M3879 552v14M3880 582v5" stroke="#212121"/>
<path d="M3879 544h0" stroke="#212121"/>
<path d="M3879.6 629V562H3879.8V629Z" fill="#999999"/>
<path d="M3880 564v7M3880 594v8M3880 571v16M3880 583v17" stroke="#999999"/>
<path d="M3880 557h0" stroke="#999999"/>
<path d="M3879.8 629V553H3880.1V629Z" fill="#212121"/>
<path d="M3880 611v12M3880 588v8" stroke="#212121"/>
<path d="M3880 547h0" stroke="#212121"/>
<path d="M3880.1 629V551H3880.3V629Z" fill="#999999"/>
<path d="M3880 597v12M3880 592v17M3880 554v9M3880 571v18" stroke="#999999"/>
<path d="M3880 545h0" stroke="#999999"/>
<path d="M3880.3 629V524H3880.5V629Z" fill="#212121"/>
<path d="M3880 560v16M3881 573v15" stroke="#212121"/>
<path d="M3880 519h0m0 10h0m0-15h0" stroke="#212121"/>
<path d="M3880.5 629V551H3880.8V629Z" fill="#999999"/>
<path d="M3881 585v4M3881 553v16M3881 595v16M3881 551v9" stroke="#999999"/>
<path d="M3881 547h0" stroke="#999999"/>
<path d="M3880.8 629V566H3881V629Z" fill="#212121"/>
<path d="M3881 620v5M3881 578v6" stroke="#212121"/>
<path d="M3881 562h0" stroke="#212121"/>
<path d="M3881 629V561H3881.3V629Z" fill="#999999"/>
<path d="M3881 599v11M3881 570v7M3881 575v16M3881 590v8" stroke="#999999"/>
<path d="M3881 555h0m0-23h0" stroke="#999999"/>
<path d="M3881.3 629V558H3881.5V629Z" fill="#212121"/>
<path d="M3881 568v11M3881 598v16" stroke="#212121"/>
<path d="M3881 554h0" stroke="#212121"/>
<path d="M3881.5 629V568H3881.7V629Z" fill="#999999"/>
<path d="M3882 609v6M3882 595v12M3882 578v4M3882 597v3" stroke="#999999"/>
<path d="M3881 564h0" stroke="#999999"/>
<path d="M3881.7 629V561H3882V629Z" fill="#212121"/>
<path d="M3882 594v11M3882 580v6" stroke="#212121"/>
<path d="M3882 555h0" stroke="#212121"/>
<path d="M3882 629V563H3882.2V629Z" fill="#999999"/>
<path d="M3882 598v7M3882 583v14M3882 586v13M3882 597v7" stroke="#999999"/>
<path d="M3882 559h0" stroke="#999999"/>
<path d="M3882.2 629V555H3882.4V629Z" fill="#212121"/>
<path d="M3882 612v5M3882 554v3" stroke="#212121"/>
<path d="M3882 551h0" stroke="#212121"/>
<path d="M3882.4 629V555H3882.7V629Z" fill="#999999"/>
<path d="M3882 609v5M3883 617v10M3882 602v17M3883 618v7" stroke="#999999"/>
<path d="M3882 549h0" stroke="#999999"/>
<path d="M3882.7 629V565H3882.9V629Z" fill="#212121"/>
<path d="M3883 608v9M3883 573v4" stroke="#212121"/>
<path d="M3883 559h0" stroke="#212121"/>
<path d="M3882.9 629V549H3883.1V629Z" fill="#999999"/>
<path d="M3883 559v10M3883 620v15M3883 561v4M3883 612v15" stroke="#999999"/>
<path d="M3883 544h0" stroke="#999999"/>
<path d="M3883.1 629V556H3883.4V629Z" fill="#212121"/>
<path d="M3883 593v17M3883 557v17" stroke="#212121"/>
<path d="M3883 551h0" stroke="#212121"/>
<path d="M3883.4 629V560H3883.6V629Z" fill="#999999"/>
<path d="M3884 616v7M3883 581v11M3883 602v8M3883 581v3" stroke="#999999"/>
<path d="M3883 554h0" stroke="#999999"/>
<path d="M3883.6 629V565H3883.8V629Z" fill="#212121"/>
<path d="M3884 571v13M3884 581v17" stroke="#212121"/>
<path d="M3884 559h0" stroke="#212121"/>
<path d="M3883.8 629V570H3884.1V629Z" fill="#999999"/>
<path d="M3884 579v9M3884 581v3M3884 610v9M3884 602v6" stroke="#999999"/>
<path d="M3884 563h0" stroke="#999999"/>
<path d="M3884.1 629V568H3884.3V629Z" fill="#212121"/>
<path d="M3884 613v3M3884 590v14" stroke="#212121"/>
<path d="M3884 561h0" stroke="#212121"/>
<path d="M3884.3 629V549H3884.6V629Z" fill="#999999"/>
<path d="M3884 603v14M3884 557v5M3884 556v4M3884 603v11" stroke="#999999"/>
<path d="M3884 543h0" stroke="#999999"/>
<path d="M3884.6 629V565H3884.8V629Z" fill="#212121"/>
<path d="M3885 614v8M3885 563v3" stroke="#212121"/>
<path d="M3885 560h0" stroke="#212121"/>
<path d="M3884.8 629V552H3885V629Z" fill="#999999"/>
<path d="M3885 600v8M3885 592v9M3885 589v5M3885 574v17" stroke="#999999"/>
<path d="M3885 546h0" stroke="#999999"/>
<path d="M3885 629V551H3885.3V629Z" fill="#212121"/>
<path d="M3885 561v15M3885 549v14" stroke="#212121"/>
<path d="M3885 547h0" stroke="#212121"/>
<path d="M3885.3 629V561H3885.5V629Z" fill="#999999"/>
<path d="M3885 601v13M3885 581v9M3885 592v18M3885 599v14" stroke="#999999"/>
<path d="M3885 556h0" stroke="#999999"/>
<path d="M3885.5 629V552H3885.7V629Z" fill="#212121"/>
<path d="M3886 567v7M3886 557v15" stroke="#212121"/>
<path d="M3885 547h0" stroke="#212121"/>
<path d="M3885.7 629V561H3885.9V629Z" fill="#999999"/>
<path d="M3886 582v15M3886 568v15M3886 568v17M3886 599v5" stroke="#999999"/>
<path d="M3886 555h0" stroke="#999999"/>
<path d="M3885.9 629V567H3886.2V629Z" fill="#212121"/>
<path d="M3886 569v8M3886 573v12" stroke="#212121"/>
<path d="M3886 561h0" stroke="#212121"/>
<path d="M3886.2 629V570H3886.4V629Z" fill="#999999"/>
<path d="M3886 584v4M3886 586v15M3886 604v3M3886 597v15" stroke="#999999"/>
<path d="M3886 564h0" stroke="#999999"/>
<path d="M3886.4 629V556H3886.6V629Z" fill="#212121"/>
<path d="M3886 613v15M3886 569v16" stroke="#212121"/>
<path d="M3886 552h0" stroke="#212121"/>
<path d="M3886.6 629V566H3886.9V629Z" fill="#999999"/>
<path d="M3887 615v17M3887 566v17M3887 597v7M3887 571v15" stroke="#999999"/>
<path d="M3887 559h0" stroke="#999999"/>
<path d="M3886.9 629V571H3887.1V629Z" fill="#212121"/>
<path d="M3887 607v7M3887 577v15" stroke="#212121"/>
<path d="M3887 566h0" stroke="#212121"/>
<path d="M3887.1 629V560H3887.3V629Z" fill="#999999"/>
<path d="M3887 605v9M3887 616v6M3887 611v8M3887 579v6" stroke="#999999"/>
<path d="M3887 554h0" stroke="#999999"/>
<path d="M3887.3 629V549H3887.6V629Z" fill="#212121"/>
<path d="M3887 594v5M3887 606v7" stroke="#212121"/>
<path d="M3887 544h0" stroke="#212121"/>
<path d="M3887.6 629V567H3887.8V629Z" fill="#999999"/>
<path d="M3888 600v14M3888 564v15M3888 577v6M3888 584v11" stroke="#999999"/>
<path d="M3888 560h0" stroke="#999999"/>
<path d="M3887.8 629V552H3888V629Z" fill="#212121"/>
<path d="M3888 550v15M3888 597v6" stroke="#212121"/>
<path d="M3888 546h0" stroke="#212121"/>
<path d="M3888 629V555H3888.3V629Z" fill="#999999"/>
<path d="M3888 574v16M3888 608v17M3888 582v7M3888 597v14" stroke="#999999"/>
<path d="M3888 549h0m0-9h0m0 5h0m0-6h0m0-6h0m0-8h0m0-11h0m1-4h0m-1-8h0" stroke="#999999"/>
<path d="M3888.3 629V562H3888.5V629Z" fill="#212121"/>
<path d="M3888 601v4M3888 583v14" stroke="#212121"/>
<path d="M3888 557h0" stroke="#212121"/>
<path d="M3888.5 629V562H3888.7V629Z" fill="#999999"/>
<path d="M3889 601v6M3889 576v10M3889 580v17M3888 604v16" stroke="#999999"/>
<path d="M3888 557h0m1-4h0m-1-10h0m0-10h0" stroke="#999999"/>
<path d="M3888.7 629V551H3888.9V629Z" fill="#212121"/>
<path d="M3889 564v5M3889 560v17" stroke="#212121"/>
<path d="M3889 547h0" stroke="#212121"/>
<path d="M3888.9 629V565H3889.2V629Z" fill="#999999"/>
<path d="M3889 611v18M3889 574v7M3889 591v13M3889 588v10" stroke="#999999"/>
<path d="M3889 560h0" stroke="#999999"/>
<path d="M3889.2 629V557H3889.4V629Z" fill="#212121"/>
<path d="M3889 600v6M3889 616v4" stroke="#212121"/>
<path d="M3889 550h0" stroke="#212121"/>
<path d="M3889.4 629V565H3889.6V629Z" fill="#999999"/>
<path d="M3890 574v13M3889 614v4M3889 588v7M3890 598v17" stroke="#999999"/>
<path d="M3889 560h0m0-46h0" stroke="#999999"/>
<path d="M3889.6 629V553H3889.9V629Z" fill="#212121"/>
<path d="M3890 557v17M3890 602v11" stroke="#212121"/>
<path d="M3890 549h0" stroke="#212121"/>
<path d="M3889.9 629V568H3890.1V629Z" fill="#999999"/>
<path d="M3890 621v15M3890 592v12M3890 573v10M3890 600v12" stroke="#999999"/>
<path d="M3890 563h0" stroke="#999999"/>
<path d="M3890.1 629V563H3890.3V629Z" fill="#212121"/>
<path d="M3890 613v14M3890 584v5" stroke="#212121"/>
<path d="M3890 559h0" stroke="#212121"/>
<path d="M3890.3 629V568H3890.5V629Z" fill="#999999"/>
<path d="M3890 597v9M3890 614v14M3891 596v16M3890 591v12" stroke="#999999"/>
<path d="M3890 562h0m1-4h0m0-8h0" stroke="#999999"/>
<path d="M3890.5 629V567H3890.8V629Z" fill="#212121"/>
<path d="M3891 566v15M3891 613v3" stroke="#212121"/>
<path d="M3891 561h0m0-30h0" stroke="#212121"/>
<path d="M3890.8 629V567H3891V629Z" fill="#999999"/>
<path d="M3891 594v16M3891 613v16M3891 577v14M3891 576v5" stroke="#999999"/>
<path d="M3891 561h0" stroke="#999999"/>
<path d="M3891 629V567H3891.2V629Z" fill="#212121"/>
<path d="M3891 566v13M3891 614v12" stroke="#212121"/>
<path d="M3891 560h0" stroke="#212121"/>
<path d="M3891.2 629V555H3891.4V629Z" fill="#999999"/>
<path d="M3891 591v16M3891 556v10M3891 569v17M3891 559v9" stroke="#999999"/>
<path d="M3891 551h0" stroke="#999999"/>
<path d="M3891.4 629V549H3891.7V629Z" fill="#212121"/>
<path d="M3892 565v6M3892 567v16" stroke="#212121"/>
<path d="M3891 544h0m1-21h0" stroke="#212121"/>
<path d="M3891.7 629V557H3891.9V629Z" fill="#999999"/>
<path d="M3892 617v4M3892 553v12M3892 612v15M3892 585v6" stroke="#999999"/>
<path d="M3892 552h0m1-5h0m-1-7h0" stroke="#999999"/>
<path d="M3891.9 629V554H3892.1V629Z" fill="#212121"/>
<path d="M3892 608v17M3892 598v3" stroke="#212121"/>
<path d="M3892 550h0" stroke="#212121"/>
<path d="M3892.1 629V562H3892.4V629Z" fill="#999999"/>
<path d="M3892 592v12M3892 588v4M3892 610v12M3892 569v14" stroke="#999999"/>
<path d="M3892 558h0m0-27h0" stroke="#999999"/>
<path d="M3892.4 629V556H3892.6V629Z" fill="#212121"/>
<path d="M3892 596v9M3892 565v14" stroke="#212121"/>
<path d="M3892 550h0" stroke="#212121"/>
<path d="M3892.6 629V560H3892.8V629Z" fill="#999999"/>
<path d="M3893 619v18M3893 612v14M3893 568v8M3893 601v15" stroke="#999999"/>
<path d="M3893 554h0" stroke="#999999"/>
<path d="M3892.8 629V570H3893V629Z" fill="#212121"/>
<path d="M3893 576v16M3893 599v7" stroke="#212121"/>
<path d="M3893 565h0" stroke="#212121"/>
<path d="M3893 629V550H3893.2V629Z" fill="#999999"/>
<path d="M3893 590v4M3893 571v7M3893 548v5M3893 608v11" stroke="#999999"/>
<path d="M3893 544h0" stroke="#999999"/>
<path d="M3893.2 629V570H3893.5V629Z" fill="#212121"/>
<path d="M3893 617v5M3893 569v4" stroke="#212121"/>
<path d="M3893 566h0" stroke="#212121"/>
<path d="M3893.5 629V558H3893.7V629Z" fill="#999999"/>
<path d="M3894 607v17M3894 604v10M3894 607v11M3894 598v15" stroke="#999999"/>
<path d="M3893 553h0" stroke="#999999"/>
<path d="M3893.7 629V555H3893.9V629Z" fill="#212121"/>
<path d="M3894 594v6M3894 562v8" stroke="#212121"/>
<path d="M3894 548h0" stroke="#212121"/>
<path d="M3893.9 629V558H3894.1V629Z" fill="#999999"/>
<path d="M3894 575v15M3894 608v9M3894 559v11M3894 590v8" stroke="#999999"/>
<path d="M3894 554h0" stroke="#999999"/>
<path d="M3894.1 629V555H3894.4V629Z" fill="#212121"/>
<path d="M3894 609v16M3894 592v7" stroke="#212121"/>
<path d="M3894 549h0" stroke="#212121"/>
<path d="M3894.4 629V556H3894.6V629Z" fill="#999999"/>
<path d="M3894 554v3M3895 601v5M3894 571v17M3894 581v8" stroke="#999999"/>
<path d="M3894 551h0m0-40h0" stroke="#999999"/>
<path d="M3894.6 629V559H3894.8V629Z" fill="#212121"/>
<path d="M3895 592v15M3895 616v16" stroke="#212121"/>
<path d="M3895 553h0m0-23h0" stroke="#212121"/>
<path d="M3894.8 629V564H3895V629Z" fill="#999999"/>
<path d="M3895 576v15M3895 566v5M3895 574v6M3895 605v17" stroke="#999999"/>
<path d="M3895 557h0" stroke="#999999"/>
<path d="M3895 629V568H3895.3V629Z" fill="#212121"/>
<path d="M3895 618v4M3895 611v16" stroke="#212121"/>
<path d="M3895 563h0" stroke="#212121"/>
<path d="M3895.3 629V566H3895.5V629Z" fill="#999999"/>
<path d="M3895 568v17M3895 601v15M3895 579v8M3895 579v4" stroke="#999999"/>
<path d="M3895 561h0" stroke="#999999"/>
<path d="M3895.5 629V553H3895.7V629Z" fill="#212121"/>
<path d="M3896 597v5M3896 602v12" stroke="#212121"/>
<path d="M3895 548h0" stroke="#212121"/>
<path d="M3895.7 629V565H3895.9V629Z" fill="#999999"/>
<path d="M3896 587v8M3896 565v17M3896 603v8M3896 587v7" stroke="#999999"/>
<path d="M3896 559h0m0-63h0" stroke="#999999"/>
<path d="M3895.9 629V560H3896.1V629Z" fill="#212121"/>
<path d="M3896 604v9M3896 611v18" stroke="#212121"/>
<path d="M3896 555h0" stroke="#212121"/>
<path d="M3896.1 629V568H3896.4V629Z" fill="#999999"/>
<path d="M3896 570v16M3896 602v15M3896 597v14M3896 601v13" stroke="#999999"/>
<path d="M3896 562h0" stroke="#999999"/>
<path d="M3896.4 629V569H3896.6V629Z" fill="#212121"/>
<path d="M3897 621v3M3897 570v16" stroke="#212121"/>
<path d="M3896 563h0" stroke="#212121"/>
<path d="M3896.6 629V560H3896.8V629Z" fill="#999999"/>
<path d="M3897 567v12M3897 559v4M3897 580v15M3897 579v13" stroke="#999999"/>
<path d="M3897 554h0" stroke="#999999"/>
<path d="M3896.8 629V557H3897V629Z" fill="#212121"/>
<path d="M3897 560v9M3897 615v7" stroke="#212121"/>
<path d="M3897 552h0m1-5h0" stroke="#212121"/>
<path d="M3897 629V569H3897.2V629Z" fill="#999999"/>
<path d="M3897 565v5M3897 598v16M3897 606v17M3897 577v10" stroke="#999999"/>
<path d="M3897 562h0" stroke="#999999"/>
<path d="M3897.2 629V567H3897.5V629Z" fill="#212121"/>
<path d="M3897 621v7M3897 591v12" stroke="#212121"/>
<path d="M3897 562h0" stroke="#212121"/>
<path d="M3897.5 629V557H3897.7V629Z" fill="#999999"/>
<path d="M3898 559v15M3898 570v14M3898 582v4M3898 568v16" stroke="#999999"/>
<path d="M3897 552h0" stroke="#999999"/>
<path d="M3897.7 629V570H3897.9V629Z" fill="#212121"/>
<path d="M3898 589v12M3898 578v15" stroke="#212121"/>
<path d="M3898 564h0" stroke="#212121"/>
<path d="M3897.9 629V559H3898.1V629Z" fill="#999999"/>
<path d="M3898 607v11M3898 568v18M3898 583v16M3898 567v11" stroke="#999999"/>
<path d="M3898 555h0" stroke="#999999"/>
<path d="M3898.1 629V566H3898.3V629Z" fill="#212121"/>
<path d="M3898 617v15M3898 596v17" stroke="#212121"/>
<path d="M3898 560h0" stroke="#212121"/>
<path d="M3898.3 629V561H3898.6V629Z" fill="#999999"/>
<path d="M3898 571v9M3899 560v14M3898 575v14M3898 561v6" stroke="#999999"/>
<path d="M3898 557h0" stroke="#999999"/>
<path d="M3898.6 629V563H3898.8V629Z" fill="#212121"/>
<path d="M3899 561v12M3899 597v3" stroke="#212121"/>
<path d="M3899 559h0m0-6h0m0-8h0m-1-10h0" stroke="#212121"/>
<path d="M3898.8 629V567H3899V629Z" fill="#999999"/>
<path d="M3899 600v12M3899 605v17M3899 587v8M3899 619v10" stroke="#999999"/>
<path d="M3899 562h0" stroke="#999999"/>
<path d="M3899 629V562H3899.2V629Z" fill="#212121"/>
<path d="M3899 601v7M3899 588v12" stroke="#212121"/>
<path d="M3899 556h0" stroke="#212121"/>
<path d="M3899.2 629V566H3899.4V629Z" fill="#999999"/>
<path d="M3899 610v18M3899 588v14M3899 575v7M3899 600v7" stroke="#999999"/>
<path d="M3899 561h0" stroke="#999999"/>
<path d="M3899.4 629V555H3899.7V629Z" fill="#212121"/>
<path d="M3899 566v14M3900 554v8" stroke="#212121"/>
<path d="M3899 549h0" stroke="#212121"/>
<path d="M3899.7 629V569H3899.9V629Z" fill="#999999"/>
<path d="M3900 606v8M3900 596v10M3900 595v12M3900 572v11" stroke="#999999"/>
<path d="M3900 565h0m0-49h0" stroke="#999999"/>
<path d="M3899.9 629V561H3900.1V629Z" fill="#212121"/>
<path d="M3900 601v18M3900 611v18" stroke="#212121"/>
<path d="M3900 557h0" stroke="#212121"/>
<path d="M3900.1 629V550H3900.3V629Z" fill="#999999"/>
<path d="M3900 578v6M3900 555v10M3900 550v18M3900 599v6" stroke="#999999"/>
<path d="M3900 543h0" stroke="#999999"/>
<path d="M3900.3 629V564H3900.5V629Z" fill="#212121"/>
<path d="M3900 593v7M3900 602v10" stroke="#212121"/>
<path d="M3900 560h0" stroke="#212121"/>
<path d="M3900.5 629V551H3900.7V629Z" fill="#999999"/>
<path d="M3901 577v11M3901 589v10M3901 587v8M3901 587v4" stroke="#999999"/>
<path d="M3901 544h0" stroke="#999999"/>
<path d="M3900.7 629V549H3901V629Z" fill="#212121"/>
<path d="M3901 587v15M3901 590v17" stroke="#212121"/>
<path d="M3901 545h0" stroke="#212121"/>
<path d="M3901 629V558H3901.2V629Z" fill="#999999"/>
<path d="M3901 614v18M3901 567v13M3901 588v4M3901 609v14" stroke="#999999"/>
<path d="M3901 551h0" stroke="#999999"/>
<path d="M3901.2 629V567H3901.4V629Z" fill="#212121"/>
<path d="M3901 595v11M3901 598v13" stroke="#212121"/>
<path d="M3901 562h0m1-6h0m0-9h0m-1-6h0m1-10h0" stroke="#212121"/>
<path d="M3901.4 629V550H3901.6V629Z" fill="#999999"/>
<path d="M3901 595v4M3901 564v18M3901 621v14M3901 610v13" stroke="#999999"/>
<path d="M3901 545h0" stroke="#999999"/>
<path d="M3901.6 629V549H3901.8V629Z" fill="#212121"/>
<path d="M3902 555v4M3902 555v16" stroke="#212121"/>
<path d="M3902 545h0" stroke="#212121"/>
<path d="M3901.8 629V551H3902V629Z" fill="#999999"/>
<path d="M3902 576v8M3902 591v7M3902 549v10M3902 608v4" stroke="#999999"/>
<path d="M3902 545h0" stroke="#999999"/>
<path d="M3902 629V549H3902.2V629Z" fill="#212121"/>
<path d="M3902 546v15M3902 603v6" stroke="#212121"/>
<path d="M3902 543h0" stroke="#212121"/>
<path d="M3902.2 629V553H3902.5V629Z" fill="#999999"/>
<path d="M3902 548v10M3902 602v6M3902 584v15M3902 593v9" stroke="#999999"/>
<path d="M3902 549h0" stroke="#999999"/>
<path d="M3902.5 629V560H3902.7V629Z" fill="#212121"/>
<path d="M3903 602v9M3903 567v13" stroke="#212121"/>
<path d="M3902 554h0" stroke="#212121"/>
<path d="M3902.7 629V558H3902.9V629Z" fill="#999999"/>
<path d="M3903 593v3M3903 590v11M3903 587v7M3903 609v17" stroke="#999999"/>
<path d="M3903 552h0" stroke="#999999"/>
<path d="M3902.9 629V557H3903.1V629Z" fill="#212121"/>
<path d="M3903 577v11M3903 564v11" stroke="#212121"/>
<path d="M3903 552h0" stroke="#212121"/>
<path d="M3903.1 629V560H3903.3V629Z" fill="#999999"/>
<path d="M3903 610v14M3903 594v15M3903 575v14M3903 557v3" stroke="#999999"/>
<path d="M3903 554h0m0-20h0m0 17h0" stroke="#999999"/>
<path d="M3903.3 629V567H3903.5V629Z" fill="#212121"/>
<path d="M3903 568v9M3903 583v15" stroke="#212121"/>
<path d="M3903 560h0m0-25h0m1-33h0" stroke="#212121"/>
<path d="M3903.5 629V557H3903.7V629Z" fill="#999999"/>
<path d="M3904 553v14M3904 613v7M3904 557v9M3904 556v13" stroke="#999999"/>
<path d="M3904 553h0" stroke="#999999"/>
<path d="M3903.7 629V559H3904V629Z" fill="#212121"/>
<path d="M3904 578v13M3904 556v5" stroke="#212121"/>
<path d="M3904 553h0" stroke="#212121"/>
<path d="M3904 629V556H3904.2V629Z" fill="#999999"/>
<path d="M3904 616v10M3904 575v3M3904 579v15M3904 605v11" stroke="#999999"/>
<path d="M3904 551h0m0-10h0m0-4h0m0 1h0m1 8h0m0-7h0" stroke="#999999"/>
<path d="M3904.2 629V551H3904.4V629Z" fill="#212121"/>
<path d="M3904 562v14M3904 574v10" stroke="#212121"/>
<path d="M3904 546h0" stroke="#212121"/>
<path d="M3904.4 629V552H3904.6V629Z" fill="#999999"/>
<path d="M3905 576v15M3904 577v16M3904 610v5M3905 620v9" stroke="#999999"/>
<path d="M3904 547h0" stroke="#999999"/>
<path d="M3904.6 629V566H3904.8V629Z" fill="#212121"/>
<path d="M3905 604v13M3905 598v10" stroke="#212121"/>
<path d="M3905 561h0" stroke="#212121"/>
<path d="M3904.8 629V567H3905V629Z" fill="#999999"/>
<path d="M3905 611v5M3905 588v12M3905 616v16M3905 600v5" stroke="#999999"/>
<path d="M3905 564h0" stroke="#999999"/>
<path d="M3905 629V565H3905.2V629Z" fill="#212121"/>
<path d="M3905 603v11M3905 606v17" stroke="#212121"/>
<path d="M3905 561h0" stroke="#212121"/>
<path d="M3905.2 629V554H3905.4V629Z" fill="#999999"/>
<path d="M3905 557v13M3905 598v11M3905 554v12M3905 571v9" stroke="#999999"/>
<path d="M3905 548h0" stroke="#999999"/>
<path d="M3905.4 629V550H3905.7V629Z" fill="#212121"/>
<path d="M3906 578v13M3905 606v7" stroke="#212121"/>
<path d="M3905 545h0" stroke="#212121"/>
<path d="M3905.7 629V565H3905.9V629Z" fill="#999999"/>
<path d="M3906 588v11M3906 575v17M3906 614v12M3906 572v3" stroke="#999999"/>
<path d="M3906 562h0" stroke="#999999"/>
<path d="M3905.9 629V552H3906.1V629Z" fill="#212121"/>
<path d="M3906 617v8M3906 565v13" stroke="#212121"/>
<path d="M3906 547h0" stroke="#212121"/>
<path d="M3906.1 629V555H3906.3V629Z" fill="#999999"/>
<path d="M3906 559v14M3906 555v18M3906 551v6M3906 585v17" stroke="#999999"/>
<path d="M3906 550h0" stroke="#999999"/>
<path d="M3906.3 629V553H3906.5V629Z" fill="#212121"/>
<path d="M3906 552v11M3906 557v6" stroke="#212121"/>
<path d="M3906 546h0" stroke="#212121"/>
<path d="M3906.5 629V568H3906.7V629Z" fill="#999999"/>
<path d="M3907 601v6M3907 597v5M3907 578v7M3907 598v11" stroke="#999999"/>
<path d="M3907 562h0" stroke="#999999"/>
<path d="M3906.7 629V567H3906.9V629Z" fill="#212121"/>
<path d="M3907 599v14M3907 564v11" stroke="#212121"/>
<path d="M3907 560h0" stroke="#212121"/>
<path d="M3906.9 629V556H3907.1V629Z" fill="#999999"/>
<path d="M3907 618v13M3907 551v17M3907 559v4M3907 562v6" stroke="#999999"/>
<path d="M3907 551h0" stroke="#999999"/>
<path d="M3907.1 629V562H3907.3V629Z" fill="#212121"/>
<path d="M3907 605v17M3907 618v13" stroke="#212121"/>
<path d="M3907 558h0" stroke="#212121"/>
<path d="M3907.3 629V563H3907.6V629Z" fill="#999999"/>
<path d="M3907 569v3M3907 565v8M3907 590v16M3907 614v15" stroke="#999999"/>
<path d="M3907 558h0m1-4h0m0-10h0m0-10h0m-1-8h0m1-6h0m-1-7h0m0-8h0m0-8h0m0-10h0m1-5h0" stroke="#999999"/>
<path d="M3907.6 629V551H3907.8V629Z" fill="#212121"/>
<path d="M3908 555v14M3908 553v14" stroke="#212121"/>
<path d="M3908 546h0" stroke="#212121"/>
<path d="M3907.8 629V566H3908V629Z" fill="#999999"/>
<path d="M3908 590v16M3908 596v6M3908 569v16M3908 564v3" stroke="#999999"/>
<path d="M3908 560h0m0-20h0" stroke="#999999"/>
<path d="M3908 629V571H3908.2V629Z" fill="#212121"/>
<path d="M3908 591v9M3908 574v11" stroke="#212121"/>
<path d="M3908 566h0" stroke="#212121"/>
<path d="M3908.2 629V565H3908.4V629Z" fill="#999999"/>
<path d="M3908 564v6M3908 577v7M3908 595v9M3908 621v12" stroke="#999999"/>
<path d="M3908 560h0" stroke="#999999"/>
<path d="M3908.4 629V551H3908.6V629Z" fill="#212121"/>
<path d="M3908 604v6M3908 620v6" stroke="#212121"/>
<path d="M3908 545h0" stroke="#212121"/>
<path d="M3908.6 629V558H3908.8V629Z" fill="#999999"/>
<path d="M3909 608v13M3909 590v13M3909 620v8M3909 617v12" stroke="#999999"/>
<path d="M3909 552h0" stroke="#999999"/>
<path d="M3908.8 629V561H3909V629Z" fill="#212121"/>
<path d="M3909 589v16M3909 615v13" stroke="#212121"/>
<path d="M3909 555h0" stroke="#212121"/>
<path d="M3909 629V564H3909.2V629Z" fill="#999999"/>
<path d="M3909 580v6M3909 617v9M3909 609v5M3909 612v6" stroke="#999999"/>
<path d="M3909 558h0m-1-3h0m1-6h0m0-7h0m1-5h0m-1-7h0m1-5h0m-1-11h0m0-5h0m1-9h0" stroke="#999999"/>
<path d="M3909.2 629V552H3909.4V629Z" fill="#212121"/>
<path d="M3909 576v16M3909 609v10" stroke="#212121"/>
<path d="M3909 548h0m0-18h0" stroke="#212121"/>
<path d="M3909.4 629V557H3909.6V629Z" fill="#999999"/>
<path d="M3910 599v10M3910 563v15M3909 572v15M3909 592v15" stroke="#999999"/>
<path d="M3909 551h0m1-5h0m0-9h0m-1-8h0m1-6h0m0-5h0m0-11h0m0-4h0" stroke="#999999"/>
<path d="M3909.6 629V553H3909.8V629Z" fill="#212121"/>
<path d="M3910 594v13M3910 618v5" stroke="#212121"/>
<path d="M3910 548h0" stroke="#212121"/>
<path d="M3909.8 629V557H3910.1V629Z" fill="#999999"/>
<path d="M3910 619v3M3910 554v11M3910 558v4M3910 614v15" stroke="#999999"/>
<path d="M3910 552h0" stroke="#999999"/>
<path d="M3910.1 629V552H3910.3V629Z" fill="#212121"/>
<path d="M3910 615v17M3910 611v16" stroke="#212121"/>
<path d="M3910 547h0m0-18h0" stroke="#212121"/>
<path d="M3910.3 629V560H3910.5V629Z" fill="#999999"/>
<path d="M3910 557v13M3910 563v7M3910 594v11M3910 586v11" stroke="#999999"/>
<path d="M3910 555h0" stroke="#999999"/>
<path d="M3910.5 629V550H3910.7V629Z" fill="#212121"/>
<path d="M3911 559v13M3911 548v15" stroke="#212121"/>
<path d="M3910 545h0m1-4h0m0-2h0m-1-8h0m0-6h0m1-4h0m0-5h0" stroke="#212121"/>
<path d="M3910.7 629V571H3910.9V629Z" fill="#999999"/>
<path d="M3911 578v11M3911 612v6M3911 572v17M3911 588v8" stroke="#999999"/>
<path d="M3911 567h0m0-26h0m0 22h0" stroke="#999999"/>
<path d="M3910.9 629V568H3911.1V629Z" fill="#212121"/>
<path d="M3911 574v9M3911 597v6" stroke="#212121"/>
<path d="M3911 564h0" stroke="#212121"/>
<path d="M3911.1 629V560H3911.3V629Z" fill="#999999"/>
<path d="M3911 587v17M3911 610v11M3911 574v9M3911 567v12" stroke="#999999"/>
<path d="M3911 555h0" stroke="#999999"/>
<path d="M3911.3 629V561H3911.5V629Z" fill="#212121"/>
<path d="M3911 560v15M3911 587v15" stroke="#212121"/>
<path d="M3911 556h0" stroke="#212121"/>
<path d="M3911.5 629V560H3911.7V629Z" fill="#999999"/>
<path d="M3912 595v4M3912 588v12M3912 572v4M3912 612v3" stroke="#999999"/>
<path d="M3911 554h0" stroke="#999999"/>
<path d="M3911.7 629V561H3911.9V629Z" fill="#212121"/>
<path d="M3912 568v12M3912 608v8" stroke="#212121"/>
<path d="M3912 556h0" stroke="#212121"/>
<path d="M3911.9 629V569H3912.1V629Z" fill="#999999"/>
<path d="M3912 616v7M3912 596v16M3912 567v5M3912 590v10" stroke="#999999"/>
<path d="M3912 565h0" stroke="#999999"/>
<path d="M3912.1 629V566H3912.3V629Z" fill="#212121"/>
<path d="M3912 594v11M3912 565v12" stroke="#212121"/>
<path d="M3912 562h0" stroke="#212121"/>
<path d="M3912.3 629V558H3912.5V629Z" fill="#999999"/>
<path d="M3912 567v13M3912 618v5M3912 609v11M3912 585v6" stroke="#999999"/>
<path d="M3912 552h0" stroke="#999999"/>
<path d="M3912.5 629V551H3912.7V629Z" fill="#212121"/>
<path d="M3913 547v11M3913 595v16" stroke="#212121"/>
<path d="M3913 546h0" stroke="#212121"/>
<path d="M3912.7 629V553H3912.9V629Z" fill="#999999"/>
<path d="M3913 581v15M3913 586v6M3913 618v12M3913 621v13" stroke="#999999"/>
<path d="M3913 548h0" stroke="#999999"/>
<path d="M3912.9 629V550H3913.1V629Z" fill="#212121"/>
<path d="M3913 586v16M3913 581v10" stroke="#212121"/>
<path d="M3913 545h0" stroke="#212121"/>
<path d="M3913.1 629V559H3913.3V629Z" fill="#999999"/>
<path d="M3913 607v6M3913 584v8M3913 615v16M3913 591v18" stroke="#999999"/>
<path d="M3913 555h0" stroke="#999999"/>
<path d="M3913.3 629V550H3913.5V629Z" fill="#212121"/>
<path d="M3913 607v4M3913 573v15" stroke="#212121"/>
<path d="M3913 544h0" stroke="#212121"/>
<path d="M3913.5 629V569H3913.7V629Z" fill="#999999"/>
<path d="M3914 580v16M3914 620v4M3914 613v18M3914 589v18" stroke="#999999"/>
<path d="M3914 564h0" stroke="#999999"/>
<path d="M3913.7 629V549H3914V629Z" fill="#212121"/>
<path d="M3914 549v11M3914 572v15" stroke="#212121"/>
<path d="M3914 543h0" stroke="#212121"/>
<path d="M3914 629V569H3914.2V629Z" fill="#999999"/>
<path d="M3914 579v11M3914 568v7M3914 568v17M3914 567v11" stroke="#999999"/>
<path d="M3914 564h0" stroke="#999999"/>
<path d="M3914.2 629V558H3914.4V629Z" fill="#212121"/>
<path d="M3914 587v16M3914 585v6" stroke="#212121"/>
<path d="M3914 551h0" stroke="#212121"/>
<path d="M3914.4 629V569H3914.6V629Z" fill="#999999"/>
<path d="M3914 608v10M3915 605v7M3915 620v5M3914 596v4" stroke="#999999"/>
<path d="M3914 563h0m1-64h0m-1 38h0" stroke="#999999"/>
<path d="M3914.6 629V565H3914.8V629Z" fill="#212121"/>
<path d="M3915 610v4M3915 585v8" stroke="#212121"/>
<path d="M3915 559h0" stroke="#212121"/>
<path d="M3914.8 629V560H3915V629Z" fill="#999999"/>
<path d="M3915 570v15M3915 580v5M3915 583v17M3915 573v10" stroke="#999999"/>
<path d="M3915 555h0m0-18h0" stroke="#999999"/>
<path d="M3915 629V563H3915.2V629Z" fill="#212121"/>
<path d="M3915 571v9M3915 580v10" stroke="#212121"/>
<path d="M3915 558h0" stroke="#212121"/>
<path d="M3915.2 629V562H3915.4V629Z" fill="#999999"/>
<path d="M3915 576v10M3915 617v16M3915 613v4M3915 599v10" stroke="#999999"/>
<path d="M3915 556h0" stroke="#999999"/>
<path d="M3915.4 629V550H3915.6V629Z" fill="#212121"/>
<path d="M3915 594v17M3916 552v7" stroke="#212121"/>
<path d="M3915 544h0" stroke="#212121"/>
<path d="M3915.6 629V563H3915.8V629Z" fill="#999999"/>
<path d="M3916 562v3M3916 596v6M3916 590v7M3916 568v16" stroke="#999999"/>
<path d="M3916 559h0" stroke="#999999"/>
<path d="M3915.8 629V565H3916V629Z" fill="#212121"/>
<path d="M3916 583v15M3916 610v13" stroke="#212121"/>
<path d="M3916 558h0" stroke="#212121"/>
<path d="M3916 629V560H3916.2V629Z" fill="#999999"/>
<path d="M3916 618v12M3916 571v12M3916 619v8M3916 563v11" stroke="#999999"/>
<path d="M3916 556h0m-1-5h0m1-8h0m0-6h0m0-4h0" stroke="#999999"/>
<path d="M3916.2 629V533H3916.4V629Z" fill="#212121"/>
<path d="M3916 603v12M3916 571v10" stroke="#212121"/>
<path d="M3916 527h0" stroke="#212121"/>
<path d="M3916.4 629V569H3916.6V629Z" fill="#999999"/>
<path d="M3916 569v10M3916 584v4M3917 566v5M3916 602v14" stroke="#999999"/>
<path d="M3916 563h0" stroke="#999999"/>
<path d="M3916.6 629V556H3916.8V629Z" fill="#212121"/>
<path d="M3917 604v9M3917 558v5" stroke="#212121"/>
<path d="M3917 550h0" stroke="#212121"/>
<path d="M3916.8 629V550H3917V629Z" fill="#999999"/>
<path d="M3917 555v16M3917 616v14M3917 594v16M3917 556v14" stroke="#999999"/>
<path d="M3917 545h0m0-5h0" stroke="#999999"/>
<path d="M3917 629V555H3917.2V629Z" fill="#212121"/>
<path d="M3917 564v13M3917 618v6" stroke="#212121"/>
<path d="M3917 549h0" stroke="#212121"/>
<path d="M3917.2 629V561H3917.4V629Z" fill="#999999"/>
<path d="M3917 590v14M3917 569v9M3917 601v13M3917 618v14" stroke="#999999"/>
<path d="M3917 555h0" stroke="#999999"/>
<path d="M3917.4 629V553H3917.6V629Z" fill="#212121"/>
<path d="M3918 603v11M3918 583v15" stroke="#212121"/>
<path d="M3917 547h0" stroke="#212121"/>
<path d="M3917.6 629V559H3917.8V629Z" fill="#999999"/>
<path d="M3918 618v5M3918 588v12M3918 557v16M3918 561v6" stroke="#999999"/>
<path d="M3918 554h0" stroke="#999999"/>
<path d="M3917.8 629V557H3918V629Z" fill="#212121"/>
<path d="M3918 612v8M3918 612v17" stroke="#212121"/>
<path d="M3918 553h0" stroke="#212121"/>
<path d="M3918 629V569H3918.2V629Z" fill="#999999"/>
<path d="M3918 581v9M3918 587v16M3918 594v16M3918 609v6" stroke="#999999"/>
<path d="M3918 564h0" stroke="#999999"/>
<path d="M3918.2 629V561H3918.4V629Z" fill="#212121"/>
<path d="M3918 604v4M3918 557v5" stroke="#212121"/>
<path d="M3918 556h0" stroke="#212121"/>
<path d="M3918.4 629V560H3918.6V629Z" fill="#999999"/>
<path d="M3918 588v12M3919 573v7M3919 580v15M3918 600v14" stroke="#999999"/>
<path d="M3918 556h0m0-56h0" stroke="#999999"/>
<path d="M3918.6 629V565H3918.8V629Z" fill="#212121"/>
<path d="M3919 576v9M3919 581v14" stroke="#212121"/>
<path d="M3919 560h0m0-5h0m0-5h0m1-11h0" stroke="#212121"/>
<path d="M3918.8 629V566H3919V629Z" fill="#999999"/>
<path d="M3919 614v13M3919 597v9M3919 590v10M3919 569v8" stroke="#999999"/>
<path d="M3919 561h0" stroke="#999999"/>
<path d="M3919 629V558H3919.2V629Z" fill="#212121"/>
<path d="M3919 567v4M3919 570v6" stroke="#212121"/>
<path d="M3919 554h0m0-30h0" stroke="#212121"/>
<path d="M3919.2 629V559H3919.4V629Z" fill="#999999"/>
<path d="M3919 558v12M3919 571v11M3919 581v8M3919 593v13" stroke="#999999"/>
<path d="M3919 553h0" stroke="#999999"/>
<path d="M3919.4 629V565H3919.6V629Z" fill="#212121"/>
<path d="M3919 579v6M3919 585v6" stroke="#212121"/>
<path d="M3919 559h0" stroke="#212121"/>
<path d="M3919.6 629V562H3919.8V629Z" fill="#999999"/>
<path d="M3920 571v4M3920 557v14M3920 579v7M3920 584v6" stroke="#999999"/>
<path d="M3920 558h0" stroke="#999999"/>
<path d="M3919.8 629V555H3920V629Z" fill="#212121"/>
<path d="M3920 601v14M3920 578v16" stroke="#212121"/>
<path d="M3920 550h0" stroke="#212121"/>
<path d="M3920 629V568H3920.2V629Z" fill="#999999"/>
<path d="M3920 620v4M3920 617v5M3920 579v14M3920 604v6" stroke="#999999"/>
<path d="M3920 563h0" stroke="#999999"/>
<path d="M3920.2 629V552H3920.4V629Z" fill="#212121"/>
<path d="M3920 551v6M3920 571v18" stroke="#212121"/>
<path d="M3920 548h0m0-8h0" stroke="#212121"/>
<path d="M3920.4 629V558H3920.6V629Z" fill="#999999"/>
<path d="M3920 579v13M3920 598v7M3921 599v8M3921 559v6" stroke="#999999"/>
<path d="M3920 552h0" stroke="#999999"/>
<path d="M3920.6 629V567H3920.8V629Z" fill="#212121"/>
<path d="M3921 576v12M3921 608v17" stroke="#212121"/>
<path d="M3921 562h0" stroke="#212121"/>
<path d="M3920.8 629V557H3921V629Z" fill="#999999"/>
<path d="M3921 571v15M3921 572v5M3921 595v6M3921 577v5" stroke="#999999"/>
<path d="M3921 552h0" stroke="#999999"/>
<path d="M3921 629V567H3921.2V629Z" fill="#212121"/>
<path d="M3921 579v6M3921 605v14" stroke="#212121"/>
<path d="M3921 560h0" stroke="#212121"/>
<path d="M3921.2 629V551H3921.4V629Z" fill="#999999"/>
<path d="M3921 584v7M3921 551v10M3921 568v7M3921 548v9" stroke="#999999"/>
<path d="M3921 547h0" stroke="#999999"/>
<path d="M3921.4 629V567H3921.5V629Z" fill="#212121"/>
<path d="M3922 609v5M3922 574v6" stroke="#212121"/>
<path d="M3921 563h0" stroke="#212121"/>
<path d="M3921.5 629V554H3921.7V629Z" fill="#999999"/>
<path d="M3922 602v13M3922 618v15M3922 609v11M3922 553v10" stroke="#999999"/>
<path d="M3922 548h0" stroke="#999999"/>
<path d="M3921.7 629V566H3921.9V629Z" fill="#212121"/>
<path d="M3922 565v13M3922 588v14" stroke="#212121"/>
<path d="M3922 561h0" stroke="#212121"/>
<path d="M3921.9 629V550H3922.1V629Z" fill="#999999"/>
<path d="M3922 601v13M3922 603v5M3922 564v10M3922 581v13" stroke="#999999"/>
<path d="M3922 546h0" stroke="#999999"/>
<path d="M3922.1 629V556H3922.3V629Z" fill="#212121"/>
<path d="M3922 583v18M3922 611v13" stroke="#212121"/>
<path d="M3922 550h0" stroke="#212121"/>
<path d="M3922.3 629V555H3922.5V629Z" fill="#999999"/>
<path d="M3922 600v7M3922 596v18M3922 591v6M3922 618v14" stroke="#999999"/>
<path d="M3922 551h0" stroke="#999999"/>
<path d="M3922.5 629V567H3922.7V629Z" fill="#212121"/>
<path d="M3923 563v9M3923 587v11" stroke="#212121"/>
<path d="M3923 562h0" stroke="#212121"/>
<path d="M3922.7 629V549H3922.9V629Z" fill="#999999"/>
<path d="M3923 562v8M3923 550v7M3923 547v11M3923 596v12" stroke="#999999"/>
<path d="M3923 543h0" stroke="#999999"/>
<path d="M3922.9 629V567H3923.1V629Z" fill="#212121"/>
<path d="M3923 587v11M3923 607v4" stroke="#212121"/>
<path d="M3923 561h0m1-6h0" stroke="#212121"/>
<path d="M3923.1 629V552H3923.3V629Z" fill="#999999"/>
<path d="M3923 594v14M3923 576v5M3923 598v10M3923 585v11" stroke="#999999"/>
<path d="M3923 545h0" stroke="#999999"/>
<path d="M3923.3 629V565H3923.5V629Z" fill="#212121"/>
<path d="M3923 571v5M3923 584v15" stroke="#212121"/>
<path d="M3923 559h0" stroke="#212121"/>
<path d="M3923.5 629V559H3923.7V629Z" fill="#999999"/>
<path d="M3924 566v3M3924 597v7M3924 606v12M3924 570v10" stroke="#999999"/>
<path d="M3924 554h0" stroke="#999999"/>
<path d="M3923.7 629V551H3923.9V629Z" fill="#212121"/>
<path d="M3924 574v11M3924 552v16" stroke="#212121"/>
<path d="M3924 547h0" stroke="#212121"/>
<path d="M3923.9 629V558H3924.1V629Z" fill="#999999"/>
<path d="M3924 570v6M3924 575v4M3924 615v12M3924 558v6" stroke="#999999"/>
<path d="M3924 553h0" stroke="#999999"/>
<path d="M3924.1 629V562H3924.3V629Z" fill="#212121"/>
<path d="M3924 573v11M3924 566v11" stroke="#212121"/>
<path d="M3924 556h0" stroke="#212121"/>
<path d="M3924.3 629V549H3924.5V629Z" fill="#999999"/>
<path d="M3924 583v13M3924 620v4M3924 602v16M3924 557v7" stroke="#999999"/>
<path d="M3924 543h0" stroke="#999999"/>
<path d="M3924.5 629V553H3924.7V629Z" fill="#212121"/>
<path d="M3925 579v4M3925 558v11" stroke="#212121"/>
<path d="M3924 546h0" stroke="#212121"/>
<path d="M3924.7 629V555H3924.9V629Z" fill="#999999"/>
<path d="M3925 588v11M3925 611v7M3925 555v10M3925 569v9" stroke="#999999"/>
<path d="M3925 550h0" stroke="#999999"/>
<path d="M3924.9 629V532H3925.1V629Z" fill="#212121"/>
<path d="M3925 530v4M3925 594v6" stroke="#212121"/>
<path d="M3925 525h0" stroke="#212121"/>
<path d="M3925.1 629V549H3925.2V629Z" fill="#999999"/>
<path d="M3925 605v7M3925 610v13M3925 569v13M3925 614v5" stroke="#999999"/>
<path d="M3925 545h0" stroke="#999999"/>
<path d="M3925.2 629V553H3925.4V629Z" fill="#212121"/>
<path d="M3925 554v6M3925 584v10" stroke="#212121"/>
<path d="M3925 548h0" stroke="#212121"/>
<path d="M3925.4 629V567H3925.6V629Z" fill="#999999"/>
<path d="M3925 602v4M3926 571v10M3925 595v10M3926 619v16" stroke="#999999"/>
<path d="M3925 562h0" stroke="#999999"/>
<path d="M3925.6 629V538H3925.8V629Z" fill="#212121"/>
<path d="M3926 576v11M3926 560v10" stroke="#212121"/>
<path d="M3926 533h0" stroke="#212121"/>
<path d="M3925.8 629V536H3926V629Z" fill="#999999"/>
<path d="M3926 551v10M3926 545v10M3926 598v7M3926 597v7" stroke="#999999"/>
<path d="M3926 532h0m0 0h0" stroke="#999999"/>
<path d="M3926 629V563H3926.2V629Z" fill="#212121"/>
<path d="M3926 570v5M3926 563v15" stroke="#212121"/>
<path d="M3926 559h0" stroke="#212121"/>
<path d="M3926.2 629V570H3926.4V629Z" fill="#999999"/>
<path d="M3926 614v11M3926 607v12M3926 614v12M3926 601v14" stroke="#999999"/>
<path d="M3926 565h0" stroke="#999999"/>
<path d="M3926.4 629V551H3926.6V629Z" fill="#212121"/>
<path d="M3927 547v8M3926 599v16" stroke="#212121"/>
<path d="M3926 546h0" stroke="#212121"/>
<path d="M3926.6 629V559H3926.8V629Z" fill="#999999"/>
<path d="M3927 618v10M3927 596v11M3927 591v8M3927 595v9" stroke="#999999"/>
<path d="M3927 555h0m0-20h0" stroke="#999999"/>
<path d="M3926.8 629V555H3927V629Z" fill="#212121"/>
<path d="M3927 598v3M3927 608v7" stroke="#212121"/>
<path d="M3927 550h0" stroke="#212121"/>
<path d="M3927 629V568H3927.2V629Z" fill="#999999"/>
<path d="M3927 610v4M3927 589v16M3927 619v15M3927 570v17" stroke="#999999"/>
<path d="M3927 564h0" stroke="#999999"/>
<path d="M3927.2 629V563H3927.4V629Z" fill="#212121"/>
<path d="M3927 618v14M3927 607v3" stroke="#212121"/>
<path d="M3927 557h0" stroke="#212121"/>
<path d="M3927.4 629V558H3927.6V629Z" fill="#999999"/>
<path d="M3928 613v7M3927 588v12M3928 580v8M3927 579v5" stroke="#999999"/>
<path d="M3927 554h0" stroke="#999999"/>
<path d="M3927.6 629V555H3927.7V629Z" fill="#212121"/>
<path d="M3928 573v18M3928 614v13" stroke="#212121"/>
<path d="M3928 550h0" stroke="#212121"/>
<path d="M3927.7 629V561H3927.9V629Z" fill="#999999"/>
<path d="M3928 619v3M3928 613v13M3928 591v14M3928 593v10" stroke="#999999"/>
<path d="M3928 555h0" stroke="#999999"/>
<path d="M3927.9 629V569H3928.1V629Z" fill="#212121"/>
<path d="M3928 605v16M3928 598v12" stroke="#212121"/>
<path d="M3928 565h0" stroke="#212121"/>
<path d="M3928.1 629V550H3928.3V629Z" fill="#999999"/>
<path d="M3928 609v6M3928 612v3M3928 565v17M3928 584v6" stroke="#999999"/>
<path d="M3928 545h0m0-4h0" stroke="#999999"/>
<path d="M3928.3 629V566H3928.5V629Z" fill="#212121"/>
<path d="M3928 597v6M3928 596v3" stroke="#212121"/>
<path d="M3928 561h0" stroke="#212121"/>
<path d="M3928.5 629V567H3928.7V629Z" fill="#999999"/>
<path d="M3929 577v12M3929 570v17M3929 598v10M3929 595v8" stroke="#999999"/>
<path d="M3929 561h0" stroke="#999999"/>
<path d="M3928.7 629V551H3928.9V629Z" fill="#212121"/>
<path d="M3929 571v17M3929 575v5" stroke="#212121"/>
<path d="M3929 546h0" stroke="#212121"/>
<path d="M3928.9 629V562H3929.1V629Z" fill="#999999"/>
<path d="M3929 617v5M3929 621v9M3929 584v11M3929 584v9" stroke="#999999"/>
<path d="M3929 558h0" stroke="#999999"/>
<path d="M3929.1 629V553H3929.3V629Z" fill="#212121"/>
<path d="M3929 597v11M3929 597v10" stroke="#212121"/>
<path d="M3929 547h0" stroke="#212121"/>
<path d="M3929.3 629V562H3929.5V629Z" fill="#999999"/>
<path d="M3929 560v6M3929 588v14M3929 585v16M3929 565v16" stroke="#999999"/>
<path d="M3929 557h0" stroke="#999999"/>
<path d="M3929.5 629V558H3929.6V629Z" fill="#212121"/>
<path d="M3930 602v5M3930 587v6" stroke="#212121"/>
<path d="M3929 554h0" stroke="#212121"/>
<path d="M3929.6 629V550H3929.8V629Z" fill="#999999"/>
<path d="M3930 559v6M3930 611v11M3930 585v15M3930 547v6" stroke="#999999"/>
<path d="M3930 544h0" stroke="#999999"/>
<path d="M3929.8 629V550H3930V629Z" fill="#212121"/>
<path d="M3930 571v13M3930 599v11" stroke="#212121"/>
<path d="M3930 544h0" stroke="#212121"/>
<path d="M3930 629V555H3930.2V629Z" fill="#999999"/>
<path d="M3930 582v14M3930 608v9M3930 569v12M3930 596v17" stroke="#999999"/>
<path d="M3930 550h0" stroke="#999999"/>
<path d="M3930.2 629V558H3930.4V629Z" fill="#212121"/>
<path d="M3930 600v15M3930 602v5" stroke="#212121"/>
<path d="M3930 554h0" stroke="#212121"/>
<path d="M3930.4 629V561H3930.6V629Z" fill="#999999"/>
<path d="M3931 561v5M3930 588v12M3931 620v12M3931 575v13" stroke="#999999"/>
<path d="M3930 555h0" stroke="#999999"/>
<path d="M3930.6 629V566H3930.8V629Z" fill="#212121"/>
<path d="M3931 565v15M3931 568v17" stroke="#212121"/>
<path d="M3931 559h0" stroke="#212121"/>
<path d="M3930.8 629V556H3931V629Z" fill="#999999"/>
<path d="M3931 606v11M3931 607v13M3931 563v7M3931 590v13" stroke="#999999"/>
<path d="M3931 551h0" stroke="#999999"/>
<path d="M3931 629V556H3931.2V629Z" fill="#212121"/>
<path d="M3931 606v14M3931 573v15" stroke="#212121"/>
<path d="M3931 552h0" stroke="#212121"/>
<path d="M3931.2 629V570H3931.3V629Z" fill="#999999"/>
<path d="M3931 608v5M3931 570v6M3931 615v15M3931 592v17" stroke="#999999"/>
<path d="M3931 566h0" stroke="#999999"/>
<path d="M3931.3 629V570H3931.5V629Z" fill="#212121"/>
<path d="M3931 571v10M3931 618v15" stroke="#212121"/>
<path d="M3931 564h0" stroke="#212121"/>
<path d="M3931.5 629V561H3931.7V629Z" fill="#999999"/>
<path d="M3932 566v14M3932 598v4M3932 560v3M3932 607v5" stroke="#999999"/>
<path d="M3932 555h0" stroke="#999999"/>
<path d="M3931.7 629V570H3931.9V629Z" fill="#212121"/>
<path d="M3932 592v5M3932 598v6" stroke="#212121"/>
<path d="M3932 564h0m0-73h0" stroke="#212121"/>
<path d="M3931.9 629V555H3932.1V629Z" fill="#999999"/>
<path d="M3932 563v17M3932 571v18M3932 566v12M3932 586v6" stroke="#999999"/>
<path d="M3932 551h0" stroke="#999999"/>
<path d="M3932.1 629V562H3932.3V629Z" fill="#212121"/>
<path d="M3932 590v3M3932 572v17" stroke="#212121"/>
<path d="M3932 558h0" stroke="#212121"/>
<path d="M3932.3 629V551H3932.5V629Z" fill="#999999"/>
<path d="M3932 604v4M3932 555v15M3932 587v9M3932 620v11" stroke="#999999"/>
<path d="M3932 545h0" stroke="#999999"/>
<path d="M3932.5 629V557H3932.7V629Z" fill="#212121"/>
<path d="M3933 553v8M3933 604v10" stroke="#212121"/>
<path d="M3932 551h0" stroke="#212121"/>
<path d="M3932.7 629V552H3932.8V629Z" fill="#999999"/>
<path d="M3933 578v6M3933 617v11M3933 565v9M3933 572v9" stroke="#999999"/>
<path d="M3933 547h0" stroke="#999999"/>
<path d="M3932.8 629V570H3933V629Z" fill="#212121"/>
<path d="M3933 592v16M3933 593v10" stroke="#212121"/>
<path d="M3933 565h0" stroke="#212121"/>
<path d="M3933 629V566H3933.2V629Z" fill="#999999"/>
<path d="M3933 584v4M3933 614v14M3933 601v11M3933 596v15" stroke="#999999"/>
<path d="M3933 561h0" stroke="#999999"/>
<path d="M3933.2 629V569H3933.4V629Z" fill="#212121"/>
<path d="M3933 617v18M3933 604v16" stroke="#212121"/>
<path d="M3933 563h0" stroke="#212121"/>
<path d="M3933.4 629V560H3933.6V629Z" fill="#999999"/>
<path d="M3934 599v13M3934 616v5M3934 561v15M3933 587v12" stroke="#999999"/>
<path d="M3933 556h0" stroke="#999999"/>
<path d="M3933.6 629V560H3933.8V629Z" fill="#212121"/>
<path d="M3934 609v10M3934 577v16" stroke="#212121"/>
<path d="M3934 554h0m0-38h0m1 35h0" stroke="#212121"/>
<path d="M3933.8 629V554H3934V629Z" fill="#999999"/>
<path d="M3934 557v16M3934 617v4M3934 590v10M3934 604v13" stroke="#999999"/>
<path d="M3934 548h0" stroke="#999999"/>
<path d="M3934 629V566H3934.1V629Z" fill="#212121"/>
<path d="M3934 582v8M3934 573v9" stroke="#212121"/>
<path d="M3934 560h0m0-19h0" stroke="#212121"/>
<path d="M3934.1 629V554H3934.3V629Z" fill="#999999"/>
<path d="M3934 601v13M3934 582v16M3934 563v15M3934 579v8" stroke="#999999"/>
<path d="M3934 547h0" stroke="#999999"/>
<path d="M3934.3 629V569H3934.5V629Z" fill="#212121"/>
<path d="M3934 613v5M3934 597v8" stroke="#212121"/>
<path d="M3934 564h0" stroke="#212121"/>
<path d="M3934.5 629V559H3934.7V629Z" fill="#999999"/>
<path d="M3935 556v12M3935 599v10M3935 597v12M3935 569v11" stroke="#999999"/>
<path d="M3935 554h0" stroke="#999999"/>
<path d="M3934.7 629V555H3934.9V629Z" fill="#212121"/>
<path d="M3935 612v13M3935 575v17" stroke="#212121"/>
<path d="M3935 551h0" stroke="#212121"/>
<path d="M3934.9 629V561H3935.1V629Z" fill="#999999"/>
<path d="M3935 587v16M3935 589v17M3935 608v4M3935 579v7" stroke="#999999"/>
<path d="M3935 555h0" stroke="#999999"/>
<path d="M3935.1 629V566H3935.3V629Z" fill="#212121"/>
<path d="M3935 569v15M3935 601v5" stroke="#212121"/>
<path d="M3935 561h0" stroke="#212121"/>
<path d="M3935.3 629V565H3935.4V629Z" fill="#999999"/>
<path d="M3935 571v12M3935 591v5M3935 587v13M3935 560v7" stroke="#999999"/>
<path d="M3935 559h0" stroke="#999999"/>
<path d="M3935.4 629V560H3935.6V629Z" fill="#212121"/>
<path d="M3936 570v17M3936 587v11" stroke="#212121"/>
<path d="M3935 554h0m0-18h0" stroke="#212121"/>
<path d="M3935.6 629V565H3935.8V629Z" fill="#999999"/>
<path d="M3936 600v10M3936 574v6M3936 601v10M3936 577v4" stroke="#999999"/>
<path d="M3936 559h0" stroke="#999999"/>
<path d="M3935.8 629V550H3936V629Z" fill="#212121"/>
<path d="M3936 565v3M3936 611v13" stroke="#212121"/>
<path d="M3936 545h0" stroke="#212121"/>
<path d="M3936 629V566H3936.2V629Z" fill="#999999"/>
<path d="M3936 620v9M3936 584v4M3936 586v9M3936 580v9" stroke="#999999"/>
<path d="M3936 562h0" stroke="#999999"/>
<path d="M3936.2 629V556H3936.4V629Z" fill="#212121"/>
<path d="M3936 553v17M3936 561v11" stroke="#212121"/>
<path d="M3936 552h0" stroke="#212121"/>
<path d="M3936.4 629V563H3936.5V629Z" fill="#999999"/>
<path d="M3937 582v15M3937 569v14M3937 575v3M3936 577v12" stroke="#999999"/>
<path d="M3936 557h0" stroke="#999999"/>
<path d="M3936.5 629V553H3936.7V629Z" fill="#212121"/>
<path d="M3937 591v17M3937 574v4" stroke="#212121"/>
<path d="M3937 548h0" stroke="#212121"/>
<path d="M3936.7 629V557H3936.9V629Z" fill="#999999"/>
<path d="M3937 619v17M3937 561v13M3937 579v7M3937 554v15" stroke="#999999"/>
<path d="M3937 551h0" stroke="#999999"/>
<path d="M3936.9 629V567H3937.1V629Z" fill="#212121"/>
<path d="M3937 563v14M3937 588v16" stroke="#212121"/>
<path d="M3937 562h0" stroke="#212121"/>
<path d="M3937.1 629V567H3937.3V629Z" fill="#999999"/>
<path d="M3937 617v17M3937 575v9M3937 613v4M3937 618v5" stroke="#999999"/>
<path d="M3937 562h0" stroke="#999999"/>
<path d="M3937.3 629V556H3937.5V629Z" fill="#212121"/>
<path d="M3937 602v15M3937 597v10" stroke="#212121"/>
<path d="M3937 552h0" stroke="#212121"/>
<path d="M3937.5 629V564H3937.6V629Z" fill="#999999"/>
<path d="M3937 601v9M3938 574v10M3938 591v7M3938 620v13" stroke="#999999"/>
<path d="M3937 560h0" stroke="#999999"/>
<path d="M3937.6 629V570H3937.8V629Z" fill="#212121"/>
<path d="M3938 597v8M3938 591v7" stroke="#212121"/>
<path d="M3938 563h0" stroke="#212121"/>
<path d="M3937.8 629V568H3938V629Z" fill="#999999"/>
<path d="M3938 580v7M3938 587v7M3938 586v16M3938 597v9" stroke="#999999"/>
<path d="M3938 561h0" stroke="#999999"/>
<path d="M3938 629V560H3938.2V629Z" fill="#212121"/>
<path d="M3938 589v10M3938 616v16" stroke="#212121"/>
<path d="M3938 555h0" stroke="#212121"/>
<path d="M3938.2 629V565H3938.4V629Z" fill="#999999"/>
<path d="M3938 607v15M3938 593v17M3938 600v14M3938 620v3" stroke="#999999"/>
<path d="M3938 561h0" stroke="#999999"/>
<path d="M3938.4 629V565H3938.6V629Z" fill="#212121"/>
<path d="M3939 605v16M3939 566v6" stroke="#212121"/>
<path d="M3938 559h0" stroke="#212121"/>
<path d="M3938.6 629V550H3938.7V629Z" fill="#999999"/>
<path d="M3939 557v6M3939 549v8M3939 550v8M3939 558v16" stroke="#999999"/>
<path d="M3939 546h0m0-13h0" stroke="#999999"/>
<path d="M3938.7 629V559H3938.9V629Z" fill="#212121"/>
<path d="M3939 617v3M3939 597v16" stroke="#212121"/>
<path d="M3939 555h0" stroke="#212121"/>
<path d="M3938.9 629V564H3939.1V629Z" fill="#999999"/>
<path d="M3939 562v9M3939 611v5M3939 585v6M3939 566v7" stroke="#999999"/>
<path d="M3939 559h0m0-5h0m1-9h0" stroke="#999999"/>
<path d="M3939.1 629V553H3939.3V629Z" fill="#212121"/>
<path d="M3939 556v7M3939 552v8" stroke="#212121"/>
<path d="M3939 546h0m0-12h0" stroke="#212121"/>
<path d="M3939.3 629V566H3939.5V629Z" fill="#999999"/>
<path d="M3939 589v4M3939 576v7M3939 565v7M3939 564v5" stroke="#999999"/>
<path d="M3939 559h0" stroke="#999999"/>
<path d="M3939.5 629V565H3939.6V629Z" fill="#212121"/>
<path d="M3940 584v10M3940 570v15" stroke="#212121"/>
<path d="M3939 560h0" stroke="#212121"/>
<path d="M3939.6 629V551H3939.8V629Z" fill="#999999"/>
<path d="M3940 613v14M3940 548v3M3940 563v15M3940 550v6" stroke="#999999"/>
<path d="M3940 547h0" stroke="#999999"/>
<path d="M3939.8 629V551H3940V629Z" fill="#212121"/>
<path d="M3940 604v9M3940 597v6" stroke="#212121"/>
<path d="M3940 545h0" stroke="#212121"/>
<path d="M3940 629V555H3940.2V629Z" fill="#999999"/>
<path d="M3940 572v7M3940 612v10M3940 583v11M3940 579v12" stroke="#999999"/>
<path d="M3940 550h0" stroke="#999999"/>
<path d="M3940.2 629V555H3940.3V629Z" fill="#212121"/>
<path d="M3940 559v5M3940 566v13" stroke="#212121"/>
<path d="M3940 550h0" stroke="#212121"/>
<path d="M3940.2 629V550H3940.3V629Z" fill="#999999"/>
<path d="M3940 588v7M3940 569v5M3940 585v17M3940 563v16" stroke="#999999"/>
<path d="M3940 545h0" stroke="#999999"/>
<path d="M3940.2 629V567H3940.3V629Z" fill="#212121"/>
<path d="M3940 614v18M3940 620v4" stroke="#212121"/>
<path d="M3940 562h0" stroke="#212121"/>
<path d="M3940.2 629V566H3940.3V629Z" fill="#999999"/>
<path d="M3940 609v7M3940 570v5M3940 575v5M3940 580v13" stroke="#999999"/>
<path d="M3940 560h0" stroke="#999999"/>
<path d="M3940.2 629V567H3940.3V629Z" fill="#212121"/>
<path d="M3940 609v11M3940 564v12" stroke="#212121"/>
<path d="M3940 562h0" stroke="#212121"/>
<path d="M3941 528h0m0 6h0m0 6h0m0 5h0m0 14h0m1 8h0m-1 8h0m0 13h0m0 29h0" stroke="#999999"/>
<path d="M3942 552h0m-1 30h0m0 11h0m1 8h0m0 8h0m-1 15h0" stroke="#212121"/>
<path d="M2846 525h0m0 3h0m0 3h0m0 4h0m0 3h0m0 3h0m0 2h0" stroke="#212121"/>
<path d="M2861 528h0m-1 3h0m1 3h0m1 4h0m-1 3h0m0 3h0m0 1h0" stroke="#212121"/>
<path d="M2870 512h0m1 3h0m-1 3h0m1 4h0m-1 3h0m1 3h0m0 3h0m0 3h0m0 4h0m0 2h0" stroke="#999999"/>
<path d="M2879 481h0" stroke="#212121"/>
<path d="M2881 486h0" stroke="#212121"/>
<path d="M2879 490h0" stroke="#212121"/>
<path d="M2883 508h0m0 4h0m0 3h0m0 3h0m0 3h0m-1 4h0m1 3h0m0 3h0m-1 3h0m1 3h0m0 3h0" stroke="#212121"/>
<path d="M2889 514h0m-2 3h0m1 3h0m0 4h0m0 3h0m0 3h0m1 3h0m-1 3h0m0 4h0m0 0h0" stroke="#999999"/>
<path d="M2902 522h0m0 3h0m0 3h0m0 4h0m0 3h0m-1 3h0m1 2h0" stroke="#212121"/>
<path d="M2910 514h0m0 3h0m0 3h0m0 4h0m0 3h0m0 3h0m0 3h0m1 3h0m-1 4h0m0 0h0" stroke="#999999"/>
<path d="M2919 426h0" stroke="#212121"/>
<path d="M2920 441h0" stroke="#212121"/>
<path d="M2924 441h0" stroke="#212121"/>
<path d="M2916 454h0" stroke="#212121"/>
<path d="M2924 457h0" stroke="#212121"/>
<path d="M2919 474h0" stroke="#212121"/>
<path d="M2914 494h0m0 3h0m0 3h0m0 4h0m0 3h0m0 3h0m1 3h0m-1 3h0m-1 4h0m1 3h0m0 3h0m1 3h0m-1 3h0m0 4h0m-1 3h0m1 1h0" stroke="#212121"/>
<path d="M2917 487h0m0 3h0m0 3h0m0 4h0m0 3h0m0 3h0m1 3h0m-1 3h0m1 4h0m-1 3h0m0 3h0m0 3h0m0 3h0m-1 4h0m1 3h0m1 3h0m0 3h0m-1 2h0" stroke="#212121"/>
<path d="M2919 492h0m1 3h0m0 3h0m1 4h0m0 3h0m-1 3h0m1 3h0m-2 3h0m1 4h0m0 3h0m0 3h0m0 3h0m1 3h0m0 4h0m-1 3h0m-1 3h0" stroke="#212121"/>
<path d="M2924 488h0m-2 3h0m1 3h0m0 4h0m0 3h0m0 3h0m0 3h0m-1 3h0m1 4h0m0 3h0m0 3h0m0 3h0m0 3h0m-1 4h0m1 3h0m0 3h0m0 3h0m0 1h0" stroke="#212121"/>
<path d="M2927 499h0m-1 3h0m0 3h0m-1 4h0m0 3h0m0 3h0m1 3h0m-1 3h0m1 4h0m1 3h0m-1 3h0m1 3h0m-1 3h0m0 3h0" stroke="#212121"/>
<path d="M2942 469h0" stroke="#212121"/>
<path d="M2932 500h0m1 3h0m0 3h0m0 4h0m0 3h0m-1 3h0m1 3h0m0 3h0m0 4h0m0 3h0m0 3h0m0 3h0m1 3h0m-2 4h0m1 3h0m0 0h0" stroke="#212121"/>
<path d="M2935 491h0m1 3h0m0 3h0m0 4h0m0 3h0m1 3h0m-1 3h0m0 3h0m1 4h0m-1 3h0m1 3h0m-1 3h0m0 3h0m0 4h0m1 3h0m-1 3h0m0 3h0m0 3h0" stroke="#212121"/>
<path d="M2940 497h0m-2 3h0m2 3h0m-2 4h0m1 3h0m0 3h0m1 3h0m-2 3h0m1 4h0m1 3h0m-2 3h0m1 3h0m0 3h0m0 4h0m0 3h0m0 3h0" stroke="#212121"/>
<path d="M2944 506h0m0 3h0m-2 3h0m1 4h0m-1 3h0m0 3h0m0 3h0m1 3h0m1 4h0m-1 3h0m1 3h0m-2 3h0m1 3h0m0 1h0" stroke="#212121"/>
<path d="M2937 480h0" stroke="#212121"/>
<path d="M2952 539h0m0 3h0m0 3h0m0 4h0m0 1h0" stroke="#212121"/>
<path d="M2967 476h0" stroke="#999999"/>
<path d="M2965 483h0" stroke="#999999"/>
<path d="M2959 495h0m-1 3h0m-1 3h0m0 4h0m1 3h0m0 3h0m-1 3h0m2 3h0m-1 4h0m0 3h0m0 3h0m-1 3h0m2 3h0m-1 4h0m0 3h0m0 0h0" stroke="#999999"/>
<path d="M2963 489h0m0 3h0m0 3h0m-1 4h0m2 3h0m-2 3h0m1 3h0m-1 3h0m1 4h0m1 3h0m-2 3h0m1 3h0m1 3h0m-1 4h0m-1 3h0m2 3h0m-1 3h0" stroke="#999999"/>
<path d="M2967 489h0m2 3h0m-1 3h0m0 4h0m-1 3h0m1 3h0m0 3h0m-1 3h0m1 4h0m1 3h0m0 3h0m-1 3h0m0 3h0m0 4h0m-1 3h0m1 3h0m0 3h0" stroke="#999999"/>
<path d="M2975 467h0" stroke="#212121"/>
<path d="M2975 480h0" stroke="#212121"/>
<path d="M2972 512h0m0 3h0m-1 3h0m0 4h0m0 3h0m1 3h0m0 2h0" stroke="#212121"/>
<path d="M2986 534h0m1 3h0m0 3h0m0 4h0m0 1h0" stroke="#212121"/>
<path d="M3002 492h0" stroke="#212121"/>
<path d="M3004 512h0m-1 3h0m0 3h0m0 4h0m0 3h0m0 3h0m0 3h0m0 3h0m0 4h0m0 2h0" stroke="#212121"/>
<path d="M3008 508h0m-1 3h0m1 3h0m0 4h0m0 3h0m0 3h0m0 3h0m0 3h0m0 4h0m1 3h0m0 3h0" stroke="#212121"/>
<path d="M3013 515h0m0 3h0m1 3h0m-1 4h0m-1 3h0m1 3h0m0 3h0m0 3h0m0 3h0" stroke="#212121"/>
<path d="M3022 520h0" stroke="#212121"/>
<path d="M3028 462h0m0 3h0m0 3h0m0 4h0m0 3h0m-1 3h0m2 3h0m-1 3h0m-1 4h0m0 3h0m1 3h0m0 3h0m0 3h0m0 4h0m0 3h0m-1 3h0m1 2h0" stroke="#999999"/>
<path d="M3040 470h0m0 3h0m0 3h0m0 4h0m0 3h0m1 3h0m-1 3h0m0 3h0m0 4h0m0 3h0m0 1h0" stroke="#999999"/>
<path d="M3041 498h0" stroke="#999999"/>
<path d="M3050 445h0" stroke="#212121"/>
<path d="M3050 459h0" stroke="#212121"/>
<path d="M3051 512h0" stroke="#999999"/>
<path d="M3063 505h0" stroke="#212121"/>
<path d="M3071 459h0" stroke="#999999"/>
<path d="M3076 523h0" stroke="#212121"/>
<path d="M3098 480h0" stroke="#999999"/>
<path d="M3097 497h0m1 3h0m0 3h0m0 4h0m0 3h0m-1 3h0m1 3h0m0 3h0m-1 4h0m1 3h0m0 3h0m0 1h0" stroke="#999999"/>
<path d="M3102 478h0" stroke="#999999"/>
<path d="M3106 502h0" stroke="#212121"/>
<path d="M3116 505h0" stroke="#212121"/>
<path d="M3116 472h0" stroke="#212121"/>
<path d="M3126 459h0" stroke="#212121"/>
<path d="M3128 458h0" stroke="#212121"/>
<path d="M3116 473h0" stroke="#212121"/>
<path d="M3142 304h0" stroke="#999999"/>
<path d="M3142 313h0" stroke="#999999"/>
<path d="M3142 327h0" stroke="#999999"/>
<path d="M3142 339h0m0 3h0m1 3h0m-1 1h0" stroke="#999999"/>
<path d="M3142 357h0" stroke="#999999"/>
<path d="M3142 367h0" stroke="#999999"/>
<path d="M3142 377h0" stroke="#999999"/>
<path d="M3142 385h0" stroke="#999999"/>
<path d="M3142 398h0m1 3h0m0 3h0m-1 4h0m1 3h0m0 3h0m-1 3h0m0 3h0m0 4h0m0 3h0m1 3h0m0 3h0m-1 3h0m1 4h0m0 3h0m0 3h0m-1 3h0m1 3h0m0 4h0m-1 3h0m1 3h0m-1 3h0m1 3h0m0 4h0m-1 3h0m0 3h0m1 3h0m0 3h0m-1 4h0m0 3h0m1 3h0m-1 3h0m0 3h0m1 4h0m0 3h0m0 3h0m0 3h0m-1 3h0m0 4h0m1 3h0m-1 3h0m0 3h0m0 3h0m1 4h0m0 3h0m-1 1h0" stroke="#999999"/>
<path d="M3152 485h0" stroke="#212121"/>
<path d="M3162 483h0" stroke="#212121"/>
<path d="M3171 515h0" stroke="#212121"/>
<path d="M3166 499h0" stroke="#999999"/>
<path d="M3203 498h0" stroke="#999999"/>
<path d="M3223 509h0m0 3h0m0 3h0m0 4h0m0 3h0m0 3h0" stroke="#999999"/>
<path d="M3208 516h0" stroke="#212121"/>
<path d="M3242 454h0m-1 4h0m0 3h0m0 3h0m0 3h0m0 3h0m1 4h0m0 3h0m0 3h0m0 3h0m-1 3h0m1 4h0m-1 3h0m1 3h0m0 3h0m0 3h0m-1 4h0m1 3h0m-1 3h0m1 3h0m-1 3h0m1 4h0m-1 3h0m1 3h0m-1 3h0m0 4h0m0 3h0m1 2h0" stroke="#212121"/>
<path d="M3244 445h0" stroke="#999999"/>
<path d="M3259 489h0m-1 3h0m0 3h0m0 4h0m1 3h0m-1 3h0m1 3h0m-2 3h0m1 4h0m0 3h0m-1 3h0m1 3h0m0 3h0" stroke="#212121"/>
<path d="M3274 472h0" stroke="#999999"/>
<path d="M3274 480h0" stroke="#999999"/>
<path d="M3305 443h0" stroke="#212121"/>
<path d="M3305 484h0" stroke="#212121"/>
<path d="M3305 504h0" stroke="#212121"/>
<path d="M3330 426h0m1 3h0m-1 3h0m0 4h0m1 3h0m0 3h0m0 3h0m-1 3h0m1 4h0m1 3h0m-2 3h0m0 3h0m0 3h0m1 4h0m0 3h0m-1 3h0m1 3h0m0 3h0m-1 4h0m1 3h0m1 3h0m-1 3h0m-1 3h0m0 4h0m1 3h0m0 3h0m0 3h0m0 3h0m0 4h0m0 0h0" stroke="#212121"/>
<path d="M3350 420h0" stroke="#999999"/>
<path d="M3350 474h0" stroke="#999999"/>
<path d="M3364 464h0" stroke="#999999"/>
<path d="M3352 490h0" stroke="#999999"/>
<path d="M3392 482h0" stroke="#212121"/>
<path d="M3392 491h0" stroke="#212121"/>
<path d="M3426 423h0" stroke="#212121"/>
<path d="M3426 454h0m-1 3h0m1 3h0m0 3h0" stroke="#212121"/>
<path d="M3426 483h0m-1 3h0m1 3h0m0 4h0m0 3h0m0 3h0m0 3h0m0 3h0m0 4h0m0 3h0m1 3h0m-1 0h0" stroke="#212121"/>
<path d="M3432 470h0" stroke="#999999"/>
<path d="M3449 458h0" stroke="#999999"/>
<path d="M3461 420h0m1 3h0m-1 3h0m1 3h0m-1 3h0m1 4h0m-1 3h0m0 3h0m0 3h0m0 3h0m0 4h0m0 3h0m0 3h0m0 3h0m1 3h0m0 4h0m0 3h0m-1 3h0m0 3h0m1 3h0m-1 4h0m0 3h0m0 3h0m0 3h0m0 3h0m0 4h0m0 3h0m1 3h0m0 3h0m-1 3h0m1 4h0m0 0h0" stroke="#999999"/>
<path d="M3470 489h0" stroke="#212121"/>
<path d="M3500 436h0" stroke="#999999"/>
<path d="M3499 466h0m2 3h0m-1 3h0m-1 4h0m1 3h0m0 3h0m-1 3h0m1 3h0m0 4h0m-1 3h0m0 3h0m1 0h0" stroke="#999999"/>
<path d="M3515 470h0" stroke="#999999"/>
<path d="M3500 470h0" stroke="#212121"/>
<path d="M3549 238h0" stroke="#999999"/>
<path d="M3549 277h0" stroke="#999999"/>
<path d="M3549 287h0" stroke="#999999"/>
<path d="M3549 294h0" stroke="#999999"/>
<path d="M3549 301h0" stroke="#999999"/>
<path d="M3548 325h0m0 3h0m1 3h0m1 4h0m-1 3h0m1 3h0m-1 3h0m0 3h0m-1 4h0m1 3h0m0 3h0m0 3h0m-1 3h0m2 4h0m0 3h0m0 3h0m0 3h0m-1 3h0m1 4h0m-1 3h0m0 3h0m0 3h0m0 3h0m0 4h0m0 3h0m-1 3h0m0 3h0m2 3h0m0 4h0m-2 3h0m2 3h0m-1 3h0m-1 3h0m1 4h0m1 3h0m0 3h0m-2 3h0m1 3h0m0 4h0m0 3h0m1 3h0m-1 3h0m0 3h0m0 4h0m1 3h0m-1 3h0m0 3h0m0 3h0m0 4h0m1 3h0m-2 3h0m0 3h0m1 3h0m0 4h0m0 3h0m0 3h0m0 3h0m0 3h0m1 4h0m0 3h0m0 3h0m-1 3h0m0 3h0m0 4h0m0 3h0m0 0h0" stroke="#999999"/>
<path d="M3550 468h0" stroke="#212121"/>
<path d="M3513 436h0" stroke="#999999"/>
<path d="M3513 464h0" stroke="#999999"/>
<path d="M3516 474h0" stroke="#999999"/>
<path d="M3502 468h0" stroke="#999999"/>
<path d="M3571 476h0" stroke="#999999"/>
<path d="M3582 473h0" stroke="#212121"/>
<path d="M3574 477h0" stroke="#999999"/>
<path d="M3582 490h0" stroke="#212121"/>
<path d="M3608 464h0" stroke="#999999"/>
<path d="M3610 495h0" stroke="#212121"/>
<path d="M3626 391h0" stroke="#999999"/>
<path d="M3626 473h0" stroke="#999999"/>
<path d="M3621 483h0" stroke="#212121"/>
<path d="M3635 483h0" stroke="#212121"/>
<path d="M3650 470h0" stroke="#999999"/>
<path d="M3673 414h0m0 3h0m1 3h0m-1 4h0m1 3h0m-1 3h0m1 0h0" stroke="#999999"/>
<path d="M3674 451h0" stroke="#999999"/>
<path d="M3674 472h0" stroke="#999999"/>
<path d="M3673 489h0m1 3h0m0 3h0m0 4h0m0 2h0" stroke="#999999"/>
<path d="M3674 411h0" stroke="#212121"/>
<path d="M3698 398h0m-1 3h0m0 3h0m0 4h0m0 3h0m0 3h0m1 3h0m-1 3h0m1 4h0m-1 3h0m0 3h0m0 3h0m0 3h0m-1 4h0m1 3h0m0 2h0" stroke="#212121"/>
<path d="M3697 452h0" stroke="#212121"/>
<path d="M3697 462h0m0 3h0m0 3h0" stroke="#212121"/>
<path d="M3697 476h0m0 3h0m1 3h0m-1 4h0m-1 3h0m1 3h0m1 3h0m-1 3h0m1 4h0m-2 3h0m0 3h0m1 3h0m0 3h0m0 2h0" stroke="#212121"/>
<path d="M3715 492h0" stroke="#999999"/>
<path d="M3736 477h0" stroke="#212121"/>
<path d="M3777 480h0" stroke="#212121"/>
<path d="M3778 480h0" stroke="#212121"/>
<path d="M3784 499h0" stroke="#999999"/>
<path d="M3804 262h0" stroke="#999999"/>
<path d="M3804 293h0" stroke="#999999"/>
<path d="M3804 298h0" stroke="#999999"/>
<path d="M3804 316h0" stroke="#999999"/>
<path d="M3805 327h0m-1 3h0m-1 3h0m0 3h0m1 3h0m-1 4h0m2 3h0m-1 3h0m0 3h0m-1 3h0m1 2h0" stroke="#999999"/>
<path d="M3804 376h0m0 3h0m0 3h0m0 4h0m0 3h0m1 3h0m0 3h0m-2 3h0m0 4h0m1 3h0m0 3h0m0 3h0m0 3h0" stroke="#999999"/>
<path d="M3803 430h0m2 4h0m-1 3h0m0 3h0m-1 3h0m1 3h0m-1 4h0m0 3h0m1 3h0" stroke="#999999"/>
<path d="M3804 471h0m-1 3h0m1 3h0m1 3h0m-1 3h0m-1 4h0m1 3h0m0 3h0m-1 3h0m0 3h0m0 4h0m1 3h0m0 3h0m0 3h0m-1 3h0m1 4h0m0 3h0m0 3h0m0 3h0m0 2h0" stroke="#999999"/>
<path d="M3814 368h0" stroke="#212121"/>
<path d="M3814 379h0" stroke="#212121"/>
<path d="M3815 404h0m-1 4h0m0 3h0m0 3h0m0 3h0m0 3h0m0 4h0m0 3h0m0 3h0m0 3h0m0 3h0m0 4h0m0 3h0m0 3h0m0 3h0m0 3h0" stroke="#212121"/>
<path d="M3815 470h0m-1 3h0m0 3h0m0 4h0m-1 3h0m2 3h0m-1 3h0m1 3h0m-1 4h0m0 3h0m1 3h0m-1 3h0m1 3h0m-1 4h0m1 3h0m-1 3h0m1 3h0m-1 3h0m1 4h0m-1 2h0" stroke="#212121"/>
<path d="M3846 462h0" stroke="#212121"/>
<path d="M3845 483h0" stroke="#212121"/>
<path d="M3845 500h0" stroke="#212121"/>
<path d="M3862 471h0" stroke="#212121"/>
<path d="M3889 492h0" stroke="#999999"/>
<path d="M3902 419h0" stroke="#212121"/>
<path d="M3918 430h0" stroke="#212121"/>
<path d="M3927 434h0" stroke="#212121"/>
<path d="M3906 460h0" stroke="#212121"/>
<path d="M3906 483h0" stroke="#212121"/>
<path d="M3912 457h0" stroke="#999999"/>
<path d="M3940 448h0" stroke="#999999"/>
<path d="M3926 505h0m2 3h0m-1 3h0m0 4h0m-1 3h0m1 3h0m0 3h0m-1 3h0m1 3h0" stroke="#212121"/>
</g>
<path d="M183 78.1 V625.8M148.1 625.8H183M148.1 516.3H183M148.1 406.7H183M148.1 297.2H183M148.1 187.6H183M148.1 78.1H183" stroke="#000" stroke-width="3.9" stroke-linecap="round" stroke-linejoin="round" fill="none"/>
<g><text x="112.8" y="647.9" text-anchor="end" transform="matrix(0.967 0 0 1.035 3.7 -22.7)">0.0</text><text x="112.8" y="538.4" text-anchor="end" transform="matrix(0.967 0 0 1.035 3.7 -18.8)">0.2</text><text x="112.8" y="428.8" text-anchor="end" transform="matrix(0.967 0 0 1.035 3.7 -15)">0.4</text><text x="112.8" y="319.3" text-anchor="end" transform="matrix(0.967 0 0 1.035 3.7 -11.2)">0.6</text><text x="112.8" y="209.7" text-anchor="end" transform="matrix(0.967 0 0 1.035 3.7 -7.3)">0.8</text><text x="112.8" y="100.2" text-anchor="end" transform="matrix(0.967 0 0 1.035 3.7 -3.5)">1.0</text></g>
<g transform="translate(0 752) scale(1 1.03) translate(0 -752)"><text x="332.8" y="752" text-anchor="middle">1</text><text x="487.8" y="752" text-anchor="middle">3</text><text x="621.9" y="752" text-anchor="middle">5</text><text x="745.2" y="752" text-anchor="middle">7</text><text x="859.5" y="752" text-anchor="middle">9</text><text x="962.3" y="752" text-anchor="middle">11</text><text x="1107.8" y="752" text-anchor="middle">14</text><text x="1239.8" y="752" text-anchor="middle">17</text><text x="1360.6" y="752" text-anchor="middle">20</text><text x="1511.2" y="752" text-anchor="middle">24</text><text x="1647.8" y="752" text-anchor="middle">28</text><text x="1777.3" y="752" text-anchor="middle">32</text><text x="1892.9" y="752" text-anchor="middle">36</text><text x="2018.9" y="752" text-anchor="middle">41</text><text x="2137.3" y="752" text-anchor="middle">46</text><text x="2267.1" y="752" text-anchor="middle">52</text><text x="2387" y="752" text-anchor="middle">58</text><text x="2511.5" y="752" text-anchor="middle">65</text><text x="2631.1" y="752" text-anchor="middle">73</text><text x="2749.4" y="752" text-anchor="middle">83</text><text x="2863.6" y="752" text-anchor="middle">94</text><text x="2998.2" y="752" text-anchor="middle">109</text><text x="3141.8" y="752" text-anchor="middle">131</text><text x="3294.5" y="752" text-anchor="middle">166</text><text x="3438.1" y="752" text-anchor="middle">217</text><text x="3584.7" y="752" text-anchor="middle">300</text><text x="3730.7" y="752" text-anchor="middle">452</text><text x="3876.6" y="752" text-anchor="middle">987</text></g>
<text x="2116.5" y="891.8" text-anchor="middle" transform="translate(2116.5 0) scale(0.98 1) translate(-2116.5 0)">Chromosome</text>
</svg></body></html>
